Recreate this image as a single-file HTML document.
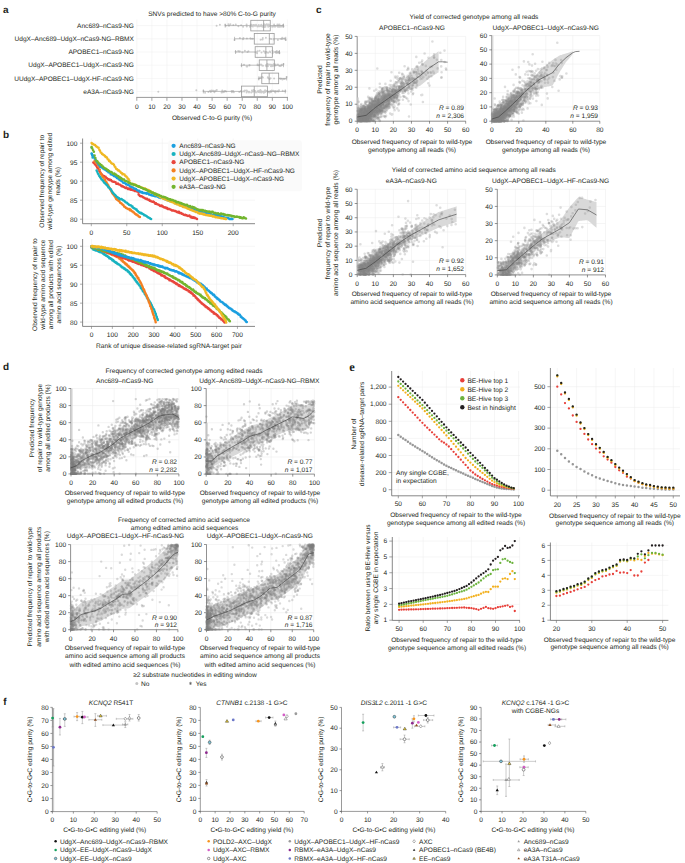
<!DOCTYPE html>
<html><head><meta charset="utf-8"><style>
html,body{margin:0;padding:0;background:#fff;}
svg{display:block;}
</style></head><body>
<svg width="685" height="863" viewBox="0 0 685 863">
<rect width="685" height="863" fill="#fff"/>
<g font-family="'Liberation Sans', sans-serif" font-size="6.6" fill="#231f20" text-rendering="geometricPrecision">
<text x="3.00" y="13.20" font-weight="bold" font-size="10">a</text>
<line x1="136.80" y1="19.40" x2="136.80" y2="97.40" stroke="#eeeeee" stroke-width="0.5"/>
<line x1="151.86" y1="19.40" x2="151.86" y2="97.40" stroke="#eeeeee" stroke-width="0.5"/>
<line x1="166.92" y1="19.40" x2="166.92" y2="97.40" stroke="#eeeeee" stroke-width="0.5"/>
<line x1="181.98" y1="19.40" x2="181.98" y2="97.40" stroke="#eeeeee" stroke-width="0.5"/>
<line x1="197.04" y1="19.40" x2="197.04" y2="97.40" stroke="#eeeeee" stroke-width="0.5"/>
<line x1="212.10" y1="19.40" x2="212.10" y2="97.40" stroke="#eeeeee" stroke-width="0.5"/>
<line x1="227.16" y1="19.40" x2="227.16" y2="97.40" stroke="#eeeeee" stroke-width="0.5"/>
<line x1="242.22" y1="19.40" x2="242.22" y2="97.40" stroke="#eeeeee" stroke-width="0.5"/>
<line x1="257.28" y1="19.40" x2="257.28" y2="97.40" stroke="#eeeeee" stroke-width="0.5"/>
<line x1="272.34" y1="19.40" x2="272.34" y2="97.40" stroke="#eeeeee" stroke-width="0.5"/>
<line x1="287.40" y1="19.40" x2="287.40" y2="97.40" stroke="#eeeeee" stroke-width="0.5"/>
<line x1="136.80" y1="25.60" x2="288.00" y2="25.60" stroke="#eeeeee" stroke-width="0.5"/>
<line x1="136.80" y1="38.80" x2="288.00" y2="38.80" stroke="#eeeeee" stroke-width="0.5"/>
<line x1="136.80" y1="52.00" x2="288.00" y2="52.00" stroke="#eeeeee" stroke-width="0.5"/>
<line x1="136.80" y1="65.20" x2="288.00" y2="65.20" stroke="#eeeeee" stroke-width="0.5"/>
<line x1="136.80" y1="78.40" x2="288.00" y2="78.40" stroke="#eeeeee" stroke-width="0.5"/>
<line x1="136.80" y1="91.40" x2="288.00" y2="91.40" stroke="#eeeeee" stroke-width="0.5"/>
<line x1="136.30" y1="97.40" x2="288.00" y2="97.40" stroke="#9a9a9a" stroke-width="1.0"/>
<line x1="136.80" y1="97.40" x2="136.80" y2="100.80" stroke="#9a9a9a" stroke-width="0.9"/>
<text x="136.80" y="108.64" text-anchor="middle">0</text>
<line x1="151.86" y1="97.40" x2="151.86" y2="100.80" stroke="#9a9a9a" stroke-width="0.9"/>
<text x="151.86" y="108.64" text-anchor="middle">10</text>
<line x1="166.92" y1="97.40" x2="166.92" y2="100.80" stroke="#9a9a9a" stroke-width="0.9"/>
<text x="166.92" y="108.64" text-anchor="middle">20</text>
<line x1="181.98" y1="97.40" x2="181.98" y2="100.80" stroke="#9a9a9a" stroke-width="0.9"/>
<text x="181.98" y="108.64" text-anchor="middle">30</text>
<line x1="197.04" y1="97.40" x2="197.04" y2="100.80" stroke="#9a9a9a" stroke-width="0.9"/>
<text x="197.04" y="108.64" text-anchor="middle">40</text>
<line x1="212.10" y1="97.40" x2="212.10" y2="100.80" stroke="#9a9a9a" stroke-width="0.9"/>
<text x="212.10" y="108.64" text-anchor="middle">50</text>
<line x1="227.16" y1="97.40" x2="227.16" y2="100.80" stroke="#9a9a9a" stroke-width="0.9"/>
<text x="227.16" y="108.64" text-anchor="middle">60</text>
<line x1="242.22" y1="97.40" x2="242.22" y2="100.80" stroke="#9a9a9a" stroke-width="0.9"/>
<text x="242.22" y="108.64" text-anchor="middle">70</text>
<line x1="257.28" y1="97.40" x2="257.28" y2="100.80" stroke="#9a9a9a" stroke-width="0.9"/>
<text x="257.28" y="108.64" text-anchor="middle">80</text>
<line x1="272.34" y1="97.40" x2="272.34" y2="100.80" stroke="#9a9a9a" stroke-width="0.9"/>
<text x="272.34" y="108.64" text-anchor="middle">90</text>
<line x1="287.40" y1="97.40" x2="287.40" y2="100.80" stroke="#9a9a9a" stroke-width="0.9"/>
<text x="287.40" y="108.64" text-anchor="middle">100</text>
<text x="212.00" y="15.84" text-anchor="middle">SNVs predicted to have &gt;80% C-to-G purity</text>
<text x="212.00" y="120.04" text-anchor="middle">Observed C-to-G purity (%)</text>
<text x="133.90" y="27.83" text-anchor="end" font-size="6.55">Anc689–nCas9-NG</text>
<text x="133.90" y="41.03" text-anchor="end" font-size="6.55">UdgX–Anc689–UdgX–nCas9-NG–RBMX</text>
<text x="133.90" y="54.23" text-anchor="end" font-size="6.55">APOBEC1–nCas9-NG</text>
<text x="133.90" y="67.43" text-anchor="end" font-size="6.55">UdgX–APOBEC1–UdgX–nCas9-NG</text>
<text x="133.90" y="80.63" text-anchor="end" font-size="6.55">UUdgX–APOBEC1–UdgX-HF-nCas9-NG</text>
<text x="133.90" y="93.63" text-anchor="end" font-size="6.55">eA3A–nCas9-NG</text>
<path d="M264.8 24.9h0M256.7 25.6h0M252.6 25.9h0M257.5 26.5h0M261.3 24.7h0M264.1 24.3h0M267.9 24.5h0M263.8 25.6h0M261.7 25.9h0M254.7 25.8h0M283.1 25.1h0M264.3 26.9h0M282.1 25.8h0M251.6 25.3h0M267.9 25.7h0M259.0 26.2h0M277.3 26.0h0M233.3 25.0h0M246.6 24.5h0M265.4 25.3h0M280.1 25.9h0M266.1 24.8h0M259.5 26.3h0M274.1 24.5h0M253.3 25.0h0M264.0 26.4h0M256.0 24.8h0M251.8 26.0h0M229.0 25.7h0M243.1 26.7h0M258.8 25.0h0M235.8 24.5h0M261.2 26.2h0M238.4 26.3h0M278.0 26.7h0M272.1 26.7h0M266.5 24.3h0M254.0 24.9h0M274.8 25.9h0M279.9 26.8h0M278.5 26.8h0M274.9 25.7h0M268.2 26.7h0M269.5 26.0h0M241.1 25.3h0M269.3 25.6h0M262.0 25.9h0M255.4 25.7h0M277.8 26.7h0M262.8 26.7h0M261.0 25.3h0M275.0 26.8h0M278.5 24.8h0M268.9 24.6h0M250.7 24.7h0M253.5 25.6h0M279.5 24.4h0M265.5 26.8h0M282.5 26.5h0M228.4 24.3h0M251.3 24.8h0M255.6 25.2h0M277.4 24.6h0M246.8 26.4h0M256.2 25.2h0M250.0 26.7h0M225.7 25.8h0M273.3 26.6h0M275.4 26.5h0M280.1 26.7h0M228.7 25.5h0M253.2 25.7h0M252.9 26.4h0M264.7 25.0h0M225.5 25.6h0M269.6 25.9h0M230.4 24.3h0M265.3 25.8h0M262.1 25.4h0M281.5 26.4h0M225.2 25.1h0M283.5 26.6h0M216.6 25.8h0M219.9 24.8h0" stroke="#8a8a8a" stroke-width="2.0" fill="none" stroke-linecap="round" stroke-opacity="0.42"/>
<line x1="225.20" y1="25.60" x2="250.80" y2="25.60" stroke="#999999" stroke-width="0.6"/>
<line x1="270.23" y1="25.60" x2="283.48" y2="25.60" stroke="#999999" stroke-width="0.6"/>
<line x1="225.20" y1="23.60" x2="225.20" y2="27.60" stroke="#999999" stroke-width="0.6"/>
<line x1="283.48" y1="23.60" x2="283.48" y2="27.60" stroke="#999999" stroke-width="0.6"/>
<rect x="250.80" y="20.30" width="19.43" height="10.60" fill="none" stroke="#999999" stroke-width="0.8"/>
<line x1="263.61" y1="20.30" x2="263.61" y2="30.90" stroke="#999999" stroke-width="0.8"/>
<path d="M281.2 39.0h0M262.6 39.4h0M252.7 38.8h0M273.7 39.5h0M273.6 39.0h0M250.9 38.7h0M246.9 38.4h0M265.9 37.7h0M284.1 38.5h0M282.2 37.7h0M277.9 40.1h0M243.4 38.0h0M262.4 39.6h0M260.6 39.8h0M243.0 39.3h0M282.0 39.0h0M262.8 37.9h0M270.1 38.7h0M284.6 38.4h0M239.9 38.1h0M271.3 39.0h0M250.4 38.3h0M234.5 39.9h0M285.7 39.9h0" stroke="#8a8a8a" stroke-width="2.0" fill="none" stroke-linecap="round" stroke-opacity="0.42"/>
<line x1="234.54" y1="38.80" x2="254.27" y2="38.80" stroke="#999999" stroke-width="0.6"/>
<line x1="274.15" y1="38.80" x2="285.74" y2="38.80" stroke="#999999" stroke-width="0.6"/>
<line x1="234.54" y1="36.80" x2="234.54" y2="40.80" stroke="#999999" stroke-width="0.6"/>
<line x1="285.74" y1="36.80" x2="285.74" y2="40.80" stroke="#999999" stroke-width="0.6"/>
<rect x="254.27" y="33.50" width="19.88" height="10.60" fill="none" stroke="#999999" stroke-width="0.8"/>
<line x1="269.33" y1="33.50" x2="269.33" y2="44.10" stroke="#999999" stroke-width="0.8"/>
<path d="M257.1 53.3h0M263.7 51.2h0M239.7 51.3h0M269.8 51.4h0M265.8 52.7h0M256.9 51.9h0M244.9 50.8h0M265.8 52.0h0M248.4 51.3h0M268.1 52.8h0M264.1 51.5h0M272.5 50.8h0M270.2 52.2h0M276.2 52.9h0M279.1 51.7h0M278.4 52.6h0M266.4 52.0h0M247.5 52.1h0M272.6 53.2h0M277.5 52.8h0M259.6 50.8h0M242.4 52.5h0M275.5 51.9h0M279.4 53.2h0M257.6 51.3h0M276.2 51.4h0M276.8 50.9h0M276.2 51.8h0M238.2 51.0h0M255.6 52.3h0M268.0 52.8h0M261.5 52.5h0M277.2 52.7h0M239.3 51.6h0M265.2 52.9h0M235.6 51.8h0M279.4 52.8h0" stroke="#8a8a8a" stroke-width="2.0" fill="none" stroke-linecap="round" stroke-opacity="0.42"/>
<line x1="235.59" y1="52.00" x2="255.17" y2="52.00" stroke="#999999" stroke-width="0.6"/>
<line x1="272.34" y1="52.00" x2="279.42" y2="52.00" stroke="#999999" stroke-width="0.6"/>
<line x1="235.59" y1="50.00" x2="235.59" y2="54.00" stroke="#999999" stroke-width="0.6"/>
<line x1="279.42" y1="50.00" x2="279.42" y2="54.00" stroke="#999999" stroke-width="0.6"/>
<rect x="255.17" y="46.70" width="17.17" height="10.60" fill="none" stroke="#999999" stroke-width="0.8"/>
<line x1="265.86" y1="46.70" x2="265.86" y2="57.30" stroke="#999999" stroke-width="0.8"/>
<path d="M244.0 64.7h0M259.5 65.2h0M266.1 66.3h0M259.7 65.0h0M277.9 64.5h0M249.5 64.9h0M266.4 66.3h0M271.3 66.3h0M272.9 66.1h0M270.9 66.3h0M268.6 64.5h0M267.3 64.1h0M273.6 64.5h0M281.6 64.7h0M275.6 64.4h0M262.1 65.5h0M257.6 65.0h0M280.8 66.0h0M257.6 64.4h0M263.0 65.7h0M261.0 64.5h0M275.6 65.4h0M271.6 64.8h0M274.0 64.0h0M267.3 64.5h0M273.0 65.6h0M265.8 65.2h0M258.2 65.2h0M270.0 64.4h0M274.5 65.4h0M247.3 66.5h0M279.4 66.0h0M249.5 65.4h0M246.6 66.4h0M267.9 66.2h0M241.5 65.4h0M283.5 64.0h0" stroke="#8a8a8a" stroke-width="2.0" fill="none" stroke-linecap="round" stroke-opacity="0.42"/>
<line x1="241.47" y1="65.20" x2="259.24" y2="65.20" stroke="#999999" stroke-width="0.6"/>
<line x1="274.30" y1="65.20" x2="283.48" y2="65.20" stroke="#999999" stroke-width="0.6"/>
<line x1="241.47" y1="63.20" x2="241.47" y2="67.20" stroke="#999999" stroke-width="0.6"/>
<line x1="283.48" y1="63.20" x2="283.48" y2="67.20" stroke="#999999" stroke-width="0.6"/>
<rect x="259.24" y="59.90" width="15.06" height="10.60" fill="none" stroke="#999999" stroke-width="0.8"/>
<line x1="266.92" y1="59.90" x2="266.92" y2="70.50" stroke="#999999" stroke-width="0.8"/>
<path d="M262.9 77.4h0M268.1 77.9h0M280.0 78.4h0M284.8 78.9h0M283.7 79.1h0M260.2 77.4h0M267.8 77.2h0M274.1 78.4h0M269.5 79.2h0M262.0 77.1h0M281.2 78.8h0M280.4 78.9h0M270.6 78.3h0M282.4 79.5h0M258.8 78.8h0M286.6 77.1h0" stroke="#8a8a8a" stroke-width="2.0" fill="none" stroke-linecap="round" stroke-opacity="0.42"/>
<line x1="258.79" y1="78.40" x2="261.80" y2="78.40" stroke="#999999" stroke-width="0.6"/>
<line x1="278.67" y1="78.40" x2="286.65" y2="78.40" stroke="#999999" stroke-width="0.6"/>
<line x1="258.79" y1="76.40" x2="258.79" y2="80.40" stroke="#999999" stroke-width="0.6"/>
<line x1="286.65" y1="76.40" x2="286.65" y2="80.40" stroke="#999999" stroke-width="0.6"/>
<rect x="261.80" y="73.10" width="16.87" height="10.60" fill="none" stroke="#999999" stroke-width="0.8"/>
<line x1="269.18" y1="73.10" x2="269.18" y2="83.70" stroke="#999999" stroke-width="0.8"/>
<path d="M263.7 92.7h0M279.0 90.3h0M225.4 90.9h0M256.0 92.6h0M216.8 90.1h0M270.9 92.2h0M214.4 92.3h0M275.0 91.2h0M273.7 90.8h0M261.3 92.2h0M260.5 91.3h0M211.8 90.4h0M246.6 92.5h0M251.2 92.4h0M244.3 91.4h0M233.8 92.3h0M247.5 91.2h0M265.2 91.9h0M224.5 91.1h0M263.1 91.4h0M265.4 90.6h0M221.6 92.6h0M266.7 90.9h0M246.7 90.4h0M251.9 90.5h0M260.4 90.1h0M258.1 92.0h0M271.1 91.6h0M231.9 92.2h0M226.1 91.4h0M260.4 92.2h0M275.0 91.9h0M268.4 92.1h0M270.8 91.2h0M249.2 91.8h0M264.9 90.6h0M255.2 90.9h0M244.9 90.5h0M243.4 91.2h0M213.3 90.7h0M244.3 91.2h0M269.3 92.6h0M270.5 90.9h0M205.1 92.7h0M270.8 91.8h0M231.6 91.1h0M255.7 92.3h0M261.1 91.7h0M210.1 90.8h0M267.7 92.2h0M277.4 91.2h0M261.1 91.0h0M241.0 91.0h0M241.6 91.9h0M282.7 90.8h0M223.1 92.2h0M233.1 90.9h0M261.4 91.5h0M278.4 91.4h0M259.5 92.3h0M261.5 92.4h0M271.7 90.6h0M247.2 91.6h0M264.3 92.4h0M214.3 91.3h0M249.0 92.5h0M215.7 90.8h0M253.0 91.7h0M275.0 91.9h0M259.0 90.7h0M253.6 90.1h0M257.7 91.2h0M275.4 92.5h0M275.6 91.0h0M208.4 92.1h0M265.0 90.6h0M232.6 91.0h0M222.3 90.5h0M268.6 92.0h0M239.3 91.9h0M210.8 91.9h0M271.9 90.8h0M224.0 91.9h0M278.6 90.7h0M267.5 91.2h0M203.4 91.1h0M285.3 91.0h0M196.3 90.2h0M158.3 91.7h0" stroke="#8a8a8a" stroke-width="2.0" fill="none" stroke-linecap="round" stroke-opacity="0.42"/>
<line x1="203.37" y1="91.40" x2="241.47" y2="91.40" stroke="#999999" stroke-width="0.6"/>
<line x1="267.37" y1="91.40" x2="285.29" y2="91.40" stroke="#999999" stroke-width="0.6"/>
<line x1="203.37" y1="89.40" x2="203.37" y2="93.40" stroke="#999999" stroke-width="0.6"/>
<line x1="285.29" y1="89.40" x2="285.29" y2="93.40" stroke="#999999" stroke-width="0.6"/>
<rect x="241.47" y="86.10" width="25.90" height="10.60" fill="none" stroke="#999999" stroke-width="0.8"/>
<line x1="254.27" y1="86.10" x2="254.27" y2="96.70" stroke="#999999" stroke-width="0.8"/>
<text x="3.00" y="137.50" font-weight="bold" font-size="10">b</text>
<line x1="91.30" y1="138.50" x2="91.30" y2="223.70" stroke="#ececec" stroke-width="0.5"/>
<line x1="126.78" y1="138.50" x2="126.78" y2="223.70" stroke="#ececec" stroke-width="0.5"/>
<line x1="162.25" y1="138.50" x2="162.25" y2="223.70" stroke="#ececec" stroke-width="0.5"/>
<line x1="197.72" y1="138.50" x2="197.72" y2="223.70" stroke="#ececec" stroke-width="0.5"/>
<line x1="233.20" y1="138.50" x2="233.20" y2="223.70" stroke="#ececec" stroke-width="0.5"/>
<line x1="82.60" y1="219.20" x2="255.00" y2="219.20" stroke="#ececec" stroke-width="0.5"/>
<line x1="82.60" y1="200.20" x2="255.00" y2="200.20" stroke="#ececec" stroke-width="0.5"/>
<line x1="82.60" y1="181.20" x2="255.00" y2="181.20" stroke="#ececec" stroke-width="0.5"/>
<line x1="82.60" y1="162.20" x2="255.00" y2="162.20" stroke="#ececec" stroke-width="0.5"/>
<line x1="82.60" y1="143.20" x2="255.00" y2="143.20" stroke="#ececec" stroke-width="0.5"/>
<line x1="82.60" y1="138.50" x2="82.60" y2="223.70" stroke="#555" stroke-width="0.7"/>
<line x1="82.60" y1="223.70" x2="255.00" y2="223.70" stroke="#555" stroke-width="0.7"/>
<line x1="91.30" y1="223.70" x2="91.30" y2="226.20" stroke="#777" stroke-width="0.6"/>
<text x="91.30" y="234.64" text-anchor="middle">0</text>
<line x1="126.78" y1="223.70" x2="126.78" y2="226.20" stroke="#777" stroke-width="0.6"/>
<text x="126.78" y="234.64" text-anchor="middle">50</text>
<line x1="162.25" y1="223.70" x2="162.25" y2="226.20" stroke="#777" stroke-width="0.6"/>
<text x="162.25" y="234.64" text-anchor="middle">100</text>
<line x1="197.72" y1="223.70" x2="197.72" y2="226.20" stroke="#777" stroke-width="0.6"/>
<text x="197.72" y="234.64" text-anchor="middle">150</text>
<line x1="233.20" y1="223.70" x2="233.20" y2="226.20" stroke="#777" stroke-width="0.6"/>
<text x="233.20" y="234.64" text-anchor="middle">200</text>
<line x1="80.00" y1="219.20" x2="82.60" y2="219.20" stroke="#777" stroke-width="0.6"/>
<text x="77.40" y="221.74" text-anchor="end">80</text>
<line x1="80.00" y1="200.20" x2="82.60" y2="200.20" stroke="#777" stroke-width="0.6"/>
<text x="77.40" y="202.74" text-anchor="end">85</text>
<line x1="80.00" y1="181.20" x2="82.60" y2="181.20" stroke="#777" stroke-width="0.6"/>
<text x="77.40" y="183.74" text-anchor="end">90</text>
<line x1="80.00" y1="162.20" x2="82.60" y2="162.20" stroke="#777" stroke-width="0.6"/>
<text x="77.40" y="164.74" text-anchor="end">95</text>
<line x1="80.00" y1="143.20" x2="82.60" y2="143.20" stroke="#777" stroke-width="0.6"/>
<text x="77.40" y="145.74" text-anchor="end">100</text>
<path d="M93.3 162.4h0M94.1 162.9h0M94.8 164.3h0M95.6 164.8h0M96.4 166.0h0M97.1 167.4h0M97.9 168.3h0M98.7 169.4h0M99.4 171.3h0M100.2 172.2h0M101.0 173.4h0M101.7 174.3h0M102.5 175.2h0M103.3 175.7h0M104.0 175.9h0M104.8 176.5h0M105.6 176.7h0M106.3 178.1h0M107.1 178.3h0M107.9 179.2h0M108.7 179.2h0M109.4 179.9h0M110.2 179.8h0M111.0 180.1h0M111.7 180.9h0M112.5 181.5h0M113.3 181.8h0M114.0 181.8h0M114.8 182.0h0M115.6 182.2h0M116.3 183.7h0M117.1 183.8h0M117.9 183.6h0M118.6 184.2h0M119.4 184.5h0M120.2 184.7h0M120.9 185.6h0M121.7 186.2h0M122.5 186.1h0M123.3 186.8h0M124.0 186.9h0M124.8 187.4h0M125.6 187.9h0M126.3 187.6h0M127.1 188.2h0M127.9 188.9h0M128.6 188.6h0M129.4 189.3h0M130.2 188.5h0M130.9 189.8h0M131.7 189.6h0M132.5 189.9h0M133.2 190.3h0M134.0 190.3h0M134.8 190.9h0M135.5 191.0h0M136.3 191.0h0M137.1 191.5h0M137.9 191.5h0M138.6 192.4h0" stroke="#e8453c" stroke-width="2.5" fill="none" stroke-linecap="round"/>
<path d="M138.6 194.6h0M139.3 195.2h0M140.0 195.9h0M140.7 196.2h0M141.4 196.3h0M142.1 196.5h0M142.8 197.1h0M143.5 197.6h0M144.2 197.8h0M144.9 198.3h0M145.6 198.4h0M146.3 199.1h0M147.0 198.7h0M147.7 199.6h0M148.4 199.8h0M149.1 199.7h0M149.7 200.7h0M150.4 200.7h0M151.1 201.3h0M151.8 201.5h0M152.5 201.8h0M153.2 201.6h0M153.9 202.1h0M154.6 202.8h0M155.3 203.8h0M156.0 203.2h0M156.7 203.9h0M157.4 204.2h0M158.1 204.6h0M158.8 204.8h0M159.5 205.2h0M160.2 206.0h0M160.9 205.8h0M161.6 205.6h0M162.3 206.5h0M163.0 206.5h0M163.6 207.0h0M164.3 207.4h0M165.0 207.6h0M165.7 207.5h0M166.4 208.2h0M167.1 207.9h0M167.8 208.9h0M168.5 209.1h0M169.2 209.1h0M169.9 209.2h0M170.6 209.4h0M171.3 210.0h0M172.0 210.5h0M172.7 210.5h0M173.4 210.5h0M174.1 210.8h0M174.8 210.9h0M175.5 211.1h0M176.2 211.6h0M176.9 212.0h0M177.6 211.9h0M178.2 212.4h0M178.9 211.8h0M179.6 213.0h0M180.3 213.1h0M181.0 213.1h0M181.7 213.7h0M182.4 213.7h0M183.1 214.3h0M183.8 214.7h0M184.5 215.0h0M185.2 214.8h0M185.9 215.3h0M186.6 215.2h0M187.3 215.7h0M188.0 216.1h0M188.7 215.8h0M189.4 215.5h0M190.1 216.4h0M190.8 217.2h0M191.5 216.8h0M192.1 217.7h0M192.8 217.7h0M193.5 217.3h0M194.2 218.1h0M194.9 217.8h0M195.6 218.3h0M196.3 218.5h0M197.0 218.9h0" stroke="#e8453c" stroke-width="2.5" fill="none" stroke-linecap="round"/>
<path d="M94.6 161.0h0M95.2 162.1h0M95.9 162.7h0M96.5 163.0h0M97.2 163.9h0M97.8 164.6h0M98.5 166.0h0M99.2 166.9h0M99.8 169.8h0M100.5 173.1h0M101.1 174.3h0M101.8 175.4h0M102.4 176.4h0M103.1 177.4h0M103.8 177.8h0M104.4 179.8h0M105.1 180.0h0M105.7 181.6h0M106.4 182.3h0M107.0 183.4h0M107.7 184.5h0M108.4 185.4h0M109.0 186.9h0M109.7 188.1h0M110.3 189.5h0M111.0 190.4h0M111.6 191.8h0M112.3 193.3h0M113.0 194.1h0M113.6 194.8h0M114.3 195.8h0M114.9 196.5h0M115.6 197.7h0M116.2 198.9h0M116.9 199.5h0M117.6 200.0h0M118.2 200.5h0M118.9 201.0h0M119.5 201.5h0M120.2 202.7h0M120.8 202.9h0M121.5 203.4h0M122.2 204.2h0M122.8 204.8h0M123.5 205.3h0M124.1 206.6h0M124.8 206.7h0M125.4 207.2h0M126.1 207.9h0M126.8 208.3h0M127.4 208.6h0M128.1 208.9h0M128.7 209.3h0M129.4 209.0h0M130.0 210.2h0M130.7 209.8h0M131.4 210.7h0M132.0 211.3h0M132.7 211.5h0M133.3 212.2h0M134.0 212.5h0M134.6 213.3h0M135.3 213.9h0M136.0 214.6h0M136.6 214.6h0M137.3 215.2h0M137.9 215.5h0M138.6 216.3h0M139.2 216.7h0M139.9 216.9h0" stroke="#f47f20" stroke-width="2.5" fill="none" stroke-linecap="round"/>
<path d="M91.6 147.7h0M91.9 154.0h0M92.2 155.6h0M92.6 157.6h0" stroke="#17b2bf" stroke-width="2.5" fill="none" stroke-linecap="round"/>
<path d="M96.6 170.5h0M97.2 171.8h0M97.9 173.4h0M98.6 174.4h0M99.3 176.0h0M100.0 177.0h0M100.7 178.1h0M101.4 179.2h0M102.1 179.8h0M102.8 180.6h0M103.5 181.6h0M104.1 182.4h0M104.8 182.9h0M105.5 183.7h0M106.2 184.4h0M106.9 185.0h0M107.6 186.1h0M108.3 187.2h0M109.0 187.4h0M109.7 188.4h0M110.4 189.0h0M111.1 189.4h0M111.7 191.1h0M112.4 191.9h0M113.1 192.9h0M113.8 193.8h0M114.5 194.6h0M115.2 194.9h0M115.9 196.1h0M116.6 196.7h0M117.3 197.1h0M118.0 197.7h0M118.7 197.9h0M119.3 199.1h0M120.0 198.9h0M120.7 199.2h0M121.4 198.9h0M122.1 199.5h0M122.8 199.9h0M123.5 200.4h0M124.2 200.7h0M124.9 201.4h0M125.6 202.2h0M126.2 202.4h0M126.9 202.8h0M127.6 203.5h0M128.3 203.9h0M129.0 204.7h0M129.7 205.1h0M130.4 205.2h0M131.1 205.5h0M131.8 206.5h0M132.5 206.5h0M133.2 207.7h0M133.8 208.1h0M134.5 208.4h0M135.2 208.7h0M135.9 209.6h0M136.6 209.6h0M137.3 210.7h0M138.0 211.3h0M138.7 212.1h0M139.4 212.4h0M140.1 213.1h0M140.8 212.8h0M141.4 213.6h0M142.1 213.6h0M142.8 214.1h0M143.5 214.3h0M144.2 215.3h0M144.9 215.2h0M145.6 215.4h0M146.3 216.1h0M147.0 216.4h0M147.7 217.1h0M148.3 217.5h0M149.0 217.7h0M149.7 218.1h0M150.4 218.7h0M151.1 219.1h0" stroke="#17b2bf" stroke-width="2.5" fill="none" stroke-linecap="round"/>
<path d="M91.6 153.6h0M92.3 155.0h0M93.1 155.5h0M93.9 156.9h0M94.6 158.4h0M95.4 159.4h0M96.2 160.7h0M96.9 161.8h0M97.7 163.0h0M98.5 164.4h0M99.2 164.9h0M100.0 166.6h0M100.8 167.1h0M101.5 167.3h0M102.3 167.7h0M103.1 168.5h0M103.8 168.8h0M104.6 169.4h0M105.4 169.1h0M106.1 170.2h0M106.9 171.0h0M107.7 170.7h0M108.4 172.3h0M109.2 172.5h0M110.0 172.7h0M110.7 174.2h0M111.5 174.4h0M112.3 174.8h0M113.0 175.0h0M113.8 175.9h0M114.6 175.7h0M115.3 176.5h0M116.1 176.9h0M116.9 177.9h0M117.6 177.9h0M118.4 178.8h0M119.2 179.4h0M119.9 180.0h0M120.7 180.0h0M121.4 181.1h0M122.2 181.3h0M123.0 182.4h0M123.7 182.7h0M124.5 183.0h0M125.3 183.2h0M126.0 184.3h0M126.8 184.3h0M127.6 184.8h0M128.3 184.9h0M129.1 185.3h0M129.9 186.3h0M130.6 186.5h0M131.4 187.0h0M132.2 187.2h0M132.9 187.6h0M133.7 188.6h0M134.5 188.6h0M135.2 188.7h0M136.0 189.1h0M136.8 190.0h0M137.5 190.3h0M138.3 190.7h0M139.1 190.8h0M139.8 191.7h0M140.6 191.7h0M141.4 192.6h0M142.1 191.9h0M142.9 192.9h0M143.7 192.9h0M144.4 193.0h0M145.2 193.2h0M146.0 193.0h0M146.7 193.7h0M147.5 193.3h0M148.3 193.6h0M149.0 194.6h0M149.8 194.5h0M150.6 194.9h0M151.3 195.1h0M152.1 195.4h0M152.8 195.4h0M153.6 195.7h0M154.4 195.6h0M155.1 196.2h0M155.9 196.0h0M156.7 196.2h0M157.4 196.6h0M158.2 196.9h0M159.0 197.4h0M159.7 197.0h0M160.5 197.9h0M161.3 197.7h0M162.0 197.7h0M162.8 197.8h0M163.6 198.5h0M164.3 199.0h0M165.1 198.6h0M165.9 199.5h0M166.6 199.1h0M167.4 199.9h0M168.2 200.4h0M168.9 200.7h0M169.7 200.9h0M170.5 200.9h0M171.2 201.2h0M172.0 201.2h0M172.8 201.7h0M173.5 201.7h0M174.3 202.3h0M175.1 202.9h0M175.8 203.2h0M176.6 203.1h0M177.4 203.9h0M178.1 204.1h0M178.9 204.2h0M179.7 204.2h0M180.4 205.3h0M181.2 204.8h0M181.9 205.8h0M182.7 206.2h0M183.5 205.7h0M184.2 205.9h0M185.0 206.1h0M185.8 206.6h0M186.5 206.5h0M187.3 207.0h0M188.1 208.0h0M188.8 207.9h0M189.6 208.0h0M190.4 208.5h0M191.1 208.7h0M191.9 209.0h0M192.7 208.9h0M193.4 209.2h0M194.2 209.8h0M195.0 210.2h0M195.7 210.6h0M196.5 210.6h0M197.3 210.7h0M198.0 211.2h0M198.8 211.5h0M199.6 211.5h0M200.3 211.4h0M201.1 211.8h0M201.9 211.9h0M202.6 212.8h0M203.4 212.5h0M204.2 212.9h0M204.9 213.0h0M205.7 212.9h0M206.5 213.0h0M207.2 213.3h0M208.0 213.5h0M208.8 213.5h0M209.5 213.6h0M210.3 213.6h0M211.0 214.2h0M211.8 214.6h0M212.6 214.7h0M213.3 214.4h0M214.1 214.7h0M214.9 214.9h0M215.6 214.8h0M216.4 214.9h0M217.2 215.7h0M217.9 215.0h0M218.7 216.1h0M219.5 216.2h0M220.2 216.3h0M221.0 216.3h0M221.8 216.9h0M222.5 216.4h0M223.3 217.0h0M224.1 217.2h0M224.8 217.4h0M225.6 217.8h0M226.4 218.1h0M227.1 217.9h0M227.9 217.9h0M228.7 218.3h0M229.4 218.9h0M230.2 218.9h0M231.0 218.7h0M231.7 218.9h0M232.5 219.1h0" stroke="#1a9fe0" stroke-width="2.5" fill="none" stroke-linecap="round"/>
<path d="M91.6 143.1h0M92.3 143.9h0M93.0 143.9h0M93.7 144.4h0M94.4 144.8h0M95.1 145.1h0M95.8 146.0h0M96.5 146.6h0M97.2 146.9h0M97.9 147.6h0M98.6 147.7h0M99.3 149.7h0M100.0 150.8h0M100.7 152.4h0M101.4 152.8h0M102.1 153.9h0M102.8 154.2h0M103.5 154.9h0M104.2 155.3h0M104.9 156.0h0M105.6 156.9h0M106.3 156.9h0M107.0 157.8h0M107.7 159.3h0M108.4 159.4h0M109.1 160.9h0M109.8 160.9h0M110.5 162.1h0M111.2 163.0h0M111.9 163.4h0M112.6 163.7h0M113.3 164.1h0M114.0 164.9h0M114.7 166.6h0M115.4 167.3h0M116.1 168.7h0M116.8 169.0h0M117.5 169.7h0M118.2 170.4h0M118.9 170.4h0M119.6 171.2h0M120.3 171.8h0M121.0 172.7h0M121.7 173.0h0M122.4 174.2h0M123.1 173.9h0M123.8 174.3h0M124.5 174.5h0M125.2 175.8h0M125.9 176.3h0M126.6 176.8h0M127.3 177.8h0M128.0 178.7h0M128.7 179.3h0M129.4 180.8h0" stroke="#f0b823" stroke-width="2.5" fill="none" stroke-linecap="round"/>
<path d="M131.7 184.1h0M132.4 184.1h0M133.1 184.0h0M133.9 184.9h0M134.6 184.5h0M135.3 185.1h0M136.0 185.1h0M136.7 185.8h0M137.4 186.1h0M138.1 186.3h0M138.8 186.3h0M139.5 186.7h0M140.2 187.1h0M140.9 187.3h0M141.6 187.6h0M142.3 187.8h0M143.0 188.1h0M143.7 188.4h0M144.4 188.6h0M145.1 188.5h0M145.8 189.8h0M146.5 189.2h0M147.2 190.0h0M147.9 190.2h0M148.6 190.1h0M149.3 191.0h0M150.1 191.0h0M150.8 191.9h0M151.5 191.9h0M152.2 192.7h0M152.9 192.7h0M153.6 193.1h0M154.3 193.6h0M155.0 194.4h0M155.7 194.3h0M156.4 194.7h0M157.1 194.8h0M157.8 195.7h0M158.5 195.8h0M159.2 196.2h0M159.9 196.9h0M160.6 197.3h0M161.3 197.5h0M162.0 197.4h0M162.7 198.4h0M163.4 198.6h0M164.1 198.3h0M164.8 199.2h0M165.5 199.0h0M166.2 199.3h0M167.0 200.3h0M167.7 199.9h0M168.4 200.4h0M169.1 200.5h0M169.8 201.3h0M170.5 200.8h0M171.2 201.7h0M171.9 202.0h0M172.6 202.1h0M173.3 202.6h0M174.0 202.6h0M174.7 203.5h0M175.4 202.9h0M176.1 203.6h0M176.8 204.3h0M177.5 204.3h0M178.2 204.6h0M178.9 204.6h0M179.6 205.6h0M180.3 205.2h0M181.0 205.7h0M181.7 206.0h0M182.4 206.2h0M183.1 207.1h0M183.9 206.6h0M184.6 207.3h0M185.3 207.4h0M186.0 207.3h0M186.7 208.0h0M187.4 208.6h0M188.1 208.8h0M188.8 208.6h0M189.5 209.3h0M190.2 209.8h0M190.9 209.8h0M191.6 210.2h0M192.3 210.2h0M193.0 210.7h0M193.7 210.9h0M194.4 211.2h0M195.1 211.4h0M195.8 212.0h0M196.5 212.1h0M197.2 212.0h0M197.9 212.7h0M198.6 213.3h0M199.3 213.0h0M200.0 213.7h0M200.8 213.6h0M201.5 213.6h0M202.2 213.9h0M202.9 213.7h0M203.6 214.5h0M204.3 214.1h0M205.0 214.8h0M205.7 215.0h0M206.4 215.1h0M207.1 215.3h0M207.8 215.0h0M208.5 215.5h0M209.2 215.3h0M209.9 215.8h0M210.6 215.7h0M211.3 215.6h0M212.0 215.9h0M212.7 216.5h0M213.4 216.1h0M214.1 216.5h0M214.8 216.7h0M215.5 217.2h0M216.2 217.0h0M217.0 217.3h0M217.7 217.4h0M218.4 217.4h0M219.1 217.8h0M219.8 217.8h0M220.5 217.9h0M221.2 218.2h0M221.9 218.2h0M222.6 218.3h0M223.3 218.5h0M224.0 218.8h0M224.7 218.6h0M225.4 219.1h0M226.1 219.1h0" stroke="#f0b823" stroke-width="2.5" fill="none" stroke-linecap="round"/>
<path d="M91.6 147.0h0M92.3 148.6h0M93.1 150.3h0M93.9 151.7h0M94.6 155.4h0M95.4 157.9h0M96.1 160.5h0M96.9 161.1h0M97.6 161.6h0M98.4 162.7h0M99.2 163.5h0M99.9 164.0h0M100.7 164.7h0M101.4 165.1h0M102.2 166.2h0M102.9 166.5h0M103.7 167.5h0M104.4 168.0h0M105.2 168.5h0M106.0 168.8h0M106.7 169.3h0M107.5 170.3h0M108.2 170.3h0M109.0 171.0h0M109.7 171.6h0M110.5 172.1h0M111.3 171.9h0M112.0 172.6h0M112.8 173.6h0M113.5 173.7h0M114.3 173.5h0M115.0 174.5h0M115.8 174.6h0M116.6 175.2h0M117.3 175.8h0M118.1 176.1h0M118.8 177.3h0M119.6 176.9h0M120.3 178.2h0M121.1 178.0h0M121.9 178.8h0M122.6 179.5h0M123.4 179.5h0M124.1 179.5h0M124.9 180.8h0M125.6 181.1h0M126.4 181.1h0M127.2 181.4h0M127.9 181.8h0M128.7 182.7h0M129.4 182.8h0M130.2 182.9h0M130.9 183.8h0M131.7 184.3h0M132.5 183.9h0M133.2 184.4h0M134.0 184.7h0M134.7 184.7h0M135.5 185.1h0M136.2 185.6h0M137.0 185.9h0M137.7 186.1h0M138.5 186.8h0M139.3 186.5h0M140.0 186.9h0M140.8 187.4h0M141.5 187.7h0M142.3 188.0h0M143.0 188.4h0M143.8 189.0h0M144.6 189.0h0M145.3 189.2h0M146.1 189.5h0M146.8 189.9h0M147.6 190.5h0M148.3 190.9h0M149.1 191.4h0M149.9 191.6h0M150.6 191.5h0M151.4 192.4h0M152.1 192.7h0M152.9 192.5h0M153.6 193.1h0M154.4 194.2h0M155.2 193.4h0M155.9 193.8h0M156.7 194.9h0M157.4 194.4h0M158.2 195.3h0M158.9 195.1h0M159.7 195.5h0M160.5 195.8h0M161.2 196.1h0M162.0 196.7h0M162.7 197.0h0M163.5 196.8h0M164.2 197.2h0M165.0 197.3h0M165.8 197.6h0M166.5 198.3h0M167.3 198.3h0M168.0 198.9h0M168.8 198.9h0M169.5 199.5h0M170.3 199.3h0M171.0 200.1h0M171.8 200.0h0M172.6 199.9h0M173.3 200.3h0M174.1 200.7h0M174.8 201.0h0M175.6 201.0h0M176.3 202.2h0M177.1 202.2h0M177.9 202.0h0M178.6 202.2h0M179.4 202.5h0M180.1 203.2h0M180.9 203.0h0M181.6 203.3h0M182.4 203.8h0M183.2 203.9h0M183.9 204.2h0M184.7 204.5h0M185.4 205.0h0M186.2 204.9h0M186.9 204.7h0M187.7 205.4h0M188.5 205.9h0M189.2 206.5h0M190.0 206.0h0M190.7 206.7h0M191.5 207.1h0M192.2 206.7h0M193.0 207.7h0M193.8 207.3h0M194.5 207.6h0M195.3 208.3h0M196.0 208.5h0M196.8 209.1h0M197.5 209.2h0M198.3 209.4h0M199.0 209.7h0M199.8 210.2h0M200.6 209.9h0M201.3 209.9h0M202.1 210.4h0M202.8 210.0h0M203.6 210.5h0M204.3 210.7h0M205.1 210.8h0M205.9 211.2h0M206.6 211.3h0M207.4 211.5h0M208.1 211.6h0M208.9 211.7h0M209.6 211.6h0M210.4 212.1h0M211.2 212.4h0M211.9 211.7h0M212.7 211.8h0M213.4 212.6h0M214.2 213.2h0M214.9 213.1h0M215.7 213.1h0M216.5 213.5h0M217.2 213.5h0M218.0 213.3h0M218.7 213.7h0M219.5 214.0h0M220.2 214.3h0M221.0 213.6h0M221.8 214.1h0M222.5 214.1h0M223.3 213.9h0M224.0 214.7h0M224.8 214.6h0M225.5 214.7h0M226.3 215.2h0M227.1 215.3h0M227.8 214.9h0M228.6 215.4h0M229.3 215.3h0M230.1 215.6h0M230.8 215.4h0M231.6 216.3h0M232.3 216.0h0M233.1 216.3h0M233.9 216.2h0M234.6 217.0h0M235.4 216.7h0M236.1 216.8h0M236.9 216.5h0M237.6 216.7h0M238.4 217.0h0M239.2 217.1h0M239.9 217.7h0M240.7 217.3h0M241.4 217.8h0M242.2 218.2h0M242.9 218.3h0M243.7 217.3h0M244.5 217.8h0M245.2 218.3h0M246.0 218.4h0" stroke="#72b52e" stroke-width="2.5" fill="none" stroke-linecap="round"/>
<rect x="168" y="140.2" width="134" height="51" rx="3" fill="#ffffff" fill-opacity="0.8"/>
<rect x="168" y="140.2" width="134" height="51" rx="3" fill="#f7f7f7" fill-opacity="0.6"/>
<circle cx="173.60" cy="145.80" r="2.1" fill="#1a9fe0"/>
<text x="179.30" y="148.01" font-size="6.5">Anc689–nCas9-NG</text>
<circle cx="173.60" cy="154.00" r="2.1" fill="#17b2bf"/>
<text x="179.30" y="156.21" font-size="6.5">UdgX–Anc689–UdgX–nCas9–NG–RBMX</text>
<circle cx="173.60" cy="162.20" r="2.1" fill="#e8453c"/>
<text x="179.30" y="164.41" font-size="6.5">APOBEC1–nCas9-NG</text>
<circle cx="173.60" cy="170.40" r="2.1" fill="#f47f20"/>
<text x="179.30" y="172.61" font-size="6.5">UdgX–APOBEC1–UdgX–HF-nCas9-NG</text>
<circle cx="173.60" cy="178.60" r="2.1" fill="#f0b823"/>
<text x="179.30" y="180.81" font-size="6.5">UdgX–APOBEC1–UdgX–nCas9-NG</text>
<circle cx="173.60" cy="186.80" r="2.1" fill="#72b52e"/>
<text x="179.30" y="189.01" font-size="6.5">eA3A–Cas9-NG</text>
<text transform="translate(42.10,181.30) rotate(-90)" y="2.24" text-anchor="middle">Observed frequency of repair to</text>
<text transform="translate(50.00,181.30) rotate(-90)" y="2.24" text-anchor="middle">wild-type genotype among edited</text>
<text transform="translate(57.90,181.30) rotate(-90)" y="2.24" text-anchor="middle">reads (%)</text>
<line x1="91.50" y1="239.00" x2="91.50" y2="326.40" stroke="#ececec" stroke-width="0.5"/>
<line x1="112.35" y1="239.00" x2="112.35" y2="326.40" stroke="#ececec" stroke-width="0.5"/>
<line x1="133.20" y1="239.00" x2="133.20" y2="326.40" stroke="#ececec" stroke-width="0.5"/>
<line x1="154.05" y1="239.00" x2="154.05" y2="326.40" stroke="#ececec" stroke-width="0.5"/>
<line x1="174.90" y1="239.00" x2="174.90" y2="326.40" stroke="#ececec" stroke-width="0.5"/>
<line x1="195.75" y1="239.00" x2="195.75" y2="326.40" stroke="#ececec" stroke-width="0.5"/>
<line x1="216.60" y1="239.00" x2="216.60" y2="326.40" stroke="#ececec" stroke-width="0.5"/>
<line x1="237.45" y1="239.00" x2="237.45" y2="326.40" stroke="#ececec" stroke-width="0.5"/>
<line x1="82.60" y1="322.10" x2="255.00" y2="322.10" stroke="#ececec" stroke-width="0.5"/>
<line x1="82.60" y1="303.15" x2="255.00" y2="303.15" stroke="#ececec" stroke-width="0.5"/>
<line x1="82.60" y1="284.20" x2="255.00" y2="284.20" stroke="#ececec" stroke-width="0.5"/>
<line x1="82.60" y1="265.25" x2="255.00" y2="265.25" stroke="#ececec" stroke-width="0.5"/>
<line x1="82.60" y1="246.30" x2="255.00" y2="246.30" stroke="#ececec" stroke-width="0.5"/>
<line x1="82.60" y1="239.00" x2="82.60" y2="326.40" stroke="#555" stroke-width="0.7"/>
<line x1="82.60" y1="326.40" x2="255.00" y2="326.40" stroke="#555" stroke-width="0.7"/>
<line x1="91.50" y1="326.40" x2="91.50" y2="328.90" stroke="#777" stroke-width="0.6"/>
<text x="91.50" y="337.34" text-anchor="middle">0</text>
<line x1="112.35" y1="326.40" x2="112.35" y2="328.90" stroke="#777" stroke-width="0.6"/>
<text x="112.35" y="337.34" text-anchor="middle">100</text>
<line x1="133.20" y1="326.40" x2="133.20" y2="328.90" stroke="#777" stroke-width="0.6"/>
<text x="133.20" y="337.34" text-anchor="middle">200</text>
<line x1="154.05" y1="326.40" x2="154.05" y2="328.90" stroke="#777" stroke-width="0.6"/>
<text x="154.05" y="337.34" text-anchor="middle">300</text>
<line x1="174.90" y1="326.40" x2="174.90" y2="328.90" stroke="#777" stroke-width="0.6"/>
<text x="174.90" y="337.34" text-anchor="middle">400</text>
<line x1="195.75" y1="326.40" x2="195.75" y2="328.90" stroke="#777" stroke-width="0.6"/>
<text x="195.75" y="337.34" text-anchor="middle">500</text>
<line x1="216.60" y1="326.40" x2="216.60" y2="328.90" stroke="#777" stroke-width="0.6"/>
<text x="216.60" y="337.34" text-anchor="middle">600</text>
<line x1="237.45" y1="326.40" x2="237.45" y2="328.90" stroke="#777" stroke-width="0.6"/>
<text x="237.45" y="337.34" text-anchor="middle">700</text>
<line x1="80.00" y1="322.10" x2="82.60" y2="322.10" stroke="#777" stroke-width="0.6"/>
<text x="77.40" y="324.64" text-anchor="end">80</text>
<line x1="80.00" y1="303.15" x2="82.60" y2="303.15" stroke="#777" stroke-width="0.6"/>
<text x="77.40" y="305.69" text-anchor="end">85</text>
<line x1="80.00" y1="284.20" x2="82.60" y2="284.20" stroke="#777" stroke-width="0.6"/>
<text x="77.40" y="286.74" text-anchor="end">90</text>
<line x1="80.00" y1="265.25" x2="82.60" y2="265.25" stroke="#777" stroke-width="0.6"/>
<text x="77.40" y="267.79" text-anchor="end">95</text>
<line x1="80.00" y1="246.30" x2="82.60" y2="246.30" stroke="#777" stroke-width="0.6"/>
<text x="77.40" y="248.84" text-anchor="end">100</text>
<path d="M91.5 247.8h0M91.8 248.0h0M92.2 248.0h0M92.5 248.5h0M92.8 248.7h0M93.2 249.5h0M93.5 249.0h0M93.8 249.5h0M94.2 249.5h0M94.5 249.9h0M94.8 249.7h0M95.2 250.0h0M95.5 250.1h0M95.8 250.5h0M96.2 250.3h0M96.5 250.2h0M96.8 250.5h0M97.2 250.7h0M97.5 250.5h0M97.8 250.7h0M98.2 251.2h0M98.5 251.4h0M98.8 251.5h0M99.2 250.9h0M99.5 252.0h0M99.8 251.4h0M100.2 251.6h0M100.5 252.3h0M100.8 252.1h0M101.2 252.1h0M101.5 252.1h0M101.8 252.4h0M102.2 252.4h0M102.5 253.1h0M102.8 253.4h0M103.2 253.2h0M103.5 253.6h0M103.8 253.9h0M104.2 254.5h0M104.5 254.0h0M104.8 254.8h0M105.2 254.9h0M105.5 254.7h0M105.8 255.5h0M106.2 255.8h0M106.5 255.5h0M106.8 255.9h0M107.2 256.0h0M107.5 256.3h0M107.8 256.7h0M108.2 256.9h0M108.5 256.7h0M108.8 257.3h0M109.2 258.2h0M109.5 257.9h0M109.8 258.2h0M110.2 258.5h0M110.5 258.5h0M110.8 258.5h0M111.2 259.1h0M111.5 259.0h0M111.8 259.4h0M112.2 260.2h0M112.5 260.1h0M112.8 260.1h0M113.2 260.1h0M113.5 260.9h0M113.8 261.1h0M114.2 261.5h0M114.5 261.5h0M114.8 262.1h0M115.2 261.9h0M115.5 262.1h0M115.8 262.8h0M116.2 262.5h0M116.5 262.7h0M116.8 263.3h0M117.2 263.3h0M117.5 264.0h0M117.8 264.0h0M118.2 263.9h0M118.5 264.3h0M118.8 264.5h0M119.2 264.8h0M119.5 265.1h0M119.8 265.2h0M120.2 265.5h0M120.5 265.8h0M120.8 266.3h0M121.2 266.3h0M121.5 266.7h0M121.8 266.9h0M122.2 267.5h0M122.5 267.3h0M122.8 267.4h0M123.2 267.7h0M123.5 267.7h0M123.8 268.5h0M124.2 268.4h0M124.5 268.2h0M124.8 269.1h0M125.2 269.3h0M125.5 269.2h0M125.8 270.0h0M126.2 269.8h0M126.5 270.2h0M126.8 270.0h0M127.2 270.5h0M127.5 270.5h0M127.8 271.5h0M128.1 271.3h0M128.5 271.6h0M128.8 272.3h0M129.1 272.0h0M129.5 272.8h0M129.8 273.4h0M130.1 273.2h0M130.5 274.1h0M130.8 274.7h0M131.1 274.3h0M131.5 274.9h0M131.8 275.4h0M132.1 275.7h0M132.5 276.5h0M132.8 276.5h0M133.1 277.0h0M133.5 277.7h0M133.8 277.9h0M134.1 278.6h0M134.5 278.6h0M134.8 279.4h0M135.1 279.4h0M135.5 280.4h0M135.8 280.7h0M136.1 281.5h0M136.5 281.7h0M136.8 281.7h0M137.1 282.4h0M137.5 283.2h0M137.8 283.6h0M138.1 283.6h0M138.5 284.1h0M138.8 284.8h0M139.1 285.2h0M139.5 285.5h0M139.8 285.8h0M140.1 286.5h0M140.5 286.8h0M140.8 288.1h0M141.1 288.1h0M141.5 288.4h0M141.8 289.3h0M142.1 289.6h0M142.5 290.0h0M142.8 291.2h0M143.1 291.1h0M143.5 291.0h0M143.8 291.8h0M144.1 292.2h0M144.5 293.4h0M144.8 294.0h0M145.1 294.2h0M145.5 295.1h0M145.8 295.4h0M146.1 295.3h0M146.5 296.2h0M146.8 297.4h0M147.1 297.7h0M147.5 297.7h0M147.8 298.9h0M148.1 299.0h0M148.5 299.8h0M148.8 300.4h0M149.1 301.0h0M149.5 301.3h0M149.8 301.9h0M150.1 302.9h0M150.5 302.8h0M150.8 303.6h0M151.1 304.3h0M151.5 305.3h0M151.8 305.3h0M152.1 306.6h0M152.5 306.9h0M152.8 308.0h0M153.1 308.6h0M153.5 308.9h0M153.8 309.4h0M154.1 309.6h0M154.5 311.2h0M154.8 311.6h0M155.1 312.8h0M155.5 313.6h0M155.8 314.1h0M156.1 315.5h0M156.5 316.8h0M156.8 316.9h0M157.1 318.4h0M157.5 319.0h0M157.8 319.9h0" stroke="#17b2bf" stroke-width="2.5" fill="none" stroke-linecap="round"/>
<path d="M91.5 246.3h0M91.8 246.9h0M92.1 246.6h0M92.5 246.8h0M92.8 246.8h0M93.1 247.4h0M93.4 246.9h0M93.8 246.7h0M94.1 247.2h0M94.4 246.9h0M94.7 247.7h0M95.0 247.7h0M95.4 248.2h0M95.7 247.8h0M96.0 247.8h0M96.3 248.3h0M96.7 247.8h0M97.0 248.4h0M97.3 248.5h0M97.6 248.3h0M98.0 249.5h0M98.3 249.0h0M98.6 249.2h0M98.9 248.9h0M99.2 249.3h0M99.6 249.3h0M99.9 249.7h0M100.2 249.1h0M100.5 249.5h0M100.9 249.7h0M101.2 249.9h0M101.5 249.6h0M101.8 249.7h0M102.1 250.8h0M102.5 250.3h0M102.8 250.4h0M103.1 251.3h0M103.4 251.1h0M103.8 250.9h0M104.1 250.9h0M104.4 251.5h0M104.7 251.5h0M105.1 251.6h0M105.4 251.8h0M105.7 251.9h0M106.0 251.3h0M106.3 252.1h0M106.7 251.9h0M107.0 252.5h0M107.3 252.6h0M107.6 252.9h0M108.0 252.8h0M108.3 253.2h0M108.6 253.1h0M108.9 253.4h0M109.2 253.0h0M109.6 253.4h0M109.9 253.6h0M110.2 253.3h0M110.5 253.7h0M110.9 253.7h0M111.2 254.1h0M111.5 254.8h0M111.8 254.7h0M112.2 254.3h0M112.5 255.0h0M112.8 254.8h0M113.1 255.0h0M113.4 254.8h0M113.8 255.2h0M114.1 255.4h0M114.4 255.6h0M114.7 255.7h0M115.1 255.9h0M115.4 256.0h0M115.7 256.1h0M116.0 256.3h0M116.3 256.8h0M116.7 256.8h0M117.0 256.9h0M117.3 256.7h0M117.6 256.9h0M118.0 257.3h0M118.3 257.0h0M118.6 257.4h0M118.9 258.3h0M119.3 258.4h0M119.6 258.2h0M119.9 258.8h0M120.2 258.6h0M120.5 259.2h0M120.9 259.5h0M121.2 259.9h0M121.5 260.4h0M121.8 260.1h0M122.2 260.6h0M122.5 260.5h0M122.8 261.4h0M123.1 261.4h0M123.4 261.9h0M123.8 262.2h0M124.1 262.2h0M124.4 262.8h0M124.7 262.8h0M125.1 263.6h0M125.4 263.9h0M125.7 263.4h0M126.0 264.3h0M126.4 264.8h0M126.7 264.3h0M127.0 265.3h0M127.3 265.2h0M127.6 265.7h0M128.0 266.3h0M128.3 265.8h0M128.6 266.3h0M128.9 267.0h0M129.3 267.2h0M129.6 267.3h0M129.9 267.9h0M130.2 267.8h0M130.5 268.4h0M130.9 268.7h0M131.2 268.9h0M131.5 269.3h0M131.8 269.6h0M132.2 270.0h0M132.5 270.0h0M132.8 270.4h0M133.1 270.6h0M133.5 271.2h0M133.8 271.8h0M134.1 271.8h0M134.4 272.8h0M134.7 272.7h0M135.1 272.9h0M135.4 274.4h0M135.7 274.3h0M136.0 275.0h0M136.4 275.7h0M136.7 276.6h0M137.0 276.5h0M137.3 276.8h0M137.6 278.0h0M138.0 278.0h0M138.3 278.1h0M138.6 279.3h0M138.9 279.8h0M139.3 280.6h0M139.6 280.8h0M139.9 281.4h0M140.2 282.0h0M140.6 282.5h0M140.9 283.3h0M141.2 283.8h0M141.5 284.5h0M141.8 285.2h0M142.2 286.0h0M142.5 286.7h0M142.8 287.6h0M143.1 288.7h0M143.5 288.9h0M143.8 289.4h0M144.1 289.8h0M144.4 290.7h0M144.7 291.7h0M145.1 292.8h0M145.4 293.2h0M145.7 293.8h0M146.0 294.7h0M146.4 295.3h0M146.7 295.8h0M147.0 296.7h0M147.3 297.7h0M147.7 298.5h0M148.0 299.3h0M148.3 299.9h0M148.6 301.1h0M148.9 302.0h0M149.3 302.9h0M149.6 303.8h0M149.9 304.6h0M150.2 305.9h0M150.6 306.6h0M150.9 307.1h0M151.2 308.5h0M151.5 309.0h0M151.8 309.8h0M152.2 311.1h0M152.5 312.0h0M152.8 313.0h0M153.1 314.2h0M153.5 315.3h0M153.8 315.6h0M154.1 317.3h0M154.4 318.2h0M154.7 318.9h0M155.1 319.9h0M155.4 321.3h0M155.7 322.2h0" stroke="#f47f20" stroke-width="2.5" fill="none" stroke-linecap="round"/>
<path d="M91.5 247.0h0M91.9 246.5h0M92.3 246.6h0M92.6 246.8h0M93.0 246.5h0M93.4 247.3h0M93.8 247.0h0M94.2 247.3h0M94.6 247.7h0M94.9 247.6h0M95.3 247.2h0M95.7 247.7h0M96.1 247.7h0M96.5 248.3h0M96.8 248.4h0M97.2 248.0h0M97.6 248.7h0M98.0 248.8h0M98.4 249.2h0M98.8 248.7h0M99.1 248.5h0M99.5 249.4h0M99.9 249.4h0M100.3 249.6h0M100.7 249.6h0M101.0 249.8h0M101.4 249.4h0M101.8 250.3h0M102.2 249.8h0M102.6 250.2h0M103.0 250.3h0M103.3 250.7h0M103.7 251.0h0M104.1 251.2h0M104.5 251.4h0M104.9 251.3h0M105.2 251.3h0M105.6 251.7h0M106.0 251.4h0M106.4 252.1h0M106.8 252.4h0M107.2 252.3h0M107.5 252.5h0M107.9 251.7h0M108.3 252.1h0M108.7 252.7h0M109.1 252.8h0M109.4 252.6h0M109.8 253.1h0M110.2 253.1h0M110.6 253.6h0M111.0 253.9h0M111.4 253.3h0M111.7 253.6h0M112.1 253.8h0M112.5 253.4h0M112.9 253.9h0M113.3 253.6h0M113.6 254.4h0M114.0 254.8h0M114.4 254.5h0M114.8 254.9h0M115.2 255.4h0M115.6 255.1h0M115.9 255.4h0M116.3 255.2h0M116.7 255.6h0M117.1 255.9h0M117.5 255.9h0M117.8 255.4h0M118.2 256.2h0M118.6 255.9h0M119.0 256.1h0M119.4 256.2h0M119.7 256.5h0M120.1 256.6h0M120.5 257.1h0M120.9 256.9h0M121.3 257.5h0M121.7 256.9h0M122.0 257.7h0M122.4 257.5h0M122.8 257.9h0M123.2 257.8h0M123.6 257.7h0M123.9 258.3h0M124.3 258.1h0M124.7 258.4h0M125.1 258.4h0M125.5 258.7h0M125.9 259.0h0M126.2 258.8h0M126.6 259.1h0M127.0 259.3h0M127.4 259.5h0M127.8 259.5h0M128.1 259.9h0M128.5 259.7h0M128.9 260.4h0M129.3 259.9h0M129.7 260.2h0M130.1 260.2h0M130.4 260.4h0M130.8 260.5h0M131.2 261.0h0M131.6 260.8h0M132.0 261.1h0M132.3 261.5h0M132.7 261.7h0M133.1 261.6h0M133.5 261.6h0M133.9 261.8h0M134.3 262.1h0M134.6 262.2h0M135.0 261.9h0M135.4 262.3h0M135.8 262.8h0M136.2 262.4h0M136.5 262.5h0M136.9 263.0h0M137.3 263.6h0M137.7 263.1h0M138.1 263.2h0M138.5 263.5h0M138.8 264.1h0M139.2 263.6h0M139.6 264.0h0M140.0 263.1h0M140.4 264.1h0M140.7 264.3h0M141.1 265.0h0M141.5 265.0h0M141.9 265.0h0M142.3 264.9h0M142.7 265.3h0M143.0 264.5h0M143.4 265.4h0M143.8 265.7h0M144.2 265.8h0M144.6 265.7h0M144.9 266.1h0M145.3 266.3h0M145.7 266.1h0M146.1 265.9h0M146.5 266.9h0M146.9 266.6h0M147.2 266.9h0M147.6 266.6h0M148.0 266.8h0M148.4 267.2h0M148.8 267.6h0M149.1 267.4h0M149.5 268.4h0M149.9 268.3h0M150.3 268.4h0M150.7 268.5h0M151.1 269.4h0M151.4 269.6h0M151.8 269.8h0M152.2 270.0h0M152.6 269.8h0M153.0 269.9h0M153.3 270.3h0M153.7 270.9h0M154.1 270.9h0M154.5 270.7h0M154.9 271.2h0M155.3 271.4h0M155.6 271.6h0M156.0 271.5h0M156.4 272.1h0M156.8 272.2h0M157.2 272.8h0M157.5 273.1h0M157.9 273.0h0M158.3 273.2h0M158.7 273.4h0M159.1 273.3h0M159.5 273.7h0M159.8 273.6h0M160.2 274.1h0M160.6 274.6h0M161.0 274.9h0M161.4 275.4h0M161.7 274.8h0M162.1 275.2h0M162.5 275.5h0M162.9 275.7h0M163.3 276.1h0M163.7 276.0h0M164.0 276.4h0M164.4 276.0h0M164.8 276.6h0M165.2 277.4h0M165.6 277.5h0M165.9 278.0h0M166.3 278.0h0M166.7 278.0h0M167.1 278.3h0M167.5 278.4h0M167.9 278.7h0M168.2 279.0h0M168.6 279.1h0M169.0 279.5h0M169.4 280.2h0M169.8 280.3h0M170.1 279.7h0M170.5 280.2h0M170.9 280.4h0M171.3 280.8h0M171.7 280.9h0M172.0 281.2h0M172.4 281.2h0M172.8 281.3h0M173.2 281.7h0M173.6 282.2h0M174.0 282.0h0M174.3 282.2h0M174.7 282.8h0M175.1 282.9h0M175.5 283.2h0M175.9 283.2h0M176.2 283.9h0M176.6 283.7h0M177.0 283.7h0M177.4 284.4h0M177.8 284.4h0M178.2 284.8h0M178.5 285.6h0M178.9 285.1h0M179.3 286.0h0M179.7 286.0h0M180.1 285.8h0M180.4 286.1h0M180.8 286.4h0M181.2 286.7h0M181.6 286.9h0M182.0 287.1h0M182.4 287.0h0M182.7 287.4h0M183.1 287.8h0M183.5 288.2h0M183.9 288.3h0M184.3 288.7h0M184.6 289.0h0M185.0 289.1h0M185.4 289.0h0M185.8 289.1h0M186.2 289.7h0M186.6 290.1h0M186.9 290.1h0M187.3 290.1h0M187.7 290.3h0M188.1 290.6h0M188.5 291.3h0M188.8 291.2h0M189.2 291.3h0M189.6 291.9h0M190.0 292.2h0M190.4 292.0h0M190.8 292.3h0M191.1 293.0h0M191.5 292.8h0M191.9 293.5h0M192.3 293.7h0M192.7 294.0h0M193.0 294.4h0M193.4 295.6h0M193.8 295.0h0M194.2 295.7h0M194.6 296.1h0M195.0 296.3h0M195.3 296.8h0M195.7 297.5h0M196.1 297.5h0M196.5 298.1h0M196.9 298.5h0M197.2 298.9h0M197.6 299.5h0M198.0 299.2h0M198.4 300.2h0M198.8 300.3h0M199.2 300.7h0M199.5 301.2h0M199.9 301.2h0M200.3 302.0h0M200.7 302.3h0M201.1 302.7h0M201.4 302.8h0M201.8 303.6h0M202.2 303.5h0M202.6 304.1h0M203.0 304.2h0M203.4 304.5h0M203.7 304.9h0M204.1 305.0h0M204.5 305.4h0M204.9 305.8h0M205.3 306.4h0M205.6 306.6h0M206.0 306.5h0M206.4 307.3h0M206.8 307.0h0M207.2 307.5h0M207.6 307.9h0M207.9 308.4h0M208.3 308.6h0M208.7 308.6h0M209.1 309.0h0M209.5 309.4h0M209.8 309.6h0M210.2 310.2h0M210.6 310.2h0M211.0 310.5h0M211.4 311.2h0M211.8 311.3h0M212.1 311.7h0M212.5 311.8h0M212.9 312.1h0M213.3 312.1h0M213.7 313.4h0M214.0 312.9h0M214.4 313.3h0M214.8 313.5h0M215.2 314.1h0M215.6 314.1h0M216.0 314.2h0M216.3 314.6h0M216.7 315.3h0M217.1 315.1h0M217.5 315.4h0M217.9 316.3h0M218.2 316.2h0M218.6 316.8h0M219.0 317.4h0M219.4 317.5h0M219.8 317.9h0M220.2 318.1h0M220.5 318.6h0M220.9 318.8h0M221.3 319.6h0M221.7 319.3h0M222.1 319.5h0M222.4 319.7h0M222.8 320.2h0M223.2 321.0h0M223.6 320.8h0M224.0 321.1h0M224.3 322.2h0M224.7 322.4h0" stroke="#e8453c" stroke-width="2.5" fill="none" stroke-linecap="round"/>
<path d="M91.5 246.9h0M91.9 247.3h0M92.3 247.0h0M92.7 247.3h0M93.1 247.5h0M93.5 248.2h0M93.9 247.5h0M94.3 247.9h0M94.7 247.3h0M95.1 247.6h0M95.5 248.3h0M95.9 248.3h0M96.3 248.2h0M96.7 248.5h0M97.1 248.9h0M97.5 249.0h0M97.8 248.7h0M98.2 249.0h0M98.6 248.7h0M99.0 249.6h0M99.4 249.7h0M99.8 249.5h0M100.2 249.8h0M100.6 249.7h0M101.0 250.1h0M101.4 249.6h0M101.8 249.8h0M102.2 250.2h0M102.6 250.2h0M103.0 250.7h0M103.4 250.5h0M103.8 250.5h0M104.2 250.4h0M104.6 250.5h0M105.0 251.2h0M105.4 250.7h0M105.8 250.8h0M106.2 251.2h0M106.6 250.6h0M107.0 251.5h0M107.4 251.1h0M107.8 251.1h0M108.2 251.6h0M108.6 251.9h0M109.0 251.7h0M109.4 251.3h0M109.7 251.5h0M110.1 251.9h0M110.5 251.8h0M110.9 251.9h0M111.3 252.1h0M111.7 252.4h0M112.1 252.0h0M112.5 252.4h0M112.9 252.7h0M113.3 252.7h0M113.7 252.3h0M114.1 252.3h0M114.5 252.7h0M114.9 252.9h0M115.3 252.8h0M115.7 253.3h0M116.1 253.3h0M116.5 253.3h0M116.9 253.5h0M117.3 253.1h0M117.7 253.2h0M118.1 253.5h0M118.5 254.2h0M118.9 253.7h0M119.3 253.4h0M119.7 253.7h0M120.1 254.4h0M120.5 253.9h0M120.9 254.5h0M121.3 254.2h0M121.6 254.2h0M122.0 255.1h0M122.4 254.7h0M122.8 254.9h0M123.2 254.8h0M123.6 255.5h0M124.0 255.8h0M124.4 256.1h0M124.8 256.1h0M125.2 255.5h0M125.6 256.5h0M126.0 256.6h0M126.4 256.8h0M126.8 256.8h0M127.2 257.1h0M127.6 258.1h0M128.0 257.5h0M128.4 257.3h0M128.8 257.6h0M129.2 257.7h0M129.6 258.3h0M130.0 258.0h0M130.4 258.3h0M130.8 258.6h0M131.2 258.5h0M131.6 259.1h0M132.0 259.1h0M132.4 258.8h0M132.8 259.3h0M133.2 259.0h0M133.5 259.5h0M133.9 259.5h0M134.3 259.7h0M134.7 260.0h0M135.1 260.1h0M135.5 260.7h0M135.9 260.6h0M136.3 261.0h0M136.7 261.0h0M137.1 261.3h0M137.5 261.0h0M137.9 261.4h0M138.3 262.0h0M138.7 261.7h0M139.1 262.2h0M139.5 262.3h0M139.9 262.4h0M140.3 263.1h0M140.7 263.1h0M141.1 262.9h0M141.5 263.2h0M141.9 263.1h0M142.3 263.5h0M142.7 263.7h0M143.1 263.8h0M143.5 263.5h0M143.9 264.0h0M144.3 264.1h0M144.7 264.7h0M145.1 264.7h0M145.4 264.4h0M145.8 265.7h0M146.2 265.2h0M146.6 265.1h0M147.0 265.5h0M147.4 265.5h0M147.8 266.0h0M148.2 266.1h0M148.6 266.9h0M149.0 266.6h0M149.4 266.3h0M149.8 266.7h0M150.2 266.8h0M150.6 267.4h0M151.0 267.0h0M151.4 267.7h0M151.8 267.3h0M152.2 267.6h0M152.6 268.2h0M153.0 268.0h0M153.4 267.7h0M153.8 267.9h0M154.2 268.6h0M154.6 268.1h0M155.0 268.9h0M155.4 269.1h0M155.8 269.2h0M156.2 269.2h0M156.6 269.9h0M157.0 270.0h0M157.4 269.9h0M157.7 270.4h0M158.1 270.3h0M158.5 270.3h0M158.9 270.5h0M159.3 271.1h0M159.7 270.6h0M160.1 271.4h0M160.5 271.1h0M160.9 271.4h0M161.3 271.5h0M161.7 271.5h0M162.1 272.0h0M162.5 272.1h0M162.9 271.7h0M163.3 272.3h0M163.7 272.1h0M164.1 272.9h0M164.5 272.8h0M164.9 273.0h0M165.3 273.0h0M165.7 273.3h0M166.1 273.5h0M166.5 273.9h0M166.9 273.8h0M167.3 273.6h0M167.7 274.2h0M168.1 274.5h0M168.5 274.9h0M168.9 274.8h0M169.3 275.3h0M169.6 275.2h0M170.0 275.5h0M170.4 276.0h0M170.8 276.1h0M171.2 276.3h0M171.6 276.2h0M172.0 276.2h0M172.4 277.1h0M172.8 277.4h0M173.2 276.8h0M173.6 277.7h0M174.0 277.8h0M174.4 278.3h0M174.8 278.1h0M175.2 278.1h0M175.6 278.2h0M176.0 278.9h0M176.4 278.8h0M176.8 279.2h0M177.2 279.5h0M177.6 279.4h0M178.0 280.3h0M178.4 279.7h0M178.8 280.1h0M179.2 280.5h0M179.6 280.5h0M180.0 281.4h0M180.4 281.2h0M180.8 281.8h0M181.2 282.0h0M181.5 282.4h0M181.9 282.5h0M182.3 282.1h0M182.7 283.0h0M183.1 283.4h0M183.5 283.8h0M183.9 283.8h0M184.3 284.3h0M184.7 284.1h0M185.1 284.2h0M185.5 285.1h0M185.9 285.0h0M186.3 285.9h0M186.7 285.5h0M187.1 286.1h0M187.5 286.4h0M187.9 286.7h0M188.3 286.8h0M188.7 287.3h0M189.1 287.1h0M189.5 287.7h0M189.9 287.7h0M190.3 288.3h0M190.7 288.4h0M191.1 289.1h0M191.5 289.4h0M191.9 289.4h0M192.3 289.8h0M192.7 290.0h0M193.1 289.6h0M193.4 290.5h0M193.8 290.6h0M194.2 291.4h0M194.6 291.6h0M195.0 291.9h0M195.4 291.8h0M195.8 291.8h0M196.2 292.9h0M196.6 292.7h0M197.0 293.2h0M197.4 293.4h0M197.8 293.7h0M198.2 293.7h0M198.6 293.8h0M199.0 294.3h0M199.4 294.5h0M199.8 294.9h0M200.2 295.2h0M200.6 294.8h0M201.0 295.9h0M201.4 295.9h0M201.8 296.7h0M202.2 296.5h0M202.6 297.5h0M203.0 297.3h0M203.4 297.5h0M203.8 297.9h0M204.2 297.7h0M204.6 298.0h0M205.0 298.1h0M205.3 299.3h0M205.7 299.3h0M206.1 299.2h0M206.5 299.5h0M206.9 300.0h0M207.3 300.4h0M207.7 300.7h0M208.1 300.8h0M208.5 301.8h0M208.9 301.7h0M209.3 301.8h0M209.7 302.3h0M210.1 303.2h0M210.5 303.0h0M210.9 303.0h0M211.3 303.7h0M211.7 304.0h0M212.1 303.7h0M212.5 304.5h0M212.9 305.5h0M213.3 305.4h0M213.7 305.6h0M214.1 306.0h0M214.5 306.2h0M214.9 306.6h0M215.3 307.0h0M215.7 307.1h0M216.1 307.4h0M216.5 308.5h0M216.9 308.5h0M217.2 308.1h0M217.6 309.3h0M218.0 309.0h0M218.4 309.5h0M218.8 309.8h0M219.2 309.9h0M219.6 311.3h0M220.0 311.5h0M220.4 311.9h0M220.8 312.3h0M221.2 312.2h0M221.6 312.7h0M222.0 313.6h0M222.4 313.6h0M222.8 313.9h0M223.2 314.7h0M223.6 314.7h0M224.0 315.5h0M224.4 315.9h0M224.8 315.9h0M225.2 315.9h0M225.6 316.5h0M226.0 317.4h0M226.4 317.2h0M226.8 318.6h0M227.2 318.7h0M227.6 319.0h0M228.0 319.4h0M228.4 319.4h0M228.8 319.8h0M229.2 320.8h0M229.5 321.0h0M229.9 321.2h0" stroke="#72b52e" stroke-width="2.5" fill="none" stroke-linecap="round"/>
<path d="M91.5 246.3h0M91.9 247.0h0M92.3 246.5h0M92.7 246.3h0M93.1 246.8h0M93.5 246.4h0M94.0 246.8h0M94.4 247.2h0M94.8 247.6h0M95.2 247.2h0M95.6 247.1h0M96.0 247.0h0M96.4 247.9h0M96.8 247.3h0M97.2 247.7h0M97.6 247.9h0M98.1 247.7h0M98.5 247.5h0M98.9 247.9h0M99.3 247.9h0M99.7 248.0h0M100.1 247.7h0M100.5 247.9h0M100.9 248.3h0M101.3 248.2h0M101.7 248.4h0M102.2 248.9h0M102.6 249.3h0M103.0 248.9h0M103.4 248.9h0M103.8 249.1h0M104.2 249.6h0M104.6 249.8h0M105.0 249.7h0M105.4 249.8h0M105.8 249.6h0M106.3 250.2h0M106.7 249.8h0M107.1 250.5h0M107.5 250.7h0M107.9 250.7h0M108.3 250.9h0M108.7 251.1h0M109.1 250.9h0M109.5 251.6h0M109.9 251.5h0M110.4 251.5h0M110.8 251.4h0M111.2 252.0h0M111.6 252.0h0M112.0 252.4h0M112.4 252.1h0M112.8 252.4h0M113.2 252.4h0M113.6 253.2h0M114.0 252.6h0M114.5 252.8h0M114.9 253.0h0M115.3 253.7h0M115.7 253.6h0M116.1 253.3h0M116.5 253.7h0M116.9 253.7h0M117.3 254.2h0M117.7 254.3h0M118.1 254.6h0M118.5 254.9h0M119.0 254.8h0M119.4 254.2h0M119.8 255.2h0M120.2 254.8h0M120.6 255.3h0M121.0 255.7h0M121.4 256.0h0M121.8 256.0h0M122.2 255.8h0M122.6 255.7h0M123.1 256.2h0M123.5 256.2h0M123.9 256.5h0M124.3 256.7h0M124.7 256.8h0M125.1 256.4h0M125.5 256.4h0M125.9 257.0h0M126.3 256.9h0M126.7 257.0h0M127.2 257.3h0M127.6 257.0h0M128.0 257.6h0M128.4 257.3h0M128.8 257.7h0M129.2 257.4h0M129.6 258.0h0M130.0 257.7h0M130.4 258.3h0M130.8 258.4h0M131.3 257.8h0M131.7 258.0h0M132.1 258.5h0M132.5 258.4h0M132.9 258.4h0M133.3 258.5h0M133.7 258.4h0M134.1 258.8h0M134.5 258.7h0M134.9 259.4h0M135.4 259.4h0M135.8 259.7h0M136.2 259.4h0M136.6 259.7h0M137.0 259.9h0M137.4 259.7h0M137.8 260.1h0M138.2 259.8h0M138.6 260.6h0M139.0 260.2h0M139.5 260.7h0M139.9 260.5h0M140.3 260.8h0M140.7 260.0h0M141.1 260.9h0M141.5 260.7h0M141.9 261.3h0M142.3 260.9h0M142.7 261.1h0M143.1 261.7h0M143.6 261.6h0M144.0 262.4h0M144.4 261.5h0M144.8 261.9h0M145.2 262.5h0M145.6 261.8h0M146.0 262.1h0M146.4 262.6h0M146.8 262.3h0M147.2 262.6h0M147.6 262.3h0M148.1 262.3h0M148.5 263.0h0M148.9 263.3h0M149.3 263.5h0M149.7 263.2h0M150.1 263.8h0M150.5 263.3h0M150.9 263.8h0M151.3 263.9h0M151.7 264.0h0M152.2 264.6h0M152.6 264.0h0M153.0 264.5h0M153.4 264.2h0M153.8 264.4h0M154.2 264.9h0M154.6 264.5h0M155.0 264.9h0M155.4 265.0h0M155.8 265.3h0M156.3 265.3h0M156.7 265.2h0M157.1 265.4h0M157.5 265.7h0M157.9 265.6h0M158.3 265.6h0M158.7 265.7h0M159.1 266.6h0M159.5 265.9h0M159.9 266.1h0M160.4 266.5h0M160.8 266.8h0M161.2 266.4h0M161.6 266.7h0M162.0 266.6h0M162.4 266.5h0M162.8 267.2h0M163.2 267.3h0M163.6 267.4h0M164.0 267.4h0M164.5 267.8h0M164.9 267.8h0M165.3 268.5h0M165.7 267.7h0M166.1 268.3h0M166.5 267.9h0M166.9 268.3h0M167.3 268.1h0M167.7 268.5h0M168.1 268.8h0M168.6 269.1h0M169.0 269.1h0M169.4 269.3h0M169.8 269.7h0M170.2 269.4h0M170.6 269.9h0M171.0 269.7h0M171.4 270.1h0M171.8 270.0h0M172.2 270.6h0M172.6 270.6h0M173.1 270.6h0M173.5 270.3h0M173.9 270.4h0M174.3 271.0h0M174.7 271.0h0M175.1 271.5h0M175.5 271.4h0M175.9 271.6h0M176.3 271.6h0M176.7 271.5h0M177.2 271.8h0M177.6 272.1h0M178.0 272.3h0M178.4 272.9h0M178.8 273.2h0M179.2 272.6h0M179.6 273.2h0M180.0 273.4h0M180.4 273.5h0M180.8 273.3h0M181.3 273.4h0M181.7 273.9h0M182.1 274.5h0M182.5 273.9h0M182.9 274.6h0M183.3 275.0h0M183.7 274.8h0M184.1 275.1h0M184.5 275.5h0M184.9 275.6h0M185.4 275.8h0M185.8 276.0h0M186.2 276.1h0M186.6 276.4h0M187.0 276.2h0M187.4 276.7h0M187.8 276.9h0M188.2 276.9h0M188.6 277.0h0M189.0 276.9h0M189.5 277.9h0M189.9 277.9h0M190.3 277.9h0M190.7 278.2h0M191.1 278.3h0M191.5 278.1h0M191.9 278.5h0M192.3 279.1h0M192.7 279.5h0M193.1 279.3h0M193.6 279.4h0M194.0 279.7h0M194.4 280.4h0M194.8 280.4h0M195.2 280.6h0M195.6 281.1h0M196.0 281.5h0M196.4 281.4h0M196.8 281.6h0M197.2 282.5h0M197.7 282.4h0M198.1 282.4h0M198.5 282.8h0M198.9 283.2h0M199.3 283.3h0M199.7 283.4h0M200.1 283.9h0M200.5 284.1h0M200.9 283.8h0M201.3 284.3h0M201.7 284.4h0M202.2 285.2h0M202.6 284.9h0M203.0 285.8h0M203.4 286.0h0M203.8 286.7h0M204.2 286.4h0M204.6 287.2h0M205.0 287.5h0M205.4 288.7h0M205.8 288.3h0M206.3 288.8h0M206.7 288.5h0M207.1 289.8h0M207.5 290.0h0M207.9 290.2h0M208.3 290.5h0M208.7 290.7h0M209.1 290.9h0M209.5 291.5h0M209.9 292.0h0M210.4 292.3h0M210.8 292.9h0M211.2 293.1h0M211.6 293.0h0M212.0 293.6h0M212.4 294.1h0M212.8 294.4h0M213.2 295.1h0M213.6 295.2h0M214.0 294.7h0M214.5 295.5h0M214.9 296.5h0M215.3 296.8h0M215.7 296.9h0M216.1 297.4h0M216.5 297.4h0M216.9 298.4h0M217.3 298.4h0M217.7 298.4h0M218.1 299.2h0M218.6 299.2h0M219.0 299.7h0M219.4 300.2h0M219.8 300.2h0M220.2 301.3h0M220.6 301.5h0M221.0 301.7h0M221.4 301.8h0M221.8 302.0h0M222.2 302.2h0M222.7 302.5h0M223.1 303.3h0M223.5 303.2h0M223.9 303.8h0M224.3 304.2h0M224.7 304.3h0M225.1 305.0h0M225.5 304.9h0M225.9 304.7h0M226.3 305.6h0M226.7 306.1h0M227.2 305.8h0M227.6 306.8h0M228.0 306.9h0M228.4 307.2h0M228.8 308.0h0M229.2 307.7h0M229.6 307.9h0M230.0 308.4h0M230.4 308.4h0M230.8 308.8h0M231.3 309.3h0M231.7 309.8h0M232.1 309.4h0M232.5 310.4h0M232.9 310.6h0M233.3 311.1h0M233.7 311.1h0M234.1 311.4h0M234.5 311.2h0M234.9 311.5h0M235.4 312.2h0M235.8 312.0h0M236.2 312.5h0M236.6 312.7h0M237.0 312.9h0M237.4 313.3h0M237.8 314.0h0M238.2 313.5h0M238.6 314.3h0M239.0 314.8h0M239.5 314.5h0M239.9 315.1h0M240.3 315.7h0M240.7 316.7h0M241.1 316.5h0M241.5 317.3h0M241.9 317.6h0M242.3 318.1h0M242.7 318.3h0M243.1 318.3h0M243.6 318.9h0M244.0 319.3h0M244.4 319.6h0M244.8 320.1h0M245.2 320.6h0M245.6 320.6h0M246.0 321.6h0M246.4 322.1h0M246.8 322.1h0" stroke="#1a9fe0" stroke-width="2.5" fill="none" stroke-linecap="round"/>
<path d="M91.5 246.4h0M91.9 246.1h0M92.3 246.5h0M92.7 246.1h0M93.1 246.8h0M93.5 246.9h0M93.9 246.4h0M94.3 246.7h0M94.7 246.5h0M95.1 246.9h0M95.5 246.6h0M95.9 246.7h0M96.3 247.0h0M96.7 247.6h0M97.1 246.6h0M97.5 247.1h0M97.9 246.7h0M98.3 246.6h0M98.7 247.2h0M99.0 247.0h0M99.4 247.0h0M99.8 247.1h0M100.2 247.2h0M100.6 247.1h0M101.0 247.9h0M101.4 246.8h0M101.8 247.3h0M102.2 247.4h0M102.6 247.3h0M103.0 247.2h0M103.4 248.2h0M103.8 247.7h0M104.2 247.7h0M104.6 247.7h0M105.0 247.6h0M105.4 248.3h0M105.8 248.3h0M106.2 248.5h0M106.6 248.3h0M107.0 248.2h0M107.4 248.2h0M107.8 248.8h0M108.2 248.6h0M108.6 248.5h0M109.0 248.5h0M109.4 248.8h0M109.8 248.9h0M110.2 249.1h0M110.6 248.8h0M111.0 249.1h0M111.4 248.8h0M111.8 249.3h0M112.2 249.2h0M112.6 249.7h0M113.0 249.2h0M113.4 249.4h0M113.7 249.6h0M114.1 249.0h0M114.5 249.6h0M114.9 249.6h0M115.3 249.5h0M115.7 249.3h0M116.1 250.3h0M116.5 249.7h0M116.9 250.0h0M117.3 250.0h0M117.7 250.5h0M118.1 250.2h0M118.5 250.2h0M118.9 250.3h0M119.3 250.4h0M119.7 250.1h0M120.1 251.0h0M120.5 250.5h0M120.9 250.6h0M121.3 251.2h0M121.7 250.3h0M122.1 251.1h0M122.5 250.9h0M122.9 251.3h0M123.3 251.0h0M123.7 250.8h0M124.1 250.9h0M124.5 251.1h0M124.9 251.5h0M125.3 251.7h0M125.7 250.8h0M126.1 251.8h0M126.5 251.7h0M126.9 252.0h0M127.3 251.9h0M127.7 251.4h0M128.1 251.7h0M128.5 251.9h0M128.8 251.8h0M129.2 252.0h0M129.6 252.4h0M130.0 252.5h0M130.4 252.3h0M130.8 252.3h0M131.2 252.4h0M131.6 252.3h0M132.0 253.0h0M132.4 252.5h0M132.8 253.0h0M133.2 252.7h0M133.6 253.0h0M134.0 252.9h0M134.4 252.7h0M134.8 253.1h0M135.2 253.3h0M135.6 253.3h0M136.0 253.2h0M136.4 253.5h0M136.8 253.4h0M137.2 253.4h0M137.6 253.4h0M138.0 253.2h0M138.4 253.5h0M138.8 254.0h0M139.2 253.9h0M139.6 254.1h0M140.0 253.9h0M140.4 254.0h0M140.8 254.1h0M141.2 254.0h0M141.6 254.4h0M142.0 254.5h0M142.4 253.9h0M142.8 254.2h0M143.2 254.3h0M143.5 254.8h0M143.9 255.0h0M144.3 254.4h0M144.7 254.9h0M145.1 254.5h0M145.5 255.0h0M145.9 254.9h0M146.3 254.7h0M146.7 255.2h0M147.1 255.1h0M147.5 255.0h0M147.9 255.3h0M148.3 255.1h0M148.7 255.7h0M149.1 255.6h0M149.5 255.5h0M149.9 255.8h0M150.3 255.3h0M150.7 255.6h0M151.1 255.9h0M151.5 256.0h0M151.9 255.5h0M152.3 255.7h0M152.7 255.5h0M153.1 256.4h0M153.5 256.5h0M153.9 256.2h0M154.3 256.0h0M154.7 255.9h0M155.1 256.8h0M155.5 256.7h0M155.9 257.3h0M156.3 257.0h0M156.7 256.7h0M157.1 257.2h0M157.5 257.1h0M157.9 257.8h0M158.2 258.0h0M158.6 258.1h0M159.0 258.1h0M159.4 258.2h0M159.8 258.6h0M160.2 259.1h0M160.6 258.9h0M161.0 258.7h0M161.4 259.0h0M161.8 259.0h0M162.2 259.3h0M162.6 259.4h0M163.0 260.0h0M163.4 259.5h0M163.8 260.1h0M164.2 260.0h0M164.6 260.2h0M165.0 260.6h0M165.4 260.5h0M165.8 260.8h0M166.2 261.1h0M166.6 261.7h0M167.0 261.0h0M167.4 261.9h0M167.8 262.0h0M168.2 261.7h0M168.6 262.2h0M169.0 262.8h0M169.4 262.7h0M169.8 262.8h0M170.2 262.7h0M170.6 262.7h0M171.0 263.1h0M171.4 263.4h0M171.8 263.9h0M172.2 263.9h0M172.6 264.5h0M173.0 264.1h0M173.3 264.4h0M173.7 264.7h0M174.1 265.4h0M174.5 265.1h0M174.9 265.0h0M175.3 264.9h0M175.7 265.5h0M176.1 266.0h0M176.5 265.6h0M176.9 266.0h0M177.3 266.2h0M177.7 266.3h0M178.1 266.5h0M178.5 267.0h0M178.9 267.5h0M179.3 268.0h0M179.7 267.5h0M180.1 267.7h0M180.5 268.5h0M180.9 268.6h0M181.3 269.0h0M181.7 269.5h0M182.1 269.3h0M182.5 270.0h0M182.9 270.7h0M183.3 270.5h0M183.7 271.1h0M184.1 271.0h0M184.5 271.4h0M184.9 272.2h0M185.3 272.8h0M185.7 272.8h0M186.1 272.9h0M186.5 273.4h0M186.9 273.8h0M187.3 274.1h0M187.7 274.4h0M188.0 274.5h0M188.4 274.6h0M188.8 274.6h0M189.2 274.8h0M189.6 275.2h0M190.0 276.0h0M190.4 276.0h0M190.8 276.6h0M191.2 276.8h0M191.6 277.3h0M192.0 277.7h0M192.4 278.1h0M192.8 277.8h0M193.2 278.7h0M193.6 278.8h0M194.0 279.2h0M194.4 279.3h0M194.8 279.5h0M195.2 279.7h0M195.6 279.9h0M196.0 280.1h0M196.4 280.7h0M196.8 281.2h0M197.2 281.5h0M197.6 282.3h0M198.0 282.4h0M198.4 282.4h0M198.8 283.7h0M199.2 283.5h0M199.6 284.0h0M200.0 284.2h0M200.4 285.1h0M200.8 285.3h0M201.2 286.0h0M201.6 286.2h0M202.0 286.9h0M202.4 286.8h0M202.7 287.2h0M203.1 287.2h0M203.5 287.6h0M203.9 288.8h0M204.3 289.3h0M204.7 289.8h0M205.1 290.8h0M205.5 291.8h0M205.9 292.8h0M206.3 293.0h0M206.7 294.4h0M207.1 295.2h0M207.5 295.1h0M207.9 296.1h0M208.3 296.5h0M208.7 297.8h0M209.1 297.4h0M209.5 298.3h0M209.9 299.4h0M210.3 299.5h0M210.7 300.0h0M211.1 300.4h0M211.5 300.8h0M211.9 301.3h0M212.3 301.8h0M212.7 302.6h0M213.1 302.6h0M213.5 303.3h0M213.9 304.0h0M214.3 304.1h0M214.7 304.2h0M215.1 304.9h0M215.5 305.8h0M215.9 307.1h0M216.3 306.6h0M216.7 307.3h0M217.1 308.3h0M217.4 308.4h0M217.8 309.0h0M218.2 309.3h0M218.6 310.0h0M219.0 310.6h0M219.4 310.9h0M219.8 311.8h0M220.2 312.3h0M220.6 312.5h0M221.0 313.2h0M221.4 314.1h0M221.8 315.0h0M222.2 315.4h0M222.6 316.1h0M223.0 316.1h0M223.4 317.4h0M223.8 317.7h0M224.2 318.5h0M224.6 319.2h0M225.0 320.3h0M225.4 320.6h0M225.8 321.0h0M226.2 322.4h0" stroke="#f0b823" stroke-width="2.5" fill="none" stroke-linecap="round"/>
<text transform="translate(34.70,284.60) rotate(-90)" y="2.24" text-anchor="middle">Observed frequency of repair to</text>
<text transform="translate(42.80,284.60) rotate(-90)" y="2.24" text-anchor="middle">wild-type amino acid sequence</text>
<text transform="translate(50.90,284.60) rotate(-90)" y="2.24" text-anchor="middle">among all products with edited</text>
<text transform="translate(59.00,284.60) rotate(-90)" y="2.24" text-anchor="middle">amino acid sequences (%)</text>
<text x="169.00" y="347.64" text-anchor="middle">Rank of unique disease-related sgRNA-target pair</text>
<text x="316.00" y="13.20" font-weight="bold" font-size="10">c</text>
<line x1="357.20" y1="36.40" x2="357.20" y2="121.20" stroke="#ebebeb" stroke-width="0.5"/>
<line x1="375.28" y1="36.40" x2="375.28" y2="121.20" stroke="#ebebeb" stroke-width="0.5"/>
<line x1="393.36" y1="36.40" x2="393.36" y2="121.20" stroke="#ebebeb" stroke-width="0.5"/>
<line x1="411.44" y1="36.40" x2="411.44" y2="121.20" stroke="#ebebeb" stroke-width="0.5"/>
<line x1="429.52" y1="36.40" x2="429.52" y2="121.20" stroke="#ebebeb" stroke-width="0.5"/>
<line x1="447.60" y1="36.40" x2="447.60" y2="121.20" stroke="#ebebeb" stroke-width="0.5"/>
<line x1="465.68" y1="36.40" x2="465.68" y2="121.20" stroke="#ebebeb" stroke-width="0.5"/>
<line x1="357.20" y1="121.20" x2="465.68" y2="121.20" stroke="#ebebeb" stroke-width="0.5"/>
<line x1="357.20" y1="104.24" x2="465.68" y2="104.24" stroke="#ebebeb" stroke-width="0.5"/>
<line x1="357.20" y1="87.28" x2="465.68" y2="87.28" stroke="#ebebeb" stroke-width="0.5"/>
<line x1="357.20" y1="70.32" x2="465.68" y2="70.32" stroke="#ebebeb" stroke-width="0.5"/>
<line x1="357.20" y1="53.36" x2="465.68" y2="53.36" stroke="#ebebeb" stroke-width="0.5"/>
<line x1="357.20" y1="36.40" x2="465.68" y2="36.40" stroke="#ebebeb" stroke-width="0.5"/>
<line x1="357.20" y1="121.20" x2="465.68" y2="121.20" stroke="#4d4d4d" stroke-width="0.6"/>
<line x1="357.20" y1="36.40" x2="357.20" y2="121.20" stroke="#4d4d4d" stroke-width="0.6"/>
<line x1="357.20" y1="121.20" x2="357.20" y2="123.70" stroke="#4d4d4d" stroke-width="0.6"/>
<text x="357.20" y="132.24" text-anchor="middle">0</text>
<line x1="375.28" y1="121.20" x2="375.28" y2="123.70" stroke="#4d4d4d" stroke-width="0.6"/>
<text x="375.28" y="132.24" text-anchor="middle">10</text>
<line x1="393.36" y1="121.20" x2="393.36" y2="123.70" stroke="#4d4d4d" stroke-width="0.6"/>
<text x="393.36" y="132.24" text-anchor="middle">20</text>
<line x1="411.44" y1="121.20" x2="411.44" y2="123.70" stroke="#4d4d4d" stroke-width="0.6"/>
<text x="411.44" y="132.24" text-anchor="middle">30</text>
<line x1="429.52" y1="121.20" x2="429.52" y2="123.70" stroke="#4d4d4d" stroke-width="0.6"/>
<text x="429.52" y="132.24" text-anchor="middle">40</text>
<line x1="447.60" y1="121.20" x2="447.60" y2="123.70" stroke="#4d4d4d" stroke-width="0.6"/>
<text x="447.60" y="132.24" text-anchor="middle">50</text>
<line x1="465.68" y1="121.20" x2="465.68" y2="123.70" stroke="#4d4d4d" stroke-width="0.6"/>
<text x="465.68" y="132.24" text-anchor="middle">60</text>
<line x1="354.70" y1="121.20" x2="357.20" y2="121.20" stroke="#4d4d4d" stroke-width="0.6"/>
<text x="352.50" y="123.44" text-anchor="end">0</text>
<line x1="354.70" y1="104.24" x2="357.20" y2="104.24" stroke="#4d4d4d" stroke-width="0.6"/>
<text x="352.50" y="106.48" text-anchor="end">10</text>
<line x1="354.70" y1="87.28" x2="357.20" y2="87.28" stroke="#4d4d4d" stroke-width="0.6"/>
<text x="352.50" y="89.52" text-anchor="end">20</text>
<line x1="354.70" y1="70.32" x2="357.20" y2="70.32" stroke="#4d4d4d" stroke-width="0.6"/>
<text x="352.50" y="72.56" text-anchor="end">30</text>
<line x1="354.70" y1="53.36" x2="357.20" y2="53.36" stroke="#4d4d4d" stroke-width="0.6"/>
<text x="352.50" y="55.60" text-anchor="end">40</text>
<line x1="354.70" y1="36.40" x2="357.20" y2="36.40" stroke="#4d4d4d" stroke-width="0.6"/>
<text x="352.50" y="38.64" text-anchor="end">50</text>
<path d="M393.4 94.1L394.1 93.3L394.9 92.5L395.7 91.8L396.4 91.0L397.2 90.3L398.0 89.5L398.7 88.7L399.5 88.0L400.3 87.2L401.0 86.4L401.8 85.7L402.6 84.9L403.3 84.0L404.1 83.1L404.9 82.2L405.6 81.3L406.4 80.4L407.1 79.6L407.9 78.7L408.7 77.8L409.4 76.9L410.2 76.0L411.0 75.1L411.7 74.2L412.5 73.5L413.3 72.7L414.0 71.9L414.8 71.1L415.6 70.3L416.3 69.5L417.1 68.7L417.9 67.9L418.6 67.1L419.4 66.3L420.2 65.5L420.9 64.8L421.7 64.2L422.5 63.5L423.2 62.9L424.0 62.2L424.8 61.5L425.5 60.9L426.3 60.2L427.1 59.5L427.8 58.9L428.6 58.2L429.4 57.6L430.1 57.0L430.9 56.5L431.7 56.0L432.4 55.5L433.2 54.9L434.0 54.4L434.7 53.9L435.5 53.4L436.3 52.9L437.0 52.4L437.8 51.8L438.6 51.3L438.6 72.4L437.8 72.8L437.0 73.3L436.3 73.8L435.5 74.3L434.7 74.8L434.0 75.3L433.2 75.8L432.4 76.3L431.7 76.8L430.9 77.2L430.1 77.7L429.4 78.2L428.6 78.9L427.8 79.5L427.1 80.1L426.3 80.8L425.5 81.4L424.8 82.0L424.0 82.7L423.2 83.3L422.5 83.9L421.7 84.6L420.9 85.2L420.2 85.7L419.4 86.1L418.6 86.4L417.9 86.8L417.1 87.2L416.3 87.5L415.6 87.9L414.8 88.2L414.0 88.6L413.3 89.0L412.5 89.3L411.7 89.7L411.0 89.9L410.2 90.1L409.4 90.3L408.7 90.4L407.9 90.6L407.1 90.8L406.4 91.0L405.6 91.1L404.9 91.3L404.1 91.5L403.3 91.7L402.6 91.8L401.8 92.1L401.0 92.5L400.3 92.8L399.5 93.1L398.7 93.4L398.0 93.8L397.2 94.1L396.4 94.4L395.7 94.8L394.9 95.1L394.1 95.4L393.4 95.8Z" stroke="none" stroke-width="0" fill="#d9d9d9"/>
<rect x="357.50" y="97.46" width="1.3" height="23.74" fill="#d6d6d6"/>
<path d="M391.3 97.1h0M387.0 96.1h0M379.3 111.4h0M378.5 99.7h0M377.9 103.6h0M368.1 101.0h0M392.1 95.0h0M371.2 109.6h0M384.8 96.3h0M397.1 92.0h0M376.3 106.2h0M371.6 113.4h0M416.3 56.9h0M388.6 101.6h0M384.9 103.2h0M382.7 99.0h0M359.0 114.1h0M369.6 111.8h0M362.1 117.8h0M369.6 113.5h0M383.9 107.8h0M372.2 112.0h0M393.4 104.5h0M368.1 121.0h0M364.2 108.5h0M370.2 103.6h0M378.2 111.7h0M366.3 120.4h0M370.0 110.1h0M368.2 115.6h0M372.9 101.5h0M363.5 119.0h0M407.0 83.2h0M358.8 118.2h0M368.3 119.3h0M365.7 114.6h0M388.0 103.9h0M358.8 117.2h0M370.1 108.6h0M369.3 111.8h0M429.5 85.6h0M367.6 114.6h0M365.5 113.0h0M362.4 121.0h0M378.5 96.7h0M379.7 112.1h0M380.0 108.8h0M382.6 99.1h0M372.0 106.6h0M372.3 111.2h0M417.0 80.5h0M371.2 113.4h0M366.7 111.4h0M360.7 118.3h0M364.6 121.0h0M387.9 108.2h0M390.2 92.9h0M382.0 98.8h0M364.6 111.7h0M362.7 114.9h0M386.2 105.8h0M381.6 110.5h0M363.3 118.6h0M431.0 72.7h0M371.8 112.6h0M379.6 110.1h0M371.0 109.2h0M367.3 105.1h0M376.3 106.2h0M374.1 115.6h0M388.3 92.6h0M361.1 116.6h0M380.9 112.7h0M381.5 99.6h0M360.8 114.2h0M364.6 109.9h0M360.7 116.4h0M380.1 109.0h0M370.7 106.3h0M388.2 108.4h0M389.2 98.6h0M403.0 83.4h0M378.8 112.3h0M359.6 121.0h0M373.5 115.8h0M401.8 85.3h0M379.4 97.4h0M388.7 90.2h0M391.8 90.5h0M374.3 106.3h0M364.3 116.8h0M375.0 111.2h0M382.2 101.3h0M377.7 107.7h0M374.3 98.7h0M417.5 77.0h0M401.4 77.7h0M370.6 116.7h0M371.0 117.0h0M361.6 110.6h0M370.6 106.3h0M373.7 105.8h0M376.7 95.5h0M395.8 90.1h0M385.4 117.1h0M379.8 110.4h0M410.9 72.5h0M374.2 90.7h0M378.8 111.0h0M365.5 119.4h0M376.9 111.2h0M362.5 117.3h0M389.7 85.0h0M370.8 112.0h0M363.3 116.8h0M362.6 108.2h0M411.5 72.9h0M370.7 111.2h0M370.2 117.7h0M379.4 105.5h0M371.9 104.2h0M385.8 101.6h0M383.5 98.5h0M399.2 103.5h0M400.8 89.5h0M377.8 108.6h0M371.7 103.0h0M393.5 89.3h0M416.6 82.6h0M366.4 114.9h0M372.0 112.0h0M361.6 109.0h0M387.4 96.4h0M391.9 105.5h0M398.2 89.6h0M363.9 113.0h0M364.1 117.4h0M387.3 106.2h0M398.7 110.6h0M373.5 106.1h0M364.8 121.0h0M382.0 103.0h0M366.9 113.2h0M367.8 115.7h0M361.1 121.0h0M383.3 102.1h0M379.3 108.2h0M363.9 121.0h0M377.7 104.8h0M395.0 84.2h0M360.0 110.8h0M388.5 107.7h0M394.5 106.4h0M379.4 97.9h0M360.3 112.3h0M368.3 109.1h0M446.3 69.8h0M366.0 112.5h0M365.7 116.4h0M387.5 94.8h0M366.5 101.7h0M383.8 104.8h0M379.1 93.3h0M370.9 111.6h0M389.8 88.8h0" stroke="#808080" stroke-width="2.6" fill="none" stroke-linecap="round" stroke-opacity="0.27"/>
<path d="M364.3 106.6h0M391.0 99.0h0M369.0 118.2h0M371.4 108.9h0M375.9 110.9h0M381.7 101.2h0M368.7 113.6h0M372.1 108.9h0M384.0 101.0h0M378.3 103.5h0M378.7 93.5h0M377.7 115.1h0M372.3 107.4h0M369.0 111.3h0M387.0 101.4h0M358.6 121.0h0M384.2 97.2h0M372.0 111.6h0M371.2 100.4h0M379.5 103.5h0M372.3 102.5h0M421.9 72.0h0M393.6 90.3h0M363.0 120.8h0M369.6 109.2h0M379.4 96.3h0M357.4 118.8h0M369.9 101.4h0M366.0 115.2h0M371.0 114.4h0M374.9 112.3h0M378.2 100.5h0M417.4 76.9h0M421.3 75.6h0M365.5 110.0h0M422.9 102.0h0M373.3 103.9h0M393.8 102.5h0M374.6 102.2h0M365.8 109.0h0M368.8 121.0h0M369.9 121.0h0M408.5 84.6h0M369.4 107.4h0M383.1 111.5h0M398.7 79.6h0M373.3 115.1h0M363.8 111.5h0M368.1 116.3h0M367.5 106.8h0M382.1 89.9h0M378.4 97.3h0M368.7 121.0h0M373.6 100.9h0M360.3 109.8h0M390.4 94.3h0M380.6 102.2h0M380.8 108.8h0M386.4 101.5h0M370.1 112.0h0M366.7 112.5h0M361.9 110.7h0M363.4 105.8h0M364.1 112.5h0M368.3 111.6h0M368.5 107.6h0M378.1 95.3h0M374.9 110.2h0M375.7 103.6h0M378.5 117.4h0M390.0 99.8h0M368.7 116.1h0M375.0 109.9h0M381.9 103.8h0M369.2 111.4h0M362.7 120.1h0M364.4 116.8h0M414.6 69.6h0M369.8 118.7h0M374.6 106.5h0M372.4 115.7h0M394.2 108.3h0M413.9 71.8h0M383.2 105.5h0M375.3 107.7h0M403.2 88.3h0M365.9 115.4h0M367.1 121.0h0M357.9 121.0h0M369.7 109.8h0M368.3 114.0h0M433.8 72.9h0M359.1 117.0h0M377.5 111.4h0M397.5 82.7h0M379.7 104.1h0M378.1 114.9h0M366.8 116.6h0M407.7 75.7h0M384.7 98.5h0M379.9 107.6h0M413.4 80.5h0M385.7 105.5h0M371.3 100.0h0M368.5 116.2h0M361.0 120.9h0M371.2 107.0h0M372.7 113.5h0M371.0 121.0h0M375.3 110.2h0M362.2 113.6h0M382.8 109.9h0M433.1 71.5h0M373.7 105.1h0M358.0 111.3h0M359.5 118.7h0M441.3 77.7h0M361.1 118.8h0M377.6 111.5h0M373.1 110.6h0M361.0 111.9h0M374.5 113.9h0M384.7 97.6h0M396.1 91.4h0M383.3 99.6h0M367.1 111.8h0M390.1 97.0h0M359.2 118.4h0M376.1 109.1h0M375.8 106.2h0M366.0 117.9h0M380.1 103.0h0M366.5 116.9h0M384.1 107.6h0M393.4 92.1h0M373.6 108.5h0M393.8 93.9h0M362.3 117.7h0M364.6 118.0h0M368.2 121.0h0M359.0 114.6h0M389.1 107.6h0M364.9 115.1h0M379.6 120.4h0M371.8 109.1h0M396.9 98.6h0M385.9 96.9h0M366.8 110.4h0M376.7 102.0h0M396.7 91.3h0M365.0 108.6h0M371.9 107.8h0M430.2 67.0h0M366.2 111.8h0M387.3 96.0h0M380.5 104.9h0M378.5 108.8h0M386.0 97.6h0M373.0 109.3h0M387.8 99.2h0M370.4 106.4h0M362.4 115.4h0M371.4 120.6h0M366.4 110.3h0M360.7 118.5h0" stroke="#808080" stroke-width="2.6" fill="none" stroke-linecap="round" stroke-opacity="0.27"/>
<path d="M371.4 102.5h0M360.4 112.5h0M370.0 103.0h0M361.4 114.7h0M374.4 100.7h0M370.4 106.4h0M360.8 121.0h0M385.3 108.5h0M363.2 111.4h0M364.1 113.7h0M369.1 107.3h0M391.1 95.5h0M396.4 102.6h0M365.6 120.4h0M368.7 118.2h0M387.6 104.3h0M366.6 115.3h0M369.7 110.0h0M365.1 108.9h0M396.4 101.8h0M362.3 119.2h0M358.1 121.0h0M403.9 88.4h0M378.6 103.7h0M362.3 120.2h0M369.5 118.4h0M367.0 115.8h0M363.2 114.5h0M361.3 115.2h0M375.4 100.4h0M389.4 95.3h0M359.7 120.0h0M362.8 108.1h0M365.2 114.9h0M367.4 119.0h0M365.5 116.0h0M365.8 112.2h0M379.4 105.8h0M371.3 110.9h0M390.5 92.6h0M362.2 121.0h0M362.7 121.0h0M409.0 116.5h0M401.5 84.0h0M370.9 103.0h0M378.8 102.4h0M371.3 114.5h0M359.4 115.6h0M372.9 111.2h0M364.4 111.0h0M394.7 97.2h0M378.3 107.1h0M428.3 83.3h0M445.9 68.6h0M358.6 110.6h0M385.7 107.4h0M400.6 90.0h0M374.5 103.7h0M380.3 105.2h0M374.4 101.0h0M369.8 112.6h0M387.6 99.9h0M361.9 115.6h0M361.8 120.0h0M378.2 112.8h0M392.0 104.5h0M362.7 108.0h0M396.4 100.5h0M367.8 119.8h0M379.8 103.4h0M361.9 113.7h0M362.4 121.0h0M376.8 109.2h0M368.6 115.9h0M379.9 100.1h0M361.0 109.8h0M388.0 104.0h0M378.8 106.6h0M412.6 78.7h0M370.5 111.8h0M361.0 116.5h0M395.2 91.4h0M368.4 107.4h0M360.2 118.4h0M369.7 121.0h0M365.1 120.2h0M362.1 115.3h0M385.0 91.1h0M378.8 107.8h0M368.2 115.5h0M372.5 104.7h0M375.2 99.9h0M360.2 109.3h0M421.4 71.0h0M361.9 115.0h0M362.9 112.6h0M359.1 117.0h0M362.4 121.0h0M383.5 88.2h0M377.4 113.5h0M378.7 103.7h0M369.5 118.6h0M371.5 102.5h0M378.5 94.9h0M385.1 106.9h0M357.9 114.4h0M369.2 115.9h0M360.5 116.5h0M363.0 117.2h0M413.0 84.7h0M358.8 115.5h0M366.9 113.9h0M378.5 119.5h0M368.0 116.3h0M383.0 100.4h0M371.1 111.6h0M359.1 116.5h0M383.3 100.7h0M366.2 110.3h0M379.1 106.3h0M388.0 103.6h0M368.0 109.7h0M362.2 113.9h0M394.7 92.1h0M369.7 121.0h0M365.9 103.7h0M375.6 116.3h0M365.1 112.6h0M362.1 121.0h0M370.4 108.0h0M386.8 88.8h0M380.7 106.2h0M424.6 73.3h0M374.6 119.1h0M360.6 116.6h0M416.2 72.3h0M372.1 110.2h0M379.9 110.4h0M384.2 111.4h0M361.7 115.8h0M441.6 72.2h0M369.9 115.6h0M377.2 105.3h0M364.6 117.9h0M366.7 101.9h0M371.2 111.0h0M364.2 107.9h0M366.7 112.4h0M370.4 116.5h0M388.7 92.1h0M376.6 110.4h0M390.0 92.4h0M366.2 113.9h0M379.1 102.3h0M367.1 118.2h0M360.4 115.3h0M370.8 108.2h0M389.4 102.7h0M378.9 100.8h0M379.5 95.8h0M374.7 99.1h0M369.7 105.7h0M387.7 95.1h0M376.0 101.3h0M380.1 110.0h0" stroke="#808080" stroke-width="2.6" fill="none" stroke-linecap="round" stroke-opacity="0.27"/>
<path d="M361.9 113.1h0M358.3 119.5h0M367.7 107.8h0M383.3 93.4h0M373.6 109.0h0M368.4 113.3h0M365.3 114.7h0M391.9 91.7h0M380.5 92.0h0M412.8 94.2h0M363.4 106.2h0M366.0 119.3h0M378.8 104.3h0M364.5 116.0h0M394.6 96.9h0M362.8 121.0h0M386.4 108.8h0M358.3 114.2h0M399.0 86.2h0M367.5 107.6h0M363.7 118.9h0M376.4 117.2h0M375.3 114.8h0M365.2 119.8h0M367.8 113.4h0M409.2 76.4h0M370.1 121.0h0M424.6 53.5h0M379.5 109.8h0M371.9 112.9h0M362.2 115.9h0M392.2 95.8h0M368.7 107.9h0M389.4 104.6h0M366.3 119.6h0M381.5 103.3h0M413.4 71.4h0M366.3 121.0h0M370.4 109.3h0M372.9 107.4h0M360.3 121.0h0M368.3 119.1h0M373.9 111.4h0M407.8 83.6h0M360.0 110.9h0M399.0 90.3h0M366.1 107.3h0M372.6 109.5h0M359.5 116.0h0M391.9 88.6h0M369.4 116.9h0M400.4 97.0h0M368.2 107.5h0M369.2 111.8h0M378.6 112.8h0M369.1 114.5h0M364.3 117.0h0M384.7 96.4h0M376.8 105.8h0M386.6 99.8h0M402.1 81.9h0M405.5 82.3h0M364.9 117.4h0M373.6 108.1h0M359.3 121.0h0M373.7 109.6h0M402.4 93.0h0M376.1 108.3h0M387.1 88.1h0M381.9 112.5h0M369.3 110.0h0M363.9 117.6h0M375.6 110.1h0M391.8 93.7h0M384.2 107.7h0M369.9 110.5h0M373.7 105.8h0M402.6 92.3h0M383.8 98.9h0M378.0 107.5h0M361.4 107.2h0M367.4 112.5h0M385.5 106.5h0M380.9 110.7h0M366.6 114.7h0M382.2 107.7h0M362.6 114.6h0M388.4 106.3h0M365.4 115.3h0M382.0 89.6h0M392.0 95.7h0M432.4 41.5h0M359.0 114.0h0M371.5 107.8h0M422.2 78.5h0M378.2 103.0h0M364.1 115.3h0M362.0 117.2h0M376.6 103.7h0M371.2 120.5h0M398.3 90.2h0M379.1 101.7h0M364.3 110.0h0M361.4 110.7h0M385.7 97.5h0M361.4 117.0h0M378.1 106.4h0M379.6 112.5h0M412.2 69.4h0M400.1 90.1h0M414.8 82.5h0M361.0 121.0h0M379.6 107.7h0M370.2 108.4h0M377.2 96.1h0M410.8 104.5h0M391.6 92.4h0M389.6 96.3h0M362.0 121.0h0M396.9 85.4h0M366.0 117.2h0M364.0 114.2h0M370.0 116.5h0M361.7 109.6h0M370.5 113.4h0M360.9 121.0h0M370.2 112.2h0M368.9 108.6h0M388.6 101.6h0M364.2 111.7h0M358.1 108.1h0M369.6 119.1h0M366.7 110.5h0M389.1 95.2h0M385.4 97.9h0M382.8 107.7h0M376.2 119.0h0M365.5 110.2h0M365.0 121.0h0M359.8 121.0h0M383.0 106.1h0M360.3 120.1h0M371.5 111.6h0M374.1 121.0h0M367.5 115.2h0M385.4 94.0h0M417.0 85.1h0M375.8 108.8h0M394.8 90.7h0M405.1 89.9h0M379.1 95.2h0M377.5 111.3h0M408.1 67.8h0M370.7 115.1h0M366.9 106.0h0M361.9 114.0h0M370.3 121.0h0M368.0 110.3h0M395.3 91.4h0M370.5 110.2h0M382.8 104.3h0M376.8 94.9h0M389.6 96.3h0M365.2 121.0h0M367.2 117.9h0" stroke="#808080" stroke-width="2.6" fill="none" stroke-linecap="round" stroke-opacity="0.27"/>
<path d="M366.6 108.6h0M380.2 102.6h0M363.3 106.7h0M369.7 113.2h0M378.0 102.6h0M374.8 101.0h0M393.1 90.8h0M365.2 119.7h0M427.8 73.1h0M375.1 103.8h0M372.0 111.7h0M370.4 108.4h0M359.6 121.0h0M375.1 106.3h0M405.7 80.5h0M372.0 106.1h0M365.6 113.6h0M372.4 105.3h0M400.4 82.8h0M386.1 101.3h0M361.9 113.7h0M362.8 120.1h0M369.7 110.3h0M408.3 80.3h0M373.2 113.2h0M360.6 114.0h0M364.2 116.0h0M415.5 68.5h0M382.9 95.0h0M384.3 99.8h0M365.9 107.2h0M405.3 91.1h0M362.8 106.5h0M397.5 93.5h0M377.0 110.7h0M377.0 107.2h0M371.4 106.7h0M364.5 119.8h0M371.5 104.9h0M360.7 108.0h0M382.3 102.0h0M361.9 120.6h0M380.5 100.1h0M365.0 120.1h0M372.3 105.7h0M378.1 101.1h0M376.2 108.9h0M366.1 110.6h0M392.5 97.6h0M378.3 110.4h0M408.4 69.0h0M398.1 100.4h0M367.6 111.3h0M370.5 114.7h0M361.3 109.5h0M386.3 103.2h0M372.5 111.6h0M379.6 105.9h0M375.5 105.5h0M374.2 106.3h0M380.9 105.1h0M374.4 113.5h0M368.9 119.0h0M386.6 103.0h0M382.4 104.9h0M374.7 105.8h0M363.5 113.2h0M361.0 120.2h0M404.0 85.4h0M372.4 107.0h0M359.8 119.9h0M359.9 115.3h0M381.4 99.5h0M384.6 105.9h0M361.8 114.4h0M364.7 112.0h0M378.1 97.2h0M385.6 96.8h0M369.3 111.0h0M394.4 100.1h0M369.9 98.9h0M367.4 111.1h0M391.0 94.9h0M369.2 113.0h0M372.3 102.9h0M367.6 110.4h0M363.7 118.2h0M361.3 108.7h0M361.5 118.2h0M370.6 118.3h0M367.1 108.6h0M375.7 97.9h0M374.1 106.5h0M387.0 102.7h0M388.0 104.5h0M387.2 99.5h0M363.3 113.4h0M386.4 101.4h0M380.7 106.9h0M391.9 100.6h0M384.9 93.8h0M381.3 104.1h0M364.4 107.8h0M365.6 115.7h0M359.6 112.5h0M373.6 104.0h0M362.3 113.0h0M377.3 103.8h0M411.4 80.7h0M375.7 104.9h0M363.6 119.6h0M384.3 98.7h0M379.0 101.1h0M370.7 110.2h0M417.7 66.8h0M364.7 116.1h0M384.4 101.4h0M393.6 98.2h0M359.9 117.2h0M395.0 91.0h0M364.3 116.6h0M372.8 120.1h0M360.0 115.1h0M366.3 114.3h0M359.1 115.1h0M413.2 83.0h0M389.5 103.6h0M414.0 72.7h0M364.2 112.5h0M382.7 105.1h0M366.6 118.2h0M378.8 93.5h0M363.1 113.3h0M369.6 109.9h0M360.1 119.7h0M372.5 110.3h0M389.6 98.2h0M382.3 113.5h0M367.7 116.0h0M377.0 109.9h0M376.6 113.3h0M367.7 116.0h0M364.6 116.9h0M368.4 106.0h0M366.0 109.6h0M386.9 99.8h0M372.7 110.7h0M381.8 111.0h0M371.8 99.6h0M376.8 103.4h0M369.1 107.4h0M378.9 109.6h0M366.9 111.9h0M383.3 88.8h0M371.2 115.2h0M393.9 89.6h0M382.7 101.3h0M384.7 93.6h0M371.1 118.5h0M359.2 121.0h0M363.2 117.1h0M409.0 87.0h0M363.9 116.6h0M392.7 94.5h0M402.9 99.7h0" stroke="#808080" stroke-width="2.6" fill="none" stroke-linecap="round" stroke-opacity="0.27"/>
<path d="M399.2 72.7h0M364.2 115.9h0M371.0 115.3h0M375.4 99.5h0M394.3 96.5h0M366.1 121.0h0M388.8 91.2h0M380.0 93.0h0M388.5 102.8h0M389.3 94.8h0M359.5 117.6h0M365.9 121.0h0M364.4 117.9h0M365.5 113.5h0M366.8 112.7h0M409.7 74.6h0M375.3 108.6h0M376.1 113.2h0M365.1 109.4h0M376.3 107.9h0M374.5 104.4h0M407.3 69.7h0M380.4 107.7h0M376.9 112.1h0M366.4 121.0h0M388.8 102.7h0M362.5 111.0h0M402.5 79.4h0M369.4 106.9h0M371.8 102.5h0M364.1 114.3h0M382.3 104.3h0M361.9 119.6h0M368.7 110.8h0M360.7 121.0h0M380.8 97.7h0M372.9 121.0h0M396.2 97.2h0M374.4 112.8h0M365.5 116.9h0M370.7 107.2h0M360.0 112.8h0M377.5 105.9h0M366.5 111.3h0M372.8 102.0h0M377.7 99.6h0M378.4 102.1h0M363.9 115.0h0M383.3 94.8h0M377.5 107.2h0M368.9 115.5h0M377.7 104.2h0M391.7 100.7h0M367.8 112.6h0M381.9 97.5h0M383.3 108.7h0M368.7 114.7h0M364.8 112.3h0M387.6 96.3h0M399.2 87.3h0M365.0 114.9h0M389.5 101.7h0M374.4 110.7h0M378.3 106.9h0M378.4 111.1h0M396.4 98.7h0M408.1 81.4h0M360.3 115.9h0M377.1 102.1h0M379.1 113.9h0M377.4 103.5h0M358.3 112.8h0M369.0 112.7h0M379.5 111.9h0M404.0 75.8h0M417.1 66.6h0M363.5 118.5h0M360.8 110.5h0M377.8 104.6h0M402.5 74.9h0M393.2 93.4h0M361.6 117.6h0M369.8 114.8h0M359.0 115.7h0M377.5 111.4h0M400.8 82.9h0M378.6 102.3h0M391.7 90.4h0M421.3 74.3h0M376.0 108.3h0M387.9 90.8h0M359.6 116.0h0M365.9 121.0h0M417.5 73.2h0M384.7 95.2h0M383.2 95.3h0M374.6 115.4h0M374.1 103.9h0M372.5 111.0h0M381.9 88.0h0M390.1 97.6h0M399.8 78.6h0M389.5 95.0h0M389.1 94.1h0M366.6 121.0h0M364.1 121.0h0M390.3 100.1h0M397.1 96.2h0M381.1 105.8h0M366.5 119.0h0M373.7 110.9h0M374.7 106.3h0M372.5 113.2h0M371.1 119.4h0M398.7 88.4h0M386.7 87.5h0M384.4 96.1h0M365.1 113.8h0M369.5 110.9h0M368.9 115.7h0M368.0 111.3h0M375.1 101.2h0M359.6 114.9h0M367.0 114.9h0M391.5 99.4h0M382.7 103.6h0M359.9 113.6h0M368.7 115.2h0M389.2 100.6h0M367.5 121.0h0M374.3 115.8h0M376.0 104.9h0M374.7 114.2h0M368.9 113.8h0M408.9 78.4h0M366.7 112.0h0M360.2 117.9h0M383.0 104.2h0M365.2 117.6h0M374.2 120.2h0M378.7 91.6h0M402.6 74.5h0M359.7 112.7h0M370.0 107.1h0M392.9 101.0h0M388.6 98.0h0M363.9 120.7h0M395.3 94.9h0M364.0 117.8h0M399.4 99.9h0M380.4 109.5h0M373.0 121.0h0M358.8 118.2h0M419.9 74.4h0M387.3 95.1h0M409.0 80.8h0M367.5 116.7h0M388.8 100.8h0M358.0 119.4h0M367.7 115.9h0M387.1 102.2h0M380.4 110.1h0M363.2 110.5h0M384.8 95.9h0M363.1 115.7h0" stroke="#808080" stroke-width="2.6" fill="none" stroke-linecap="round" stroke-opacity="0.27"/>
<path d="M402.7 82.6h0M365.6 121.0h0M359.1 116.3h0M375.7 96.7h0M358.8 121.0h0M375.2 101.2h0M396.2 93.9h0M368.8 107.4h0M372.1 110.4h0M379.6 109.0h0M380.7 91.1h0M371.8 97.8h0M375.1 116.8h0M396.2 91.8h0M361.4 111.2h0M363.6 117.4h0M400.9 86.6h0M383.4 92.9h0M380.2 107.8h0M441.3 60.1h0M371.0 105.0h0M376.0 106.0h0M385.3 89.9h0M362.6 112.8h0M362.8 121.0h0M389.0 104.0h0M381.3 103.9h0M360.4 118.8h0M359.3 117.3h0M367.5 114.9h0M366.0 116.7h0M362.0 113.5h0M359.5 114.6h0M373.5 104.3h0M361.4 114.7h0M359.5 121.0h0M365.3 119.8h0M385.4 110.8h0M389.1 95.5h0M367.0 119.3h0M362.5 120.8h0M372.0 112.1h0M364.7 119.5h0M389.1 106.0h0M376.6 103.2h0M367.2 117.2h0M377.2 108.6h0M367.4 110.6h0M363.5 109.2h0M382.3 100.8h0M381.0 91.5h0M373.5 110.7h0M369.9 97.9h0M363.0 120.7h0M361.3 111.6h0M363.8 115.7h0M371.0 108.7h0M409.7 77.5h0M381.3 110.6h0M370.1 104.3h0M374.1 115.4h0M375.0 103.8h0M386.8 107.0h0M384.7 87.2h0M366.9 115.5h0M405.8 89.6h0M374.8 102.9h0M398.9 90.5h0M373.0 113.2h0M384.5 98.1h0M369.6 115.2h0M371.6 114.9h0M366.7 110.9h0M379.9 121.0h0M360.2 120.6h0M361.6 115.5h0M401.5 84.3h0M366.8 121.0h0M367.3 114.8h0M402.2 73.7h0M363.6 121.0h0M394.2 93.4h0M366.1 116.3h0M376.8 111.6h0M366.3 118.5h0M371.3 105.6h0M363.0 113.3h0M383.8 101.8h0M360.9 110.6h0M387.1 91.4h0M362.1 115.0h0M371.2 108.1h0M393.2 93.6h0M391.5 72.3h0M371.2 114.5h0M408.6 81.4h0M380.9 104.8h0M360.3 111.8h0M415.4 82.6h0M386.8 98.5h0M379.0 105.0h0M378.5 99.7h0M367.9 120.1h0M385.5 95.2h0M368.6 107.4h0M368.7 112.9h0M375.4 106.2h0M373.2 105.0h0M379.3 105.4h0M376.4 99.7h0M396.2 94.2h0M372.5 117.0h0M360.2 117.9h0M359.9 121.0h0M394.1 86.1h0M398.4 92.6h0M392.5 99.9h0M388.6 93.5h0M385.2 101.8h0M390.7 80.7h0M362.2 118.9h0M368.6 112.6h0M404.9 90.9h0M369.9 111.7h0M367.7 118.6h0M361.9 121.0h0M387.6 93.0h0M382.1 109.8h0M362.1 117.2h0M382.7 100.8h0M359.0 121.0h0M358.3 117.0h0M408.5 101.1h0M373.3 121.0h0M386.4 105.0h0M404.3 78.8h0M374.5 101.2h0M381.9 108.0h0M366.3 109.0h0M365.3 107.9h0M383.5 91.9h0M372.3 100.5h0M370.4 116.7h0M402.4 78.7h0M360.2 116.8h0M392.5 93.5h0M364.9 109.6h0M377.3 108.1h0M388.7 100.4h0M367.0 110.2h0M364.1 119.5h0M358.4 108.7h0M376.3 103.8h0M377.6 102.9h0M361.4 116.2h0M379.9 105.2h0M362.7 119.7h0M416.5 74.5h0M361.5 118.8h0M364.3 113.0h0M370.8 111.0h0M373.9 102.7h0M361.7 121.0h0M370.0 116.6h0M389.4 105.4h0" stroke="#808080" stroke-width="2.6" fill="none" stroke-linecap="round" stroke-opacity="0.27"/>
<path d="M373.2 110.3h0M366.8 121.0h0M381.9 105.9h0M392.6 93.2h0M381.0 98.3h0M380.1 99.5h0M381.7 101.8h0M375.6 114.2h0M358.5 111.6h0M366.6 110.0h0M362.2 111.1h0M407.0 88.3h0M369.1 110.4h0M361.5 116.3h0M396.8 94.6h0M405.0 92.0h0M369.9 121.0h0M376.1 109.7h0M422.2 94.9h0M374.1 110.2h0M382.6 106.4h0M391.9 98.8h0M381.2 117.0h0M366.7 114.0h0M372.4 105.8h0M426.4 70.8h0M359.1 115.1h0M358.8 121.0h0M363.9 113.0h0M368.4 113.8h0M371.1 118.7h0M397.5 76.5h0M372.6 110.9h0M378.2 104.8h0M372.0 116.2h0M389.5 105.2h0M366.2 108.9h0M369.6 116.0h0M370.6 113.7h0M372.0 115.0h0M361.9 114.9h0M367.1 114.0h0M368.2 109.8h0M409.8 87.9h0M364.2 112.7h0M375.2 107.4h0M363.0 112.4h0M366.1 116.3h0M365.5 113.1h0M370.1 108.9h0M371.6 110.0h0M362.9 115.4h0M361.3 118.9h0M365.3 117.3h0M367.9 114.6h0M379.9 111.8h0M359.3 116.8h0M377.2 106.3h0M403.2 92.6h0M359.4 115.2h0M378.1 105.0h0M366.1 112.4h0M421.3 95.1h0M373.1 109.2h0M369.7 114.1h0M376.6 107.6h0M382.1 88.7h0M366.2 105.6h0M381.5 96.4h0M360.2 117.5h0M379.3 94.2h0M413.9 72.0h0M373.0 101.3h0M413.9 82.6h0M362.9 114.4h0M395.9 97.9h0M378.2 101.9h0M365.7 116.4h0M371.4 108.1h0M378.2 113.8h0M389.7 96.8h0M372.3 104.8h0M399.3 87.4h0M394.7 96.8h0M367.8 119.4h0M369.3 107.2h0M429.0 76.7h0M358.3 112.1h0M366.6 111.6h0M370.7 113.3h0M386.2 100.1h0M361.5 119.9h0M378.3 100.3h0M362.5 115.9h0M362.3 113.1h0M362.3 117.4h0M373.9 116.3h0M410.4 79.9h0M373.9 115.5h0M375.5 112.9h0M370.4 121.0h0M379.1 105.6h0M367.4 116.6h0M365.3 118.9h0M372.5 108.5h0M375.1 99.3h0M373.1 107.9h0M403.7 92.9h0M392.3 92.0h0M372.0 111.1h0M376.5 117.7h0M376.2 110.6h0M371.2 121.0h0M375.1 97.6h0M367.5 121.0h0M388.3 96.7h0M385.4 99.4h0M367.6 117.5h0M376.2 100.2h0M395.2 95.2h0M384.6 98.6h0M377.6 103.6h0M388.2 94.3h0M366.5 121.0h0M394.5 101.7h0M369.4 107.6h0M401.7 86.5h0M383.2 102.8h0M382.1 93.0h0M380.5 100.8h0M388.1 97.0h0M361.9 121.0h0M422.8 73.1h0M379.9 104.0h0M387.1 90.6h0M374.7 113.2h0M387.6 100.4h0M379.6 99.2h0M369.6 106.8h0M380.7 100.6h0M378.1 104.5h0M372.3 120.6h0M382.0 105.8h0M382.8 106.6h0M358.2 120.4h0M362.7 118.9h0M395.8 82.6h0M386.7 105.4h0M365.7 110.3h0M415.9 71.7h0M382.9 96.3h0M361.9 109.0h0M382.9 102.8h0M373.0 106.6h0M380.1 106.0h0M366.5 114.2h0M382.9 104.5h0M382.7 107.1h0M374.3 105.2h0M410.6 88.7h0M366.4 106.2h0M376.3 104.8h0M359.1 117.5h0M367.7 107.9h0M381.6 101.8h0" stroke="#808080" stroke-width="2.6" fill="none" stroke-linecap="round" stroke-opacity="0.27"/>
<path d="M381.3 107.4h0M369.7 112.7h0M367.8 118.2h0M371.7 113.5h0M368.3 115.4h0M371.8 109.9h0M366.0 121.0h0M376.2 101.6h0M380.4 95.4h0M375.7 112.7h0M360.8 119.1h0M368.9 110.1h0M377.7 106.6h0M368.1 96.9h0M384.1 95.6h0M365.1 101.9h0M366.7 118.1h0M381.4 107.0h0M377.8 105.8h0M382.1 110.9h0M374.8 109.7h0M386.3 105.5h0M373.5 109.4h0M370.2 115.0h0M396.5 90.1h0M384.0 102.5h0M366.3 118.4h0M363.9 106.4h0M377.4 105.1h0M371.1 104.9h0M375.0 102.8h0M390.7 94.2h0M360.4 119.0h0M378.0 101.5h0M372.5 109.8h0M388.0 97.9h0M379.6 102.6h0M379.5 105.1h0M361.6 119.1h0M367.6 115.2h0M366.5 114.5h0M378.5 111.3h0M367.2 110.7h0M369.6 110.6h0M370.5 115.1h0M393.4 97.8h0M383.7 97.9h0M399.6 88.1h0M379.3 98.9h0M377.0 112.6h0M369.2 117.7h0M368.9 116.9h0M365.5 117.4h0M369.1 106.9h0M360.4 121.0h0M389.6 95.4h0M361.5 120.1h0M367.1 119.7h0M378.7 101.8h0M360.7 110.2h0M409.9 73.1h0M407.3 98.8h0M372.6 104.5h0M376.6 108.0h0M407.3 77.6h0M361.3 106.4h0M365.5 114.3h0M362.2 109.8h0M387.4 97.9h0M394.1 94.8h0M384.6 93.8h0M371.6 116.1h0M365.1 110.4h0M364.5 118.4h0M369.3 108.4h0M411.7 88.7h0M379.8 83.8h0M380.3 105.5h0M381.3 97.2h0M374.7 106.4h0M383.3 103.4h0M365.5 121.0h0M381.1 101.8h0M384.5 106.8h0M372.5 119.3h0M380.1 101.0h0M381.6 99.5h0M373.7 101.3h0M367.1 112.5h0M378.7 104.5h0M379.2 110.6h0M369.8 121.0h0M387.2 104.2h0M369.1 110.9h0M388.3 94.2h0M372.2 108.2h0M374.8 116.1h0M372.0 111.9h0M419.0 73.7h0M400.7 86.7h0M362.5 120.4h0M414.0 79.0h0M375.9 114.7h0M377.7 118.1h0M409.3 79.4h0M365.6 121.0h0M369.2 113.7h0M370.7 109.0h0M364.3 117.2h0M399.2 94.7h0M386.8 89.9h0M368.8 121.0h0M371.0 111.2h0M401.7 89.2h0M381.1 111.2h0M368.7 105.7h0M386.1 93.9h0M366.3 115.9h0M411.6 76.4h0M363.9 110.7h0M365.4 101.5h0M418.3 70.7h0M408.4 93.4h0M373.5 111.4h0M364.4 121.0h0M384.2 116.1h0M398.3 81.4h0M359.3 117.0h0M371.1 119.7h0M358.5 117.4h0M427.8 72.5h0M366.2 116.2h0M374.6 103.7h0M367.8 110.0h0M392.2 91.7h0M371.7 105.3h0M382.9 91.6h0M367.9 114.5h0M384.4 97.3h0M361.5 121.0h0M375.9 113.7h0M392.7 96.7h0M366.3 112.8h0M378.0 106.1h0M364.3 118.7h0M361.3 104.0h0M361.0 115.5h0M365.2 116.0h0M377.3 68.5h0M369.3 109.5h0M365.3 121.0h0M370.5 112.2h0M372.3 112.2h0M363.6 108.3h0M362.3 106.5h0M397.0 96.7h0M369.7 103.1h0M390.5 98.2h0M376.0 105.0h0M394.7 110.2h0M377.6 115.0h0M384.6 100.7h0M376.0 97.9h0M367.6 109.3h0M372.6 119.4h0" stroke="#808080" stroke-width="2.6" fill="none" stroke-linecap="round" stroke-opacity="0.27"/>
<path d="M363.8 121.0h0M359.9 113.2h0M388.2 105.3h0M393.4 96.6h0M371.2 119.0h0M357.4 117.0h0M380.3 103.3h0M376.4 108.2h0M380.9 114.0h0M364.4 119.3h0M369.0 104.8h0M367.7 121.0h0M376.0 97.8h0M395.2 97.2h0M403.9 83.6h0M382.7 99.1h0M382.2 107.6h0M368.8 120.9h0M392.4 95.8h0M364.4 109.1h0M394.9 97.3h0M394.7 89.8h0M401.7 83.9h0M363.2 111.5h0M360.2 121.0h0M404.6 66.2h0M359.3 106.4h0M422.1 72.6h0M389.4 100.9h0M371.2 117.5h0M359.8 119.7h0M376.8 98.3h0M372.4 107.0h0M378.3 100.3h0M362.9 116.0h0M386.1 103.3h0M373.5 106.3h0M413.3 78.5h0M361.1 105.4h0M377.5 108.4h0M397.6 96.1h0M375.0 107.7h0M394.7 91.2h0M362.5 110.9h0M434.1 57.7h0M386.9 98.8h0M388.3 100.8h0M368.4 111.7h0M364.7 114.8h0M373.5 116.9h0M363.4 112.0h0M366.1 117.8h0M357.7 118.2h0M367.6 115.7h0M376.3 101.6h0M363.0 118.8h0M379.8 102.7h0M365.9 115.8h0M397.0 78.6h0M390.7 99.0h0M389.1 91.2h0M361.9 116.5h0M388.0 105.6h0M390.5 97.6h0M386.3 107.2h0M359.2 116.7h0M369.7 117.6h0M372.4 99.4h0M390.0 96.6h0M400.4 85.9h0M399.0 80.7h0M384.9 102.6h0M391.0 100.6h0M392.9 96.6h0M365.3 119.9h0M368.1 109.8h0M365.3 114.3h0M399.8 91.2h0M380.5 94.0h0M416.2 87.7h0M397.6 97.5h0M367.6 110.4h0M437.7 68.4h0M367.5 115.9h0M375.6 111.0h0M374.7 105.9h0M377.9 104.9h0M378.1 98.3h0M422.8 64.6h0M411.4 78.9h0M383.7 109.4h0M378.2 99.3h0M376.5 101.7h0M358.6 113.4h0M383.9 99.5h0M382.0 94.2h0M371.2 105.5h0M404.0 96.6h0M391.5 91.7h0M361.3 111.1h0M409.8 79.4h0M366.1 119.3h0M374.8 112.0h0M407.5 88.0h0M379.4 103.1h0M379.9 110.6h0M389.1 102.8h0M381.0 105.9h0M379.8 87.3h0M373.7 106.3h0M361.1 113.3h0M371.3 112.3h0M365.5 102.6h0M387.2 90.1h0M371.7 112.9h0M363.5 120.3h0M366.9 114.1h0M377.2 107.9h0M441.2 66.4h0M363.6 113.7h0M366.6 112.3h0M384.8 98.4h0M366.0 107.6h0M390.3 95.7h0M374.7 112.1h0M375.3 106.2h0M395.5 95.1h0M386.3 97.8h0M378.8 105.1h0M371.3 109.3h0M368.9 109.1h0M365.2 120.1h0M367.9 109.3h0M370.6 104.6h0M383.4 98.0h0M395.5 77.8h0M371.6 118.3h0M382.6 92.0h0M371.1 113.4h0M401.1 81.6h0M398.3 92.2h0M361.1 112.1h0M369.1 109.9h0M360.1 120.7h0M375.1 105.3h0M358.9 101.8h0M370.0 119.1h0M378.6 112.3h0M366.2 121.0h0M360.2 119.1h0M370.0 112.2h0M357.4 116.8h0M386.0 95.6h0M372.6 108.2h0M406.5 77.9h0M407.4 79.5h0M388.8 91.4h0M373.2 112.2h0M382.1 109.4h0M392.7 97.0h0M368.7 114.6h0M399.5 86.9h0M386.2 99.2h0M374.3 108.5h0M373.6 107.0h0" stroke="#808080" stroke-width="2.6" fill="none" stroke-linecap="round" stroke-opacity="0.27"/>
<path d="M433.9 56.3h0M368.3 112.3h0M389.9 107.4h0M369.8 115.9h0M362.6 114.1h0M368.7 107.9h0M362.8 116.5h0M384.2 101.3h0M387.0 109.7h0M387.1 96.3h0M384.6 99.1h0M390.9 94.9h0M373.2 102.6h0M364.9 104.1h0M381.0 115.4h0M362.9 119.8h0M400.5 79.4h0M378.9 100.7h0M394.4 98.8h0M361.4 109.4h0M419.9 76.7h0M411.1 91.6h0M358.5 115.0h0M385.3 104.9h0M389.8 107.5h0M379.8 117.3h0M361.8 118.2h0M359.5 114.8h0M366.0 121.0h0M389.1 100.1h0M359.9 115.1h0M360.3 121.0h0M413.2 93.2h0M387.6 96.2h0M369.4 88.4h0M365.5 112.2h0M383.7 108.2h0M362.6 114.9h0M365.0 112.7h0M371.6 106.7h0M386.8 92.7h0M381.7 116.0h0M369.9 109.9h0M376.5 100.8h0M378.8 103.6h0M383.6 94.7h0M357.7 111.1h0M362.1 112.5h0M384.1 90.7h0M376.9 108.2h0M372.0 103.5h0M403.5 85.2h0M371.0 113.2h0M370.5 113.7h0M382.4 103.2h0M362.0 115.2h0M366.7 121.0h0M362.7 115.2h0M364.3 111.2h0M382.7 103.7h0M366.9 114.4h0M375.9 106.2h0M395.1 90.6h0M363.0 114.3h0M402.6 86.4h0M393.0 90.6h0M368.9 116.6h0M367.1 111.9h0M387.3 96.3h0M380.2 102.8h0M381.2 100.0h0M368.6 113.5h0M363.4 110.0h0M388.1 90.3h0M399.1 89.4h0M367.9 116.4h0M381.7 99.3h0M387.7 107.9h0M375.8 113.3h0M384.5 96.2h0M434.0 57.3h0M376.8 107.9h0M393.3 87.0h0M374.5 107.8h0M365.5 114.8h0M380.3 105.6h0M385.6 109.0h0M359.5 117.0h0M361.2 114.2h0M370.1 113.0h0M390.4 96.4h0M403.9 84.1h0M364.8 119.3h0M374.3 115.2h0M397.1 98.3h0M362.7 111.2h0M378.6 109.7h0M412.7 85.5h0M385.5 108.7h0M367.6 114.1h0M376.6 104.6h0M361.2 115.1h0M402.2 87.2h0M363.6 115.4h0M361.7 119.7h0M365.1 111.1h0M394.7 95.7h0M393.7 99.3h0M396.1 101.6h0M382.1 97.1h0M358.7 111.0h0M372.5 113.8h0M368.7 111.6h0M371.3 112.4h0M359.2 112.9h0M361.7 121.0h0M370.4 108.1h0M376.1 106.4h0M367.8 116.5h0M364.4 117.1h0M363.7 116.8h0M377.5 118.4h0M394.1 84.5h0M359.4 117.1h0M398.3 105.0h0M365.7 110.7h0M366.5 120.3h0M374.8 107.3h0M363.3 113.3h0M368.0 118.0h0M425.9 75.0h0M374.1 121.0h0M396.7 87.0h0M371.0 108.4h0M367.9 108.3h0M380.8 101.4h0M392.3 89.9h0M370.4 111.1h0M395.3 76.6h0M380.3 113.0h0M388.9 96.5h0M444.7 62.0h0M358.6 112.9h0M406.6 84.0h0M385.8 96.0h0M366.9 121.0h0M382.2 99.9h0M385.9 97.5h0M404.6 96.7h0M430.4 72.2h0M395.6 91.4h0M359.0 117.1h0M412.0 78.3h0M370.7 108.7h0M364.6 112.2h0M382.8 111.4h0M361.8 121.0h0M374.8 110.1h0M385.4 83.9h0M361.7 121.0h0M359.8 121.0h0M384.5 116.5h0M384.7 101.7h0M399.8 78.2h0" stroke="#808080" stroke-width="2.6" fill="none" stroke-linecap="round" stroke-opacity="0.27"/>
<path d="M383.1 97.5h0M423.4 76.9h0M358.8 121.0h0M373.5 107.5h0M360.6 110.8h0M389.9 96.7h0M393.9 89.5h0M373.8 117.0h0M368.3 106.5h0M375.4 109.3h0M386.1 115.7h0M360.5 112.5h0M389.9 98.2h0M376.1 97.8h0M386.4 111.1h0M392.9 101.9h0M364.4 113.6h0M411.9 85.7h0M373.6 111.8h0M376.8 108.4h0M391.2 90.2h0M386.9 96.6h0M408.6 76.8h0M393.8 97.5h0M364.1 121.0h0M384.6 97.6h0M389.3 103.9h0M362.5 121.0h0M369.5 98.1h0M394.6 93.4h0M375.2 99.9h0M374.0 106.7h0M370.1 113.3h0M370.4 116.8h0M379.7 103.2h0M379.0 102.4h0M376.1 105.3h0M382.7 90.9h0M399.6 90.5h0M364.1 119.7h0M405.0 90.8h0M375.2 101.5h0M363.5 108.5h0M395.2 86.6h0M370.1 113.1h0M372.9 105.6h0M370.0 115.5h0M375.5 102.3h0M366.9 119.3h0M358.0 120.1h0M427.4 78.7h0M387.2 101.7h0M363.0 108.7h0M406.0 97.8h0M359.2 117.6h0M365.8 118.1h0M416.1 82.7h0M382.9 91.8h0M363.4 116.1h0M377.2 93.0h0M371.6 118.0h0M383.4 102.1h0M373.5 115.9h0M384.4 98.3h0M378.1 99.3h0M368.9 98.9h0M364.0 116.0h0M373.8 113.1h0M379.6 104.6h0M363.3 113.2h0M387.5 102.3h0M380.7 105.8h0M390.4 102.6h0M398.2 96.2h0M379.8 104.8h0M363.7 115.9h0M364.9 120.3h0M370.3 110.3h0M388.9 95.5h0M366.4 115.4h0M366.4 117.4h0M368.7 116.5h0M360.6 117.4h0M361.0 111.4h0M360.7 121.0h0M365.3 109.8h0M395.9 88.1h0M358.0 121.0h0M377.4 108.4h0M392.5 89.7h0M381.5 111.5h0M388.4 95.9h0M395.1 92.7h0M436.9 59.8h0M392.9 95.4h0M367.5 121.0h0M363.4 113.6h0M376.9 109.5h0M362.7 112.9h0M358.9 120.8h0M377.0 102.6h0M373.4 111.4h0M359.6 108.1h0M408.6 87.4h0M371.5 99.0h0M367.0 119.1h0M375.2 105.1h0M383.8 96.1h0M375.5 103.2h0M359.3 115.5h0M364.4 112.8h0M390.0 89.1h0M393.7 102.0h0M376.2 103.2h0M359.9 121.0h0M390.2 113.5h0M395.1 87.5h0M422.2 60.6h0M403.9 77.1h0M372.9 111.3h0M414.2 81.9h0M365.7 119.7h0M371.4 112.0h0M366.1 109.9h0M413.7 82.2h0M382.2 97.2h0M364.6 119.2h0M367.7 119.6h0M366.5 120.6h0M361.6 117.8h0M385.4 112.2h0M368.6 117.2h0M379.6 110.1h0M357.9 117.3h0M363.8 116.9h0M385.8 99.6h0M358.8 121.0h0M367.0 110.5h0M364.8 116.3h0M361.8 113.1h0M365.3 114.3h0M390.7 103.8h0M405.9 80.6h0M396.4 91.3h0M376.7 104.1h0M368.7 101.6h0M414.2 82.6h0M371.0 110.9h0M402.9 86.4h0M373.3 113.9h0M388.7 104.0h0M373.3 112.1h0M372.6 117.3h0M371.2 106.6h0M373.6 106.3h0M360.6 121.0h0M373.0 112.1h0M387.4 105.9h0M381.8 109.7h0M363.9 119.0h0M406.6 90.0h0M385.0 106.7h0M368.3 120.3h0M373.1 114.5h0" stroke="#808080" stroke-width="2.6" fill="none" stroke-linecap="round" stroke-opacity="0.27"/>
<path d="M385.5 95.4h0M389.3 100.6h0M385.7 99.7h0M366.0 121.0h0M368.2 106.9h0M397.2 89.5h0M363.0 121.0h0M381.3 100.5h0M374.9 105.7h0M440.3 52.8h0M401.2 90.0h0M366.6 112.9h0M370.5 114.2h0M380.5 98.5h0M382.2 108.5h0M386.9 94.8h0M398.3 86.3h0M360.0 118.6h0M372.2 109.7h0M374.4 115.3h0M397.2 108.4h0M422.1 64.3h0M403.1 90.1h0M380.3 99.3h0M393.8 98.8h0M363.6 109.5h0M370.4 114.3h0M362.0 121.0h0M364.7 121.0h0M393.2 88.6h0M392.0 97.5h0M367.3 121.0h0M360.6 111.3h0M406.7 83.7h0M374.7 104.5h0M360.9 120.1h0M368.3 121.0h0M369.9 110.3h0M381.6 102.2h0M392.7 95.1h0M383.2 103.9h0M367.3 119.4h0M363.4 121.0h0M365.0 107.0h0M386.6 100.2h0M396.6 95.2h0M390.6 87.4h0M370.1 103.2h0M378.8 118.5h0M377.0 113.3h0M381.7 92.6h0M363.6 109.0h0M386.6 88.0h0M379.5 111.3h0M363.3 114.5h0M374.3 111.3h0M397.1 89.8h0M370.1 116.3h0M358.8 117.1h0M363.5 113.3h0M377.4 99.1h0M376.0 116.3h0M371.0 110.2h0M378.9 99.3h0M367.4 111.4h0M367.0 118.3h0M393.8 97.9h0M368.3 107.8h0M400.5 78.8h0M384.5 108.0h0M372.4 101.4h0M361.4 119.3h0M370.2 114.9h0M357.7 115.4h0M363.6 116.5h0M362.3 121.0h0M372.9 116.4h0M359.7 109.2h0M365.2 117.1h0M370.2 115.2h0M382.0 92.3h0M377.2 114.8h0M385.1 112.6h0M368.6 118.0h0M399.6 90.7h0M388.6 93.4h0M365.4 121.0h0M383.1 98.9h0M365.7 111.3h0M403.5 77.5h0M399.2 88.0h0M434.1 54.2h0M402.7 82.7h0M394.2 97.9h0M394.3 101.1h0M425.8 65.9h0M365.3 117.8h0M362.5 119.4h0M389.9 97.3h0M366.4 113.9h0M382.8 108.2h0M365.5 118.1h0M392.3 114.3h0M365.1 121.0h0M419.2 62.8h0M431.4 76.2h0M374.5 110.3h0M361.8 108.8h0M374.5 107.6h0M365.3 114.1h0M366.2 113.2h0M360.6 115.2h0M389.7 90.7h0M412.5 90.0h0M366.6 114.7h0M398.4 94.0h0M378.0 104.3h0M361.7 113.9h0M362.6 119.9h0M388.9 88.0h0M369.3 106.6h0M392.2 100.2h0M375.0 111.7h0M364.3 114.9h0M391.3 98.3h0M376.3 89.6h0M410.2 84.5h0M428.4 57.8h0M365.5 121.0h0M387.9 98.1h0M360.8 119.4h0M358.0 110.5h0M405.5 80.1h0M370.7 107.5h0M415.1 78.9h0M372.9 104.0h0M372.8 106.8h0M381.5 95.8h0M369.1 107.6h0M360.1 121.0h0M365.6 115.1h0M394.8 94.2h0M386.6 87.4h0M361.9 112.7h0M365.0 110.9h0M387.4 95.7h0M370.4 103.3h0M366.8 118.7h0M358.5 119.4h0M371.8 112.9h0M358.8 117.9h0M367.8 114.5h0M395.7 87.1h0M396.5 82.4h0M380.4 103.4h0M359.9 115.3h0M370.9 112.9h0M407.7 90.7h0M368.6 105.6h0M369.3 113.2h0M395.9 82.3h0M391.8 114.8h0M393.6 85.5h0M384.8 111.9h0" stroke="#808080" stroke-width="2.6" fill="none" stroke-linecap="round" stroke-opacity="0.27"/>
<path d="M360.6 116.9h0M408.1 83.5h0M368.6 108.5h0M359.9 114.5h0M382.5 96.8h0M431.9 66.4h0M379.4 102.4h0M384.3 92.8h0M360.5 112.3h0M364.6 121.0h0M368.1 111.0h0M371.0 109.9h0M396.6 96.3h0M360.7 114.8h0M367.5 118.1h0M370.1 102.2h0M376.8 102.4h0M380.9 104.2h0M382.8 105.6h0M385.9 103.6h0M372.7 110.9h0M363.7 119.2h0M360.4 112.6h0M409.0 85.9h0M370.3 110.0h0M403.1 96.2h0M396.2 96.1h0M364.0 105.9h0M383.0 100.3h0M389.8 92.6h0M361.4 115.3h0M368.9 121.0h0M394.0 101.5h0M360.2 119.3h0M368.8 119.2h0M378.8 106.3h0M379.6 102.2h0M373.4 109.0h0M365.0 113.2h0M364.3 118.3h0M390.8 96.9h0M366.4 117.6h0M415.7 79.6h0M373.0 108.4h0M396.4 89.4h0M420.5 78.9h0M410.7 74.6h0M380.3 108.1h0M379.6 107.9h0M364.5 115.6h0M386.3 97.3h0M384.4 102.8h0M369.8 110.7h0M380.2 105.7h0M375.3 106.4h0M394.5 91.8h0M444.5 50.6h0M383.5 97.3h0M364.7 115.2h0M417.6 68.7h0M416.4 66.7h0M398.6 103.8h0M396.8 96.1h0M362.1 109.0h0M380.1 102.5h0M389.1 94.7h0M402.4 80.5h0M359.6 109.4h0M365.0 114.9h0M371.4 104.1h0M374.9 110.4h0M369.5 116.7h0M375.3 116.1h0M368.9 104.5h0M384.3 105.3h0M375.9 107.3h0M376.5 110.3h0M378.2 116.9h0M392.9 96.1h0M421.5 62.3h0M365.5 108.7h0M368.9 118.4h0M371.4 114.0h0M370.8 119.6h0M370.3 103.3h0M380.0 108.6h0M372.9 112.1h0M374.7 101.1h0M362.9 111.1h0M365.8 116.6h0M365.1 111.9h0M378.0 108.4h0M412.2 88.1h0M377.5 108.4h0M393.1 107.3h0M373.3 108.1h0M371.6 106.3h0M374.0 117.9h0M370.7 114.7h0M375.3 102.5h0M362.6 111.5h0M376.9 111.9h0M364.4 108.7h0M371.1 100.8h0M383.2 103.4h0M399.9 86.9h0M368.8 113.3h0M368.2 111.7h0M360.2 121.0h0M401.7 87.4h0M375.3 111.5h0M375.6 103.8h0M369.6 103.0h0M389.8 92.4h0M376.2 111.8h0M368.6 115.2h0M365.5 120.4h0M386.5 106.6h0M364.8 121.0h0M371.3 107.1h0M370.5 99.8h0M396.4 94.6h0M410.7 83.0h0M390.5 99.2h0M375.9 107.1h0M395.9 90.2h0M385.4 98.1h0M392.7 91.8h0M375.2 105.1h0M360.8 115.5h0M369.9 116.2h0M369.0 117.2h0M380.4 110.4h0M441.6 77.2h0M364.7 121.0h0M376.4 96.1h0M363.4 109.9h0M377.3 99.3h0M391.7 85.2h0M383.0 103.5h0M377.3 107.0h0M358.2 121.0h0M368.8 121.0h0M417.1 81.2h0M365.6 117.2h0M391.7 85.9h0M398.6 100.6h0M358.9 121.0h0M374.2 114.4h0M358.0 115.5h0M377.9 107.0h0M361.1 121.0h0M360.0 109.9h0M404.7 86.7h0M367.7 111.3h0M378.6 101.9h0M361.0 121.0h0M379.3 110.3h0M372.0 112.8h0M360.2 121.0h0M372.5 108.7h0M369.2 111.4h0M358.7 116.1h0M378.4 104.8h0" stroke="#808080" stroke-width="2.6" fill="none" stroke-linecap="round" stroke-opacity="0.27"/>
<path d="M357.2 117.0L366.2 115.3L375.3 107.6L384.3 101.2L393.4 94.9L402.4 88.5L411.4 82.2L420.5 75.4L429.5 67.8L438.6 61.8L442.2 61.8L447.6 62.2" stroke="#3a3a3a" stroke-width="0.6" fill="none" stroke-linejoin="round"/>
<text x="412.00" y="30.24" text-anchor="middle">APOBEC1–nCas9-NG</text>
<text x="464.00" y="110.00" text-anchor="end"><tspan font-style="italic">R</tspan> = 0.89</text>
<text x="464.00" y="117.80" text-anchor="end"><tspan font-style="italic">n</tspan> = 2,306</text>
<line x1="491.80" y1="35.58" x2="491.80" y2="121.20" stroke="#ebebeb" stroke-width="0.5"/>
<line x1="518.80" y1="35.58" x2="518.80" y2="121.20" stroke="#ebebeb" stroke-width="0.5"/>
<line x1="545.80" y1="35.58" x2="545.80" y2="121.20" stroke="#ebebeb" stroke-width="0.5"/>
<line x1="572.80" y1="35.58" x2="572.80" y2="121.20" stroke="#ebebeb" stroke-width="0.5"/>
<line x1="599.80" y1="35.58" x2="599.80" y2="121.20" stroke="#ebebeb" stroke-width="0.5"/>
<line x1="491.80" y1="121.20" x2="599.80" y2="121.20" stroke="#ebebeb" stroke-width="0.5"/>
<line x1="491.80" y1="106.93" x2="599.80" y2="106.93" stroke="#ebebeb" stroke-width="0.5"/>
<line x1="491.80" y1="92.66" x2="599.80" y2="92.66" stroke="#ebebeb" stroke-width="0.5"/>
<line x1="491.80" y1="78.39" x2="599.80" y2="78.39" stroke="#ebebeb" stroke-width="0.5"/>
<line x1="491.80" y1="64.12" x2="599.80" y2="64.12" stroke="#ebebeb" stroke-width="0.5"/>
<line x1="491.80" y1="49.85" x2="599.80" y2="49.85" stroke="#ebebeb" stroke-width="0.5"/>
<line x1="491.80" y1="35.58" x2="599.80" y2="35.58" stroke="#ebebeb" stroke-width="0.5"/>
<line x1="491.80" y1="121.20" x2="599.80" y2="121.20" stroke="#4d4d4d" stroke-width="0.6"/>
<line x1="491.80" y1="35.58" x2="491.80" y2="121.20" stroke="#4d4d4d" stroke-width="0.6"/>
<line x1="491.80" y1="121.20" x2="491.80" y2="123.70" stroke="#4d4d4d" stroke-width="0.6"/>
<text x="491.80" y="132.24" text-anchor="middle">0</text>
<line x1="518.80" y1="121.20" x2="518.80" y2="123.70" stroke="#4d4d4d" stroke-width="0.6"/>
<text x="518.80" y="132.24" text-anchor="middle">20</text>
<line x1="545.80" y1="121.20" x2="545.80" y2="123.70" stroke="#4d4d4d" stroke-width="0.6"/>
<text x="545.80" y="132.24" text-anchor="middle">40</text>
<line x1="572.80" y1="121.20" x2="572.80" y2="123.70" stroke="#4d4d4d" stroke-width="0.6"/>
<text x="572.80" y="132.24" text-anchor="middle">60</text>
<line x1="599.80" y1="121.20" x2="599.80" y2="123.70" stroke="#4d4d4d" stroke-width="0.6"/>
<text x="599.80" y="132.24" text-anchor="middle">80</text>
<line x1="489.30" y1="121.20" x2="491.80" y2="121.20" stroke="#4d4d4d" stroke-width="0.6"/>
<text x="487.10" y="123.44" text-anchor="end">0</text>
<line x1="489.30" y1="106.93" x2="491.80" y2="106.93" stroke="#4d4d4d" stroke-width="0.6"/>
<text x="487.10" y="109.17" text-anchor="end">10</text>
<line x1="489.30" y1="92.66" x2="491.80" y2="92.66" stroke="#4d4d4d" stroke-width="0.6"/>
<text x="487.10" y="94.90" text-anchor="end">20</text>
<line x1="489.30" y1="78.39" x2="491.80" y2="78.39" stroke="#4d4d4d" stroke-width="0.6"/>
<text x="487.10" y="80.63" text-anchor="end">30</text>
<line x1="489.30" y1="64.12" x2="491.80" y2="64.12" stroke="#4d4d4d" stroke-width="0.6"/>
<text x="487.10" y="66.36" text-anchor="end">40</text>
<line x1="489.30" y1="49.85" x2="491.80" y2="49.85" stroke="#4d4d4d" stroke-width="0.6"/>
<text x="487.10" y="52.09" text-anchor="end">50</text>
<line x1="489.30" y1="35.58" x2="491.80" y2="35.58" stroke="#4d4d4d" stroke-width="0.6"/>
<text x="487.10" y="37.82" text-anchor="end">60</text>
<path d="M521.5 94.8L522.4 93.4L523.2 92.0L524.1 90.7L525.0 89.3L525.8 88.0L526.7 86.8L527.6 85.6L528.5 84.4L529.3 83.3L530.2 82.3L531.1 81.2L531.9 80.1L532.8 79.0L533.7 77.9L534.5 76.9L535.4 75.8L536.3 74.7L537.2 73.6L538.0 72.5L538.9 71.5L539.8 70.7L540.6 69.9L541.5 69.2L542.4 68.4L543.2 67.7L544.1 67.0L545.0 66.2L545.8 65.5L546.7 64.8L547.6 64.0L548.5 63.3L549.3 62.6L550.2 61.8L551.1 61.1L551.9 60.4L552.8 59.7L553.7 59.1L554.5 58.6L555.4 58.0L556.3 57.5L557.1 56.9L558.0 56.4L558.9 55.8L559.8 55.4L560.6 55.1L561.5 54.9L562.4 54.6L563.2 54.3L564.1 54.0L565.0 53.8L565.8 53.5L566.7 53.2L567.6 52.9L568.5 52.7L569.3 52.4L570.2 52.1L571.1 51.8L571.9 51.6L572.8 51.3L572.8 54.1L571.9 55.1L571.1 56.2L570.2 57.2L569.3 58.2L568.5 59.2L567.6 60.2L566.7 61.2L565.8 62.3L565.0 63.7L564.1 65.1L563.2 66.4L562.4 67.8L561.5 69.2L560.6 70.6L559.8 72.0L558.9 73.5L558.0 75.1L557.1 76.8L556.3 78.4L555.4 80.1L554.5 81.7L553.7 83.4L552.8 85.0L551.9 85.7L551.1 85.8L550.2 86.0L549.3 86.2L548.5 86.4L547.6 86.6L546.7 86.8L545.8 86.9L545.0 87.1L544.1 87.3L543.2 87.5L542.4 87.7L541.5 87.9L540.6 88.0L539.8 88.2L538.9 88.5L538.0 88.8L537.2 89.2L536.3 89.6L535.4 90.0L534.5 90.4L533.7 90.8L532.8 91.2L531.9 91.6L531.1 92.0L530.2 92.4L529.3 92.7L528.5 93.1L527.6 93.4L526.7 93.7L525.8 94.0L525.0 94.4L524.1 94.8L523.2 95.3L522.4 95.8L521.5 96.2Z" stroke="none" stroke-width="0" fill="#d9d9d9"/>
<rect x="492.10" y="35.58" width="1.3" height="85.62" fill="#d6d6d6"/>
<path d="M507.6 99.3h0M497.2 113.2h0M525.5 89.4h0M532.7 71.6h0M498.1 108.8h0M499.6 115.7h0M527.4 89.2h0M507.7 103.1h0M504.0 102.5h0M493.6 121.1h0M497.2 118.5h0M493.0 116.5h0M505.0 116.1h0M503.1 111.8h0M495.4 115.3h0M515.3 107.3h0M499.3 116.0h0M513.7 104.7h0M508.4 105.1h0M505.7 111.7h0M496.3 112.9h0M505.0 108.0h0M493.9 121.0h0M511.2 101.5h0M503.1 120.8h0M512.0 104.5h0M530.3 98.4h0M531.6 85.6h0M501.4 121.1h0M500.4 117.4h0M496.4 118.7h0M562.2 76.2h0M495.6 115.9h0M517.2 102.8h0M499.4 111.4h0M513.2 112.8h0M514.3 100.8h0M502.5 106.9h0M498.1 116.9h0M493.3 114.6h0M495.3 119.5h0M510.6 101.3h0M537.1 93.1h0M505.0 104.8h0M499.5 105.9h0M500.3 115.1h0M504.7 114.4h0M551.7 65.9h0M494.7 119.6h0M508.6 108.8h0M510.2 98.9h0M528.0 83.8h0M501.7 112.9h0M499.1 121.1h0M506.1 120.5h0M501.7 121.1h0M512.0 97.0h0M498.0 112.5h0M508.6 110.5h0M499.7 117.2h0M503.9 113.2h0M493.7 112.3h0M502.9 107.5h0M515.2 98.6h0M533.8 79.3h0M513.8 95.6h0M501.0 115.0h0M509.3 104.1h0M510.6 106.7h0M509.3 108.3h0M503.0 117.6h0M501.5 118.3h0M530.3 71.2h0M520.6 95.3h0M499.4 115.4h0M494.9 113.7h0M495.5 116.3h0M492.4 121.1h0M502.5 115.5h0M509.6 115.9h0M505.3 115.0h0M503.4 109.5h0M500.1 105.6h0M500.2 115.8h0M503.2 113.4h0M521.5 94.4h0M553.5 72.6h0M519.5 100.6h0M497.3 118.1h0M511.0 107.7h0M497.7 118.3h0M510.6 107.4h0M496.1 119.5h0M503.0 111.3h0M502.4 112.4h0M523.4 120.5h0M508.2 110.9h0M502.9 119.8h0M506.4 120.9h0M505.2 110.6h0M497.0 119.5h0M545.0 82.7h0M514.4 110.4h0M510.2 106.6h0M517.7 91.0h0M498.8 115.2h0M496.5 116.3h0M513.0 100.0h0M527.2 89.8h0M510.1 106.9h0M500.3 114.4h0M499.4 116.7h0M505.3 113.1h0M509.6 105.4h0M511.2 112.6h0M501.1 109.2h0M498.7 117.4h0M510.6 94.7h0M537.1 93.8h0M506.8 115.1h0M542.9 77.2h0M510.6 113.2h0M502.2 120.3h0M500.5 119.5h0M502.8 118.3h0M513.3 103.6h0M512.0 103.5h0M513.6 109.9h0M497.5 120.7h0M498.4 120.9h0M542.2 68.4h0M505.7 108.9h0M537.6 80.6h0M495.7 113.5h0M507.1 107.5h0M524.4 97.1h0M505.1 104.4h0M500.8 114.6h0M527.8 100.0h0M528.5 89.3h0" stroke="#808080" stroke-width="2.6" fill="none" stroke-linecap="round" stroke-opacity="0.27"/>
<path d="M496.4 118.2h0M497.0 116.1h0M500.7 103.7h0M512.4 96.9h0M514.0 105.6h0M498.5 118.7h0M495.4 111.1h0M499.4 113.3h0M500.5 108.8h0M509.3 110.2h0M515.5 98.0h0M503.2 108.3h0M504.4 105.7h0M515.9 103.8h0M498.3 118.5h0M513.1 105.0h0M510.8 101.1h0M507.6 106.1h0M515.2 99.6h0M505.2 108.7h0M501.2 111.8h0M513.0 97.4h0M514.6 98.7h0M515.7 101.4h0M535.7 80.5h0M541.6 77.7h0M507.7 115.2h0M498.3 113.1h0M508.6 105.7h0M499.0 118.5h0M506.4 110.2h0M519.4 95.7h0M498.5 114.2h0M525.1 89.4h0M512.4 104.4h0M516.2 87.7h0M502.5 112.6h0M494.7 109.9h0M512.5 98.0h0M503.8 113.8h0M496.5 119.2h0M511.2 109.8h0M507.0 113.9h0M496.7 121.1h0M517.6 95.1h0M507.9 115.2h0M512.0 116.4h0M519.4 107.0h0M503.0 115.9h0M501.5 112.6h0M495.4 117.4h0M521.5 95.7h0M515.9 101.2h0M501.9 106.8h0M500.1 121.1h0M493.1 121.1h0M498.4 119.2h0M504.5 110.8h0M504.6 111.8h0M492.9 121.1h0M497.6 117.6h0M508.8 114.1h0M501.9 104.1h0M531.6 81.9h0M495.8 115.1h0M498.8 116.8h0M495.2 117.1h0M500.4 120.1h0M502.2 103.6h0M517.5 95.9h0M507.8 98.7h0M504.8 107.9h0M503.3 119.4h0M503.0 109.4h0M511.7 96.8h0M535.0 88.7h0M499.1 112.8h0M531.9 79.7h0M517.5 92.0h0M503.7 116.6h0M497.5 115.3h0M496.1 114.3h0M500.2 118.5h0M523.9 99.7h0M494.4 121.0h0M520.1 77.6h0M496.0 120.4h0M504.2 112.6h0M496.2 119.1h0M496.3 114.6h0M503.8 110.4h0M531.3 75.3h0M503.6 115.3h0M507.1 111.2h0M497.1 120.4h0M502.6 117.7h0M504.4 106.0h0M508.1 114.3h0M536.4 77.9h0M507.7 104.6h0M495.7 121.1h0M522.6 103.1h0M492.9 118.1h0M510.3 115.1h0M499.1 108.7h0M495.2 115.6h0M510.7 111.4h0M509.5 109.7h0M496.0 120.7h0M505.0 86.9h0M514.3 103.3h0M506.6 115.5h0M504.7 110.3h0M503.6 116.6h0M496.0 119.6h0M512.7 114.3h0M494.4 119.6h0M503.6 108.4h0M498.5 105.9h0M497.3 112.4h0M498.4 117.7h0M529.4 64.4h0M518.2 102.1h0M516.1 100.3h0M502.4 114.7h0M505.2 116.0h0M522.8 92.7h0M499.6 115.8h0M509.3 109.5h0M515.0 108.5h0M501.0 114.8h0M513.6 84.9h0M508.4 109.3h0M517.1 97.0h0M511.5 106.4h0M504.3 116.9h0M504.9 113.9h0M496.6 116.0h0M507.4 108.9h0M507.3 110.5h0" stroke="#808080" stroke-width="2.6" fill="none" stroke-linecap="round" stroke-opacity="0.27"/>
<path d="M500.2 116.5h0M507.2 103.9h0M516.9 108.3h0M513.9 108.5h0M506.6 116.9h0M541.5 87.7h0M532.7 54.2h0M517.9 98.4h0M499.9 116.6h0M500.4 107.9h0M508.2 113.9h0M498.5 117.2h0M498.8 109.5h0M525.2 101.1h0M518.2 101.2h0M544.2 74.6h0M492.5 117.5h0M549.1 62.9h0M518.0 92.2h0M497.9 117.9h0M497.0 115.9h0M530.0 85.6h0M535.5 76.2h0M526.9 99.1h0M518.9 93.9h0M499.3 119.2h0M501.1 115.2h0M509.4 105.2h0M501.8 119.9h0M504.6 112.8h0M494.1 114.2h0M508.7 101.5h0M495.8 117.0h0M504.1 115.5h0M511.8 100.7h0M506.3 106.2h0M503.3 117.3h0M507.5 114.2h0M506.5 110.2h0M494.2 117.1h0M497.8 112.0h0M495.0 118.8h0M503.6 111.9h0M513.4 106.8h0M517.0 98.1h0M509.2 108.9h0M509.8 103.7h0M506.4 108.1h0M521.9 112.7h0M511.5 103.6h0M514.8 90.2h0M535.8 91.3h0M494.3 121.1h0M506.6 103.7h0M525.3 96.8h0M506.9 100.7h0M495.9 121.0h0M496.8 110.2h0M494.9 115.5h0M495.4 114.9h0M506.3 110.5h0M497.6 114.4h0M494.6 114.1h0M512.9 94.8h0M507.6 108.5h0M508.9 113.2h0M498.7 118.5h0M514.8 98.9h0M500.4 111.7h0M516.8 111.5h0M500.0 115.8h0M502.9 116.7h0M496.8 121.1h0M522.6 85.3h0M515.6 96.9h0M503.8 118.3h0M509.8 116.0h0M509.9 107.8h0M501.8 104.9h0M507.3 112.3h0M501.9 116.7h0M535.1 76.9h0M499.5 114.1h0M503.0 119.3h0M503.2 112.0h0M535.8 77.1h0M492.8 121.1h0M498.4 121.1h0M511.1 93.1h0M504.2 114.7h0M526.6 71.8h0M500.4 117.3h0M505.0 115.2h0M494.4 121.1h0M518.3 99.4h0M498.4 120.2h0M505.9 105.7h0M504.2 119.4h0M507.8 119.3h0M503.0 118.9h0M502.1 108.7h0M515.3 110.9h0M509.1 102.0h0M493.8 110.6h0M501.7 108.0h0M502.3 111.3h0M496.5 117.6h0M499.9 115.0h0M502.9 109.2h0M498.9 113.6h0M503.8 120.0h0M514.4 94.8h0M504.8 117.9h0M500.1 113.9h0M493.4 121.1h0M494.4 121.1h0M538.5 82.7h0M493.9 121.1h0M496.0 118.5h0M546.9 70.0h0M529.7 96.2h0M520.9 95.4h0M496.2 113.4h0M511.8 108.4h0M496.1 121.1h0M501.7 119.9h0M492.4 120.0h0M507.6 105.5h0M497.6 120.2h0M501.1 108.7h0M522.4 91.7h0M504.5 117.0h0M504.5 112.0h0M503.2 102.4h0M528.9 84.9h0M530.8 83.1h0M501.6 117.9h0M520.4 98.8h0M542.3 87.7h0M509.8 109.9h0" stroke="#808080" stroke-width="2.6" fill="none" stroke-linecap="round" stroke-opacity="0.27"/>
<path d="M493.6 121.1h0M504.4 109.7h0M500.2 112.5h0M504.3 113.6h0M502.6 119.0h0M527.0 93.6h0M520.3 90.2h0M533.7 82.4h0M501.1 108.7h0M514.5 97.9h0M515.5 97.2h0M508.7 98.6h0M499.1 111.8h0M519.1 101.2h0M497.7 117.4h0M519.0 105.5h0M532.9 91.3h0M502.4 112.6h0M508.1 104.1h0M496.3 113.2h0M524.3 100.8h0M500.2 121.1h0M507.3 94.3h0M499.5 118.3h0M497.9 116.8h0M500.9 108.9h0M505.1 118.0h0M500.4 120.9h0M504.5 114.8h0M504.3 110.1h0M520.9 94.5h0M529.7 99.0h0M519.6 104.4h0M506.5 109.0h0M530.0 78.6h0M503.1 112.1h0M502.2 110.3h0M500.0 117.6h0M499.1 120.1h0M494.3 121.1h0M507.1 103.8h0M524.7 103.0h0M494.7 112.0h0M497.7 114.8h0M498.2 108.1h0M504.5 117.5h0M499.5 121.1h0M537.9 69.1h0M513.6 99.4h0M500.1 114.4h0M509.7 109.7h0M496.3 121.1h0M505.8 116.9h0M507.4 105.1h0M499.4 113.5h0M503.5 108.4h0M525.4 98.6h0M516.7 100.1h0M499.0 119.1h0M517.7 92.8h0M496.7 119.8h0M527.6 89.2h0M520.7 88.2h0M497.3 121.1h0M495.9 121.1h0M498.6 108.4h0M500.5 114.5h0M524.6 90.5h0M511.6 99.9h0M496.4 113.0h0M495.6 110.6h0M495.8 121.1h0M540.7 69.7h0M498.6 121.1h0M501.8 111.1h0M517.5 100.3h0M497.5 117.3h0M531.7 78.7h0M500.8 105.2h0M496.0 120.2h0M510.3 102.4h0M511.1 108.6h0M516.7 91.5h0M498.3 117.3h0M537.3 80.0h0M504.7 109.7h0M507.9 109.5h0M518.3 87.7h0M515.8 92.8h0M497.7 120.9h0M538.8 89.2h0M506.1 105.8h0M547.7 98.4h0M506.9 106.0h0M535.9 93.0h0M521.5 105.2h0M510.5 101.2h0M502.1 113.4h0M504.3 107.2h0M498.3 120.7h0M495.6 121.1h0M504.6 108.2h0M509.9 108.5h0M497.2 107.2h0M505.2 116.6h0M503.4 114.3h0M497.4 121.1h0M493.0 119.8h0M498.3 118.3h0M525.9 94.4h0M508.3 118.2h0M502.9 117.8h0M499.9 121.1h0M517.7 107.2h0M511.5 95.5h0M498.9 119.0h0M498.9 116.2h0M509.5 102.1h0M508.2 100.7h0M498.7 119.2h0M540.6 69.3h0M513.7 102.2h0M520.8 98.7h0M525.6 85.5h0M494.8 121.1h0M547.0 65.0h0M506.6 107.6h0M499.6 115.3h0M498.8 112.6h0M495.4 116.4h0M502.2 109.5h0M513.3 100.9h0M496.3 121.1h0M501.8 121.1h0M493.3 116.6h0M517.1 113.0h0M529.5 85.6h0M535.0 88.5h0M501.2 121.1h0M499.1 118.9h0" stroke="#808080" stroke-width="2.6" fill="none" stroke-linecap="round" stroke-opacity="0.27"/>
<path d="M509.0 105.0h0M520.1 93.9h0M495.8 118.6h0M504.6 114.6h0M504.4 114.4h0M530.9 83.6h0M515.6 108.8h0M497.4 111.4h0M510.6 109.3h0M495.9 118.2h0M504.1 121.1h0M501.5 116.6h0M494.4 113.5h0M502.7 110.8h0M494.2 118.0h0M496.0 114.8h0M493.8 119.9h0M497.5 117.3h0M517.0 104.1h0M503.1 116.4h0M496.7 115.9h0M495.4 110.0h0M530.8 96.7h0M562.0 77.7h0M505.2 105.4h0M526.9 97.1h0M509.5 106.8h0M498.5 118.0h0M498.4 120.2h0M494.0 114.9h0M509.9 103.7h0M503.6 105.3h0M545.1 72.8h0M499.2 112.6h0M517.0 94.0h0M509.4 112.0h0M499.8 113.3h0M496.4 120.7h0M492.3 115.8h0M516.9 93.3h0M517.0 95.7h0M502.3 118.0h0M511.7 98.0h0M500.2 121.1h0M513.2 105.1h0M511.2 109.5h0M503.7 109.2h0M504.0 111.4h0M493.7 115.6h0M504.8 109.7h0M504.7 116.3h0M513.3 101.9h0M516.9 99.9h0M494.8 115.4h0M505.5 103.8h0M514.9 105.1h0M513.8 110.9h0M529.3 83.7h0M554.1 65.9h0M525.6 97.4h0M505.3 112.5h0M513.1 100.4h0M501.7 121.1h0M503.0 118.8h0M506.1 106.1h0M503.8 110.1h0M528.6 102.0h0M502.3 119.3h0M508.2 108.3h0M529.6 94.5h0M509.1 106.4h0M503.1 120.3h0M496.6 111.4h0M546.1 70.1h0M504.4 121.1h0M531.5 71.0h0M509.1 108.1h0M528.7 103.4h0M505.3 118.6h0M507.0 101.7h0M516.8 92.3h0M538.1 95.5h0M506.9 97.4h0M500.8 110.1h0M513.7 104.7h0M520.0 82.6h0M559.7 79.4h0M510.9 106.3h0M497.7 120.4h0M502.0 105.3h0M504.6 114.4h0M505.0 107.5h0M500.9 117.4h0M500.5 120.1h0M497.7 113.8h0M503.1 115.6h0M509.8 103.5h0M501.5 111.2h0M499.1 121.1h0M517.9 98.0h0M494.3 115.6h0M505.2 107.4h0M520.0 107.2h0M508.4 109.5h0M496.3 119.3h0M498.2 115.2h0M495.7 115.8h0M492.3 117.0h0M504.5 117.4h0M509.9 108.8h0M525.6 86.8h0M506.7 107.1h0M493.0 120.0h0M504.0 112.5h0M523.9 98.2h0M514.0 103.9h0M505.6 112.5h0M527.5 84.2h0M520.0 96.5h0M491.9 121.1h0M506.3 104.5h0M508.8 101.8h0M530.8 86.1h0M499.5 114.1h0M504.6 109.9h0M506.3 106.5h0M503.9 113.9h0M493.3 115.9h0M494.8 121.1h0M548.0 82.6h0M520.5 99.5h0M507.0 107.0h0M504.7 100.2h0M513.5 96.5h0M512.0 107.0h0M521.0 104.0h0M500.9 114.3h0M498.5 115.0h0M513.9 116.6h0M514.7 91.5h0" stroke="#808080" stroke-width="2.6" fill="none" stroke-linecap="round" stroke-opacity="0.27"/>
<path d="M498.8 121.1h0M503.1 110.4h0M510.6 114.4h0M509.2 109.6h0M522.1 94.3h0M495.6 116.6h0M500.3 114.1h0M511.8 98.5h0M511.6 97.9h0M495.3 118.8h0M495.3 109.2h0M497.4 116.1h0M519.6 93.2h0M506.0 107.1h0M498.2 119.8h0M513.6 90.7h0M500.7 118.9h0M510.0 108.9h0M510.7 104.9h0M502.3 110.7h0M530.7 81.5h0M502.5 116.6h0M518.9 96.2h0M498.1 121.1h0M555.4 66.1h0M498.5 121.1h0M500.5 120.8h0M509.7 106.6h0M512.9 99.4h0M500.4 121.1h0M492.8 119.8h0M493.4 114.4h0M514.1 102.4h0M537.8 79.3h0M494.6 118.5h0M521.1 91.4h0M515.1 106.0h0M520.7 104.9h0M503.5 111.1h0M501.8 109.5h0M495.1 114.8h0M525.9 95.3h0M493.9 121.1h0M498.2 121.1h0M523.7 109.6h0M492.7 115.2h0M498.0 118.7h0M496.3 121.1h0M494.2 119.3h0M506.3 115.6h0M509.5 111.3h0M503.8 116.2h0M500.2 120.4h0M499.0 120.5h0M510.5 103.2h0M494.5 121.1h0M495.3 113.6h0M510.3 109.3h0M500.9 118.0h0M502.3 116.0h0M500.9 115.9h0M508.2 108.8h0M494.4 121.1h0M498.4 117.3h0M510.9 102.0h0M504.5 121.1h0M509.7 115.0h0M508.8 101.3h0M535.1 75.8h0M497.6 118.7h0M541.4 81.3h0M506.9 111.1h0M501.2 121.1h0M506.1 107.8h0M503.3 115.0h0M497.2 121.1h0M507.4 100.6h0M494.1 116.8h0M526.2 95.6h0M504.6 108.8h0M496.3 120.4h0M552.4 65.3h0M526.1 93.7h0M516.4 104.4h0M495.5 111.7h0M508.4 103.7h0M503.1 110.1h0M524.3 81.6h0M500.4 109.7h0M496.6 113.3h0M504.3 107.7h0M509.6 96.7h0M508.7 109.0h0M507.5 111.0h0M497.4 110.6h0M507.1 114.6h0M504.7 107.2h0M494.4 119.8h0M509.6 104.1h0M504.3 117.3h0M512.4 98.8h0M503.3 110.1h0M515.8 102.0h0M510.8 112.8h0M498.8 114.6h0M494.1 114.7h0M503.9 108.5h0M500.5 105.6h0M509.5 106.4h0M496.9 121.1h0M508.0 109.5h0M527.5 86.0h0M501.3 114.4h0M516.4 103.9h0M511.1 106.1h0M504.0 111.9h0M505.1 112.8h0M514.3 98.2h0M510.3 100.8h0M511.4 110.3h0M495.1 117.0h0M499.1 121.1h0M497.6 120.0h0M491.9 115.0h0M536.6 88.7h0M539.3 77.3h0M512.8 98.0h0M492.3 119.2h0M510.8 111.3h0M542.4 61.8h0M509.4 115.0h0M496.9 121.1h0M501.2 119.7h0M526.4 83.7h0M502.6 113.6h0M503.5 114.3h0M498.8 113.8h0M513.5 98.9h0M492.6 114.4h0M500.6 113.6h0" stroke="#808080" stroke-width="2.6" fill="none" stroke-linecap="round" stroke-opacity="0.27"/>
<path d="M520.3 92.7h0M526.2 96.9h0M532.0 65.6h0M532.9 98.6h0M504.3 112.5h0M535.1 63.8h0M524.1 86.6h0M507.9 110.1h0M544.4 79.3h0M508.8 109.7h0M508.3 108.1h0M499.4 113.8h0M529.9 78.6h0M504.4 114.3h0M510.0 108.6h0M504.0 107.2h0M510.2 114.7h0M521.9 97.2h0M498.4 117.8h0M505.7 117.4h0M502.8 121.0h0M498.0 114.9h0M516.0 100.2h0M500.1 109.1h0M512.2 104.9h0M504.7 104.5h0M502.4 116.8h0M505.1 111.3h0M507.6 108.5h0M501.7 114.4h0M507.4 120.3h0M502.0 103.2h0M529.4 81.3h0M509.2 98.5h0M499.4 117.0h0M544.9 77.3h0M513.4 111.7h0M507.6 107.9h0M518.9 88.7h0M504.0 110.0h0M504.1 121.1h0M505.6 114.9h0M527.6 83.2h0M501.1 121.1h0M509.7 116.3h0M499.2 117.1h0M497.3 109.3h0M513.0 113.0h0M506.7 111.6h0M508.9 109.2h0M498.0 120.2h0M518.8 113.7h0M518.7 89.1h0M515.9 97.7h0M500.1 114.5h0M502.8 114.3h0M503.2 120.4h0M493.4 108.8h0M532.7 88.5h0M493.3 112.2h0M500.7 117.4h0M494.8 121.1h0M498.9 121.1h0M519.4 98.8h0M520.2 98.6h0M531.1 79.5h0M537.3 75.0h0M520.8 97.8h0M499.2 111.1h0M513.8 104.2h0M503.6 103.5h0M516.0 97.7h0M506.8 104.3h0M512.1 106.8h0M523.8 101.2h0M502.6 111.5h0M499.6 118.4h0M510.4 99.7h0M503.8 100.5h0M499.8 117.0h0M506.2 116.3h0M494.8 104.4h0M500.6 118.6h0M558.6 90.8h0M502.0 116.8h0M498.7 111.7h0M526.2 102.2h0M561.1 60.0h0M536.9 89.3h0M500.5 121.1h0M498.6 117.9h0M495.3 114.8h0M493.7 109.0h0M497.2 120.0h0M522.7 92.2h0M514.4 106.6h0M512.5 106.3h0M498.4 121.1h0M497.9 105.2h0M517.5 103.6h0M527.4 81.4h0M493.5 121.1h0M509.2 96.9h0M556.3 69.7h0M508.7 110.9h0M510.6 110.6h0M511.2 106.8h0M495.5 121.1h0M503.4 116.2h0M516.5 96.4h0M499.2 121.1h0M519.8 106.9h0M513.4 102.8h0M502.3 110.7h0M502.9 105.9h0M500.9 118.3h0M508.6 105.7h0M499.5 113.8h0M531.4 72.2h0M499.7 101.6h0M503.1 102.4h0M514.7 102.4h0M496.4 117.5h0M503.9 108.6h0M512.3 101.5h0M509.4 116.1h0M506.7 111.9h0M518.3 101.1h0M506.3 107.0h0M498.4 120.5h0M509.7 101.3h0M508.8 111.0h0M527.1 96.2h0M512.6 94.7h0M534.1 83.6h0M508.1 108.1h0M499.6 121.0h0M536.1 70.7h0M499.4 121.1h0M502.9 111.7h0" stroke="#808080" stroke-width="2.6" fill="none" stroke-linecap="round" stroke-opacity="0.27"/>
<path d="M516.1 112.1h0M530.4 103.3h0M497.5 116.2h0M502.6 114.8h0M504.4 113.1h0M518.8 102.3h0M504.9 112.5h0M510.3 104.1h0M511.2 96.6h0M544.8 79.4h0M497.9 121.1h0M500.5 111.4h0M496.3 114.4h0M494.3 119.9h0M494.0 114.3h0M504.2 106.6h0M500.3 114.2h0M501.2 107.9h0M503.9 121.1h0M509.0 100.5h0M513.8 109.5h0M511.4 104.5h0M523.6 94.5h0M529.4 88.6h0M499.8 121.0h0M500.6 119.9h0M493.9 120.1h0M511.1 105.7h0M494.0 110.4h0M507.9 116.0h0M498.0 121.1h0M497.6 121.1h0M532.2 90.0h0M511.6 119.9h0M505.2 107.6h0M494.2 121.1h0M517.6 88.0h0M509.4 100.2h0M534.0 92.5h0M492.5 121.1h0M494.3 115.6h0M512.6 112.8h0M498.7 121.1h0M508.2 109.5h0M497.9 119.8h0M501.9 114.0h0M499.1 113.1h0M504.7 108.4h0M507.7 91.0h0M494.8 119.2h0M504.0 118.0h0M520.2 97.4h0M533.7 83.3h0M499.0 116.5h0M541.6 75.1h0M522.0 100.7h0M511.5 98.5h0M531.1 88.9h0M512.9 98.2h0M501.7 108.1h0M510.7 104.8h0M495.0 112.4h0M502.6 111.5h0M503.1 116.3h0M505.1 108.0h0M493.5 121.1h0M521.1 89.6h0M498.2 117.0h0M508.9 99.8h0M502.7 113.2h0M525.2 94.8h0M498.8 113.3h0M510.6 103.8h0M533.0 74.9h0M546.8 74.6h0M497.0 121.1h0M494.0 110.9h0M494.5 117.6h0M515.3 100.6h0M499.7 121.1h0M501.8 119.8h0M494.1 113.5h0M497.5 116.4h0M519.3 97.1h0M499.8 121.1h0M502.1 113.6h0M511.0 103.8h0M497.6 117.6h0M510.3 99.3h0M504.2 102.5h0M518.9 105.8h0M504.4 109.9h0M495.7 117.3h0M500.6 117.3h0M508.4 109.6h0M496.9 118.4h0M503.8 115.3h0M506.9 112.5h0M508.5 110.9h0M498.4 119.5h0M520.1 100.9h0M537.7 92.1h0M513.9 100.9h0M514.0 100.1h0M522.8 104.8h0M522.3 93.9h0M552.9 77.1h0M514.1 111.5h0M518.4 98.3h0M531.0 95.3h0M517.1 101.2h0M509.7 107.6h0M501.0 113.1h0M507.1 114.6h0M505.0 107.1h0M499.9 117.7h0M499.5 118.0h0M505.2 108.0h0M494.5 117.7h0M516.4 101.0h0M501.8 114.6h0M494.0 117.3h0M513.6 111.6h0M515.6 95.3h0M508.6 104.9h0M511.4 101.8h0M494.5 121.1h0M516.3 95.5h0M504.8 110.8h0M495.0 120.2h0M501.3 111.6h0M509.2 104.5h0M495.5 117.0h0M497.1 121.1h0M500.1 121.1h0M497.5 118.2h0M509.3 111.7h0M498.0 121.1h0M504.1 112.9h0M508.8 102.4h0" stroke="#808080" stroke-width="2.6" fill="none" stroke-linecap="round" stroke-opacity="0.27"/>
<path d="M504.9 108.9h0M502.2 109.3h0M496.9 117.2h0M530.8 94.0h0M497.4 120.7h0M516.3 104.1h0M499.2 115.8h0M538.9 81.5h0M502.5 113.9h0M505.8 112.6h0M509.0 107.0h0M499.7 103.9h0M493.4 121.1h0M505.4 111.8h0M508.9 105.9h0M502.8 111.9h0M504.2 114.3h0M500.1 118.6h0M499.9 110.5h0M532.5 95.7h0M498.1 105.1h0M500.2 113.4h0M500.0 121.1h0M519.7 99.1h0M511.1 105.5h0M498.7 112.2h0M499.6 116.3h0M506.9 110.9h0M498.7 115.3h0M507.8 109.4h0M500.5 113.2h0M522.4 93.6h0M497.7 115.9h0M507.5 109.3h0M501.0 120.5h0M501.9 117.5h0M499.8 115.4h0M504.2 111.4h0M512.6 108.2h0M516.2 106.7h0M501.9 109.5h0M522.8 89.6h0M511.1 106.5h0M500.1 112.5h0M503.7 109.6h0M507.9 114.3h0M504.2 120.8h0M503.2 110.4h0M493.5 115.1h0M496.9 121.1h0M502.1 115.0h0M518.1 94.1h0M530.3 91.7h0M495.1 120.6h0M509.1 109.1h0M494.5 118.3h0M515.7 111.0h0M497.6 115.1h0M522.4 80.8h0M506.3 101.4h0M509.0 104.0h0M506.9 106.2h0M522.7 108.8h0M517.8 100.7h0M506.7 111.8h0M501.1 110.5h0M518.8 110.4h0M499.3 115.4h0M497.7 113.8h0M493.6 121.1h0M499.6 114.0h0M502.3 110.0h0M513.5 114.6h0M495.2 115.6h0M503.5 112.9h0M506.1 109.7h0M517.5 96.0h0M534.7 85.3h0M496.4 116.3h0M495.3 112.7h0M499.1 113.9h0M537.3 85.7h0M520.3 88.6h0M507.7 112.9h0M520.8 96.8h0M552.3 87.0h0M500.3 113.3h0M503.4 112.0h0M509.2 103.2h0M521.7 88.8h0M495.8 118.5h0M496.3 115.7h0M497.4 116.6h0M518.5 93.0h0M544.6 78.1h0M493.8 121.1h0M498.3 112.6h0M505.7 120.4h0M496.1 121.1h0M498.4 113.1h0M493.3 119.0h0M497.6 116.1h0M511.6 109.9h0M540.7 75.7h0M494.3 121.1h0M495.6 118.1h0M509.7 115.9h0M492.7 120.5h0M499.3 119.3h0M496.6 108.7h0M510.5 111.5h0M499.2 120.7h0M508.3 110.3h0M515.6 101.1h0M492.9 119.2h0M505.1 114.6h0M513.6 96.1h0M492.4 114.2h0M499.6 115.7h0M506.6 109.4h0M496.5 121.1h0M513.3 101.4h0M523.3 96.2h0M514.5 107.1h0M495.0 118.7h0M510.2 108.9h0M506.6 112.8h0M503.4 112.0h0M500.7 119.9h0M508.3 109.4h0M516.7 101.9h0M506.1 101.1h0M497.9 114.7h0M513.3 108.4h0M492.1 121.1h0M501.7 115.7h0M499.3 116.6h0M504.0 119.3h0M505.8 108.0h0M496.5 115.2h0" stroke="#808080" stroke-width="2.6" fill="none" stroke-linecap="round" stroke-opacity="0.27"/>
<path d="M510.8 102.4h0M520.7 103.6h0M495.5 121.1h0M498.1 115.0h0M508.3 117.3h0M514.9 100.7h0M520.3 109.0h0M498.6 121.1h0M525.4 84.6h0M512.3 110.6h0M537.6 76.1h0M516.6 96.6h0M497.6 118.3h0M537.5 83.1h0M541.4 86.1h0M497.7 117.5h0M524.7 88.8h0M492.4 113.0h0M494.0 116.0h0M506.8 109.7h0M520.9 105.8h0M498.6 111.9h0M514.4 108.6h0M504.0 116.5h0M494.4 118.4h0M497.1 121.1h0M496.9 117.7h0M541.8 104.9h0M512.4 109.3h0M503.1 96.9h0M499.4 111.9h0M513.3 106.8h0M495.8 114.6h0M519.6 104.5h0M518.3 93.5h0M495.4 114.6h0M498.9 117.1h0M496.2 109.6h0M499.7 116.3h0M506.1 108.4h0M498.6 113.8h0M507.6 102.5h0M500.4 114.5h0M504.4 112.5h0M519.9 105.2h0M511.6 101.8h0M524.0 97.0h0M501.7 117.5h0M508.5 105.9h0M496.6 113.7h0M501.7 118.8h0M499.7 119.0h0M516.7 103.0h0M505.2 117.7h0M494.5 115.6h0M508.4 94.7h0M523.9 61.4h0M507.9 120.4h0M500.3 112.1h0M515.7 104.5h0M516.9 102.8h0M497.6 116.9h0M501.1 115.5h0M508.0 108.1h0M501.6 116.8h0M499.2 115.6h0M495.6 115.3h0M506.1 110.6h0M502.8 115.0h0M502.9 117.0h0M504.8 108.4h0M511.4 108.0h0M503.3 111.8h0M493.8 121.1h0M511.1 100.6h0M494.5 119.9h0M515.4 107.3h0M493.6 121.1h0M515.3 101.4h0M509.6 110.3h0M504.9 110.0h0M514.7 97.4h0M511.1 99.0h0M501.6 114.5h0M496.2 121.1h0M496.4 117.9h0M510.7 100.7h0M497.5 114.2h0M520.4 99.6h0M506.6 117.1h0M493.2 114.6h0M566.4 73.5h0M517.2 101.0h0M509.0 106.7h0M499.4 116.0h0M496.7 115.5h0M508.9 109.1h0M502.1 121.1h0M508.6 109.0h0M503.4 109.7h0M512.3 109.0h0M503.1 102.3h0M522.7 89.9h0M493.2 114.5h0M528.7 71.1h0M495.2 105.2h0M499.5 110.2h0M514.4 101.9h0M497.5 112.9h0M496.2 121.1h0M534.3 77.2h0M493.4 114.4h0M507.7 105.8h0M515.2 108.3h0M499.9 117.3h0M506.6 102.4h0M503.0 99.8h0M507.5 109.5h0M506.6 120.1h0M502.0 111.7h0M502.0 119.6h0M498.9 116.7h0M523.2 98.1h0M501.0 108.3h0M531.2 92.0h0M503.7 115.5h0M493.9 114.3h0M500.4 121.1h0M516.4 111.7h0M525.1 93.5h0M520.4 97.0h0M506.9 109.4h0M497.0 115.0h0M509.5 115.0h0M516.7 104.2h0M507.4 113.4h0M523.9 91.2h0M513.9 106.6h0M496.3 118.6h0M507.0 114.2h0" stroke="#808080" stroke-width="2.6" fill="none" stroke-linecap="round" stroke-opacity="0.27"/>
<path d="M493.9 113.8h0M523.9 94.3h0M494.3 109.7h0M498.4 121.1h0M501.4 105.2h0M493.0 118.9h0M516.5 102.3h0M498.7 112.9h0M508.7 105.6h0M527.0 85.1h0M502.5 116.6h0M498.7 119.5h0M501.1 110.2h0M501.1 109.2h0M534.7 73.3h0M505.3 117.4h0M506.5 109.0h0M505.9 110.4h0M506.0 113.1h0M536.8 81.4h0M498.3 116.7h0M494.2 121.1h0M505.9 114.9h0M493.0 121.1h0M533.7 84.7h0M506.1 115.0h0M539.8 79.1h0M527.0 95.1h0M507.6 109.6h0M516.9 105.6h0M500.0 112.6h0M500.6 113.7h0M496.5 118.9h0M494.6 121.1h0M527.5 96.7h0M503.0 111.8h0M499.6 117.6h0M512.1 102.3h0M497.1 120.9h0M501.7 117.4h0M513.0 109.4h0M511.5 106.8h0M501.4 114.1h0M501.0 107.7h0M501.2 113.4h0M504.1 105.9h0M536.5 89.2h0M508.2 103.7h0M494.7 121.1h0M499.5 116.7h0M509.0 106.8h0M502.1 111.5h0M515.7 98.3h0M523.9 93.0h0M500.8 119.7h0M503.5 110.6h0M544.3 68.3h0M501.8 112.4h0M509.3 100.3h0M508.1 107.0h0M502.2 100.0h0M518.8 67.2h0M512.5 69.8h0M507.8 114.6h0M507.9 106.8h0M496.3 116.4h0M496.5 121.1h0M499.2 117.5h0M507.0 120.9h0M501.1 118.0h0M498.5 111.0h0M508.3 106.7h0M507.2 111.3h0M499.1 114.3h0M511.6 114.0h0M506.4 107.2h0M505.7 112.6h0M503.7 110.0h0M500.4 119.4h0M524.4 100.4h0M535.7 90.4h0M518.0 97.8h0M506.0 118.3h0M504.3 118.1h0M529.6 82.0h0M518.9 96.6h0M508.3 100.2h0M492.1 113.6h0M521.2 97.3h0M520.4 95.5h0M501.1 109.0h0M493.1 118.1h0M516.4 92.6h0M501.4 109.2h0M518.7 92.2h0M504.3 114.1h0M504.4 106.9h0M495.9 117.0h0M495.8 110.2h0M501.9 111.7h0M501.0 111.1h0M524.4 95.3h0M506.0 99.9h0M510.1 103.0h0M519.6 77.1h0M495.0 116.0h0M519.4 82.1h0M539.7 80.0h0M512.8 104.5h0M493.4 117.8h0M515.2 101.6h0M493.6 120.8h0M509.9 109.0h0M492.4 116.6h0M511.3 110.5h0M501.8 112.3h0M525.3 74.4h0M492.7 118.6h0M504.1 107.7h0M494.1 111.2h0M506.0 109.9h0M498.6 115.1h0M512.4 103.8h0M511.7 107.8h0M495.1 120.7h0M510.1 116.2h0M496.6 118.4h0M555.9 63.5h0M506.5 113.7h0M503.1 112.7h0M512.5 106.8h0M497.5 118.9h0M499.3 119.5h0M506.2 113.5h0M532.1 86.5h0M499.5 113.6h0M499.0 105.2h0M510.6 101.3h0M512.0 106.4h0M534.6 87.3h0" stroke="#808080" stroke-width="2.6" fill="none" stroke-linecap="round" stroke-opacity="0.27"/>
<path d="M505.8 102.9h0M498.8 113.7h0M496.9 117.6h0M502.9 109.0h0M503.7 108.9h0M504.5 113.4h0M538.8 82.0h0M500.6 112.3h0M495.3 118.9h0M516.3 106.2h0M496.6 109.9h0M520.3 99.5h0M521.6 110.3h0M514.0 96.1h0M493.5 121.1h0M496.1 119.3h0M494.9 117.7h0M502.1 116.9h0M530.4 82.0h0M499.4 110.6h0M506.6 96.7h0M521.0 104.3h0M498.1 115.6h0M497.5 116.0h0M516.9 97.5h0M495.4 113.0h0M503.1 118.9h0M522.6 104.4h0M497.7 115.6h0M509.7 113.6h0M495.6 115.4h0M506.8 110.1h0M501.3 121.1h0M561.7 63.1h0M494.3 117.3h0M547.2 75.4h0M516.0 94.2h0M527.5 87.4h0M495.8 121.1h0M493.4 119.4h0M495.8 117.4h0M501.3 118.4h0M500.7 108.6h0M498.0 121.1h0M501.0 111.5h0M506.1 107.6h0M500.7 117.1h0M540.2 76.3h0M517.0 109.0h0M505.8 100.9h0M496.3 121.1h0M518.7 104.6h0M496.0 121.1h0M518.3 109.6h0M498.6 115.2h0M517.7 107.4h0M498.8 113.2h0M543.9 76.4h0M516.1 96.4h0M526.1 91.8h0M494.9 121.1h0M513.8 92.1h0M521.5 90.7h0M503.1 119.2h0M500.6 113.5h0M515.8 74.4h0M495.7 118.8h0M500.2 121.1h0M509.3 109.1h0M501.2 113.4h0M500.3 118.1h0M504.4 107.4h0M519.5 95.0h0M505.4 112.0h0M511.4 101.7h0M501.0 116.0h0M508.3 116.9h0M509.5 111.2h0M532.5 88.5h0M515.9 105.6h0M495.9 116.9h0M500.9 112.4h0M533.6 76.4h0M504.6 121.1h0M499.8 112.1h0M500.3 121.1h0M509.0 98.1h0M507.8 121.1h0M512.5 106.2h0M495.8 108.8h0M497.4 119.1h0M512.2 109.6h0M508.7 115.0h0M501.7 115.8h0M529.4 91.3h0M512.2 107.4h0M492.5 121.1h0M500.5 115.3h0M495.7 112.6h0M505.4 112.4h0M499.1 110.9h0M493.6 121.1h0M535.3 87.7h0M518.3 96.3h0M521.0 91.9h0M495.7 112.7h0M497.1 118.0h0M495.0 119.8h0M511.1 111.7h0M513.7 109.1h0M496.4 115.0h0M515.6 107.6h0M518.6 104.4h0M497.8 113.0h0M529.6 82.7h0M510.5 102.5h0M520.9 93.1h0M499.6 111.6h0M515.6 105.2h0M501.5 114.5h0M538.0 79.4h0M516.7 105.7h0M501.4 116.8h0M517.2 94.5h0M497.1 117.7h0M501.8 107.0h0M501.6 111.8h0M501.6 107.5h0M517.6 101.3h0M500.7 115.1h0M492.0 119.9h0M496.8 109.9h0M518.6 92.2h0M513.5 110.7h0M518.5 101.1h0M498.0 121.1h0M496.7 111.5h0M512.3 108.3h0M513.4 103.3h0M498.3 115.7h0" stroke="#808080" stroke-width="2.6" fill="none" stroke-linecap="round" stroke-opacity="0.27"/>
<path d="M502.0 107.0h0M532.1 75.5h0M496.7 113.2h0M500.7 119.2h0M502.5 115.6h0M511.0 105.5h0M514.5 98.7h0M497.1 113.5h0M515.2 100.6h0M516.3 104.3h0M554.5 80.9h0M495.4 121.1h0M514.3 110.3h0M524.6 99.0h0M495.4 113.8h0M514.7 107.0h0M547.6 79.6h0M536.4 101.0h0M502.0 118.2h0M515.0 89.0h0M500.9 118.7h0M507.4 106.6h0M495.3 119.9h0M505.7 105.0h0M506.4 115.1h0M495.8 119.9h0M516.3 101.1h0M532.7 84.1h0M496.1 115.3h0M494.7 98.5h0M502.0 115.4h0M496.9 117.0h0M526.8 93.3h0M496.0 118.4h0M497.7 107.6h0M501.3 114.6h0M496.7 121.1h0M514.2 95.1h0M530.6 91.2h0M499.3 121.1h0M497.8 121.1h0M496.3 121.1h0M497.9 119.9h0M497.6 115.8h0M525.2 82.8h0M539.0 88.0h0M505.1 111.0h0M496.3 114.2h0M499.2 113.6h0M499.9 121.1h0M492.8 121.1h0M494.9 112.9h0M540.9 87.7h0M498.8 121.1h0M499.1 114.7h0M506.2 112.8h0M522.2 90.6h0M522.8 102.8h0M546.9 93.6h0M544.4 67.4h0M505.3 112.1h0M507.5 102.2h0M512.8 104.1h0M528.2 62.0h0M509.7 116.3h0M527.6 108.4h0M501.1 118.4h0M520.5 96.1h0M496.9 108.3h0M494.2 118.6h0M501.8 115.5h0M508.4 109.9h0M494.7 120.3h0M496.2 119.1h0M495.1 118.4h0M539.4 81.7h0M497.3 106.3h0M503.9 121.1h0M493.5 115.9h0M507.1 108.7h0M503.1 112.8h0M500.4 115.0h0M496.0 121.1h0M498.6 121.1h0M557.3 64.6h0M520.0 106.5h0M497.3 111.1h0M525.7 85.3h0M498.5 121.1h0M536.1 95.6h0M496.6 120.3h0M500.6 106.0h0M534.1 93.7h0M505.6 110.0h0M560.4 76.1h0M500.3 112.7h0M541.8 75.5h0M519.4 96.0h0M507.7 105.8h0M493.0 121.1h0M499.9 116.0h0M528.0 74.7h0M507.3 112.2h0M496.2 119.7h0M498.4 112.9h0M506.1 101.3h0M517.8 101.0h0M508.1 104.4h0M496.7 119.7h0M503.3 108.5h0M500.5 121.1h0M547.6 66.9h0M504.0 112.7h0M505.3 114.7h0M502.8 115.8h0M510.0 101.7h0M530.2 85.7h0M511.9 102.4h0M514.3 107.1h0M526.0 91.3h0M497.2 111.5h0M504.7 114.6h0M495.8 121.1h0M513.1 104.4h0M508.5 105.4h0M511.9 104.9h0M500.1 111.9h0M511.8 100.4h0M495.9 118.3h0M498.2 119.7h0M517.5 102.7h0M522.6 95.4h0M561.6 77.2h0M504.8 105.9h0M522.4 93.9h0M494.0 118.4h0M497.9 121.1h0M510.7 105.7h0M494.7 118.6h0M513.5 104.8h0" stroke="#808080" stroke-width="2.6" fill="none" stroke-linecap="round" stroke-opacity="0.27"/>
<path d="M513.6 109.8h0M516.4 103.8h0M516.5 108.1h0M501.2 118.6h0M518.4 103.6h0M508.3 109.4h0M499.4 115.7h0M512.7 96.8h0M512.4 102.3h0M516.0 103.7h0M498.9 121.1h0M507.8 110.8h0M504.3 109.4h0M504.1 110.9h0M507.9 104.4h0M495.5 118.0h0M495.6 121.1h0M499.5 114.4h0M496.3 118.1h0M504.8 111.4h0M529.7 88.4h0M514.4 103.9h0M499.2 120.5h0M528.1 93.8h0M514.9 100.4h0M508.5 111.1h0M522.2 97.3h0M496.2 119.0h0M515.0 103.9h0M516.0 96.8h0M512.0 94.9h0M500.2 113.4h0M502.8 115.5h0M522.1 93.0h0M496.9 111.9h0M507.0 109.8h0M508.9 105.7h0M517.4 97.8h0M518.1 100.1h0M536.6 87.2h0M506.9 111.2h0M504.2 110.8h0M541.2 73.6h0M501.1 110.8h0M525.1 88.8h0M511.8 113.2h0M511.0 93.7h0M514.6 102.8h0M495.8 121.1h0M506.1 104.4h0M528.4 78.2h0M529.1 86.5h0M511.7 97.1h0M513.4 91.5h0M496.1 119.6h0M527.6 90.5h0M553.2 63.2h0M499.8 121.1h0M506.0 110.7h0M510.9 104.4h0M521.0 102.8h0M519.5 92.5h0M507.3 104.4h0M505.1 112.6h0M497.0 117.0h0M513.5 106.7h0M516.8 103.0h0M522.5 103.5h0M498.7 115.8h0M500.4 116.2h0M516.6 109.5h0M502.8 112.4h0M498.9 115.0h0M533.7 79.2h0M506.0 110.1h0M496.6 118.9h0M529.3 89.0h0M508.0 114.8h0M511.7 97.4h0M498.9 121.1h0M503.6 113.7h0M515.8 105.2h0M522.1 89.8h0M498.8 111.3h0M496.0 119.0h0M528.3 98.0h0M501.5 111.2h0M501.8 114.8h0M503.7 121.1h0M526.0 101.2h0M531.2 93.2h0M496.6 111.8h0M493.6 119.4h0M522.0 93.7h0M496.5 121.1h0M536.3 88.5h0M515.7 95.9h0M503.6 109.1h0M513.8 105.6h0M522.6 100.6h0M505.0 121.1h0M503.1 121.1h0M497.3 115.9h0M516.9 93.2h0M510.5 106.0h0M494.0 116.7h0M557.3 42.7h0M506.8 114.8h0M499.8 114.3h0M519.6 96.4h0M495.2 121.1h0M498.0 105.8h0M496.1 117.1h0M499.6 118.6h0M508.0 108.4h0M496.3 116.5h0M500.5 108.5h0M500.7 107.8h0M513.2 111.3h0M500.7 116.3h0M505.3 109.6h0M501.1 114.5h0M501.2 111.0h0M504.4 109.0h0M533.0 87.9h0M536.0 93.2h0M549.2 78.1h0M497.2 113.0h0M513.7 106.0h0M521.9 103.7h0M509.8 104.5h0M541.7 72.6h0M504.5 106.7h0M555.5 59.9h0M498.2 116.5h0M517.9 112.6h0M539.7 72.6h0M501.1 115.6h0M524.6 97.0h0" stroke="#808080" stroke-width="2.6" fill="none" stroke-linecap="round" stroke-opacity="0.27"/>
<path d="M491.8 119.1L498.6 116.9L505.3 111.2L512.0 104.8L518.8 98.4L525.5 91.2L532.3 85.5L539.0 79.8L545.8 76.2L552.6 72.7L559.3 64.1L566.0 57.7L572.8 52.7L575.5 51.6L579.5 51.3" stroke="#3a3a3a" stroke-width="0.6" fill="none" stroke-linejoin="round"/>
<text x="545.70" y="30.24" text-anchor="middle">UdgX–APOBEC1–UdgX–nCas9-NG</text>
<text x="598.00" y="110.00" text-anchor="end"><tspan font-style="italic">R</tspan> = 0.93</text>
<text x="598.00" y="117.80" text-anchor="end"><tspan font-style="italic">n</tspan> = 1,959</text>
<text transform="translate(319.80,79.50) rotate(-90)" y="2.30" text-anchor="middle" font-size="6.75">Predicted</text>
<text transform="translate(327.80,79.50) rotate(-90)" y="2.30" text-anchor="middle" font-size="6.75">frequency of repair to wild-type</text>
<text transform="translate(335.80,79.50) rotate(-90)" y="2.30" text-anchor="middle" font-size="6.75">genotype among all reads (%)</text>
<text x="412.00" y="143.84" text-anchor="middle">Observed frequency of repair to wild-type</text>
<text x="412.00" y="151.74" text-anchor="middle">genotype among all reads (%)</text>
<text x="546.00" y="143.84" text-anchor="middle">Observed frequency of repair to wild-type</text>
<text x="546.00" y="151.74" text-anchor="middle">genotype among all reads (%)</text>
<text x="474.00" y="19.04" text-anchor="middle">Yield of corrected genotype among all reads</text>
<line x1="357.20" y1="189.28" x2="357.20" y2="274.60" stroke="#ebebeb" stroke-width="0.5"/>
<line x1="375.28" y1="189.28" x2="375.28" y2="274.60" stroke="#ebebeb" stroke-width="0.5"/>
<line x1="393.36" y1="189.28" x2="393.36" y2="274.60" stroke="#ebebeb" stroke-width="0.5"/>
<line x1="411.44" y1="189.28" x2="411.44" y2="274.60" stroke="#ebebeb" stroke-width="0.5"/>
<line x1="429.52" y1="189.28" x2="429.52" y2="274.60" stroke="#ebebeb" stroke-width="0.5"/>
<line x1="447.60" y1="189.28" x2="447.60" y2="274.60" stroke="#ebebeb" stroke-width="0.5"/>
<line x1="465.68" y1="189.28" x2="465.68" y2="274.60" stroke="#ebebeb" stroke-width="0.5"/>
<line x1="357.20" y1="274.60" x2="465.68" y2="274.60" stroke="#ebebeb" stroke-width="0.5"/>
<line x1="357.20" y1="260.38" x2="465.68" y2="260.38" stroke="#ebebeb" stroke-width="0.5"/>
<line x1="357.20" y1="246.16" x2="465.68" y2="246.16" stroke="#ebebeb" stroke-width="0.5"/>
<line x1="357.20" y1="231.94" x2="465.68" y2="231.94" stroke="#ebebeb" stroke-width="0.5"/>
<line x1="357.20" y1="217.72" x2="465.68" y2="217.72" stroke="#ebebeb" stroke-width="0.5"/>
<line x1="357.20" y1="203.50" x2="465.68" y2="203.50" stroke="#ebebeb" stroke-width="0.5"/>
<line x1="357.20" y1="189.28" x2="465.68" y2="189.28" stroke="#ebebeb" stroke-width="0.5"/>
<line x1="357.20" y1="274.60" x2="465.68" y2="274.60" stroke="#4d4d4d" stroke-width="0.6"/>
<line x1="357.20" y1="189.28" x2="357.20" y2="274.60" stroke="#4d4d4d" stroke-width="0.6"/>
<line x1="357.20" y1="274.60" x2="357.20" y2="277.10" stroke="#4d4d4d" stroke-width="0.6"/>
<text x="357.20" y="285.64" text-anchor="middle">0</text>
<line x1="375.28" y1="274.60" x2="375.28" y2="277.10" stroke="#4d4d4d" stroke-width="0.6"/>
<text x="375.28" y="285.64" text-anchor="middle">10</text>
<line x1="393.36" y1="274.60" x2="393.36" y2="277.10" stroke="#4d4d4d" stroke-width="0.6"/>
<text x="393.36" y="285.64" text-anchor="middle">20</text>
<line x1="411.44" y1="274.60" x2="411.44" y2="277.10" stroke="#4d4d4d" stroke-width="0.6"/>
<text x="411.44" y="285.64" text-anchor="middle">30</text>
<line x1="429.52" y1="274.60" x2="429.52" y2="277.10" stroke="#4d4d4d" stroke-width="0.6"/>
<text x="429.52" y="285.64" text-anchor="middle">40</text>
<line x1="447.60" y1="274.60" x2="447.60" y2="277.10" stroke="#4d4d4d" stroke-width="0.6"/>
<text x="447.60" y="285.64" text-anchor="middle">50</text>
<line x1="465.68" y1="274.60" x2="465.68" y2="277.10" stroke="#4d4d4d" stroke-width="0.6"/>
<text x="465.68" y="285.64" text-anchor="middle">60</text>
<line x1="354.70" y1="274.60" x2="357.20" y2="274.60" stroke="#4d4d4d" stroke-width="0.6"/>
<text x="352.50" y="276.84" text-anchor="end">0</text>
<line x1="354.70" y1="260.38" x2="357.20" y2="260.38" stroke="#4d4d4d" stroke-width="0.6"/>
<text x="352.50" y="262.62" text-anchor="end">10</text>
<line x1="354.70" y1="246.16" x2="357.20" y2="246.16" stroke="#4d4d4d" stroke-width="0.6"/>
<text x="352.50" y="248.40" text-anchor="end">20</text>
<line x1="354.70" y1="231.94" x2="357.20" y2="231.94" stroke="#4d4d4d" stroke-width="0.6"/>
<text x="352.50" y="234.18" text-anchor="end">30</text>
<line x1="354.70" y1="217.72" x2="357.20" y2="217.72" stroke="#4d4d4d" stroke-width="0.6"/>
<text x="352.50" y="219.96" text-anchor="end">40</text>
<line x1="354.70" y1="203.50" x2="357.20" y2="203.50" stroke="#4d4d4d" stroke-width="0.6"/>
<text x="352.50" y="205.74" text-anchor="end">50</text>
<line x1="354.70" y1="189.28" x2="357.20" y2="189.28" stroke="#4d4d4d" stroke-width="0.6"/>
<text x="352.50" y="191.52" text-anchor="end">60</text>
<path d="M393.4 246.9L394.4 245.8L395.5 244.7L396.6 243.6L397.7 242.5L398.7 241.4L399.8 240.3L400.9 239.2L401.9 238.1L403.0 237.1L404.1 236.2L405.2 235.2L406.2 234.3L407.3 233.4L408.4 232.5L409.4 231.5L410.5 230.6L411.6 229.7L412.7 228.9L413.7 228.2L414.8 227.4L415.9 226.7L417.0 225.9L418.0 225.1L419.1 224.4L420.2 223.6L421.2 222.9L422.3 222.3L423.4 221.6L424.5 220.9L425.5 220.2L426.6 219.6L427.7 218.9L428.8 218.2L429.8 217.5L430.9 216.9L432.0 216.2L433.0 215.5L434.1 214.8L435.2 214.2L436.3 213.5L437.3 212.8L438.4 212.1L439.5 211.7L440.6 211.4L441.6 211.1L442.7 210.7L443.8 210.4L444.8 210.1L445.9 209.7L447.0 209.4L448.1 209.0L449.1 208.7L450.2 208.4L451.3 208.0L452.3 207.7L453.4 207.4L454.5 207.0L455.6 206.7L456.6 206.3L456.6 222.0L455.6 222.3L454.5 222.7L453.4 223.0L452.3 223.3L451.3 223.7L450.2 224.0L449.1 224.3L448.1 224.7L447.0 225.0L445.9 225.4L444.8 225.7L443.8 226.0L442.7 226.4L441.6 226.7L440.6 227.0L439.5 227.4L438.4 227.7L437.3 228.3L436.3 228.8L435.2 229.3L434.1 229.8L433.0 230.3L432.0 230.8L430.9 231.3L429.8 231.8L428.8 232.3L427.7 232.8L426.6 233.3L425.5 233.8L424.5 234.3L423.4 234.8L422.3 235.3L421.2 235.8L420.2 236.3L419.1 236.7L418.0 237.2L417.0 237.6L415.9 238.0L414.8 238.4L413.7 238.9L412.7 239.3L411.6 239.7L410.5 240.1L409.4 240.5L408.4 241.0L407.3 241.4L406.2 241.8L405.2 242.2L404.1 242.7L403.0 243.1L401.9 243.6L400.9 244.2L399.8 244.8L398.7 245.3L397.7 245.9L396.6 246.5L395.5 247.1L394.4 247.7L393.4 248.3Z" stroke="none" stroke-width="0" fill="#d9d9d9"/>
<rect x="357.50" y="257.54" width="1.3" height="17.06" fill="#d6d6d6"/>
<path d="M402.9 237.3h0M378.1 264.5h0M367.7 268.7h0M369.3 270.3h0M377.2 253.0h0M380.1 250.6h0M373.9 265.1h0M364.1 264.6h0M374.6 257.0h0M372.9 265.7h0M378.5 262.9h0M379.9 252.6h0M379.5 260.8h0M379.0 251.2h0M370.4 265.8h0M372.5 274.5h0M390.9 256.8h0M361.0 265.6h0M364.1 270.2h0M376.9 268.2h0M368.8 263.7h0M371.2 261.3h0M403.9 236.3h0M366.2 256.9h0M427.7 226.2h0M403.4 250.5h0M384.1 262.1h0M359.9 273.1h0M381.8 251.8h0M381.4 259.9h0M380.5 247.1h0M375.2 259.6h0M376.6 255.5h0M380.1 250.1h0M370.6 267.5h0M412.3 233.1h0M378.4 258.4h0M364.5 263.3h0M375.5 252.8h0M393.8 242.8h0M363.4 270.5h0M426.1 233.2h0M378.1 260.1h0M367.5 267.2h0M373.9 260.0h0M363.6 267.3h0M390.8 249.2h0M377.3 260.9h0M380.5 260.7h0M413.6 244.8h0M382.0 250.7h0M369.9 262.8h0M385.8 257.9h0M389.9 252.0h0M368.5 264.2h0M372.7 261.2h0M393.8 248.5h0M375.5 263.6h0M391.2 247.8h0M367.4 260.6h0M374.2 259.9h0M377.9 263.5h0M359.7 272.7h0M381.8 261.4h0M362.0 262.9h0M387.9 253.7h0M374.0 263.5h0M367.4 267.4h0M378.4 258.9h0M404.3 243.3h0M396.1 252.5h0M378.8 253.4h0M372.8 258.2h0M371.0 269.3h0M377.8 253.1h0M365.9 269.5h0M371.2 268.8h0M388.8 231.8h0M384.0 254.2h0M400.7 243.7h0M381.3 261.0h0M365.1 273.2h0M416.9 227.5h0M386.7 258.7h0M380.6 267.7h0M389.7 250.4h0M359.9 270.8h0M396.9 239.2h0M415.3 237.8h0M359.3 271.4h0M404.0 248.7h0M385.1 262.5h0M371.9 269.9h0M387.3 254.8h0M373.4 258.0h0M404.1 237.3h0M361.7 270.9h0M362.6 263.0h0M364.0 263.4h0M404.5 241.7h0M381.2 256.7h0M393.1 246.8h0M360.2 271.5h0M369.9 268.6h0M360.4 244.2h0M370.3 266.6h0M371.0 257.1h0M381.6 258.0h0M401.6 229.0h0M365.4 268.8h0M368.2 262.6h0M376.8 259.3h0M381.5 242.8h0M402.2 241.4h0M403.3 241.0h0M378.0 261.9h0M369.2 268.5h0M373.5 261.0h0" stroke="#808080" stroke-width="2.6" fill="none" stroke-linecap="round" stroke-opacity="0.27"/>
<path d="M387.4 246.8h0M365.1 271.0h0M368.5 274.3h0M442.1 212.8h0M378.8 261.5h0M381.3 263.1h0M363.7 272.5h0M364.5 263.2h0M376.2 256.8h0M366.7 271.6h0M393.2 245.1h0M365.7 265.9h0M383.7 259.2h0M373.3 266.1h0M384.7 254.0h0M400.4 244.9h0M403.9 238.7h0M369.3 263.3h0M365.8 269.3h0M368.8 269.1h0M397.8 245.4h0M363.9 272.6h0M367.6 267.4h0M394.6 249.2h0M388.2 250.3h0M378.1 262.7h0M395.2 251.2h0M373.4 257.6h0M388.6 244.5h0M439.4 226.3h0M411.9 238.8h0M406.5 226.3h0M370.7 262.8h0M362.2 268.5h0M412.8 231.1h0M394.3 251.0h0M400.7 243.8h0M361.7 264.9h0M379.4 256.6h0M379.0 252.8h0M368.5 261.2h0M359.8 267.8h0M360.5 270.3h0M366.5 270.3h0M363.6 267.9h0M375.0 265.6h0M363.2 272.1h0M360.6 261.2h0M359.5 266.2h0M417.9 229.2h0M398.2 245.2h0M378.4 258.2h0M424.4 218.2h0M385.7 264.0h0M407.2 243.1h0M401.4 235.6h0M377.0 259.6h0M366.6 266.0h0M383.8 254.9h0M367.4 272.6h0M360.2 271.0h0M367.5 265.8h0M366.2 257.5h0M375.6 257.2h0M372.7 271.9h0M375.8 260.9h0M403.6 237.9h0M377.4 267.3h0M371.0 255.9h0M366.4 272.6h0M384.5 256.5h0M390.4 250.6h0M367.5 265.3h0M378.8 262.2h0M404.0 234.8h0M365.9 268.0h0M365.8 274.3h0M370.5 264.3h0M363.5 274.5h0M386.1 259.3h0M364.6 266.2h0M381.3 252.1h0M359.6 274.4h0M375.4 260.0h0M363.6 270.1h0M359.5 257.5h0M363.0 258.0h0M442.6 247.3h0M425.3 227.8h0M366.2 268.4h0M368.3 270.3h0M415.3 225.4h0M364.9 270.5h0M377.4 252.1h0M366.0 267.0h0M410.7 274.5h0M367.5 268.3h0M370.0 265.8h0M385.0 252.6h0M386.4 252.2h0M393.8 249.5h0M365.0 270.4h0M431.9 221.8h0M360.5 267.4h0M365.9 268.7h0M370.2 267.6h0M381.2 253.1h0M378.8 263.3h0M385.3 257.1h0M360.9 267.5h0M359.2 267.6h0M365.2 271.8h0M398.5 216.8h0M387.8 254.9h0M362.6 260.1h0M374.6 261.2h0M387.5 249.8h0M368.6 266.9h0" stroke="#808080" stroke-width="2.6" fill="none" stroke-linecap="round" stroke-opacity="0.27"/>
<path d="M363.0 274.5h0M396.4 246.6h0M386.3 255.1h0M368.5 270.2h0M390.9 251.7h0M404.4 232.7h0M365.2 269.6h0M393.9 242.6h0M363.5 269.2h0M369.2 264.6h0M368.6 263.5h0M371.0 263.8h0M363.2 264.7h0M369.4 265.1h0M393.4 262.7h0M360.5 274.3h0M392.7 248.1h0M426.3 238.7h0M369.6 265.2h0M381.5 260.3h0M370.9 259.7h0M388.0 260.9h0M386.4 256.4h0M369.4 255.3h0M378.2 261.7h0M367.8 263.0h0M374.5 260.9h0M367.7 266.9h0M384.4 256.1h0M392.5 251.4h0M416.1 224.7h0M357.9 266.4h0M371.0 267.2h0M387.9 247.0h0M384.2 259.4h0M384.5 257.0h0M394.7 243.9h0M379.5 264.0h0M386.5 249.8h0M375.8 266.0h0M360.3 266.8h0M370.7 267.0h0M360.0 266.5h0M389.6 260.9h0M387.3 257.5h0M360.8 271.0h0M380.1 256.4h0M363.7 274.5h0M392.6 242.9h0M378.9 265.6h0M394.1 242.0h0M412.2 235.9h0M373.2 250.5h0M375.1 265.7h0M363.5 267.7h0M385.0 247.6h0M427.2 229.6h0M433.6 214.4h0M363.6 265.3h0M367.9 263.6h0M370.5 258.6h0M361.0 259.4h0M361.4 268.5h0M390.1 252.5h0M380.3 260.3h0M365.4 264.4h0M378.8 260.7h0M366.5 266.4h0M365.8 266.4h0M367.2 267.7h0M368.7 266.7h0M360.7 274.5h0M367.8 253.1h0M365.3 274.5h0M370.1 265.2h0M364.5 265.1h0M378.0 262.6h0M379.8 266.8h0M382.9 264.2h0M429.6 217.5h0M407.9 247.0h0M360.7 266.0h0M386.2 245.7h0M363.8 274.5h0M372.1 268.8h0M363.7 266.7h0M380.5 261.7h0M388.2 255.7h0M370.7 271.6h0M397.2 241.0h0M373.8 258.3h0M390.0 258.0h0M406.4 246.7h0M372.3 261.5h0M373.7 268.2h0M388.4 254.4h0M409.4 242.2h0M371.2 267.3h0M416.8 229.8h0M371.9 268.7h0M377.9 263.3h0M384.1 258.0h0M365.5 265.7h0M372.1 258.8h0M363.4 267.9h0M372.0 265.4h0M365.5 269.3h0M410.3 234.6h0M390.8 260.5h0M405.6 241.5h0M377.8 260.5h0M388.0 250.5h0M405.2 245.4h0M371.7 266.4h0M368.2 265.9h0M385.1 261.2h0M385.4 253.1h0M367.7 263.5h0" stroke="#808080" stroke-width="2.6" fill="none" stroke-linecap="round" stroke-opacity="0.27"/>
<path d="M363.2 274.5h0M376.1 261.6h0M383.9 262.3h0M361.6 272.1h0M401.9 259.0h0M417.6 246.0h0M363.3 272.1h0M364.7 253.8h0M411.5 226.8h0M369.9 266.3h0M381.8 262.0h0M416.7 231.1h0M366.0 264.5h0M370.8 262.0h0M406.5 228.3h0M368.0 262.8h0M382.2 254.0h0M376.5 267.7h0M391.4 236.6h0M374.3 268.9h0M365.5 273.0h0M373.8 263.1h0M360.0 270.0h0M364.7 270.1h0M367.5 266.7h0M440.8 227.5h0M370.1 263.6h0M361.1 273.0h0M370.7 255.3h0M376.2 258.9h0M373.9 263.5h0M359.5 267.4h0M364.6 274.5h0M369.0 267.9h0M381.2 255.8h0M371.7 272.4h0M373.0 262.8h0M388.3 260.8h0M398.9 240.2h0M384.4 256.9h0M372.2 255.5h0M380.1 260.6h0M367.6 266.9h0M383.3 257.8h0M374.6 262.7h0M390.8 251.1h0M367.1 272.4h0M376.4 253.5h0M390.5 242.1h0M433.4 217.3h0M368.4 265.1h0M374.9 266.2h0M382.0 248.9h0M387.4 254.6h0M373.9 256.3h0M370.6 270.8h0M374.7 256.5h0M357.8 274.5h0M384.2 264.6h0M380.9 270.6h0M371.1 262.7h0M365.4 268.5h0M364.2 270.3h0M382.7 251.3h0M385.1 251.8h0M363.1 272.3h0M366.5 268.9h0M365.8 262.2h0M386.2 256.5h0M369.7 260.8h0M383.9 256.9h0M361.0 274.5h0M362.3 267.1h0M363.0 273.2h0M374.8 258.8h0M398.1 248.3h0M374.3 262.7h0M384.4 260.0h0M380.1 251.7h0M369.4 272.8h0M431.6 219.8h0M376.1 254.8h0M362.6 266.3h0M377.6 256.4h0M377.8 267.5h0M372.6 274.5h0M372.3 266.2h0M396.2 244.0h0M363.2 273.9h0M413.0 261.8h0M386.3 252.9h0M366.7 273.0h0M362.2 268.9h0M361.6 265.3h0M369.6 267.1h0M380.8 261.1h0M367.8 270.6h0M381.8 249.1h0M389.8 253.0h0M386.6 255.3h0M369.0 264.9h0M367.4 270.7h0M366.2 263.2h0M385.2 256.6h0M371.6 269.6h0M409.0 242.0h0M385.3 247.2h0M360.5 267.7h0M389.0 261.3h0M370.9 261.8h0M370.1 268.2h0M385.0 246.5h0M452.3 222.3h0M419.4 231.8h0M362.3 274.1h0M359.1 260.3h0M373.0 274.5h0M370.0 265.6h0" stroke="#808080" stroke-width="2.6" fill="none" stroke-linecap="round" stroke-opacity="0.27"/>
<path d="M382.1 258.3h0M358.7 269.5h0M382.8 247.9h0M378.6 257.5h0M377.7 253.4h0M371.6 259.2h0M406.0 222.9h0M368.5 268.9h0M375.8 258.2h0M399.3 245.6h0M428.5 224.4h0M396.7 243.8h0M370.0 262.6h0M391.5 234.0h0M376.7 264.1h0M358.8 266.1h0M380.8 263.3h0M380.8 252.8h0M375.7 263.1h0M399.6 243.7h0M373.7 262.2h0M378.2 265.2h0M374.7 271.7h0M377.8 264.7h0M386.6 252.6h0M399.4 230.3h0M367.4 271.5h0M369.0 268.5h0M371.6 266.2h0M406.8 251.3h0M379.5 261.6h0M394.8 251.3h0M373.8 260.0h0M431.9 225.5h0M374.8 262.1h0M367.6 261.3h0M376.9 263.7h0M422.2 227.5h0M378.7 258.4h0M379.2 264.0h0M364.8 270.2h0M368.5 265.0h0M372.1 267.8h0M369.0 255.8h0M370.3 263.0h0M393.0 241.9h0M370.8 260.9h0M408.3 245.6h0M371.2 265.5h0M372.4 267.1h0M369.6 274.5h0M385.8 249.7h0M402.8 232.8h0M379.0 257.5h0M394.8 241.0h0M367.5 264.0h0M374.5 262.7h0M378.8 259.1h0M373.6 257.3h0M384.8 233.8h0M361.7 269.3h0M361.4 267.7h0M371.3 259.0h0M411.9 226.4h0M372.5 267.0h0M376.3 257.9h0M360.1 271.3h0M359.9 270.6h0M374.1 259.3h0M427.5 230.4h0M372.4 261.1h0M360.4 265.2h0M390.8 245.2h0M364.2 271.1h0M370.5 263.9h0M363.4 268.3h0M375.2 262.3h0M364.1 261.5h0M382.1 259.4h0M384.5 256.0h0M361.3 271.6h0M378.0 262.9h0M376.8 264.7h0M377.1 253.9h0M372.5 273.9h0M405.7 228.7h0M375.2 256.8h0M384.0 255.6h0M392.1 240.0h0M371.1 265.8h0M386.6 248.7h0M391.4 259.1h0M358.9 270.5h0M390.4 251.9h0M369.9 264.0h0M376.2 270.7h0M364.1 268.9h0M362.3 267.1h0M362.4 273.5h0M358.9 267.2h0M388.8 260.5h0M365.9 265.7h0M363.1 272.7h0M362.9 263.9h0M390.3 259.6h0M394.7 254.0h0M372.0 269.8h0M390.0 240.2h0M364.9 258.1h0M425.4 232.6h0M372.2 259.5h0M419.8 227.7h0M364.9 269.5h0M366.0 274.5h0M363.1 265.3h0M364.1 265.3h0M379.6 261.0h0M374.2 274.0h0" stroke="#808080" stroke-width="2.6" fill="none" stroke-linecap="round" stroke-opacity="0.27"/>
<path d="M367.2 267.0h0M388.0 249.3h0M368.0 263.4h0M369.2 269.6h0M369.8 270.6h0M372.7 260.5h0M369.0 259.5h0M368.4 269.4h0M398.2 246.5h0M368.3 273.3h0M397.2 249.4h0M408.6 240.4h0M368.0 265.2h0M402.4 229.6h0M362.5 268.4h0M377.4 257.8h0M369.8 267.8h0M392.1 225.3h0M361.1 274.5h0M362.0 264.9h0M374.2 267.3h0M406.6 246.4h0M377.8 254.9h0M365.4 267.8h0M376.8 264.1h0M365.8 269.6h0M389.6 247.2h0M377.3 256.5h0M376.7 252.8h0M392.9 252.6h0M378.5 268.2h0M378.0 263.6h0M365.6 268.1h0M375.3 266.9h0M372.4 263.1h0M367.8 270.2h0M364.1 273.4h0M429.8 235.1h0M383.7 254.1h0M390.5 247.5h0M406.5 233.6h0M372.5 259.5h0M384.5 261.9h0M388.4 249.2h0M360.3 274.5h0M411.8 225.7h0M402.1 244.4h0M423.9 241.3h0M372.3 263.0h0M362.7 269.6h0M403.4 232.2h0M393.6 249.5h0M384.7 259.8h0M377.1 263.1h0M379.4 254.8h0M372.9 270.5h0M363.0 271.3h0M390.0 262.6h0M392.4 253.0h0M365.0 272.5h0M370.1 257.7h0M375.7 272.0h0M379.1 263.2h0M382.5 253.9h0M401.7 246.5h0M374.5 261.6h0M361.4 268.4h0M377.7 272.7h0M368.1 271.4h0M387.2 246.0h0M364.6 271.0h0M392.3 251.0h0M369.3 274.5h0M391.1 239.2h0M378.1 259.4h0M367.9 268.3h0M395.3 261.5h0M371.5 263.9h0M414.5 241.1h0M435.6 215.1h0M365.0 266.7h0M378.8 253.4h0M372.9 270.2h0M377.8 260.6h0M365.2 264.0h0M419.9 231.3h0M360.0 266.7h0M379.3 254.8h0M398.3 248.2h0M367.4 268.3h0M388.9 246.5h0M391.9 252.3h0M386.6 250.3h0M379.1 250.9h0M364.7 270.3h0M362.2 272.9h0M395.1 247.2h0M385.0 251.0h0M359.1 270.5h0M367.0 266.8h0M372.3 269.5h0M416.7 237.5h0M365.9 260.7h0M365.3 274.5h0M376.1 261.3h0M364.0 263.5h0M374.3 263.7h0M379.0 258.2h0M414.7 228.8h0M366.8 270.8h0M375.9 255.0h0M383.9 254.6h0M366.7 272.2h0M390.9 253.7h0M390.6 255.4h0M373.7 268.3h0M382.4 259.5h0M368.5 258.7h0" stroke="#808080" stroke-width="2.6" fill="none" stroke-linecap="round" stroke-opacity="0.27"/>
<path d="M374.6 257.3h0M455.7 224.3h0M394.5 249.1h0M377.4 257.9h0M360.9 270.4h0M374.2 261.6h0M360.1 274.5h0M372.5 260.2h0M407.9 232.7h0M377.1 256.9h0M388.2 252.6h0M406.7 235.6h0M364.1 266.9h0M374.1 261.8h0M368.3 265.2h0M359.2 271.7h0M374.1 254.9h0M390.8 254.2h0M393.6 248.3h0M385.3 257.6h0M369.9 267.1h0M390.0 253.9h0M404.9 240.8h0M376.5 255.1h0M375.7 261.8h0M370.0 272.7h0M401.7 232.7h0M380.5 243.4h0M375.7 267.7h0M379.5 268.3h0M406.1 235.4h0M370.7 271.3h0M384.2 257.1h0M359.1 266.7h0M367.0 263.3h0M372.2 243.0h0M370.7 264.2h0M390.8 251.0h0M375.5 264.2h0M363.1 266.2h0M381.8 262.9h0M393.7 251.8h0M405.9 235.8h0M385.7 253.0h0M368.2 259.0h0M364.3 271.1h0M379.3 257.2h0M366.4 274.5h0M380.7 260.3h0M360.4 269.7h0M378.5 262.3h0M397.0 237.0h0M364.6 263.1h0M374.2 249.7h0M365.8 263.7h0M410.1 222.6h0M373.3 263.0h0M367.7 260.3h0M373.4 263.4h0M404.3 236.0h0M368.8 271.6h0M360.8 268.2h0M371.3 265.5h0M396.7 243.6h0M373.3 258.7h0M361.7 262.8h0M384.0 246.5h0M361.8 268.2h0M400.2 240.6h0M430.8 214.1h0M396.0 249.5h0M379.5 260.8h0M417.8 226.1h0M361.2 264.9h0M416.1 235.3h0M390.7 247.1h0M388.8 257.8h0M382.9 257.4h0M412.0 242.2h0M399.0 239.4h0M366.6 268.6h0M358.8 266.8h0M371.9 252.5h0M400.2 237.2h0M381.7 263.7h0M373.7 259.0h0M372.4 255.0h0M403.1 236.4h0M377.1 249.7h0M416.8 240.0h0M387.9 243.7h0M369.4 260.3h0M372.8 268.6h0M374.8 250.4h0M380.0 248.8h0M399.4 262.6h0M377.0 260.2h0M366.3 274.5h0M403.5 233.4h0M370.8 262.4h0M402.9 231.0h0M405.4 226.2h0M366.9 263.2h0M364.8 274.5h0M398.1 240.1h0M366.4 265.7h0M398.8 244.5h0M372.1 263.7h0M395.9 238.4h0M371.2 267.7h0M382.7 241.5h0M367.4 264.0h0M379.6 259.5h0M400.3 253.9h0M370.6 260.6h0M368.3 259.9h0M376.2 262.4h0M388.2 258.4h0" stroke="#808080" stroke-width="2.6" fill="none" stroke-linecap="round" stroke-opacity="0.27"/>
<path d="M397.7 244.2h0M389.9 256.6h0M388.1 247.5h0M368.9 270.1h0M405.2 250.5h0M382.9 251.3h0M391.6 249.2h0M391.4 257.1h0M376.6 272.3h0M363.5 271.9h0M365.2 264.7h0M367.8 263.0h0M411.5 240.0h0M360.1 267.6h0M371.7 258.4h0M389.0 254.2h0M366.7 257.2h0M398.0 238.4h0M382.9 256.1h0M370.2 255.0h0M368.2 266.1h0M362.5 270.2h0M426.4 219.0h0M375.9 253.7h0M363.0 271.9h0M379.6 257.2h0M359.3 268.4h0M381.2 261.1h0M392.1 262.2h0M370.2 261.7h0M377.4 265.4h0M384.9 250.1h0M385.5 253.3h0M364.8 264.4h0M396.1 239.7h0M379.5 249.2h0M409.7 238.5h0M372.4 271.0h0M383.6 266.1h0M376.9 264.5h0M360.7 269.8h0M369.9 264.8h0M408.1 239.1h0M388.2 254.7h0M358.2 268.2h0M377.9 254.8h0M380.1 261.2h0M361.2 271.7h0M360.9 270.9h0M384.1 248.8h0M375.1 258.2h0M374.4 258.8h0M394.4 248.0h0M415.7 227.7h0M372.2 260.9h0M390.5 244.2h0M446.5 218.6h0M365.7 261.0h0M367.6 268.8h0M366.1 272.9h0M366.8 268.8h0M370.7 265.2h0M367.3 274.5h0M365.2 270.7h0M372.8 260.6h0M364.0 274.5h0M362.6 274.5h0M443.6 230.2h0M360.2 265.5h0M383.3 245.5h0M415.9 227.1h0M387.5 251.8h0M366.6 272.3h0M384.4 266.9h0M388.4 245.5h0M362.6 266.9h0M361.2 267.3h0M405.5 244.4h0M397.6 251.8h0M359.5 260.5h0M416.3 219.0h0M389.9 254.1h0M400.2 247.4h0M375.1 258.6h0M360.1 264.6h0M405.4 232.0h0M385.9 243.4h0M380.5 264.8h0M388.3 260.0h0M372.3 266.9h0M364.7 270.1h0M389.1 250.7h0M383.6 245.9h0M377.8 262.8h0M376.3 261.3h0M412.0 235.9h0M372.4 263.3h0M385.8 249.6h0M371.6 262.9h0M374.8 261.9h0M382.7 250.7h0M376.3 266.0h0M372.1 261.1h0M391.1 248.3h0M385.4 242.1h0M377.6 256.1h0M369.7 265.3h0M392.9 247.8h0M377.8 265.5h0M372.3 263.0h0M366.3 262.6h0M384.6 248.1h0M402.8 242.5h0M365.7 271.8h0M377.8 257.3h0M360.6 268.1h0M377.5 255.0h0M365.0 257.1h0" stroke="#808080" stroke-width="2.6" fill="none" stroke-linecap="round" stroke-opacity="0.27"/>
<path d="M372.8 273.4h0M378.0 255.9h0M381.9 254.0h0M364.6 263.8h0M362.3 267.0h0M373.8 271.1h0M418.8 241.7h0M375.1 263.6h0M402.8 235.2h0M373.1 272.6h0M387.2 247.5h0M367.7 266.0h0M363.8 270.7h0M377.3 269.1h0M426.4 230.0h0M376.4 258.4h0M401.9 228.4h0M384.2 253.7h0M384.5 252.1h0M440.9 213.9h0M375.9 259.4h0M360.1 274.5h0M366.9 273.8h0M365.3 263.5h0M375.3 250.9h0M436.6 205.2h0M380.0 259.6h0M380.1 257.9h0M447.3 226.1h0M381.4 252.4h0M395.3 237.3h0M368.3 268.4h0M400.5 233.0h0M407.8 236.2h0M375.9 259.5h0M388.0 255.2h0M420.5 223.0h0M369.3 265.0h0M367.6 269.3h0M370.3 265.9h0M382.7 251.1h0M389.1 250.0h0M358.5 274.5h0M398.4 247.7h0M382.8 247.6h0M373.9 263.8h0M370.5 265.7h0M399.6 250.2h0M404.7 236.1h0M370.4 259.9h0M362.4 269.6h0M373.3 256.4h0M367.0 269.8h0M380.2 249.9h0M364.3 274.1h0M412.0 230.7h0M361.5 270.5h0M359.8 265.0h0M380.4 251.6h0M407.8 240.8h0M374.4 260.5h0M363.0 271.7h0M384.0 265.0h0M363.3 267.9h0M399.3 246.8h0M368.3 265.1h0M413.2 233.6h0M376.1 259.1h0M384.4 254.5h0M366.1 271.9h0M377.7 266.5h0M372.6 271.7h0M374.3 262.8h0M372.8 265.9h0M375.4 261.1h0M389.9 250.7h0M372.8 262.3h0M359.8 264.4h0M391.2 247.1h0M379.3 255.5h0M388.9 254.3h0M393.1 244.8h0M364.9 274.5h0M382.4 245.0h0M403.6 242.2h0M365.3 274.5h0M374.0 260.5h0M365.2 265.2h0M361.0 273.2h0M377.1 256.3h0M375.8 261.0h0M377.8 259.0h0M367.3 264.7h0M363.0 271.2h0M379.2 273.2h0M393.3 253.7h0M360.4 264.7h0M388.1 245.0h0M404.3 251.7h0M379.1 249.8h0M369.1 272.1h0M382.0 254.2h0M367.7 273.4h0M425.2 229.9h0M369.9 269.3h0M365.5 272.7h0M405.4 218.6h0M378.3 258.2h0M388.2 255.8h0M393.0 235.0h0M368.5 274.5h0M375.3 254.6h0M388.8 248.5h0M389.2 250.4h0M390.7 260.1h0M386.7 254.4h0M385.5 246.1h0M375.1 264.4h0" stroke="#808080" stroke-width="2.6" fill="none" stroke-linecap="round" stroke-opacity="0.27"/>
<path d="M433.2 223.9h0M378.2 262.5h0M386.6 252.3h0M381.2 249.9h0M376.9 259.3h0M392.5 249.2h0M403.4 244.2h0M389.2 262.4h0M370.7 264.2h0M376.6 262.8h0M386.1 254.5h0M393.1 250.2h0M373.0 264.1h0M380.2 256.8h0M393.8 256.2h0M364.8 274.4h0M391.4 254.7h0M373.3 263.6h0M408.0 236.3h0M394.4 246.2h0M381.6 257.3h0M365.2 271.7h0M360.6 272.8h0M378.5 262.8h0M360.9 271.3h0M362.0 268.3h0M372.8 264.2h0M371.4 257.1h0M363.4 270.8h0M373.8 252.0h0M364.2 274.5h0M360.8 273.4h0M376.0 231.1h0M388.0 252.6h0M382.5 249.5h0M373.4 258.2h0M372.0 260.1h0M369.6 263.6h0M366.3 274.2h0M373.0 269.0h0M377.1 269.3h0M363.4 270.8h0M360.8 273.2h0M379.5 256.9h0M363.6 269.6h0M388.8 250.7h0M385.1 256.2h0M358.7 264.7h0M388.5 244.2h0M382.7 253.1h0M381.7 256.0h0M375.9 259.6h0M362.8 265.6h0M397.0 244.3h0M373.2 259.6h0M449.8 215.6h0M391.3 250.3h0M397.4 242.4h0M385.4 256.0h0M373.6 268.9h0M370.6 265.9h0M388.5 248.0h0M393.1 241.0h0M362.0 268.9h0M392.1 242.6h0M413.3 243.8h0M372.1 270.6h0M383.4 254.7h0M403.9 248.7h0M360.0 267.0h0M386.8 251.7h0M392.8 247.3h0M358.1 274.1h0M380.7 249.4h0M361.3 270.7h0M364.4 271.8h0M383.4 257.7h0M407.1 235.3h0M381.8 260.2h0M384.3 249.2h0M368.8 260.1h0M395.0 244.8h0M384.8 251.8h0M376.7 266.0h0M379.2 260.1h0M371.3 265.9h0M365.8 265.8h0M410.0 233.6h0M406.0 248.1h0M393.1 244.7h0M372.0 258.8h0M393.9 259.2h0M372.9 257.1h0M382.1 263.2h0M381.9 259.5h0M403.6 240.5h0M369.0 274.5h0M379.8 270.7h0M377.0 257.1h0M384.1 260.8h0M385.1 254.8h0M377.5 254.3h0M372.8 259.3h0M380.9 255.9h0M377.5 255.2h0M365.6 274.5h0M370.6 258.8h0M375.0 258.3h0M360.3 266.4h0M398.0 239.0h0M381.5 266.2h0M420.2 224.7h0M378.6 265.8h0M379.0 251.7h0M408.9 235.9h0M401.5 246.3h0M407.1 233.6h0M387.7 251.4h0" stroke="#808080" stroke-width="2.6" fill="none" stroke-linecap="round" stroke-opacity="0.27"/>
<path d="M370.6 266.1h0M370.0 269.9h0M374.7 269.6h0M399.1 243.3h0M422.0 232.6h0M387.2 247.6h0M408.4 247.3h0M371.4 266.9h0M381.4 260.7h0M376.4 270.7h0M370.9 266.0h0M366.0 264.0h0M379.5 260.4h0M359.2 273.5h0M392.7 244.0h0M377.9 255.3h0M386.6 251.7h0M417.1 239.6h0M375.2 262.8h0M393.7 244.9h0M368.7 264.8h0M404.7 242.7h0M385.4 252.8h0M363.4 262.9h0M399.1 236.0h0M387.0 254.4h0M367.1 269.7h0M361.3 270.0h0M369.1 263.2h0M379.7 261.8h0M371.5 265.1h0M378.5 259.3h0M400.4 237.3h0M366.3 270.6h0M361.5 268.6h0M404.5 230.0h0M383.3 254.2h0M365.4 266.4h0M385.8 247.3h0M363.5 264.3h0M371.0 263.6h0M432.3 220.3h0M400.8 238.0h0M371.5 264.5h0M384.6 253.8h0M367.7 270.1h0M378.4 257.1h0M378.1 257.9h0M395.4 240.7h0M369.8 262.3h0M435.1 231.9h0M368.1 264.1h0M374.3 270.7h0M362.3 265.0h0M387.4 249.0h0M393.7 250.3h0M389.5 254.9h0M379.3 241.4h0M424.4 228.4h0M387.4 259.4h0M389.5 258.5h0M394.9 246.2h0M377.9 261.9h0M372.6 250.6h0M391.4 245.7h0M372.4 267.8h0M375.5 262.0h0M388.5 250.9h0M361.0 273.0h0M404.4 237.0h0M372.3 263.8h0M391.8 246.2h0M440.0 216.6h0M410.4 235.3h0M362.1 269.9h0M370.3 260.8h0M396.9 243.9h0M376.2 262.0h0M384.5 250.7h0M373.9 270.9h0M366.1 258.9h0M388.8 250.9h0M372.2 255.7h0M371.4 264.9h0M365.8 259.4h0M370.5 256.2h0M359.2 268.3h0M407.9 220.7h0M418.6 218.3h0M385.5 245.8h0M422.2 220.6h0M362.4 273.3h0M364.9 266.1h0M380.8 260.2h0M381.6 254.5h0M373.7 274.5h0M360.4 268.8h0M408.1 236.3h0M359.4 271.8h0M369.9 268.2h0M365.1 260.2h0M375.0 260.5h0M362.4 270.3h0M387.4 257.0h0M373.2 261.2h0M375.6 265.6h0M408.1 201.1h0M370.1 259.3h0M403.3 237.5h0M369.8 265.7h0M434.4 224.7h0M375.8 260.9h0M386.4 249.7h0M399.0 243.8h0M370.4 268.9h0M364.4 265.4h0M379.0 249.0h0M364.1 273.5h0" stroke="#808080" stroke-width="2.6" fill="none" stroke-linecap="round" stroke-opacity="0.27"/>
<path d="M359.0 270.7h0M390.5 254.9h0M382.0 258.2h0M368.1 268.6h0M379.7 257.0h0M394.1 249.7h0M363.6 271.8h0M371.2 261.9h0M360.2 274.5h0M361.4 270.6h0M402.7 274.5h0M379.8 259.6h0M367.7 270.6h0M390.4 247.2h0M384.7 255.1h0M402.6 229.0h0M373.4 259.4h0M369.6 266.7h0M364.2 273.5h0M371.6 264.2h0M388.3 252.1h0M388.0 255.3h0M388.6 254.4h0M368.1 270.7h0M366.3 273.6h0M379.9 253.9h0M368.6 266.0h0M408.9 238.1h0M399.3 242.4h0M381.2 253.6h0M365.8 268.0h0M392.0 248.4h0M370.2 273.6h0M406.9 225.9h0M373.8 263.1h0M365.1 256.4h0M392.7 244.7h0M371.0 264.4h0M375.0 259.8h0M363.5 265.5h0M380.5 266.7h0M380.7 252.0h0M391.3 248.5h0M389.4 250.1h0M386.5 250.0h0M366.1 270.0h0M360.5 271.7h0M362.4 270.4h0M390.2 244.1h0M372.3 262.1h0M370.7 265.3h0M360.1 268.3h0M368.7 253.4h0M375.2 271.3h0M409.4 237.6h0M389.5 254.3h0M388.5 253.4h0M378.2 271.0h0M369.0 268.4h0M396.1 251.3h0M388.4 247.7h0M373.5 270.1h0M386.5 256.1h0M376.8 258.2h0M381.0 259.2h0M380.0 252.8h0M402.0 242.2h0M399.3 242.9h0M361.1 265.9h0M394.8 252.5h0M367.9 270.0h0M373.6 268.7h0M393.0 249.8h0M384.8 255.7h0M369.3 269.0h0M392.8 251.2h0M372.7 261.0h0M365.4 274.5h0M361.1 259.7h0M394.5 254.3h0M376.4 260.6h0M366.6 267.9h0M369.6 263.1h0M361.8 269.5h0M368.7 266.7h0M364.3 261.2h0M366.4 270.7h0M413.2 236.3h0M380.2 253.9h0M415.3 232.8h0M402.0 244.7h0M393.9 243.0h0M397.8 237.2h0M413.1 237.2h0M386.5 254.6h0M367.6 268.3h0M364.7 265.8h0M370.5 269.1h0M371.6 263.3h0M370.2 260.9h0M404.4 239.7h0M366.8 267.8h0M370.0 265.7h0M406.2 238.6h0M371.7 258.5h0M436.9 232.9h0M361.7 270.2h0M364.6 268.1h0M398.4 243.0h0M360.6 263.9h0M368.6 267.8h0M409.9 236.3h0M389.7 249.2h0M361.6 267.9h0M383.5 248.1h0M374.0 262.7h0M398.7 248.1h0M394.1 256.0h0" stroke="#808080" stroke-width="2.6" fill="none" stroke-linecap="round" stroke-opacity="0.27"/>
<path d="M366.7 266.6h0M376.5 263.4h0M373.2 259.4h0M386.7 246.8h0M370.7 261.4h0M375.0 266.0h0M454.9 209.7h0M370.5 267.6h0M369.5 268.8h0M370.6 265.2h0M395.0 242.4h0M383.7 249.1h0M404.6 228.5h0M388.4 254.8h0M379.0 261.0h0M404.3 236.8h0M391.4 241.2h0M365.0 271.5h0M388.4 252.6h0M383.2 255.6h0M415.9 230.0h0M360.1 269.8h0M363.2 266.9h0M386.3 256.8h0M379.5 250.2h0M365.4 257.0h0M373.8 264.6h0M364.5 274.5h0M378.5 259.5h0M400.7 237.0h0M375.2 262.2h0M367.0 266.8h0M376.5 257.1h0M369.6 270.9h0M391.8 259.3h0M373.8 260.6h0M373.5 256.9h0M375.4 268.8h0M377.4 258.5h0M362.0 269.7h0M389.4 261.0h0M397.7 242.4h0M368.0 258.3h0M378.5 257.5h0M374.7 266.7h0M360.9 265.1h0M451.7 219.1h0M373.4 259.9h0M378.6 265.7h0M379.6 253.3h0M400.6 240.5h0M429.7 237.1h0M399.2 242.8h0M364.4 264.2h0M417.3 215.2h0M363.9 272.4h0M359.5 274.5h0M363.1 273.7h0M365.7 258.0h0M367.1 267.0h0M375.4 255.0h0M376.6 265.4h0M376.9 259.8h0M364.0 270.7h0M382.5 252.3h0M369.2 263.1h0M368.6 266.2h0M375.6 257.7h0M404.1 248.4h0M368.6 269.8h0M370.1 264.0h0M398.6 248.7h0M367.9 268.2h0M377.6 264.7h0M370.1 270.6h0M380.8 259.8h0M393.4 237.9h0M409.2 232.9h0M395.6 251.7h0M395.1 245.5h0M369.3 263.4h0M424.3 223.5h0M378.5 251.2h0M375.5 269.7h0M367.9 271.8h0M359.2 270.1h0M392.7 246.6h0M363.4 268.4h0M383.7 249.7h0M377.5 261.6h0M366.0 267.4h0M362.0 269.0h0M364.5 274.5h0M371.2 268.6h0M388.6 246.1h0M364.1 268.0h0M363.9 267.2h0M362.5 269.0h0M404.9 245.3h0M381.1 253.3h0M380.1 255.7h0M371.2 263.4h0M368.9 271.8h0M368.2 262.3h0M365.3 268.5h0M387.8 252.9h0M360.0 268.4h0M374.0 273.8h0M369.0 272.0h0M374.0 258.2h0M361.0 268.1h0M363.6 274.5h0M374.3 255.7h0M403.7 241.4h0M390.2 243.1h0M363.0 269.4h0M384.4 249.1h0M404.9 254.2h0" stroke="#808080" stroke-width="2.6" fill="none" stroke-linecap="round" stroke-opacity="0.27"/>
<path d="M373.5 261.4h0M380.4 255.7h0M371.2 261.4h0M373.3 267.5h0M399.6 243.4h0M359.2 273.3h0M393.1 249.8h0M366.4 265.2h0M394.2 245.0h0M374.9 260.5h0M379.4 255.7h0M373.7 253.2h0M410.0 238.0h0M376.5 261.3h0M378.7 260.1h0M363.1 266.3h0M382.0 259.0h0M385.7 254.7h0M367.6 262.5h0M380.4 256.7h0M378.7 256.8h0M387.1 260.5h0M374.7 261.4h0M389.1 260.0h0M371.1 264.4h0M360.2 272.2h0M370.5 268.5h0M393.8 247.1h0M363.6 268.1h0M404.9 242.5h0M368.6 274.5h0M387.6 250.6h0M440.2 207.8h0M375.3 266.9h0M365.7 264.6h0M361.1 274.5h0M396.3 237.2h0M397.2 247.9h0M374.8 260.6h0M363.1 271.5h0M390.4 242.7h0M387.0 246.7h0M373.8 263.5h0M399.4 249.3h0M376.4 265.3h0M381.7 251.9h0M369.1 272.8h0M365.5 274.3h0M417.4 233.7h0M363.2 263.8h0M361.2 268.4h0M385.3 249.3h0M385.1 254.4h0M414.8 237.9h0M396.9 249.1h0M369.3 266.1h0M368.4 267.3h0M370.2 265.5h0M373.1 265.1h0M416.4 233.0h0M360.7 267.0h0M368.9 272.7h0M385.1 250.2h0M373.1 271.6h0M380.5 248.7h0M375.3 250.7h0M358.9 265.0h0M386.4 247.5h0M366.7 261.1h0M370.3 266.0h0M375.4 259.5h0M383.0 259.7h0M370.0 265.2h0M380.5 260.7h0M369.5 267.9h0M370.2 263.5h0M408.2 231.5h0M381.1 258.5h0M393.4 243.7h0M373.3 269.2h0M389.0 253.9h0M363.2 272.4h0M385.7 260.0h0M405.4 236.4h0M376.8 258.5h0M381.9 252.1h0M394.9 254.9h0M451.5 225.0h0M386.6 250.6h0M408.7 233.2h0M374.8 266.6h0M390.0 247.0h0M366.4 273.9h0M363.3 264.9h0M427.8 225.4h0M386.1 257.4h0M376.2 251.8h0M369.1 269.8h0M420.3 235.9h0M387.1 253.1h0M363.3 265.8h0M367.5 269.7h0M361.2 274.5h0M407.9 239.4h0M388.5 249.4h0M382.9 255.8h0M377.3 258.5h0M367.0 269.4h0M373.3 263.2h0M363.8 274.5h0M412.9 245.0h0M377.9 257.5h0M373.6 260.4h0M374.4 260.2h0M369.5 267.5h0M392.3 239.6h0M373.9 262.5h0M441.9 214.4h0" stroke="#808080" stroke-width="2.6" fill="none" stroke-linecap="round" stroke-opacity="0.27"/>
<path d="M357.2 270.3L366.2 268.2L375.3 261.8L384.3 254.7L393.4 247.6L402.4 240.5L411.4 234.8L420.5 229.8L429.5 224.8L438.6 219.9L447.6 217.0L456.6 214.2" stroke="#3a3a3a" stroke-width="0.6" fill="none" stroke-linejoin="round"/>
<text x="411.30" y="182.84" text-anchor="middle">eA3A–nCas9-NG</text>
<text x="464.00" y="263.40" text-anchor="end"><tspan font-style="italic">R</tspan> = 0.92</text>
<text x="464.00" y="271.20" text-anchor="end"><tspan font-style="italic">n</tspan> = 1,652</text>
<line x1="497.30" y1="189.30" x2="497.30" y2="274.90" stroke="#ebebeb" stroke-width="0.5"/>
<line x1="515.33" y1="189.30" x2="515.33" y2="274.90" stroke="#ebebeb" stroke-width="0.5"/>
<line x1="533.36" y1="189.30" x2="533.36" y2="274.90" stroke="#ebebeb" stroke-width="0.5"/>
<line x1="551.39" y1="189.30" x2="551.39" y2="274.90" stroke="#ebebeb" stroke-width="0.5"/>
<line x1="569.42" y1="189.30" x2="569.42" y2="274.90" stroke="#ebebeb" stroke-width="0.5"/>
<line x1="587.45" y1="189.30" x2="587.45" y2="274.90" stroke="#ebebeb" stroke-width="0.5"/>
<line x1="605.48" y1="189.30" x2="605.48" y2="274.90" stroke="#ebebeb" stroke-width="0.5"/>
<line x1="497.30" y1="274.90" x2="605.48" y2="274.90" stroke="#ebebeb" stroke-width="0.5"/>
<line x1="497.30" y1="257.78" x2="605.48" y2="257.78" stroke="#ebebeb" stroke-width="0.5"/>
<line x1="497.30" y1="240.66" x2="605.48" y2="240.66" stroke="#ebebeb" stroke-width="0.5"/>
<line x1="497.30" y1="223.54" x2="605.48" y2="223.54" stroke="#ebebeb" stroke-width="0.5"/>
<line x1="497.30" y1="206.42" x2="605.48" y2="206.42" stroke="#ebebeb" stroke-width="0.5"/>
<line x1="497.30" y1="189.30" x2="605.48" y2="189.30" stroke="#ebebeb" stroke-width="0.5"/>
<line x1="497.30" y1="274.90" x2="605.48" y2="274.90" stroke="#4d4d4d" stroke-width="0.6"/>
<line x1="497.30" y1="189.30" x2="497.30" y2="274.90" stroke="#4d4d4d" stroke-width="0.6"/>
<line x1="497.30" y1="274.90" x2="497.30" y2="277.40" stroke="#4d4d4d" stroke-width="0.6"/>
<text x="497.30" y="285.94" text-anchor="middle">0</text>
<line x1="515.33" y1="274.90" x2="515.33" y2="277.40" stroke="#4d4d4d" stroke-width="0.6"/>
<text x="515.33" y="285.94" text-anchor="middle">10</text>
<line x1="533.36" y1="274.90" x2="533.36" y2="277.40" stroke="#4d4d4d" stroke-width="0.6"/>
<text x="533.36" y="285.94" text-anchor="middle">20</text>
<line x1="551.39" y1="274.90" x2="551.39" y2="277.40" stroke="#4d4d4d" stroke-width="0.6"/>
<text x="551.39" y="285.94" text-anchor="middle">30</text>
<line x1="569.42" y1="274.90" x2="569.42" y2="277.40" stroke="#4d4d4d" stroke-width="0.6"/>
<text x="569.42" y="285.94" text-anchor="middle">40</text>
<line x1="587.45" y1="274.90" x2="587.45" y2="277.40" stroke="#4d4d4d" stroke-width="0.6"/>
<text x="587.45" y="285.94" text-anchor="middle">50</text>
<line x1="605.48" y1="274.90" x2="605.48" y2="277.40" stroke="#4d4d4d" stroke-width="0.6"/>
<text x="605.48" y="285.94" text-anchor="middle">60</text>
<line x1="494.80" y1="274.90" x2="497.30" y2="274.90" stroke="#4d4d4d" stroke-width="0.6"/>
<text x="492.60" y="277.14" text-anchor="end">0</text>
<line x1="494.80" y1="257.78" x2="497.30" y2="257.78" stroke="#4d4d4d" stroke-width="0.6"/>
<text x="492.60" y="260.02" text-anchor="end">10</text>
<line x1="494.80" y1="240.66" x2="497.30" y2="240.66" stroke="#4d4d4d" stroke-width="0.6"/>
<text x="492.60" y="242.90" text-anchor="end">20</text>
<line x1="494.80" y1="223.54" x2="497.30" y2="223.54" stroke="#4d4d4d" stroke-width="0.6"/>
<text x="492.60" y="225.78" text-anchor="end">30</text>
<line x1="494.80" y1="206.42" x2="497.30" y2="206.42" stroke="#4d4d4d" stroke-width="0.6"/>
<text x="492.60" y="208.66" text-anchor="end">40</text>
<line x1="494.80" y1="189.30" x2="497.30" y2="189.30" stroke="#4d4d4d" stroke-width="0.6"/>
<text x="492.60" y="191.54" text-anchor="end">50</text>
<path d="M524.3 252.6L525.6 251.1L526.8 249.6L528.0 248.1L529.2 246.6L530.5 245.1L531.7 243.6L532.9 242.1L534.1 240.8L535.3 239.6L536.6 238.5L537.8 237.3L539.0 236.1L540.2 235.0L541.5 233.8L542.7 232.8L543.9 231.9L545.1 231.1L546.3 230.3L547.6 229.5L548.8 228.7L550.0 227.9L551.2 227.1L552.5 226.2L553.7 225.2L554.9 224.3L556.1 223.4L557.3 222.4L558.6 221.5L559.8 220.6L561.0 219.2L562.2 217.5L563.5 215.8L564.7 214.0L565.9 212.3L567.1 210.5L568.4 208.8L569.6 207.1L570.8 205.7L572.0 204.3L573.2 202.9L574.5 201.5L575.7 200.1L576.9 198.7L578.1 197.4L579.4 197.3L580.6 197.6L581.8 198.0L583.0 198.3L584.2 198.7L585.5 199.0L586.7 199.4L587.9 199.7L589.1 200.1L590.4 200.4L591.6 200.7L592.8 201.1L594.0 201.4L595.2 201.8L596.5 202.1L596.5 227.8L595.2 226.8L594.0 225.7L592.8 224.7L591.6 223.6L590.4 222.6L589.1 221.6L587.9 220.5L586.7 220.2L585.5 220.3L584.2 220.4L583.0 220.5L581.8 220.7L580.6 220.8L579.4 220.9L578.1 221.6L576.9 223.9L575.7 226.2L574.5 228.5L573.2 230.8L572.0 233.2L570.8 235.5L569.6 237.8L568.4 238.0L567.1 237.9L565.9 237.8L564.7 237.6L563.5 237.5L562.2 237.4L561.0 237.3L559.8 237.5L558.6 237.9L557.3 238.4L556.1 238.9L554.9 239.3L553.7 239.8L552.5 240.3L551.2 240.7L550.0 241.3L548.8 241.9L547.6 242.5L546.3 243.1L545.1 243.6L543.9 244.2L542.7 244.8L541.5 245.5L540.2 246.2L539.0 246.9L537.8 247.6L536.6 248.2L535.3 248.9L534.1 249.6L532.9 250.3L531.7 250.9L530.5 251.5L529.2 252.0L528.0 252.6L526.8 253.2L525.6 253.8L524.3 254.4Z" stroke="none" stroke-width="0" fill="#d9d9d9"/>
<rect x="497.60" y="261.20" width="1.3" height="13.70" fill="#d6d6d6"/>
<path d="M537.8 231.3h0M557.3 223.4h0M535.3 248.3h0M529.1 239.5h0M540.7 241.0h0M507.4 272.6h0M514.4 267.5h0M515.0 255.0h0M503.6 272.2h0M575.9 204.8h0M517.9 257.3h0M531.1 244.4h0M502.6 273.3h0M529.4 254.5h0M539.8 251.2h0M498.0 274.7h0M551.1 250.0h0M537.8 244.6h0M516.6 262.7h0M539.5 243.0h0M514.0 268.6h0M506.8 272.7h0M503.0 274.7h0M511.1 267.7h0M550.9 251.1h0M515.5 247.6h0M521.9 261.9h0M512.9 273.1h0M511.6 264.9h0M535.5 241.8h0M525.5 237.8h0M519.3 262.7h0M531.9 251.9h0M513.4 263.3h0M513.0 258.2h0M500.8 262.9h0M515.5 263.7h0M537.8 239.5h0M544.2 242.7h0M525.1 248.8h0M502.0 273.8h0M510.0 261.6h0M505.5 270.0h0M557.7 235.6h0M509.0 261.4h0M532.5 233.6h0M567.1 235.3h0M513.6 261.1h0M502.5 270.4h0M523.4 255.3h0M561.0 228.5h0M520.5 266.2h0M509.1 267.6h0M537.2 255.0h0M530.5 239.9h0M533.2 247.9h0M510.9 271.3h0M550.6 241.0h0M541.0 244.7h0M523.6 256.9h0M582.1 197.9h0M516.5 258.1h0M562.0 224.3h0M515.8 257.2h0M516.0 259.8h0M507.3 268.3h0" stroke="#808080" stroke-width="2.6" fill="none" stroke-linecap="round" stroke-opacity="0.27"/>
<path d="M501.0 273.8h0M505.8 273.8h0M508.9 272.7h0M534.4 263.3h0M504.8 270.2h0M518.1 255.9h0M561.2 225.5h0M517.4 252.5h0M546.8 234.6h0M502.0 271.8h0M517.3 266.9h0M516.2 263.4h0M506.2 271.4h0M538.4 245.5h0M509.5 265.9h0M505.0 271.7h0M516.7 264.3h0M502.5 268.5h0M516.4 255.8h0M595.5 200.0h0M557.2 219.8h0M507.2 271.2h0M559.8 226.8h0M500.6 270.3h0M526.3 245.1h0M512.8 254.1h0M509.7 263.4h0M550.8 228.2h0M511.9 265.2h0M528.9 254.4h0M510.7 273.8h0M531.4 252.3h0M518.7 256.7h0M530.8 245.6h0M510.2 266.3h0M511.4 261.5h0M515.0 253.8h0M549.5 231.5h0M522.0 254.1h0M506.7 274.6h0M510.8 256.9h0M543.9 239.0h0M537.6 234.5h0M508.2 271.4h0M502.9 272.4h0M511.6 270.2h0M504.6 274.7h0M521.6 256.5h0M536.6 235.2h0M546.8 255.5h0M508.6 262.2h0M508.3 254.0h0M567.8 219.6h0M515.9 257.5h0M543.8 241.6h0M511.0 263.4h0M512.2 260.0h0M529.8 254.6h0M544.4 245.1h0M525.2 258.3h0M563.7 223.4h0M533.6 241.4h0M511.5 263.3h0M516.8 254.1h0M515.3 259.9h0M505.0 269.8h0" stroke="#808080" stroke-width="2.6" fill="none" stroke-linecap="round" stroke-opacity="0.27"/>
<path d="M510.5 271.0h0M508.1 272.9h0M510.6 267.3h0M505.3 271.3h0M498.6 266.0h0M505.7 261.9h0M549.3 274.7h0M529.1 254.8h0M517.0 255.0h0M512.4 261.2h0M562.2 229.5h0M506.2 270.2h0M563.8 220.8h0M521.5 250.9h0M513.5 260.9h0M526.3 254.8h0M518.7 262.2h0M517.7 257.8h0M535.9 264.7h0M506.1 274.7h0M542.0 252.2h0M518.7 257.8h0M521.7 262.7h0M505.1 274.7h0M499.0 269.4h0M532.7 241.1h0M558.1 235.3h0M519.7 259.0h0M509.1 267.5h0M509.2 260.8h0M532.1 238.1h0M520.6 264.8h0M507.3 269.6h0M530.6 246.0h0M523.9 248.0h0M551.9 226.6h0M497.6 267.7h0M503.2 272.8h0M519.5 249.5h0M519.0 255.4h0M530.6 252.8h0M510.4 263.2h0M546.9 214.0h0M517.8 251.5h0M517.4 260.3h0M540.8 236.4h0M500.3 271.5h0M548.0 240.5h0M500.6 264.6h0M513.7 258.2h0M530.3 249.7h0M511.3 265.7h0M508.5 274.5h0M508.0 257.6h0M518.1 273.2h0M506.1 268.4h0M518.5 263.3h0M510.8 256.6h0M521.9 255.2h0M504.1 263.1h0M499.5 268.8h0M518.1 243.0h0M510.7 261.3h0M508.5 259.6h0M546.3 245.3h0" stroke="#808080" stroke-width="2.6" fill="none" stroke-linecap="round" stroke-opacity="0.27"/>
<path d="M522.7 256.1h0M507.2 266.2h0M509.0 274.7h0M577.8 202.0h0M518.6 255.0h0M509.1 264.1h0M523.8 260.0h0M552.2 237.8h0M572.7 213.2h0M517.9 258.4h0M509.5 257.5h0M529.1 248.0h0M511.7 256.4h0M508.0 269.3h0M538.8 237.6h0M524.4 263.1h0M515.6 274.7h0M504.0 262.0h0M513.3 260.6h0M533.5 256.3h0M571.2 216.4h0M509.6 258.6h0M516.3 255.7h0M532.7 254.1h0M499.9 270.6h0M519.0 253.0h0M509.9 266.0h0M582.3 227.1h0M502.7 274.7h0M531.9 257.9h0M526.3 261.6h0M520.1 262.8h0M533.2 252.3h0M518.8 256.0h0M507.7 274.7h0M503.4 274.7h0M524.1 251.1h0M502.8 263.8h0M561.4 236.8h0M509.8 270.2h0M558.2 245.8h0M509.2 273.1h0M540.0 222.1h0M503.1 269.9h0M503.4 273.0h0M510.5 268.0h0M502.1 263.9h0M506.1 274.7h0M518.6 247.7h0M530.8 233.8h0M504.3 272.0h0M513.4 257.8h0M522.1 251.9h0M548.9 232.5h0M523.5 257.3h0M510.5 261.4h0M535.5 254.3h0M560.6 207.6h0M503.1 272.4h0M536.9 230.9h0M507.2 267.4h0M524.1 261.6h0M513.0 268.8h0M556.0 233.2h0M519.0 259.9h0" stroke="#808080" stroke-width="2.6" fill="none" stroke-linecap="round" stroke-opacity="0.27"/>
<path d="M543.0 241.2h0M554.2 225.9h0M518.5 262.7h0M516.8 254.8h0M510.2 274.7h0M516.8 255.4h0M523.6 257.4h0M538.4 236.5h0M515.8 261.8h0M533.2 245.8h0M538.6 237.9h0M531.3 251.3h0M511.7 259.3h0M510.7 274.3h0M512.2 261.3h0M536.5 240.5h0M533.5 265.1h0M508.2 269.8h0M516.5 261.6h0M502.2 274.7h0M519.7 256.3h0M514.1 263.4h0M534.2 244.3h0M507.8 261.7h0M528.4 241.2h0M551.7 233.8h0M505.1 269.7h0M506.4 268.8h0M518.1 253.7h0M503.5 272.3h0M561.0 218.7h0M499.7 270.1h0M502.7 273.8h0M540.7 246.7h0M518.7 260.4h0M506.6 274.7h0M511.0 241.7h0M505.0 270.9h0M520.4 259.7h0M529.5 257.6h0M546.2 228.0h0M511.9 271.7h0M508.0 257.1h0M519.1 259.4h0M548.3 220.1h0M529.5 264.2h0M526.8 261.4h0M511.9 262.8h0M553.2 233.9h0M511.3 256.0h0M515.2 257.4h0M523.8 263.8h0M517.9 244.4h0M523.6 250.2h0M506.8 273.1h0M542.8 225.0h0M541.3 238.9h0M507.3 266.3h0M532.0 245.9h0M521.8 253.3h0M508.0 265.7h0M520.3 246.5h0M508.3 272.0h0M514.8 256.3h0M525.1 264.4h0" stroke="#808080" stroke-width="2.6" fill="none" stroke-linecap="round" stroke-opacity="0.27"/>
<path d="M500.5 271.5h0M508.1 271.0h0M540.1 232.0h0M513.7 260.7h0M549.1 223.3h0M535.8 239.9h0M503.5 273.2h0M527.1 248.9h0M516.6 263.8h0M525.7 260.0h0M541.5 228.2h0M513.9 267.2h0M536.9 252.8h0M512.1 253.8h0M533.2 239.3h0M534.9 249.0h0M537.4 248.0h0M511.0 274.7h0M513.4 264.1h0M513.7 256.8h0M534.4 240.2h0M534.4 219.9h0M500.6 272.1h0M507.6 266.2h0M506.3 274.7h0M513.9 274.7h0M511.2 274.7h0M540.8 253.2h0M520.7 269.2h0M508.9 265.7h0M528.9 260.9h0M503.3 269.9h0M503.7 270.0h0M513.1 257.8h0M536.9 254.2h0M511.2 270.7h0M530.8 245.0h0M524.8 245.6h0M517.4 252.9h0M508.1 270.7h0M548.1 246.6h0M509.7 273.2h0M520.9 260.0h0M517.5 258.1h0M507.9 274.7h0M523.9 257.2h0M534.9 250.2h0M527.9 233.1h0M502.4 267.0h0M513.7 253.4h0M512.8 263.2h0M504.9 272.1h0M501.0 274.7h0M518.5 268.7h0M523.2 252.7h0M513.6 266.8h0M498.0 262.2h0M579.8 197.9h0M516.2 262.7h0M511.9 259.3h0M501.2 269.7h0M551.0 233.4h0M510.0 269.0h0M526.9 245.9h0M570.8 235.2h0" stroke="#808080" stroke-width="2.6" fill="none" stroke-linecap="round" stroke-opacity="0.27"/>
<path d="M534.0 247.3h0M525.4 247.0h0M505.7 272.8h0M502.5 274.7h0M529.3 230.2h0M514.7 250.5h0M502.1 270.6h0M527.0 254.7h0M501.4 258.9h0M534.1 242.3h0M522.8 260.9h0M515.1 269.7h0M515.2 256.9h0M533.5 250.9h0M566.7 228.0h0M529.0 247.6h0M508.5 271.0h0M553.4 224.5h0M522.1 264.2h0M525.2 257.4h0M502.9 269.7h0M540.7 253.1h0M502.2 274.7h0M553.4 240.4h0M531.5 251.5h0M551.8 237.7h0M534.7 241.4h0M513.3 257.8h0M505.3 258.7h0M516.9 266.9h0M550.7 232.8h0M524.7 265.4h0M535.2 233.7h0M502.9 274.7h0M540.7 243.2h0M571.4 206.9h0M513.0 263.2h0M513.0 263.1h0M533.6 241.8h0M512.7 268.3h0M502.2 274.7h0M510.0 271.2h0M536.9 241.8h0M510.9 269.2h0M537.1 237.8h0M547.1 229.3h0M514.8 267.7h0M527.1 247.0h0M504.8 268.6h0M500.6 265.6h0M530.8 240.7h0M512.6 267.8h0M511.4 256.6h0M514.4 270.1h0M504.1 268.8h0M529.8 248.5h0M508.5 270.2h0M526.5 249.1h0M541.6 252.0h0M519.0 263.6h0M519.5 252.8h0M509.0 271.9h0M502.1 267.9h0M515.5 246.7h0M517.9 258.1h0" stroke="#808080" stroke-width="2.6" fill="none" stroke-linecap="round" stroke-opacity="0.27"/>
<path d="M499.8 273.1h0M503.0 264.9h0M503.0 272.7h0M530.2 250.4h0M516.1 257.3h0M517.2 255.8h0M507.3 269.5h0M555.1 229.2h0M509.0 270.9h0M510.2 254.2h0M515.0 256.5h0M516.7 263.7h0M501.3 270.9h0M539.2 236.7h0M516.4 257.6h0M540.2 250.4h0M526.3 257.6h0M514.9 260.8h0M526.1 237.0h0M520.5 253.5h0M554.2 218.9h0M529.5 235.1h0M505.9 266.7h0M519.3 258.3h0M520.9 257.8h0M538.0 240.3h0M541.0 237.2h0M526.6 250.4h0M529.9 239.5h0M520.0 266.9h0M522.7 254.1h0M509.5 272.2h0M544.2 232.2h0M506.3 272.2h0M538.2 249.4h0M502.1 266.0h0M499.5 266.3h0M505.9 274.2h0M521.7 256.5h0M530.5 246.6h0M517.9 253.7h0M508.6 263.7h0M521.1 251.5h0M502.8 269.4h0M513.2 264.7h0M505.1 270.3h0M517.8 248.4h0M510.6 258.0h0M513.1 255.2h0M510.9 265.1h0M521.6 264.0h0M543.2 240.1h0M561.9 227.9h0M544.9 227.7h0M513.2 260.5h0M520.7 254.6h0M524.3 244.7h0M524.8 252.1h0M518.5 255.0h0M510.6 268.8h0M501.5 262.8h0M526.2 250.4h0M500.5 274.7h0M509.5 272.0h0M526.4 259.1h0" stroke="#808080" stroke-width="2.6" fill="none" stroke-linecap="round" stroke-opacity="0.27"/>
<path d="M504.0 268.3h0M515.1 259.0h0M526.9 253.7h0M519.0 246.6h0M523.9 250.0h0M522.0 265.7h0M516.6 270.0h0M524.3 248.7h0M517.2 257.3h0M515.2 252.5h0M506.0 268.0h0M499.0 274.7h0M507.6 274.7h0M518.5 232.9h0M524.4 255.4h0M545.3 238.2h0M503.1 262.7h0M504.7 271.5h0M519.6 256.7h0M530.0 244.8h0M525.3 239.7h0M507.8 268.7h0M533.7 247.2h0M537.9 231.0h0M516.9 259.1h0M503.0 274.7h0M508.0 271.2h0M522.6 249.5h0M558.4 233.5h0M534.5 246.3h0M530.4 248.4h0M505.8 262.5h0M506.5 270.5h0M529.6 250.7h0M516.5 248.6h0M505.3 267.1h0M518.9 264.6h0M500.3 274.7h0M508.4 264.1h0M513.5 264.4h0M543.3 249.1h0M502.5 267.9h0M498.6 265.9h0M534.9 236.9h0M532.6 236.2h0M522.9 244.0h0M529.7 247.0h0M515.2 267.2h0M501.2 268.6h0M500.6 270.2h0M516.4 257.6h0M506.1 273.8h0M521.2 253.0h0M524.8 256.4h0M507.7 274.7h0M524.8 261.4h0M560.3 227.1h0M525.8 249.4h0M505.8 273.6h0M515.4 266.8h0M506.9 256.9h0M534.7 241.3h0M522.2 249.3h0M509.9 274.7h0M502.9 271.5h0" stroke="#808080" stroke-width="2.6" fill="none" stroke-linecap="round" stroke-opacity="0.27"/>
<path d="M504.6 271.1h0M503.7 269.4h0M524.0 257.5h0M566.4 220.1h0M530.2 247.8h0M508.2 271.5h0M513.5 258.1h0M508.7 262.3h0M541.1 246.2h0M540.1 244.7h0M502.7 266.9h0M504.0 265.3h0M547.0 240.2h0M520.1 255.4h0M539.6 238.4h0M506.8 262.8h0M552.8 215.9h0M515.5 257.2h0M517.3 251.5h0M509.0 268.1h0M504.7 273.6h0M499.2 268.9h0M528.8 254.9h0M502.1 272.9h0M535.3 242.7h0M530.7 255.3h0M505.7 272.0h0M508.6 269.3h0M512.2 262.2h0M521.6 257.8h0M518.7 262.0h0M536.5 230.2h0M503.7 267.0h0M503.9 271.3h0M575.4 210.4h0M516.9 255.4h0M536.1 264.4h0M507.9 271.1h0M512.1 265.6h0M517.1 259.6h0M573.5 228.6h0M501.2 274.7h0M551.5 232.1h0M521.2 263.5h0M517.3 259.7h0M507.3 272.2h0M503.3 267.2h0M522.1 272.9h0M502.8 265.3h0M507.1 270.4h0M522.0 246.1h0M504.1 266.9h0M525.4 241.4h0M543.6 226.4h0M506.1 264.9h0M511.4 260.8h0M528.9 245.9h0M513.7 255.5h0M515.4 262.5h0M509.3 260.5h0M541.2 238.5h0M512.1 270.6h0M526.2 253.8h0M500.9 274.7h0M533.6 236.3h0" stroke="#808080" stroke-width="2.6" fill="none" stroke-linecap="round" stroke-opacity="0.27"/>
<path d="M498.8 273.0h0M521.2 254.7h0M505.0 274.6h0M554.9 229.7h0M531.1 237.3h0M587.8 211.1h0M505.8 262.5h0M498.3 262.7h0M512.4 259.1h0M521.4 252.2h0M524.3 265.2h0M505.1 268.2h0M539.9 229.0h0M534.9 236.5h0M531.7 247.7h0M517.7 251.2h0M518.2 253.7h0M531.7 244.5h0M514.9 265.7h0M518.3 243.0h0M515.8 257.5h0M502.1 272.7h0M527.2 250.9h0M551.8 229.8h0M510.4 266.8h0M511.0 262.8h0M524.4 227.9h0M537.9 241.3h0M528.7 254.9h0M509.2 265.6h0M502.2 271.6h0M532.1 253.6h0M556.3 221.0h0M519.9 253.6h0M508.7 257.7h0M508.9 271.2h0M524.2 256.3h0M523.5 256.3h0M516.1 257.7h0M518.2 257.8h0M519.4 261.4h0M503.5 263.7h0M527.4 256.1h0M500.6 266.3h0M510.4 262.8h0M500.4 271.6h0M504.2 268.5h0M507.5 274.4h0M543.5 240.4h0M513.8 253.3h0M522.9 250.2h0M575.6 228.2h0M508.3 258.9h0M516.9 259.2h0M537.2 239.2h0M525.8 253.7h0M548.9 223.1h0M509.0 272.9h0M539.3 233.3h0M537.2 237.4h0M503.1 274.7h0M512.3 274.7h0M507.9 270.0h0M533.8 255.0h0M540.3 232.4h0" stroke="#808080" stroke-width="2.6" fill="none" stroke-linecap="round" stroke-opacity="0.27"/>
<path d="M540.7 245.6h0M518.1 257.8h0M532.1 245.1h0M532.5 244.9h0M533.0 238.9h0M505.2 267.6h0M500.9 270.8h0M518.9 258.2h0M529.5 258.5h0M509.9 271.7h0M502.7 271.3h0M547.4 232.8h0M513.3 264.9h0M519.7 274.7h0M541.4 239.3h0M507.7 274.3h0M524.9 256.7h0M539.0 244.9h0M528.0 260.1h0M517.3 268.9h0M535.2 247.9h0M520.6 260.9h0M511.4 260.8h0M538.8 230.2h0M512.3 270.5h0M518.1 253.5h0M515.7 250.6h0M505.7 265.6h0M501.1 268.7h0M518.4 264.0h0M507.3 266.2h0M517.4 263.6h0M513.4 271.6h0M519.9 258.4h0M512.3 271.5h0M512.6 269.9h0M527.6 244.8h0M519.9 257.9h0M535.9 245.8h0M499.7 262.2h0M512.8 260.6h0M519.2 260.0h0M515.6 257.1h0M507.3 263.5h0M545.1 242.1h0M577.6 228.2h0M537.7 249.9h0M536.7 247.8h0M515.4 256.6h0M537.4 242.2h0M501.0 268.6h0M547.9 243.0h0M529.5 257.2h0M540.4 237.9h0M517.0 256.2h0M505.4 266.4h0M505.8 274.7h0M552.3 242.0h0M508.0 260.5h0M509.3 271.5h0M523.5 248.7h0M513.2 252.6h0M526.2 248.4h0M533.7 242.5h0M531.6 269.1h0" stroke="#808080" stroke-width="2.6" fill="none" stroke-linecap="round" stroke-opacity="0.27"/>
<path d="M508.1 268.4h0M505.5 263.6h0M508.2 271.6h0M585.1 213.5h0M507.6 271.4h0M514.8 252.3h0M551.4 221.3h0M540.8 234.9h0M507.7 273.7h0M507.1 264.2h0M516.9 261.4h0M516.6 264.9h0M524.5 254.1h0M556.5 241.8h0M517.5 254.7h0M526.2 263.4h0M507.5 262.3h0M537.0 244.8h0M560.0 232.3h0M570.6 239.8h0M539.9 241.1h0M531.5 229.7h0M522.1 253.2h0M512.8 267.0h0M515.4 265.1h0M513.1 259.1h0M507.0 266.6h0M507.0 274.3h0M536.2 237.1h0M518.5 263.1h0M566.6 211.6h0M515.5 268.3h0M547.7 240.1h0M519.1 259.2h0M564.6 217.9h0M547.5 231.7h0M507.8 261.9h0M506.1 261.6h0M518.8 250.1h0M518.5 250.8h0M505.7 267.0h0M502.1 268.1h0M521.0 262.2h0M505.0 265.1h0M512.3 267.0h0M515.2 265.0h0M510.8 265.3h0M503.3 271.2h0M535.2 242.7h0M569.0 228.1h0M513.2 236.7h0M531.9 243.5h0M539.3 235.8h0M556.8 227.6h0M539.7 246.9h0M540.0 239.0h0M514.1 254.1h0M537.2 255.6h0M506.0 273.5h0M500.7 264.5h0M589.8 207.6h0M509.8 274.7h0M559.1 214.8h0M499.6 273.1h0M503.8 274.7h0" stroke="#808080" stroke-width="2.6" fill="none" stroke-linecap="round" stroke-opacity="0.27"/>
<path d="M552.4 222.0h0M527.8 243.4h0M521.4 267.3h0M513.4 268.6h0M513.7 264.2h0M521.0 258.2h0M517.4 248.1h0M508.8 274.5h0M498.5 267.7h0M530.3 263.6h0M519.3 265.1h0M531.2 249.3h0M540.2 233.7h0M531.3 243.1h0M512.5 257.7h0M523.5 245.2h0M518.7 263.1h0M510.2 269.7h0M553.7 224.6h0M531.4 254.3h0M502.5 267.8h0M520.2 254.5h0M503.0 261.7h0M590.5 201.6h0M568.5 219.4h0M536.5 248.2h0M506.2 264.5h0M507.9 266.8h0M503.8 274.7h0M529.9 263.8h0M513.3 267.0h0M510.8 261.8h0M520.5 267.0h0M557.2 227.8h0M508.7 274.7h0M497.9 274.1h0M513.4 258.8h0M501.3 263.6h0M541.3 249.1h0M512.9 259.3h0M515.3 268.6h0M525.4 260.4h0M518.0 263.4h0M550.5 225.9h0M520.2 263.0h0M513.8 262.6h0M531.7 249.2h0M561.0 228.5h0M513.7 271.4h0M529.6 240.7h0M523.9 252.4h0M511.1 268.5h0M511.2 263.1h0M508.0 274.7h0M540.5 241.1h0M525.0 240.4h0M528.8 253.7h0M521.5 259.8h0M530.8 248.1h0M570.2 227.2h0M525.3 256.5h0M515.0 266.1h0M513.6 261.2h0M525.9 255.6h0M549.1 223.0h0" stroke="#808080" stroke-width="2.6" fill="none" stroke-linecap="round" stroke-opacity="0.27"/>
<path d="M497.3 270.6L506.3 269.8L515.3 261.2L524.3 253.5L533.4 245.8L542.4 238.9L551.4 233.8L560.4 228.7L569.4 222.7L578.4 209.0L587.5 209.8L596.5 215.0" stroke="#3a3a3a" stroke-width="0.6" fill="none" stroke-linejoin="round"/>
<text x="550.60" y="182.84" text-anchor="middle">UdgX–APOBEC1–UdgX–HF-nCas9-NG</text>
<text x="604.00" y="263.70" text-anchor="end"><tspan font-style="italic">R</tspan> = 0.91</text>
<text x="604.00" y="271.50" text-anchor="end"><tspan font-style="italic">n</tspan> = 912</text>
<text transform="translate(319.40,233.00) rotate(-90)" y="2.30" text-anchor="middle" font-size="6.75">Predicted</text>
<text transform="translate(327.50,233.00) rotate(-90)" y="2.30" text-anchor="middle" font-size="6.75">frequency of repair to wild-type</text>
<text transform="translate(335.60,233.00) rotate(-90)" y="2.30" text-anchor="middle" font-size="6.75">amino acid sequence among all reads (%)</text>
<text x="412.00" y="296.44" text-anchor="middle">Observed frequency of repair to wild-type</text>
<text x="412.00" y="304.44" text-anchor="middle">amino acid sequence among all reads (%)</text>
<text x="551.00" y="296.44" text-anchor="middle">Observed frequency of repair to wild-type</text>
<text x="551.00" y="304.44" text-anchor="middle">amino acid sequence among all reads (%)</text>
<text x="473.80" y="172.24" text-anchor="middle">Yield of corrected amino acid sequence among all reads</text>
<text x="3.00" y="370.30" font-weight="bold" font-size="10">d</text>
<text x="184.00" y="373.44" text-anchor="middle">Frequency of corrected genotype among edited reads</text>
<line x1="71.00" y1="388.50" x2="71.00" y2="473.90" stroke="#ebebeb" stroke-width="0.5"/>
<line x1="92.58" y1="388.50" x2="92.58" y2="473.90" stroke="#ebebeb" stroke-width="0.5"/>
<line x1="114.16" y1="388.50" x2="114.16" y2="473.90" stroke="#ebebeb" stroke-width="0.5"/>
<line x1="135.74" y1="388.50" x2="135.74" y2="473.90" stroke="#ebebeb" stroke-width="0.5"/>
<line x1="157.32" y1="388.50" x2="157.32" y2="473.90" stroke="#ebebeb" stroke-width="0.5"/>
<line x1="178.90" y1="388.50" x2="178.90" y2="473.90" stroke="#ebebeb" stroke-width="0.5"/>
<line x1="71.00" y1="473.90" x2="178.90" y2="473.90" stroke="#ebebeb" stroke-width="0.5"/>
<line x1="71.00" y1="456.82" x2="178.90" y2="456.82" stroke="#ebebeb" stroke-width="0.5"/>
<line x1="71.00" y1="439.74" x2="178.90" y2="439.74" stroke="#ebebeb" stroke-width="0.5"/>
<line x1="71.00" y1="422.66" x2="178.90" y2="422.66" stroke="#ebebeb" stroke-width="0.5"/>
<line x1="71.00" y1="405.58" x2="178.90" y2="405.58" stroke="#ebebeb" stroke-width="0.5"/>
<line x1="71.00" y1="388.50" x2="178.90" y2="388.50" stroke="#ebebeb" stroke-width="0.5"/>
<line x1="71.00" y1="473.90" x2="178.90" y2="473.90" stroke="#4d4d4d" stroke-width="0.6"/>
<line x1="71.00" y1="388.50" x2="71.00" y2="473.90" stroke="#4d4d4d" stroke-width="0.6"/>
<line x1="71.00" y1="473.90" x2="71.00" y2="476.40" stroke="#4d4d4d" stroke-width="0.6"/>
<text x="71.00" y="484.74" text-anchor="middle">0</text>
<line x1="92.58" y1="473.90" x2="92.58" y2="476.40" stroke="#4d4d4d" stroke-width="0.6"/>
<text x="92.58" y="484.74" text-anchor="middle">20</text>
<line x1="114.16" y1="473.90" x2="114.16" y2="476.40" stroke="#4d4d4d" stroke-width="0.6"/>
<text x="114.16" y="484.74" text-anchor="middle">40</text>
<line x1="135.74" y1="473.90" x2="135.74" y2="476.40" stroke="#4d4d4d" stroke-width="0.6"/>
<text x="135.74" y="484.74" text-anchor="middle">60</text>
<line x1="157.32" y1="473.90" x2="157.32" y2="476.40" stroke="#4d4d4d" stroke-width="0.6"/>
<text x="157.32" y="484.74" text-anchor="middle">80</text>
<line x1="178.90" y1="473.90" x2="178.90" y2="476.40" stroke="#4d4d4d" stroke-width="0.6"/>
<text x="178.90" y="484.74" text-anchor="middle">100</text>
<line x1="68.50" y1="473.90" x2="71.00" y2="473.90" stroke="#4d4d4d" stroke-width="0.6"/>
<text x="66.50" y="476.14" text-anchor="end">0</text>
<line x1="68.50" y1="456.82" x2="71.00" y2="456.82" stroke="#4d4d4d" stroke-width="0.6"/>
<text x="66.50" y="459.06" text-anchor="end">20</text>
<line x1="68.50" y1="439.74" x2="71.00" y2="439.74" stroke="#4d4d4d" stroke-width="0.6"/>
<text x="66.50" y="441.98" text-anchor="end">40</text>
<line x1="68.50" y1="422.66" x2="71.00" y2="422.66" stroke="#4d4d4d" stroke-width="0.6"/>
<text x="66.50" y="424.90" text-anchor="end">60</text>
<line x1="68.50" y1="405.58" x2="71.00" y2="405.58" stroke="#4d4d4d" stroke-width="0.6"/>
<text x="66.50" y="407.82" text-anchor="end">80</text>
<line x1="68.50" y1="388.50" x2="71.00" y2="388.50" stroke="#4d4d4d" stroke-width="0.6"/>
<text x="66.50" y="390.74" text-anchor="end">100</text>
<path d="M157.3 417.4L157.6 416.6L157.9 415.8L158.1 415.0L158.4 414.3L158.7 413.5L159.0 412.8L159.2 412.2L159.5 411.5L159.8 410.9L160.1 410.2L160.3 409.6L160.6 409.0L160.9 408.7L161.1 408.4L161.4 408.1L161.7 407.8L162.0 407.6L162.2 407.3L162.5 407.0L162.8 406.7L163.1 406.4L163.3 406.1L163.6 405.8L163.9 405.6L164.1 405.5L164.4 405.5L164.7 405.4L165.0 405.4L165.2 405.3L165.5 405.3L165.8 405.2L166.1 405.2L166.3 405.1L166.6 405.1L166.9 405.0L167.2 404.9L167.4 404.9L167.7 404.8L168.0 404.8L168.2 404.7L168.5 404.7L168.8 404.6L169.1 404.6L169.3 404.5L169.6 404.5L169.9 404.4L170.2 404.4L170.4 404.3L170.7 404.3L171.0 404.2L171.3 404.1L171.5 404.1L171.8 404.0L172.1 404.0L172.3 403.9L172.6 403.9L172.9 403.8L173.2 404.0L173.4 404.1L173.7 404.2L174.0 404.3L174.3 404.4L174.5 404.6L174.8 404.7L175.1 404.8L175.3 404.9L175.6 405.1L175.9 405.2L176.2 405.3L176.4 405.4L176.7 405.5L177.0 405.7L177.3 405.8L177.5 405.9L177.8 406.0L178.1 406.2L178.4 406.3L178.6 406.4L178.9 406.5L178.9 428.7L178.6 428.5L178.4 428.3L178.1 428.1L177.8 427.9L177.5 427.8L177.3 427.6L177.0 427.4L176.7 427.2L176.4 427.0L176.2 426.8L175.9 426.6L175.6 426.4L175.3 426.2L175.1 426.0L174.8 425.8L174.5 425.6L174.3 425.4L174.0 425.2L173.7 425.0L173.4 424.8L173.2 424.6L172.9 424.4L172.6 424.4L172.3 424.4L172.1 424.4L171.8 424.4L171.5 424.4L171.3 424.4L171.0 424.4L170.7 424.4L170.4 424.4L170.2 424.4L169.9 424.4L169.6 424.4L169.3 424.4L169.1 424.4L168.8 424.4L168.5 424.4L168.2 424.4L168.0 424.4L167.7 424.4L167.4 424.4L167.2 424.4L166.9 424.4L166.6 424.4L166.3 424.4L166.1 424.4L165.8 424.4L165.5 424.4L165.2 424.4L165.0 424.4L164.7 424.4L164.4 424.4L164.1 424.4L163.9 424.4L163.6 424.3L163.3 424.2L163.1 424.0L162.8 423.9L162.5 423.7L162.2 423.6L162.0 423.4L161.7 423.3L161.4 423.2L161.1 423.0L160.9 422.9L160.6 422.7L160.3 422.3L160.1 421.8L159.8 421.3L159.5 420.8L159.2 420.2L159.0 419.7L158.7 419.2L158.4 418.9L158.1 418.5L157.9 418.1L157.6 417.7L157.3 417.4Z" stroke="none" stroke-width="0" fill="#d9d9d9"/>
<rect x="71.30" y="388.50" width="1.3" height="85.40" fill="#d6d6d6"/>
<path d="M126.5 424.7h0M123.8 425.6h0M126.4 433.6h0M137.9 430.7h0M96.1 457.0h0M92.9 450.6h0M122.7 439.7h0M104.8 454.1h0M164.2 421.4h0M175.5 414.1h0M157.5 404.4h0M136.5 424.0h0M79.1 442.3h0M142.6 433.9h0M75.5 473.7h0M143.6 420.7h0M176.0 418.3h0M176.5 416.6h0M164.9 419.2h0M102.9 447.4h0M150.7 421.1h0M74.9 473.7h0M73.9 473.7h0M113.6 444.5h0M143.9 421.0h0M73.4 473.7h0M147.1 420.1h0M153.2 425.1h0M115.0 431.9h0M98.6 462.8h0M152.3 415.2h0M143.7 437.2h0M93.0 461.8h0M149.6 420.3h0M104.3 441.1h0M115.5 451.5h0M92.4 443.6h0M98.4 456.4h0M79.5 450.5h0M156.6 405.6h0M74.3 473.7h0M155.6 429.1h0M78.9 461.9h0M160.1 428.6h0M105.6 465.4h0M71.7 459.5h0M158.4 416.8h0M139.8 421.4h0M149.5 426.4h0M75.8 469.5h0M174.6 405.6h0M132.1 431.8h0M117.5 437.5h0M108.2 458.9h0M138.7 420.8h0M123.3 438.4h0M80.7 450.7h0M109.6 463.1h0M83.2 465.3h0M83.4 457.9h0M164.8 399.3h0M74.3 473.7h0M86.7 464.2h0M114.7 467.6h0M88.4 464.1h0M96.7 451.1h0M114.0 443.9h0M102.9 452.8h0M147.9 416.7h0M147.3 426.3h0M75.6 460.2h0M116.8 443.5h0M72.6 468.4h0M135.2 429.7h0M161.2 417.3h0M148.7 444.2h0M172.2 413.6h0M77.1 445.7h0M106.2 451.2h0M101.2 440.3h0M99.4 445.7h0M85.8 458.2h0M96.0 452.3h0M177.4 416.3h0M147.1 423.2h0M75.2 473.7h0M154.6 424.6h0M73.8 473.7h0M139.3 433.3h0M74.5 472.7h0M112.7 444.5h0M71.2 463.2h0M146.4 426.8h0M164.6 410.0h0M124.5 456.8h0M120.2 449.1h0M80.4 468.6h0M71.5 467.4h0M94.3 465.8h0M75.7 465.6h0M107.0 448.5h0M142.9 415.2h0M136.7 420.5h0M94.3 461.8h0M87.8 457.1h0M111.2 448.4h0M138.5 431.5h0M74.1 466.5h0M148.8 424.8h0M136.8 425.2h0M135.8 445.0h0M77.3 468.2h0M119.7 435.1h0M99.5 455.9h0M91.2 454.4h0M78.3 455.0h0M102.7 439.7h0M92.7 446.5h0M94.4 453.5h0M71.2 449.0h0M104.1 446.0h0M88.2 461.2h0M164.1 423.4h0M72.5 469.3h0M140.6 429.4h0M101.7 441.6h0M72.0 473.7h0M139.8 423.2h0M168.0 413.3h0M83.2 471.1h0M117.2 439.8h0M158.7 412.7h0M163.6 418.0h0M103.7 457.1h0M140.0 445.7h0M137.2 434.6h0M89.8 444.9h0M142.2 422.0h0M85.1 453.3h0M138.3 433.3h0M146.5 429.7h0M105.6 470.7h0M72.0 473.7h0M154.9 434.6h0M149.5 399.0h0M160.6 415.8h0M131.9 421.3h0M116.4 453.0h0M173.4 416.9h0M161.4 404.3h0M130.8 435.0h0M121.3 442.6h0M79.0 464.3h0M90.2 447.6h0M172.0 407.4h0M73.5 465.2h0M164.6 408.0h0M174.9 409.2h0M71.2 468.6h0M81.2 452.3h0M86.8 447.1h0M106.7 448.4h0M74.8 462.8h0" stroke="#7a7a7a" stroke-width="2.4" fill="none" stroke-linecap="round" stroke-opacity="0.32"/>
<path d="M144.6 433.7h0M170.6 404.3h0M157.2 434.4h0M124.8 450.5h0M114.9 455.7h0M151.4 417.1h0M154.5 420.5h0M80.6 451.5h0M133.5 443.4h0M154.7 402.4h0M125.2 442.1h0M74.4 473.7h0M139.9 431.6h0M141.4 435.9h0M81.0 466.0h0M140.2 415.4h0M114.0 450.2h0M82.3 460.4h0M72.5 466.3h0M114.4 445.4h0M152.2 423.1h0M72.8 465.2h0M164.7 420.1h0M133.4 455.1h0M156.5 426.8h0M96.0 447.8h0M117.2 446.7h0M95.5 448.5h0M118.6 435.0h0M143.9 420.6h0M149.7 424.3h0M80.8 473.4h0M98.8 452.8h0M97.6 459.9h0M158.1 405.1h0M96.9 458.6h0M98.2 468.7h0M164.8 419.9h0M79.1 450.4h0M154.4 407.6h0M71.3 470.3h0M171.8 418.6h0M85.4 455.3h0M87.9 455.3h0M128.1 428.7h0M134.4 434.1h0M115.3 446.9h0M100.9 455.2h0M73.0 473.3h0M72.6 470.1h0M151.4 423.2h0M106.4 448.4h0M152.8 424.6h0M85.5 453.2h0M79.2 462.4h0M95.1 441.1h0M135.5 427.0h0M73.6 465.1h0M73.5 471.1h0M120.8 440.5h0M75.6 473.7h0M156.1 415.9h0M164.0 403.9h0M117.3 442.6h0M115.1 455.9h0M160.6 411.2h0M151.5 432.4h0M73.6 449.9h0M159.8 422.2h0M114.3 445.9h0M135.0 430.5h0M115.4 430.4h0M126.5 432.9h0M101.7 465.3h0M140.8 430.8h0M169.4 442.0h0M72.2 458.6h0M71.3 473.7h0M72.1 473.5h0M95.1 449.1h0M71.5 462.1h0M103.8 446.2h0M128.7 442.7h0M174.4 407.2h0M155.6 430.6h0M108.5 451.5h0M127.3 449.9h0M87.0 471.0h0M71.7 473.7h0M98.9 472.9h0M93.3 458.3h0M97.2 438.3h0M126.4 439.5h0M178.2 407.2h0M143.1 421.7h0M178.4 407.7h0M73.8 456.8h0M87.5 456.1h0M154.3 417.3h0M168.8 423.5h0M127.7 449.2h0M144.5 431.5h0M72.6 464.9h0M102.9 445.9h0M123.0 429.8h0M96.4 446.0h0M84.4 440.6h0M121.4 443.7h0M121.3 433.7h0M72.2 457.5h0M84.2 453.6h0M80.1 456.9h0M118.2 442.8h0M159.2 405.0h0M76.6 460.2h0M168.0 411.1h0M104.6 452.8h0M133.3 429.5h0M131.7 441.4h0M92.9 455.9h0M162.4 410.8h0M143.6 431.0h0M73.5 469.8h0M80.0 463.5h0M102.7 458.2h0M102.2 445.7h0M136.0 421.5h0M89.0 459.3h0M96.8 446.0h0M145.4 426.6h0M145.1 416.7h0M84.8 456.5h0M139.5 411.5h0M136.7 429.2h0M83.1 455.8h0M121.9 437.5h0M93.0 454.8h0M82.8 461.5h0M175.7 399.6h0M111.1 449.4h0M84.7 460.0h0M72.4 473.7h0M175.0 414.1h0M84.9 473.1h0M96.6 460.7h0M126.5 441.0h0M130.3 443.7h0M99.7 437.2h0M100.5 441.9h0M140.1 421.9h0M162.8 415.7h0M76.2 462.9h0M164.5 419.5h0M140.3 439.6h0M109.9 449.9h0M165.5 418.6h0M170.1 404.7h0M123.3 448.2h0M149.2 425.2h0M73.0 458.5h0M122.4 443.1h0M97.4 454.6h0M148.2 409.5h0" stroke="#7a7a7a" stroke-width="2.4" fill="none" stroke-linecap="round" stroke-opacity="0.32"/>
<path d="M128.2 436.1h0M78.1 468.1h0M123.3 431.5h0M130.2 430.2h0M140.5 431.5h0M153.5 446.1h0M125.7 435.5h0M174.4 405.9h0M163.1 402.8h0M74.4 465.0h0M112.3 444.2h0M106.2 434.0h0M92.8 464.7h0M115.1 441.9h0M73.4 459.0h0M152.3 414.4h0M115.4 440.4h0M104.6 456.2h0M127.3 430.4h0M79.8 452.3h0M151.6 417.4h0M119.9 446.4h0M106.5 455.3h0M174.9 407.3h0M172.8 415.3h0M147.7 425.6h0M127.2 433.0h0M151.8 419.2h0M80.0 468.0h0M132.0 420.5h0M76.2 473.2h0M138.6 435.9h0M138.6 418.9h0M164.5 415.1h0M152.1 421.5h0M79.5 473.7h0M114.1 439.0h0M168.5 417.5h0M160.6 417.4h0M103.4 462.0h0M73.6 458.2h0M145.7 419.5h0M79.8 464.9h0M118.0 439.4h0M111.8 424.8h0M172.1 416.5h0M97.6 452.7h0M87.8 441.4h0M123.4 428.1h0M126.2 429.7h0M71.2 459.7h0M99.7 452.7h0M78.3 456.5h0M144.7 421.1h0M91.3 462.5h0M84.7 470.8h0M106.1 456.6h0M166.1 417.4h0M105.0 436.0h0M132.4 440.9h0M145.4 421.8h0M85.7 467.4h0M81.9 450.4h0M71.7 466.4h0M105.9 454.8h0M90.6 458.6h0M152.8 417.8h0M137.9 429.3h0M169.1 402.7h0M102.1 439.8h0M135.8 399.1h0M102.4 458.5h0M133.8 447.2h0M149.7 416.3h0M75.4 453.6h0M108.6 426.9h0M87.4 460.0h0M108.2 455.7h0M77.5 462.5h0M105.7 438.6h0M141.8 420.1h0M130.3 438.2h0M116.1 444.1h0M76.5 456.9h0M112.9 427.9h0M73.1 471.3h0M166.8 405.1h0M96.2 442.8h0M99.0 465.1h0M110.1 439.3h0M73.5 456.6h0M99.9 473.7h0M73.6 469.2h0M77.4 465.2h0M74.0 473.7h0M162.3 419.0h0M102.3 452.0h0M160.6 422.5h0M113.6 472.2h0M129.7 421.8h0M146.3 419.5h0M168.3 416.4h0M128.9 437.5h0M171.2 405.6h0M161.1 423.9h0M105.1 450.9h0M87.2 461.9h0M105.6 449.3h0M76.1 465.7h0M79.7 464.4h0M86.6 446.6h0M114.1 437.5h0M120.5 445.2h0M122.7 443.8h0M102.3 443.8h0M88.2 446.5h0M124.9 441.3h0M155.1 435.4h0M147.3 416.7h0M135.4 437.6h0M77.5 465.6h0M76.4 462.1h0M112.4 449.5h0M76.8 465.8h0M168.9 404.3h0M117.7 437.9h0M80.1 467.7h0M170.4 412.8h0M155.0 412.1h0M115.7 434.6h0M122.7 443.8h0M71.6 467.0h0M157.5 427.2h0M119.0 439.5h0M147.6 411.6h0M74.5 473.7h0M88.2 459.4h0M166.6 408.0h0M116.6 455.1h0M146.9 435.7h0M118.9 434.5h0M139.6 420.2h0M118.8 442.7h0M72.1 465.2h0M106.8 438.0h0M108.2 444.3h0M95.6 456.7h0M100.5 447.6h0M76.1 461.0h0M163.5 412.5h0M142.2 417.4h0M100.3 449.5h0M103.1 448.3h0M131.0 428.5h0M74.3 473.7h0M107.5 447.0h0M72.8 453.4h0M143.6 431.1h0M137.9 431.0h0M103.8 442.6h0M140.4 428.9h0M78.2 472.5h0M114.8 434.4h0" stroke="#7a7a7a" stroke-width="2.4" fill="none" stroke-linecap="round" stroke-opacity="0.32"/>
<path d="M72.6 458.0h0M158.4 418.4h0M168.8 406.9h0M72.7 471.8h0M148.2 420.3h0M72.2 467.6h0M86.2 464.5h0M173.5 403.7h0M111.3 447.7h0M161.1 410.4h0M135.1 421.8h0M125.5 422.2h0M141.2 427.7h0M109.1 438.4h0M137.5 425.7h0M158.7 426.1h0M77.5 460.2h0M143.2 429.6h0M98.4 461.7h0M171.5 410.2h0M164.7 419.2h0M97.4 442.4h0M104.0 456.7h0M86.1 452.2h0M73.4 464.3h0M123.6 422.5h0M92.4 466.0h0M144.4 423.9h0M141.7 417.8h0M156.0 436.4h0M152.6 424.6h0M158.0 427.9h0M111.5 447.7h0M131.8 431.6h0M106.9 448.8h0M161.9 423.0h0M72.0 458.2h0M127.4 439.4h0M132.1 443.7h0M132.6 427.4h0M71.2 473.7h0M71.7 473.7h0M92.6 448.7h0M178.2 417.2h0M163.5 415.3h0M164.5 425.6h0M148.2 425.6h0M149.6 414.4h0M165.0 405.7h0M172.7 423.4h0M103.8 456.5h0M93.6 458.0h0M103.6 453.0h0M158.4 407.1h0M87.3 453.0h0M143.5 436.4h0M172.5 411.7h0M101.8 451.2h0M76.6 455.2h0M74.0 462.2h0M160.1 422.2h0M84.6 464.5h0M161.8 401.4h0M132.8 433.3h0M176.9 401.4h0M75.5 456.7h0M102.2 453.8h0M175.1 406.2h0M126.2 427.0h0M94.2 448.7h0M165.7 419.3h0M100.1 445.7h0M155.6 422.0h0M92.8 472.7h0M124.8 434.2h0M80.7 453.8h0M95.5 472.4h0M76.0 464.0h0M126.8 430.7h0M165.4 413.9h0M146.7 416.9h0M80.2 464.0h0M96.0 454.5h0M119.3 429.1h0M73.9 473.5h0M142.7 430.4h0M87.5 456.7h0M125.4 420.0h0M72.1 470.6h0M149.8 434.1h0M153.7 412.6h0M100.4 458.7h0M73.3 465.6h0M79.0 460.9h0M175.5 410.1h0M79.6 459.0h0M162.1 415.1h0M145.9 419.5h0M135.6 435.0h0M77.3 473.7h0M130.2 434.6h0M115.9 441.8h0M120.0 433.8h0M102.2 459.8h0M166.4 427.6h0M97.6 459.6h0M112.5 442.1h0M122.7 427.3h0M143.8 429.6h0M131.6 431.1h0M136.8 436.1h0M72.0 453.1h0M148.0 431.9h0M106.9 457.1h0M74.6 473.7h0M150.5 408.9h0M134.3 431.6h0M82.3 465.3h0M160.7 417.9h0M147.3 432.2h0M172.9 414.3h0M166.1 416.6h0M152.4 414.3h0M148.9 424.0h0M171.9 402.3h0M155.8 434.1h0M95.2 448.9h0M75.9 451.1h0M115.2 447.6h0M74.8 466.2h0M84.8 473.7h0M105.9 447.3h0M78.3 465.1h0M72.2 468.2h0M150.7 416.5h0M108.4 447.7h0M89.4 453.8h0M112.7 443.7h0M73.3 463.1h0M161.3 439.4h0M88.6 464.2h0M171.8 424.4h0M124.8 437.4h0M129.1 425.6h0M123.3 445.5h0M71.8 455.6h0M88.1 462.8h0M132.5 435.4h0M82.2 467.5h0M121.3 428.4h0M103.7 442.4h0M126.6 424.1h0M166.2 423.2h0M155.9 428.2h0M127.9 449.9h0M124.1 434.5h0M144.4 418.8h0M90.7 448.6h0M137.0 425.4h0M71.9 473.7h0M165.1 414.6h0M152.8 422.8h0M134.4 421.6h0" stroke="#7a7a7a" stroke-width="2.4" fill="none" stroke-linecap="round" stroke-opacity="0.32"/>
<path d="M174.5 434.4h0M133.9 425.2h0M77.1 458.4h0M146.5 414.4h0M140.3 432.5h0M102.5 447.2h0M96.9 458.3h0M84.6 457.4h0M147.9 436.9h0M152.7 429.3h0M83.2 453.8h0M71.5 460.0h0M71.4 461.0h0M72.5 460.6h0M154.4 420.6h0M74.2 473.7h0M146.5 436.6h0M136.7 430.9h0M73.8 471.2h0M153.8 413.7h0M157.2 429.5h0M174.2 425.0h0M131.8 442.0h0M71.8 464.1h0M170.3 419.7h0M170.1 429.2h0M132.1 423.3h0M75.3 469.7h0M127.6 416.8h0M96.8 464.2h0M75.2 468.5h0M171.9 402.7h0M109.1 448.8h0M172.2 404.1h0M72.4 440.8h0M72.1 470.3h0M177.6 428.1h0M73.7 452.4h0M170.4 418.4h0M89.4 450.0h0M85.9 444.9h0M80.1 455.7h0M120.7 422.9h0M149.7 408.9h0M71.4 460.1h0M156.1 426.3h0M151.7 418.9h0M100.1 464.5h0M72.3 468.7h0M164.4 409.8h0M170.7 400.3h0M146.5 410.6h0M109.4 440.8h0M111.9 442.2h0M117.8 448.7h0M125.0 423.1h0M96.4 457.3h0M108.1 446.7h0M122.0 445.4h0M164.5 417.7h0M92.3 443.6h0M71.2 459.5h0M97.7 444.8h0M145.3 425.4h0M137.5 422.0h0M82.7 452.1h0M108.9 447.1h0M158.5 406.1h0M164.4 402.0h0M104.0 457.4h0M149.6 411.2h0M82.3 456.2h0M112.9 448.9h0M76.7 467.6h0M72.2 451.7h0M160.7 402.6h0M135.0 429.1h0M89.8 451.1h0M88.0 457.8h0M83.5 460.6h0M129.4 441.8h0M72.1 470.6h0M75.4 467.2h0M104.8 449.0h0M73.4 471.5h0M130.7 421.6h0M127.4 429.1h0M170.6 415.8h0M119.6 443.6h0M142.9 419.2h0M97.6 453.6h0M119.3 448.1h0M160.4 425.3h0M72.8 473.7h0M115.9 435.6h0M89.4 451.9h0M140.0 420.3h0M119.9 454.9h0M145.7 426.1h0M149.9 423.6h0M99.0 456.1h0M158.6 423.1h0M162.1 408.7h0M71.7 473.7h0M96.5 450.0h0M147.8 430.5h0M88.2 458.7h0M82.6 461.3h0M117.7 447.6h0M147.2 425.4h0M71.2 463.7h0M73.5 461.2h0M109.8 441.3h0M149.1 426.8h0M158.8 423.7h0M151.1 420.0h0M78.9 462.0h0M125.2 434.3h0M172.2 408.4h0M145.7 412.9h0M72.2 473.3h0M162.0 420.8h0M129.9 432.1h0M107.9 444.3h0M111.8 446.8h0M98.6 466.8h0M142.5 422.9h0M156.3 438.2h0M119.0 434.6h0M119.0 429.1h0M107.2 456.1h0M72.9 461.1h0M109.6 447.9h0M122.0 449.2h0M158.9 433.3h0M99.6 459.0h0M107.1 441.5h0M148.7 426.3h0M164.3 438.6h0M82.0 465.0h0M108.0 444.9h0M174.4 416.6h0M95.5 459.8h0M153.0 415.2h0M80.8 464.5h0M158.5 405.9h0M86.8 449.9h0M115.8 453.1h0M87.1 455.0h0M80.1 467.2h0M135.7 427.3h0M74.3 465.4h0M85.2 464.8h0M142.9 436.1h0M114.1 461.0h0M83.9 455.4h0M141.8 425.2h0M95.3 444.7h0M113.9 443.7h0M159.1 415.6h0M109.4 455.3h0M167.0 413.1h0M71.5 473.7h0" stroke="#7a7a7a" stroke-width="2.4" fill="none" stroke-linecap="round" stroke-opacity="0.32"/>
<path d="M167.8 424.8h0M163.5 409.6h0M73.2 464.8h0M122.3 430.9h0M171.0 409.7h0M128.9 443.4h0M167.9 421.9h0M82.1 463.7h0M122.0 443.9h0M144.9 422.0h0M72.3 468.1h0M81.3 472.7h0M154.1 412.6h0M143.8 421.4h0M139.6 436.3h0M84.7 442.8h0M139.4 423.2h0M73.7 473.7h0M158.5 427.8h0M130.2 432.7h0M135.8 424.2h0M164.7 410.2h0M125.4 418.0h0M118.0 429.7h0M161.8 414.4h0M111.1 445.6h0M176.8 430.4h0M155.0 433.4h0M92.9 457.4h0M160.2 420.3h0M130.8 433.3h0M134.6 427.6h0M98.4 425.4h0M143.5 419.5h0M166.4 417.8h0M115.6 445.6h0M109.1 435.1h0M135.6 445.3h0M175.3 423.6h0M131.7 443.1h0M157.4 417.6h0M72.2 455.8h0M95.2 456.6h0M137.1 423.6h0M141.2 434.0h0M73.8 466.1h0M71.2 469.0h0M92.4 447.0h0M98.3 455.4h0M84.1 450.4h0M79.4 450.3h0M109.2 452.9h0M71.9 462.7h0M82.9 460.5h0M169.2 416.7h0M71.5 459.2h0M71.6 471.0h0M84.1 467.3h0M78.7 473.3h0M106.7 447.0h0M133.8 429.2h0M167.6 408.0h0M159.3 414.0h0M167.1 419.8h0M122.3 444.0h0M161.3 422.4h0M153.9 430.5h0M172.3 407.0h0M144.1 422.8h0M149.7 415.7h0M172.1 415.2h0M151.8 418.8h0M85.5 470.0h0M94.5 441.8h0M172.0 406.3h0M141.7 424.7h0M104.8 438.7h0M83.6 444.1h0M72.2 468.8h0M112.7 458.1h0M78.1 471.7h0M92.3 440.4h0M148.2 420.4h0M115.0 449.2h0M76.0 467.8h0M81.5 461.2h0M83.9 464.6h0M106.7 451.0h0M85.3 468.5h0M133.8 438.0h0M90.8 456.0h0M111.3 446.1h0M177.6 409.5h0M133.1 436.2h0M135.9 419.3h0M165.5 418.2h0M78.7 463.1h0M107.2 446.3h0M168.9 417.1h0M117.6 441.9h0M125.8 433.5h0M75.3 469.9h0M171.6 424.7h0M87.9 444.5h0M164.0 403.7h0M72.2 473.7h0M83.5 454.5h0M146.5 416.1h0M148.4 421.2h0M96.4 448.5h0M79.1 473.7h0M177.7 425.6h0M75.3 449.1h0M166.7 416.6h0M92.1 473.7h0M71.2 467.8h0M119.6 473.7h0M97.0 457.3h0M80.6 460.5h0M157.0 407.6h0M135.3 443.4h0M167.1 411.3h0M84.8 441.1h0M164.3 414.2h0M104.4 445.9h0M157.4 414.5h0M107.7 441.9h0M115.2 453.4h0M129.0 420.3h0M137.1 425.6h0M103.9 462.2h0M142.5 414.8h0M71.5 470.5h0M114.1 444.2h0M117.2 433.9h0M125.8 432.7h0M97.2 441.0h0M115.1 455.4h0M140.8 429.9h0M79.2 455.9h0M178.7 406.6h0M71.9 462.5h0M103.1 437.3h0M134.8 442.6h0M120.6 429.1h0M125.1 433.5h0M90.3 464.7h0M135.9 473.7h0M117.7 443.1h0M83.1 456.9h0M77.0 456.2h0M158.8 399.1h0M138.9 431.1h0M130.8 422.4h0M172.4 416.7h0M177.3 421.5h0M126.0 447.0h0M82.2 458.0h0M96.4 445.4h0M134.2 435.3h0M169.1 435.7h0M71.2 473.7h0M73.9 468.7h0" stroke="#7a7a7a" stroke-width="2.4" fill="none" stroke-linecap="round" stroke-opacity="0.32"/>
<path d="M126.8 432.9h0M153.9 426.6h0M149.2 428.0h0M88.8 463.8h0M86.0 449.4h0M138.0 445.0h0M112.4 440.4h0M74.1 469.3h0M71.3 473.7h0M123.7 434.2h0M168.7 408.3h0M146.2 429.4h0M162.6 399.2h0M71.5 458.3h0M88.2 459.7h0M156.8 415.6h0M114.0 436.7h0M84.5 462.9h0M99.7 439.7h0M143.0 426.7h0M176.1 407.6h0M105.6 463.2h0M117.0 440.0h0M142.8 429.7h0M101.1 441.4h0M145.2 432.8h0M138.6 425.2h0M150.6 430.0h0M165.7 420.5h0M155.5 407.2h0M150.9 425.4h0M169.0 409.6h0M99.3 445.4h0M85.4 452.1h0M102.4 448.2h0M146.9 419.4h0M148.4 429.7h0M71.2 459.9h0M125.0 444.0h0M176.3 415.0h0M125.6 423.4h0M110.8 439.6h0M102.8 432.3h0M113.0 433.3h0M112.9 453.5h0M93.5 467.1h0M172.9 427.2h0M152.8 407.7h0M71.2 467.8h0M135.4 427.9h0M71.6 472.4h0M75.0 468.1h0M136.1 445.5h0M101.1 456.9h0M141.1 410.4h0M177.3 399.1h0M140.2 404.7h0M76.1 465.6h0M113.6 445.2h0M98.9 451.7h0M157.7 420.3h0M175.3 417.3h0M160.4 411.3h0M84.0 459.0h0M146.8 434.8h0M76.3 473.7h0M71.5 462.2h0M105.7 456.4h0M144.9 427.3h0M75.5 463.7h0M72.4 469.2h0M99.7 447.5h0M170.1 423.9h0M72.3 448.8h0M133.1 438.5h0M85.2 473.7h0M75.1 470.8h0M145.9 434.9h0M142.8 420.5h0M129.2 434.7h0M135.4 430.8h0M135.6 436.6h0M162.0 410.8h0M151.0 421.3h0M166.8 420.0h0M109.4 440.1h0M163.1 409.1h0M101.9 444.4h0M113.0 445.5h0M174.9 423.9h0M123.5 446.6h0M97.7 454.4h0M73.5 473.7h0M122.2 443.6h0M74.7 469.2h0M72.8 462.6h0M164.7 409.4h0M105.3 450.0h0M98.3 449.3h0M150.6 409.5h0M97.0 462.9h0M157.0 407.0h0M120.3 440.8h0M117.8 418.9h0M113.5 433.0h0M112.9 436.4h0M163.9 416.3h0M162.4 430.2h0M115.4 438.5h0M178.1 408.8h0M131.7 427.3h0M78.1 467.3h0M154.1 411.4h0M96.6 434.9h0M136.5 432.3h0M96.8 459.8h0M147.8 431.6h0M140.6 433.1h0M132.8 434.3h0M107.7 444.6h0M113.0 432.2h0M122.7 421.6h0M109.2 436.0h0M74.8 473.7h0M172.6 401.0h0M162.3 406.2h0M71.6 460.3h0M144.6 421.3h0M174.3 409.9h0M147.1 415.4h0M98.7 459.7h0M114.5 439.3h0M142.7 436.4h0M178.7 421.7h0M127.1 433.3h0M158.0 412.8h0M164.4 410.3h0M151.9 418.3h0M115.1 439.8h0M71.5 473.7h0M81.0 461.8h0M156.5 439.7h0M154.2 413.5h0M125.4 437.5h0M112.7 432.1h0M160.3 428.3h0M92.3 459.3h0M146.3 422.8h0M74.8 467.9h0M142.3 432.2h0M106.4 449.7h0M81.0 458.0h0M118.4 440.0h0M89.9 455.4h0M130.0 448.4h0M143.9 422.5h0M136.8 428.0h0M153.3 425.9h0M138.4 431.5h0M103.4 446.8h0M160.6 416.4h0M176.1 411.2h0M100.6 441.8h0" stroke="#7a7a7a" stroke-width="2.4" fill="none" stroke-linecap="round" stroke-opacity="0.32"/>
<path d="M138.6 421.6h0M156.4 423.6h0M121.1 438.4h0M142.3 430.3h0M158.0 416.6h0M168.4 405.3h0M131.2 432.2h0M111.8 442.8h0M150.5 416.3h0M98.3 448.3h0M143.1 430.2h0M150.0 445.9h0M158.9 421.8h0M123.7 430.4h0M162.2 410.8h0M124.6 418.5h0M99.6 463.0h0M102.8 456.5h0M152.7 429.4h0M122.1 436.7h0M138.4 424.9h0M174.9 425.9h0M131.5 441.4h0M127.2 437.9h0M81.4 458.2h0M84.1 465.1h0M163.8 428.2h0M91.4 456.7h0M169.9 400.4h0M71.3 467.2h0M165.4 422.6h0M124.4 448.0h0M78.3 473.7h0M156.1 422.8h0M154.8 410.7h0M169.4 414.1h0M138.3 425.6h0M160.2 428.7h0M157.7 407.6h0M134.8 425.9h0M166.7 420.8h0M176.8 417.0h0M72.2 467.0h0M118.0 421.6h0M173.1 414.3h0M111.8 448.0h0M79.5 454.4h0M109.8 439.3h0M134.1 430.0h0M162.2 420.7h0M102.4 452.5h0M130.2 428.7h0M86.5 452.7h0M156.1 434.2h0M73.1 461.3h0M146.7 436.5h0M72.4 462.4h0M71.2 465.9h0M71.8 466.9h0M72.0 464.2h0M167.1 424.7h0M72.6 458.4h0M140.0 431.3h0M137.5 425.5h0M126.8 437.1h0M109.9 440.4h0M177.8 422.3h0M114.5 446.7h0M72.7 473.7h0M113.6 442.4h0M158.2 417.2h0M178.7 408.4h0M130.1 431.1h0M72.5 470.3h0M134.5 413.2h0M162.4 413.1h0M174.4 431.3h0M72.0 458.0h0M176.9 424.4h0M95.2 443.6h0M160.7 400.6h0M91.0 458.3h0M141.0 428.1h0M72.1 461.9h0M161.6 424.5h0M140.6 432.5h0M106.5 454.8h0M164.2 427.8h0M137.6 422.5h0M80.9 462.1h0M141.4 434.6h0M143.0 421.3h0M126.5 440.3h0M134.1 431.9h0M94.2 451.0h0M124.0 439.2h0M123.0 429.9h0M141.7 432.8h0M72.8 473.7h0M119.0 448.6h0M74.0 461.6h0M89.2 448.1h0M113.7 453.0h0M148.7 416.3h0M166.7 411.8h0M136.0 429.1h0M101.2 459.0h0M146.3 420.6h0M170.7 417.6h0M126.0 429.7h0M76.1 461.6h0M157.4 418.5h0M160.2 399.4h0M127.8 432.0h0M72.4 448.6h0M118.8 441.9h0M81.1 459.3h0M119.2 446.4h0M137.0 429.9h0M100.6 473.7h0M72.0 472.3h0M71.2 457.5h0M160.0 409.2h0M117.9 450.8h0M129.1 442.1h0M159.7 406.9h0M113.1 401.1h0M93.1 459.6h0M155.9 415.7h0M114.7 444.4h0M153.7 410.4h0M95.6 462.0h0M108.1 461.1h0M71.7 464.0h0M119.9 443.9h0M73.2 466.5h0M102.4 457.1h0M73.9 463.5h0M117.7 433.7h0M171.8 411.8h0M161.1 412.1h0M111.9 447.1h0M78.6 461.6h0M96.2 456.9h0M77.7 462.3h0M74.7 470.3h0M117.6 435.2h0M162.9 405.9h0M87.5 458.7h0M172.2 426.3h0M71.3 464.1h0M173.1 403.8h0M115.4 440.6h0M146.5 420.5h0M121.6 441.3h0M86.8 445.9h0M92.0 466.6h0M103.1 453.3h0M153.5 422.3h0M151.0 404.1h0M169.1 402.4h0M166.0 418.9h0M173.2 422.4h0" stroke="#7a7a7a" stroke-width="2.4" fill="none" stroke-linecap="round" stroke-opacity="0.32"/>
<path d="M129.3 432.3h0M131.4 430.2h0M161.6 413.9h0M154.3 408.2h0M135.1 430.8h0M156.7 430.7h0M152.1 413.9h0M172.1 408.7h0M170.2 452.2h0M149.7 417.7h0M143.8 432.5h0M73.8 468.0h0M157.6 418.4h0M102.7 436.3h0M121.5 436.2h0M125.2 417.3h0M74.6 473.7h0M164.3 421.6h0M102.4 455.8h0M133.0 417.6h0M78.5 463.7h0M87.6 463.5h0M121.9 458.1h0M157.9 410.5h0M119.3 434.7h0M116.3 422.2h0M131.9 423.1h0M72.0 473.7h0M85.5 463.0h0M174.2 418.7h0M169.6 430.0h0M177.6 418.5h0M106.9 449.3h0M86.2 453.2h0M167.0 418.3h0M122.8 454.0h0M120.3 431.1h0M143.1 426.0h0M110.8 438.4h0M73.1 463.7h0M150.6 425.0h0M152.7 422.4h0M108.7 444.0h0M72.6 467.2h0M117.5 449.9h0M136.3 414.0h0M74.6 470.1h0M122.5 428.9h0M73.2 463.8h0M91.6 464.9h0M169.9 430.6h0M122.0 432.5h0M171.5 406.8h0M155.8 422.1h0M156.9 418.0h0M71.9 464.6h0M89.9 473.7h0M118.7 434.0h0M100.8 458.1h0M107.4 447.2h0M83.2 450.5h0M91.2 440.2h0M138.4 428.8h0M122.2 420.3h0M75.1 460.8h0M94.6 455.9h0M81.2 458.0h0M137.3 427.4h0M119.6 434.0h0M73.2 457.5h0M143.1 429.9h0M161.9 420.8h0M147.0 437.8h0M174.2 399.9h0M135.7 433.1h0M82.0 457.4h0M166.0 399.9h0M162.5 409.3h0M124.9 447.1h0M161.1 414.6h0M166.4 414.8h0M108.7 442.7h0M142.2 422.8h0M144.3 430.5h0M146.5 455.2h0M152.3 445.6h0M99.5 438.8h0M139.3 426.9h0M150.0 416.4h0M151.3 413.2h0M138.8 430.6h0M112.2 434.0h0M147.4 421.3h0M79.3 458.6h0M140.0 431.7h0M131.6 423.5h0M100.6 439.8h0M101.7 466.8h0M152.7 415.1h0M74.2 473.7h0M88.2 442.3h0M120.6 440.3h0M168.0 402.6h0M156.9 418.9h0M74.4 473.7h0M95.6 449.5h0M76.3 473.7h0M169.6 409.8h0M148.9 438.1h0M156.2 420.8h0M167.1 426.8h0M116.4 449.8h0M161.4 411.2h0M135.3 433.7h0M166.6 402.4h0M149.1 423.4h0M144.1 429.0h0M87.1 461.1h0M72.9 465.5h0M177.0 412.2h0M99.6 439.5h0M142.7 426.0h0M115.4 426.0h0M78.9 462.1h0M159.3 422.1h0M121.2 433.6h0M86.3 452.9h0M110.5 435.8h0M119.4 417.8h0M120.7 433.6h0M74.5 473.7h0M114.7 451.3h0M135.1 424.1h0M72.0 449.9h0M152.2 434.8h0M158.6 415.3h0M74.5 471.0h0M176.6 422.8h0M153.9 428.0h0M129.5 434.6h0M103.1 452.4h0M125.8 428.9h0M77.0 471.4h0M157.7 448.7h0M83.9 473.7h0M146.2 428.4h0M87.1 467.5h0M132.2 417.5h0M169.2 419.8h0M96.0 456.1h0M125.6 432.2h0M137.8 420.2h0M124.4 436.9h0M128.7 451.8h0M87.8 450.9h0M113.3 442.1h0M71.2 454.9h0M76.7 456.6h0M73.3 459.4h0M99.4 446.0h0M172.4 428.9h0M75.8 447.8h0M83.7 463.0h0" stroke="#7a7a7a" stroke-width="2.4" fill="none" stroke-linecap="round" stroke-opacity="0.32"/>
<path d="M104.2 436.0h0M137.6 427.4h0M94.9 459.1h0M113.6 457.8h0M151.3 426.5h0M78.5 455.0h0M71.3 467.8h0M141.1 425.6h0M163.7 402.1h0M72.9 454.5h0M173.8 416.1h0M164.9 418.3h0M97.2 458.7h0M124.4 426.1h0M111.0 450.8h0M93.7 452.0h0M88.5 452.3h0M162.8 409.2h0M80.9 472.2h0M162.9 424.4h0M90.4 467.2h0M100.9 444.0h0M129.1 439.8h0M174.6 426.6h0M168.9 405.0h0M141.2 444.9h0M140.0 425.4h0M100.6 451.2h0M91.7 457.6h0M122.1 441.6h0M161.4 430.5h0M75.5 473.7h0M71.4 449.4h0M168.6 410.7h0M154.7 425.6h0M92.3 468.5h0M130.3 435.7h0M79.6 466.9h0M163.6 415.2h0M116.0 444.6h0M94.5 456.5h0M96.4 449.5h0M159.9 410.0h0M86.4 461.4h0M76.6 473.7h0M74.8 457.1h0M127.7 436.2h0M89.9 450.9h0M96.3 452.4h0M90.0 442.4h0M73.3 457.3h0M73.1 470.8h0M160.4 412.8h0M72.0 462.6h0M95.6 443.3h0M152.1 419.9h0M177.6 415.2h0M162.4 421.2h0M165.2 406.6h0M134.1 429.6h0M135.4 424.4h0M171.9 408.8h0M149.9 438.9h0M136.6 418.3h0M91.6 457.6h0M124.2 429.5h0M174.1 403.5h0M156.5 424.3h0M168.6 420.0h0M125.7 440.0h0M140.7 436.9h0M126.9 439.6h0M126.7 432.5h0M156.8 433.5h0M113.0 434.7h0M176.1 408.7h0M135.1 430.2h0M138.5 427.5h0M74.3 458.9h0M108.0 445.8h0M113.9 436.2h0M146.1 437.7h0M177.2 426.7h0M89.6 465.5h0M74.5 473.7h0M73.0 468.6h0M134.7 428.5h0M92.0 453.5h0M143.0 431.2h0M135.8 419.2h0M85.5 466.8h0M139.4 431.3h0M173.6 429.5h0M155.3 418.5h0M78.3 456.1h0M119.5 425.6h0M164.7 420.9h0M95.8 453.8h0M90.5 439.9h0M99.9 435.6h0M166.6 407.9h0M74.6 472.9h0M87.8 455.0h0M159.0 403.2h0M161.1 412.1h0M150.4 414.0h0M85.4 448.8h0M129.6 430.6h0M120.6 430.4h0M139.4 420.8h0M81.9 452.2h0M72.8 463.7h0M75.0 466.9h0M150.7 413.1h0M153.6 412.6h0M130.6 428.9h0M112.5 443.6h0M149.0 417.2h0M111.4 438.7h0M174.3 414.5h0M134.5 421.0h0M106.5 444.3h0M102.5 454.0h0M171.6 407.7h0M164.9 425.6h0M161.9 416.9h0M147.2 439.0h0M74.6 473.7h0M157.7 404.8h0M125.3 434.6h0M72.4 473.7h0M91.9 441.0h0M122.5 422.8h0M115.9 439.9h0M74.4 469.6h0M109.6 430.8h0M160.1 420.7h0M137.4 408.5h0M144.4 421.4h0M122.2 438.9h0M151.0 415.5h0M126.4 434.8h0M129.2 426.5h0M116.4 438.6h0M148.9 419.2h0M148.9 423.6h0M121.1 440.7h0M77.5 465.5h0M115.3 436.4h0M73.9 473.7h0M131.8 439.3h0M176.3 427.7h0M101.3 452.6h0M159.5 417.3h0M139.9 428.6h0M153.8 424.4h0M137.7 426.2h0M88.8 447.9h0M71.4 463.4h0M73.1 473.7h0M154.5 432.2h0M144.9 430.1h0M91.7 444.5h0" stroke="#7a7a7a" stroke-width="2.4" fill="none" stroke-linecap="round" stroke-opacity="0.32"/>
<path d="M71.2 473.7h0M106.0 457.4h0M89.8 461.6h0M71.2 473.7h0M148.6 426.4h0M120.2 443.7h0M145.6 419.5h0M173.4 420.1h0M99.8 461.3h0M137.5 432.1h0M74.3 469.6h0M92.9 442.4h0M163.3 408.9h0M162.5 431.3h0M88.0 473.7h0M141.8 421.2h0M135.3 432.4h0M109.4 450.8h0M151.6 432.2h0M115.2 446.6h0M166.4 410.5h0M141.4 422.4h0M158.1 409.8h0M95.1 467.4h0M176.9 415.3h0M71.6 468.9h0M110.9 453.3h0M110.4 447.8h0M124.1 441.0h0M73.3 463.7h0M108.6 445.4h0M126.0 438.7h0M112.6 433.9h0M124.8 426.3h0M165.3 411.3h0M148.2 438.4h0M169.0 405.5h0M149.3 416.1h0M73.0 457.3h0M155.2 406.1h0M159.4 427.7h0M86.9 449.8h0M89.8 447.4h0M178.2 423.9h0M171.0 404.7h0M145.9 438.2h0M92.6 455.0h0M133.1 428.7h0M167.3 411.9h0M162.7 425.8h0M138.9 431.9h0M105.9 444.9h0M145.9 444.3h0M173.2 429.5h0M71.2 468.6h0M112.7 431.9h0M171.1 405.6h0M110.0 455.1h0M107.2 443.9h0M90.0 449.9h0M91.8 462.5h0M74.4 468.7h0M159.7 417.9h0M77.5 460.4h0M146.9 419.8h0M134.2 432.9h0M156.0 414.7h0M149.2 411.6h0M119.0 433.0h0M75.2 464.8h0M138.1 419.5h0M110.5 459.3h0M78.3 446.2h0M84.7 463.4h0M103.1 446.9h0M124.7 426.1h0M119.7 458.4h0M124.0 434.2h0M113.2 451.9h0M174.0 415.7h0M88.4 460.7h0M156.6 428.4h0M75.7 462.0h0M150.2 415.4h0M143.0 431.6h0M147.2 416.4h0M167.4 401.9h0M145.6 418.3h0M75.3 473.7h0M136.5 434.8h0M103.6 453.0h0M92.7 450.7h0M122.4 438.2h0M164.6 423.1h0M100.5 454.5h0M152.8 429.0h0M133.9 411.8h0M167.2 419.2h0M72.8 468.2h0M100.3 461.0h0M128.4 430.2h0M71.2 456.4h0M115.6 445.9h0M105.4 455.8h0M122.3 439.4h0M160.3 402.2h0M163.9 412.0h0M73.2 473.7h0M169.8 405.1h0M78.0 459.2h0M168.3 416.8h0M154.1 435.8h0M176.4 413.6h0M161.9 413.3h0M145.4 419.5h0M122.5 435.3h0M148.3 420.4h0M107.5 446.6h0M136.7 434.3h0M118.3 454.1h0M171.2 411.1h0M105.4 460.9h0M158.7 421.1h0M145.9 400.5h0M146.6 423.4h0M176.5 417.8h0M75.8 473.7h0M80.8 469.4h0M151.5 428.3h0M178.7 418.8h0M151.7 416.1h0M99.9 450.9h0M120.2 439.8h0M88.7 456.7h0M171.8 408.1h0M72.5 461.7h0M99.8 453.0h0M117.9 436.9h0M167.4 417.2h0M135.5 431.6h0M72.8 473.7h0M152.2 432.3h0M71.8 473.7h0M121.0 450.5h0M126.4 437.0h0M119.1 452.5h0M101.5 439.4h0M173.6 399.1h0M156.4 407.0h0M143.9 417.9h0M122.6 449.0h0M149.0 419.6h0M160.5 411.6h0M106.6 456.0h0M166.8 417.1h0M159.4 418.7h0M173.6 403.6h0M142.7 441.3h0M72.9 458.8h0M93.7 462.7h0M103.7 451.8h0M160.0 425.5h0M170.4 416.5h0" stroke="#7a7a7a" stroke-width="2.4" fill="none" stroke-linecap="round" stroke-opacity="0.32"/>
<path d="M131.8 429.0h0M152.9 417.9h0M78.1 454.3h0M98.0 460.3h0M104.0 448.6h0M101.6 448.3h0M71.9 452.8h0M81.3 466.2h0M144.1 456.0h0M114.7 428.0h0M73.6 464.0h0M166.0 417.0h0M156.6 419.7h0M176.6 423.9h0M104.2 473.7h0M168.5 416.6h0M141.4 426.8h0M96.6 453.4h0M72.5 466.9h0M82.8 462.3h0M106.3 459.6h0M143.8 444.1h0M90.3 462.1h0M141.9 436.6h0M81.1 460.9h0M145.9 421.2h0M158.8 409.2h0M127.3 441.5h0M126.1 442.8h0M170.9 412.6h0M135.4 433.6h0M121.0 440.1h0M140.1 429.6h0M161.1 427.4h0M71.2 473.7h0M125.6 444.5h0M165.7 424.9h0M163.8 404.7h0M165.7 403.0h0M146.2 439.8h0M169.7 403.0h0M151.9 421.0h0M93.5 436.9h0M176.7 412.6h0M145.9 417.1h0M171.1 417.8h0M76.8 466.6h0M71.2 457.4h0M93.5 462.6h0M111.1 431.6h0M158.6 422.3h0M99.3 459.5h0M106.4 444.6h0M155.2 412.3h0M174.9 416.0h0M111.3 441.0h0M88.8 458.6h0M135.4 434.6h0M99.9 460.0h0M111.2 444.8h0M158.4 425.3h0M138.0 420.6h0M77.9 454.2h0M126.4 460.2h0M170.3 411.2h0M124.7 444.8h0M80.7 465.8h0M150.9 419.9h0M154.9 415.4h0M164.0 411.6h0M115.3 448.1h0M142.3 435.6h0M78.8 465.4h0M125.6 437.2h0M106.9 441.8h0M170.3 415.7h0M96.6 442.7h0M122.3 447.2h0M157.1 405.4h0M134.7 437.4h0M120.0 428.7h0M75.9 465.7h0M135.1 434.3h0M169.2 403.6h0M139.6 426.0h0M173.6 418.2h0M100.4 469.8h0M126.1 437.9h0M165.0 406.8h0M161.8 401.3h0M82.9 449.7h0M96.6 444.3h0M173.4 411.4h0M133.0 427.5h0M73.6 461.5h0M134.3 426.5h0M167.0 399.1h0M115.4 448.3h0M155.4 421.6h0M141.1 421.2h0M161.5 423.8h0M151.0 424.7h0M108.5 452.7h0M92.6 456.0h0M71.3 473.7h0M118.1 447.9h0M141.5 432.7h0M109.4 466.8h0M116.2 430.6h0M167.4 419.4h0M148.3 422.9h0M103.7 446.0h0M158.0 415.0h0M71.2 461.1h0M151.6 414.8h0M113.6 430.7h0M71.7 460.3h0M72.1 457.7h0M128.4 440.7h0M116.2 440.5h0M159.1 401.6h0M135.8 436.4h0M155.4 419.1h0M82.9 452.5h0M145.7 425.0h0M89.8 462.9h0M166.9 416.4h0M130.4 421.8h0M157.3 400.0h0M158.4 413.4h0M95.9 460.4h0M109.0 447.7h0M145.2 421.3h0M80.4 450.6h0M109.0 450.8h0M150.5 426.5h0M77.5 461.7h0M92.3 454.1h0M171.5 409.0h0M72.1 467.7h0M96.6 451.2h0M171.3 411.5h0M113.3 438.8h0M82.3 458.3h0M71.2 454.6h0M101.9 463.4h0M129.5 433.6h0M97.2 441.7h0M98.9 450.0h0M163.3 414.7h0M143.0 427.8h0M75.0 470.8h0M105.9 462.8h0M92.9 454.7h0M123.4 439.0h0M131.4 431.0h0M107.9 456.0h0M134.4 415.0h0M125.9 429.9h0M74.9 473.7h0M126.1 417.4h0M107.0 445.5h0M115.0 433.8h0" stroke="#7a7a7a" stroke-width="2.4" fill="none" stroke-linecap="round" stroke-opacity="0.32"/>
<path d="M176.0 416.9h0M95.3 461.0h0M131.9 443.7h0M153.4 427.3h0M87.9 450.0h0M172.5 409.0h0M107.3 442.3h0M149.1 415.7h0M71.7 473.7h0M89.0 467.5h0M119.6 436.5h0M72.2 465.7h0M72.8 462.6h0M136.9 419.4h0M110.3 448.9h0M131.2 454.5h0M160.3 426.5h0M74.9 473.7h0M71.7 466.6h0M108.5 450.8h0M145.7 422.2h0M72.1 465.3h0M134.0 425.9h0M92.8 455.0h0M89.2 457.4h0M119.8 432.4h0M86.7 452.5h0M92.3 462.7h0M161.4 405.9h0M86.8 469.9h0M164.4 417.1h0M116.8 441.8h0M128.8 433.8h0M108.3 442.5h0M175.3 417.7h0M138.3 430.2h0M142.9 410.2h0M102.4 446.2h0M96.7 444.4h0M82.5 445.4h0M73.2 473.7h0M140.2 423.3h0M94.3 457.1h0M164.3 416.5h0M171.5 404.6h0M147.3 399.9h0M166.3 399.2h0M153.1 418.8h0M87.1 454.9h0M127.5 424.3h0M147.5 433.2h0M116.3 419.7h0M77.4 449.0h0M146.8 415.1h0M169.6 412.8h0M176.3 401.2h0M143.7 427.8h0M150.5 427.1h0M135.1 419.6h0M73.6 472.7h0M118.2 437.2h0M178.3 419.3h0M151.8 404.6h0M73.6 461.0h0M72.9 464.3h0M146.3 439.4h0M178.7 426.6h0M87.4 466.1h0M124.3 432.6h0M75.2 459.5h0M71.2 469.6h0M74.6 468.7h0M156.0 417.7h0M151.6 417.7h0M127.0 425.6h0M166.8 405.3h0M115.6 432.5h0M71.5 451.5h0M176.7 422.0h0M177.6 409.1h0M112.9 428.8h0M79.0 463.9h0M173.0 421.3h0M71.6 454.3h0M117.7 430.7h0M78.3 466.8h0M157.8 417.1h0M136.4 425.1h0M71.4 473.7h0M143.3 413.3h0M100.5 447.9h0M107.4 439.2h0M110.3 450.3h0M111.2 433.8h0M168.0 412.5h0M99.1 460.7h0M170.9 417.8h0M118.9 450.6h0M128.7 436.2h0M125.3 431.0h0M154.6 439.1h0M112.8 451.8h0M106.1 460.4h0M141.4 410.1h0M139.6 427.7h0M72.7 471.0h0M136.4 431.9h0M169.4 410.5h0M126.7 442.0h0M168.4 427.0h0M106.7 431.2h0M122.3 452.5h0M101.5 457.5h0M92.1 466.1h0M98.2 446.8h0M72.1 446.0h0M177.0 410.9h0M109.8 464.1h0M86.1 450.6h0M143.9 421.2h0M81.3 443.9h0M71.9 473.7h0M136.3 429.4h0M81.3 456.4h0M103.9 442.9h0M88.9 466.9h0M150.3 421.3h0M131.8 425.7h0M125.8 433.3h0M144.5 434.2h0M176.8 433.6h0M72.1 465.0h0M75.1 449.7h0M125.1 445.3h0M128.0 424.7h0M112.8 436.5h0M121.9 435.1h0M140.5 430.3h0M126.0 425.6h0M124.8 437.3h0M72.3 467.5h0M75.9 473.7h0M132.0 432.7h0M162.7 414.6h0M142.1 414.6h0M78.2 467.4h0M71.7 464.8h0M96.2 459.0h0M124.3 446.1h0M125.0 443.9h0M122.4 444.3h0M153.7 405.0h0M72.0 469.8h0M145.6 441.7h0M86.1 453.8h0M71.8 473.7h0M122.4 452.8h0M116.5 457.3h0M169.1 405.5h0M73.3 473.7h0M142.0 425.2h0M175.6 416.1h0M146.0 419.4h0" stroke="#7a7a7a" stroke-width="2.4" fill="none" stroke-linecap="round" stroke-opacity="0.32"/>
<path d="M146.3 423.6h0M99.6 453.9h0M102.7 443.2h0M160.8 427.7h0M118.4 445.7h0M163.3 430.1h0M154.0 417.9h0M162.0 409.4h0M81.0 448.8h0M103.4 449.5h0M72.6 460.1h0M103.8 461.5h0M86.9 459.9h0M169.5 407.1h0M112.2 447.6h0M141.5 435.5h0M140.1 441.9h0M131.7 438.0h0M129.8 431.0h0M159.1 417.1h0M80.9 473.7h0M71.4 455.7h0M79.2 462.5h0M107.5 449.9h0M169.0 399.7h0M114.2 430.3h0M106.3 435.3h0M160.3 444.5h0M79.8 463.1h0M162.9 418.8h0M161.6 414.1h0M71.8 473.7h0M127.6 439.0h0M146.9 427.2h0M108.3 443.6h0M77.3 462.6h0M114.4 439.9h0M72.2 467.4h0M72.0 473.7h0M71.2 465.6h0M164.3 412.5h0M107.8 446.3h0M133.7 429.3h0M120.0 445.6h0M167.9 414.7h0M119.8 442.9h0M149.1 427.0h0M169.2 419.7h0M175.0 407.7h0M153.3 407.9h0M131.7 422.8h0M167.6 403.2h0M77.7 461.0h0M173.0 399.0h0M91.9 455.6h0M87.3 456.6h0M119.1 428.1h0M82.9 437.5h0M108.7 447.1h0M148.5 427.6h0M71.7 465.9h0M138.6 430.4h0M107.8 450.9h0M88.0 456.8h0M157.4 418.5h0M97.5 453.7h0M120.1 448.4h0M123.0 445.9h0M105.4 454.3h0M73.2 461.9h0M148.8 418.8h0M150.7 422.3h0M144.6 421.7h0M80.5 450.8h0M74.1 462.9h0M162.6 428.0h0M72.5 467.6h0M154.6 423.3h0M130.4 433.0h0M120.4 425.3h0M116.7 446.6h0M178.3 415.8h0M147.0 426.5h0M120.9 435.1h0M137.8 432.2h0M148.1 436.1h0M160.7 402.0h0M105.9 448.0h0M74.5 473.7h0M84.8 470.4h0M107.0 452.6h0M86.4 452.2h0M153.4 411.9h0M91.7 446.7h0M75.1 465.4h0M132.3 419.1h0M72.0 473.7h0M92.3 445.5h0M122.1 444.1h0M71.2 452.4h0M107.8 447.9h0M116.4 435.9h0M147.4 414.4h0M146.1 431.7h0M89.4 441.3h0M176.5 410.8h0M148.6 430.7h0M130.0 431.8h0M124.3 434.0h0M138.1 433.0h0M112.5 441.1h0M177.5 430.9h0M115.1 452.7h0M73.0 467.5h0M113.6 433.9h0M178.7 418.9h0M159.2 417.4h0M91.3 450.4h0M155.7 411.9h0M139.8 417.1h0M105.3 445.1h0M165.1 408.8h0M101.8 438.9h0M125.9 433.4h0M104.9 447.3h0M105.9 438.7h0M102.1 462.9h0M160.6 404.1h0M120.8 435.2h0M74.4 455.1h0M101.3 444.9h0M135.7 420.9h0M109.8 442.1h0M79.1 429.9h0M174.6 419.1h0M169.2 417.3h0M120.1 439.3h0M112.9 468.4h0M74.9 473.7h0M140.7 426.6h0M72.0 472.9h0M142.8 419.8h0M96.1 436.3h0M93.5 448.6h0M142.3 428.5h0M170.2 423.3h0M72.0 471.8h0M111.3 450.2h0M98.1 454.6h0M72.2 464.4h0M148.5 436.8h0M143.4 424.3h0M171.6 403.8h0M134.9 434.3h0M130.7 436.9h0M98.4 445.7h0M100.5 456.3h0M165.9 405.3h0M159.4 418.2h0M174.9 406.9h0M122.7 443.7h0M110.1 447.6h0M89.5 459.4h0" stroke="#7a7a7a" stroke-width="2.4" fill="none" stroke-linecap="round" stroke-opacity="0.32"/>
<path d="M71.0 467.8L76.8 465.6L82.2 460.4L92.6 455.1L98.9 452.9L105.1 449.3L112.1 444.9L120.0 438.3L128.8 433.5L135.8 429.9L146.4 424.6L153.4 420.2L158.7 416.3L164.0 415.0L172.9 414.1L178.9 417.6" stroke="#3a3a3a" stroke-width="0.6" fill="none" stroke-linejoin="round"/>
<text x="124.70" y="383.24" text-anchor="middle">Anc689–nCas9-NG</text>
<text x="177.00" y="463.70" text-anchor="end"><tspan font-style="italic">R</tspan> = 0.82</text>
<text x="177.00" y="471.50" text-anchor="end"><tspan font-style="italic">n</tspan> = 2,282</text>
<line x1="206.20" y1="388.50" x2="206.20" y2="474.10" stroke="#ebebeb" stroke-width="0.5"/>
<line x1="227.84" y1="388.50" x2="227.84" y2="474.10" stroke="#ebebeb" stroke-width="0.5"/>
<line x1="249.48" y1="388.50" x2="249.48" y2="474.10" stroke="#ebebeb" stroke-width="0.5"/>
<line x1="271.12" y1="388.50" x2="271.12" y2="474.10" stroke="#ebebeb" stroke-width="0.5"/>
<line x1="292.76" y1="388.50" x2="292.76" y2="474.10" stroke="#ebebeb" stroke-width="0.5"/>
<line x1="314.40" y1="388.50" x2="314.40" y2="474.10" stroke="#ebebeb" stroke-width="0.5"/>
<line x1="206.20" y1="474.10" x2="314.40" y2="474.10" stroke="#ebebeb" stroke-width="0.5"/>
<line x1="206.20" y1="456.98" x2="314.40" y2="456.98" stroke="#ebebeb" stroke-width="0.5"/>
<line x1="206.20" y1="439.86" x2="314.40" y2="439.86" stroke="#ebebeb" stroke-width="0.5"/>
<line x1="206.20" y1="422.74" x2="314.40" y2="422.74" stroke="#ebebeb" stroke-width="0.5"/>
<line x1="206.20" y1="405.62" x2="314.40" y2="405.62" stroke="#ebebeb" stroke-width="0.5"/>
<line x1="206.20" y1="388.50" x2="314.40" y2="388.50" stroke="#ebebeb" stroke-width="0.5"/>
<line x1="206.20" y1="474.10" x2="314.40" y2="474.10" stroke="#4d4d4d" stroke-width="0.6"/>
<line x1="206.20" y1="388.50" x2="206.20" y2="474.10" stroke="#4d4d4d" stroke-width="0.6"/>
<line x1="206.20" y1="474.10" x2="206.20" y2="476.60" stroke="#4d4d4d" stroke-width="0.6"/>
<text x="206.20" y="484.94" text-anchor="middle">0</text>
<line x1="227.84" y1="474.10" x2="227.84" y2="476.60" stroke="#4d4d4d" stroke-width="0.6"/>
<text x="227.84" y="484.94" text-anchor="middle">20</text>
<line x1="249.48" y1="474.10" x2="249.48" y2="476.60" stroke="#4d4d4d" stroke-width="0.6"/>
<text x="249.48" y="484.94" text-anchor="middle">40</text>
<line x1="271.12" y1="474.10" x2="271.12" y2="476.60" stroke="#4d4d4d" stroke-width="0.6"/>
<text x="271.12" y="484.94" text-anchor="middle">60</text>
<line x1="292.76" y1="474.10" x2="292.76" y2="476.60" stroke="#4d4d4d" stroke-width="0.6"/>
<text x="292.76" y="484.94" text-anchor="middle">80</text>
<line x1="314.40" y1="474.10" x2="314.40" y2="476.60" stroke="#4d4d4d" stroke-width="0.6"/>
<text x="314.40" y="484.94" text-anchor="middle">100</text>
<line x1="203.70" y1="474.10" x2="206.20" y2="474.10" stroke="#4d4d4d" stroke-width="0.6"/>
<text x="201.70" y="476.34" text-anchor="end">0</text>
<line x1="203.70" y1="456.98" x2="206.20" y2="456.98" stroke="#4d4d4d" stroke-width="0.6"/>
<text x="201.70" y="459.22" text-anchor="end">20</text>
<line x1="203.70" y1="439.86" x2="206.20" y2="439.86" stroke="#4d4d4d" stroke-width="0.6"/>
<text x="201.70" y="442.10" text-anchor="end">40</text>
<line x1="203.70" y1="422.74" x2="206.20" y2="422.74" stroke="#4d4d4d" stroke-width="0.6"/>
<text x="201.70" y="424.98" text-anchor="end">60</text>
<line x1="203.70" y1="405.62" x2="206.20" y2="405.62" stroke="#4d4d4d" stroke-width="0.6"/>
<text x="201.70" y="407.86" text-anchor="end">80</text>
<line x1="203.70" y1="388.50" x2="206.20" y2="388.50" stroke="#4d4d4d" stroke-width="0.6"/>
<text x="201.70" y="390.74" text-anchor="end">100</text>
<path d="M206.2 457.8L207.6 457.0L208.9 456.3L210.3 455.6L211.7 454.8L213.0 453.1L214.4 451.2L215.8 449.2L217.2 447.4L218.5 446.4L219.9 445.5L221.3 444.6L222.6 443.7L224.0 442.7L225.4 441.8L226.7 440.8L228.1 439.9L229.5 438.9L230.9 438.1L232.2 437.2L233.6 436.3L235.0 435.4L236.3 434.5L237.7 433.6L239.1 432.8L240.4 432.0L241.8 431.2L243.2 430.4L244.5 429.5L245.9 428.6L247.3 427.7L248.7 426.8L250.0 426.1L251.4 425.6L252.8 425.1L254.1 424.8L255.5 424.4L256.9 424.1L258.2 423.8L259.6 423.4L261.0 422.8L262.4 422.0L263.7 421.2L265.1 420.4L266.5 419.7L267.8 419.0L269.2 418.3L270.6 417.7L271.9 416.9L273.3 416.2L274.7 415.4L276.1 414.7L277.4 413.9L278.8 413.2L280.2 412.5L281.5 411.7L282.9 410.9L284.3 410.2L285.6 409.4L287.0 408.7L288.4 407.8L289.7 406.8L291.1 405.8L292.5 405.0L293.9 404.9L295.2 404.9L296.6 404.8L298.0 404.7L299.3 405.0L300.7 405.4L302.1 405.7L303.4 406.1L304.8 405.6L306.2 405.0L307.6 404.4L308.9 403.8L310.3 403.8L311.7 403.9L313.0 404.0L314.4 404.1L314.4 416.1L313.0 419.0L311.7 421.9L310.3 424.9L308.9 427.8L307.6 428.6L306.2 429.4L304.8 430.2L303.4 430.9L302.1 430.8L300.7 430.7L299.3 430.5L298.0 430.4L296.6 430.0L295.2 429.6L293.9 429.2L292.5 428.9L291.1 429.3L289.7 429.8L288.4 430.3L287.0 430.9L285.6 431.5L284.3 432.1L282.9 432.7L281.5 433.3L280.2 434.0L278.8 434.6L277.4 435.2L276.1 435.8L274.7 436.4L273.3 437.0L271.9 437.6L270.6 438.2L269.2 438.9L267.8 439.6L266.5 440.3L265.1 440.9L263.7 441.7L262.4 442.6L261.0 443.4L259.6 444.0L258.2 444.3L256.9 444.6L255.5 445.0L254.1 445.3L252.8 445.7L251.4 446.2L250.0 446.6L248.7 447.4L247.3 448.3L245.9 449.2L244.5 450.1L243.2 451.0L241.8 451.8L240.4 452.5L239.1 453.3L237.7 454.0L236.3 454.7L235.0 455.3L233.6 456.0L232.2 456.7L230.9 457.4L229.5 458.0L228.1 458.7L226.7 459.5L225.4 460.2L224.0 461.0L222.6 461.7L221.3 462.4L219.9 463.1L218.5 463.8L217.2 464.5L215.8 465.2L214.4 465.8L213.0 466.5L211.7 466.9L210.3 466.3L208.9 465.7L207.6 465.2L206.2 464.6Z" stroke="none" stroke-width="0" fill="#d9d9d9"/>
<rect x="206.50" y="422.74" width="1.3" height="51.36" fill="#d6d6d6"/>
<path d="M309.2 413.1h0M208.3 454.3h0M213.8 460.7h0M268.7 428.9h0M283.8 430.9h0M311.2 419.2h0M261.5 444.7h0M254.2 433.2h0M279.5 430.2h0M217.2 469.7h0M262.4 427.5h0M313.0 423.0h0M290.8 435.3h0M310.9 404.6h0M313.3 408.2h0M243.2 442.3h0M209.5 470.2h0M207.1 466.8h0M263.4 444.6h0M261.5 419.7h0M259.1 404.8h0M297.6 416.5h0M309.3 424.5h0M256.3 456.7h0M265.4 413.5h0M249.9 436.5h0M208.4 457.1h0M251.2 438.6h0M229.8 448.7h0M300.2 430.4h0M233.1 438.4h0M313.7 408.8h0M249.3 430.8h0M243.8 440.0h0M268.7 431.0h0M215.9 446.6h0M227.0 458.3h0M213.3 461.2h0M244.3 452.3h0M230.5 473.9h0M248.7 447.9h0M211.8 456.0h0M276.4 431.3h0M230.3 463.4h0M292.3 403.1h0M262.5 431.3h0M210.6 467.5h0M295.1 414.6h0M258.3 449.1h0M254.7 441.1h0M216.8 466.6h0M308.2 401.5h0M309.5 422.8h0M217.5 444.8h0M245.3 449.9h0M262.7 442.6h0M283.7 431.5h0M208.2 473.9h0M274.6 428.9h0M238.0 446.6h0M242.6 439.5h0M262.0 424.6h0M292.8 421.7h0M220.7 429.7h0M283.4 431.3h0M288.3 413.5h0M250.7 422.8h0M241.0 460.3h0M314.2 403.5h0M313.8 419.8h0M206.4 460.8h0M291.1 425.8h0M212.2 464.0h0" stroke="#7a7a7a" stroke-width="2.4" fill="none" stroke-linecap="round" stroke-opacity="0.32"/>
<path d="M309.4 418.1h0M218.5 473.9h0M207.1 471.8h0M261.1 429.3h0M222.5 452.7h0M290.2 423.3h0M212.0 461.1h0M298.2 425.7h0M265.4 434.0h0M243.4 426.2h0M282.8 439.1h0M266.4 439.1h0M255.9 428.9h0M252.7 426.7h0M209.0 467.8h0M309.1 419.7h0M306.6 411.0h0M213.3 458.6h0M208.2 467.8h0M225.5 450.0h0M286.9 416.7h0M220.7 445.3h0M261.1 464.6h0M294.7 411.0h0M301.6 420.7h0M288.5 417.0h0M211.1 469.1h0M211.2 462.5h0M297.7 422.3h0M282.5 435.6h0M242.2 435.9h0M244.0 420.5h0M253.7 441.7h0M263.4 428.8h0M280.1 428.9h0M206.9 458.9h0M306.0 402.8h0M224.1 457.9h0M206.4 461.8h0M295.7 408.9h0M304.6 420.5h0M291.9 425.5h0M268.9 448.6h0M263.0 424.8h0M206.4 466.8h0M262.9 429.0h0M255.5 427.8h0M218.8 458.4h0M307.6 433.4h0M309.1 424.0h0M274.1 418.3h0M293.7 419.0h0M225.2 442.1h0M258.5 413.3h0M218.7 448.3h0M208.2 457.6h0M290.5 419.9h0M275.1 437.3h0M273.0 427.1h0M246.3 451.6h0M211.0 448.4h0M288.5 428.2h0M296.6 427.4h0M290.7 417.3h0M267.8 434.8h0M254.8 447.9h0M248.5 447.5h0M214.0 462.9h0M207.8 458.4h0M294.4 420.2h0M287.8 412.7h0M267.0 411.5h0M209.7 457.8h0" stroke="#7a7a7a" stroke-width="2.4" fill="none" stroke-linecap="round" stroke-opacity="0.32"/>
<path d="M308.4 415.0h0M291.1 429.9h0M304.0 401.6h0M309.2 423.0h0M301.9 422.9h0M248.7 437.8h0M260.1 429.0h0M272.3 427.6h0M207.2 449.3h0M303.2 419.7h0M248.2 432.8h0M290.9 410.1h0M206.7 470.1h0M221.1 463.9h0M305.7 406.3h0M295.4 420.7h0M278.7 419.9h0M254.3 448.6h0M208.1 466.8h0M271.0 424.2h0M212.6 451.6h0M206.4 465.9h0M295.0 402.2h0M259.9 429.3h0M268.8 430.3h0M269.0 441.0h0M295.3 403.3h0M309.9 411.0h0M216.7 460.8h0M251.9 438.0h0M295.0 429.1h0M206.4 470.5h0M268.7 422.6h0M289.7 433.9h0M275.3 427.5h0M240.9 442.4h0M308.8 420.3h0M243.4 448.2h0M276.1 403.6h0M207.5 458.5h0M216.0 451.4h0M277.7 425.5h0M260.0 447.0h0M293.1 418.6h0M218.7 459.0h0M289.6 402.4h0M306.8 420.8h0M276.6 413.9h0M240.2 440.8h0M267.1 439.8h0M266.3 423.5h0M270.8 423.3h0M259.9 428.0h0M211.3 467.6h0M291.9 412.5h0M206.4 416.6h0M209.9 450.9h0M220.5 466.1h0M279.0 427.3h0M277.7 421.2h0M238.3 459.2h0M207.0 473.9h0M305.9 424.8h0M273.3 422.1h0M250.2 445.8h0M280.7 422.5h0M215.5 468.7h0M266.2 429.2h0M210.6 456.1h0M259.8 449.5h0M292.9 428.7h0M213.0 467.5h0M241.6 447.1h0" stroke="#7a7a7a" stroke-width="2.4" fill="none" stroke-linecap="round" stroke-opacity="0.32"/>
<path d="M256.8 440.1h0M220.4 443.0h0M249.1 449.9h0M218.2 467.4h0M269.9 422.3h0M273.7 435.5h0M288.5 416.4h0M211.6 446.3h0M258.9 450.6h0M276.9 429.5h0M231.7 450.6h0M242.8 453.6h0M308.0 410.8h0M257.1 446.7h0M207.6 459.0h0M271.5 437.0h0M213.9 467.6h0M288.8 419.7h0M284.7 409.3h0M247.7 433.7h0M284.5 410.1h0M211.1 453.3h0M206.7 449.9h0M208.9 454.4h0M297.9 417.1h0M241.9 430.2h0M208.4 459.3h0M305.9 417.0h0M249.8 401.4h0M312.5 404.9h0M252.0 426.1h0M223.6 465.9h0M208.1 450.4h0M266.7 440.0h0M210.9 458.6h0M299.6 428.9h0M301.7 424.2h0M278.1 423.0h0M277.8 426.1h0M289.8 415.4h0M267.1 424.9h0M292.0 409.5h0M305.6 422.2h0M210.3 453.8h0M292.6 432.0h0M274.5 408.5h0M268.3 429.6h0M245.7 457.5h0M264.2 420.2h0M296.3 418.8h0M269.0 441.8h0M266.5 435.0h0M207.1 464.9h0M270.9 423.5h0M229.6 450.4h0M287.0 425.6h0M299.0 428.5h0M254.3 435.6h0M278.0 415.1h0M289.8 409.9h0M262.3 439.0h0M232.0 450.3h0M244.0 404.2h0M252.8 443.0h0M269.5 421.9h0M269.6 446.4h0M207.4 443.0h0M208.3 457.5h0M281.7 425.2h0M310.1 409.9h0M250.2 430.7h0M241.6 417.8h0M258.4 426.5h0" stroke="#7a7a7a" stroke-width="2.4" fill="none" stroke-linecap="round" stroke-opacity="0.32"/>
<path d="M209.6 464.9h0M222.5 461.1h0M273.5 418.6h0M241.9 434.5h0M251.6 435.3h0M267.6 434.9h0M282.2 423.3h0M293.7 413.4h0M207.2 468.4h0M296.2 429.3h0M221.7 452.6h0M285.7 421.3h0M233.0 438.9h0M294.0 406.3h0M221.7 438.1h0M208.7 469.7h0M299.9 424.8h0M306.7 401.2h0M289.7 432.4h0M270.3 426.0h0M227.6 454.5h0M243.5 443.0h0M312.0 405.1h0M270.1 430.0h0M301.5 405.2h0M294.4 415.7h0M296.4 430.1h0M270.2 415.5h0M272.7 404.2h0M313.1 402.3h0M223.6 453.7h0M208.4 462.4h0M208.3 435.2h0M273.5 437.6h0M260.8 459.1h0M212.3 450.5h0M274.5 418.5h0M216.9 451.9h0M209.9 467.6h0M222.7 451.1h0M275.5 434.8h0M237.7 443.2h0M244.7 432.8h0M273.9 435.4h0M207.0 464.1h0M235.4 457.8h0M281.6 417.6h0M253.3 439.5h0M296.9 415.1h0M280.9 416.6h0M313.8 405.8h0M241.0 463.1h0M209.0 443.1h0M247.0 450.7h0M302.7 410.8h0M232.8 431.0h0M272.6 427.3h0M259.8 456.3h0M206.4 473.9h0M263.6 438.5h0M251.1 446.5h0M275.6 425.5h0M268.0 431.4h0M266.7 427.2h0M266.5 420.9h0M275.1 420.4h0M290.2 418.7h0M272.0 431.3h0M312.1 417.2h0M267.6 423.3h0M209.2 472.7h0M210.2 473.9h0M233.6 447.8h0" stroke="#7a7a7a" stroke-width="2.4" fill="none" stroke-linecap="round" stroke-opacity="0.32"/>
<path d="M249.9 434.3h0M220.4 454.0h0M208.0 463.1h0M215.2 449.7h0M217.8 472.2h0M230.0 456.5h0M286.6 405.6h0M248.3 439.9h0M211.7 465.6h0M297.0 403.5h0M215.4 445.2h0M218.0 454.6h0M250.5 435.3h0M272.7 422.5h0M283.9 427.9h0M208.1 463.1h0M300.6 412.2h0M234.4 447.6h0M256.3 438.0h0M238.6 442.8h0M217.6 449.3h0M296.3 414.0h0M236.5 437.8h0M267.1 426.4h0M224.2 462.2h0M221.1 469.2h0M313.7 416.1h0M245.2 423.7h0M206.7 473.9h0M311.5 401.6h0M259.1 450.4h0M250.1 433.5h0M268.2 438.2h0M215.2 455.7h0M207.4 452.7h0M291.5 428.0h0M210.7 448.0h0M288.5 430.2h0M283.0 421.3h0M223.8 450.3h0M311.1 401.4h0M296.9 400.8h0M242.2 443.5h0M210.7 461.5h0M219.1 451.7h0M268.2 436.7h0M278.3 426.2h0M289.5 418.7h0M209.4 454.1h0M217.2 450.2h0M311.4 416.1h0M220.9 444.5h0M278.6 428.9h0M288.7 406.4h0M274.2 437.5h0M278.7 436.3h0M207.2 464.4h0M210.4 453.9h0M268.0 433.8h0M292.6 430.1h0M298.5 412.3h0M233.1 449.2h0M237.4 440.6h0M292.3 410.7h0M295.2 422.4h0M280.2 421.1h0M292.2 439.4h0M299.0 423.2h0M306.5 402.7h0M273.5 428.5h0M290.3 413.4h0M260.4 441.9h0M257.0 448.2h0" stroke="#7a7a7a" stroke-width="2.4" fill="none" stroke-linecap="round" stroke-opacity="0.32"/>
<path d="M288.2 426.2h0M212.1 463.9h0M229.4 460.8h0M230.9 440.4h0M261.4 451.4h0M292.7 423.7h0M303.9 412.8h0M261.7 453.6h0M211.6 456.2h0M222.6 457.4h0M253.2 449.7h0M274.7 434.9h0M277.7 418.5h0M270.4 411.9h0M253.6 435.1h0M207.4 455.2h0M208.2 473.9h0M249.7 429.8h0M296.4 405.7h0M279.5 419.4h0M236.2 465.9h0M216.7 470.0h0M242.9 458.8h0M275.3 418.9h0M248.6 430.1h0M290.6 407.9h0M267.1 421.1h0M252.6 433.1h0M207.2 464.9h0M280.9 425.6h0M272.6 428.2h0M253.1 435.0h0M262.0 427.8h0M228.5 458.7h0M309.3 409.9h0M236.9 463.7h0M265.7 448.4h0M238.4 437.0h0M273.4 448.8h0M232.4 433.1h0M265.5 425.3h0M214.4 444.1h0M209.7 456.1h0M223.9 445.5h0M286.6 423.2h0M240.2 433.8h0M303.5 418.8h0M288.4 409.0h0M246.1 468.1h0M274.9 433.6h0M273.7 428.8h0M311.0 422.3h0M206.4 453.5h0M224.8 445.2h0M252.9 427.8h0M263.6 451.3h0M206.6 449.5h0M207.1 458.7h0M267.7 434.1h0M249.3 416.8h0M232.4 442.4h0M218.6 455.2h0M233.5 464.0h0M208.9 455.3h0M209.9 468.2h0M291.7 427.0h0M226.7 435.0h0M232.9 439.4h0M223.8 439.6h0M206.9 464.8h0M208.2 469.2h0M273.6 418.6h0M266.9 425.3h0" stroke="#7a7a7a" stroke-width="2.4" fill="none" stroke-linecap="round" stroke-opacity="0.32"/>
<path d="M210.2 473.9h0M227.1 442.9h0M213.5 459.2h0M242.5 435.6h0M308.1 416.5h0M228.9 423.5h0M281.3 427.3h0M227.8 429.2h0M273.8 430.8h0M210.7 453.6h0M313.3 417.0h0M251.8 434.1h0M280.8 412.2h0M293.5 404.4h0M231.1 438.8h0M206.4 460.5h0M229.6 445.1h0M259.7 408.2h0M237.2 431.2h0M208.9 451.2h0M292.4 420.9h0M266.8 432.6h0M279.7 414.6h0M249.7 451.2h0M209.6 440.0h0M229.5 473.9h0M216.0 448.6h0M301.1 405.4h0M270.0 441.8h0M291.1 414.0h0M283.1 437.7h0M270.6 440.2h0M241.6 429.9h0M218.6 455.7h0M207.1 442.9h0M223.5 453.1h0M236.2 435.9h0M211.7 467.7h0M254.7 451.6h0M237.8 442.1h0M275.3 425.2h0M236.4 448.7h0M228.7 450.2h0M224.4 457.8h0M210.7 462.1h0M207.2 468.3h0M224.7 462.7h0M297.3 429.0h0M291.2 409.6h0M226.6 456.0h0M309.2 403.9h0M207.7 445.2h0M227.4 451.1h0M301.3 415.3h0M256.7 420.7h0M223.6 458.6h0M269.7 415.5h0M293.8 420.4h0M250.0 433.3h0M215.4 461.9h0M286.6 424.6h0M206.8 466.9h0M233.6 448.0h0M207.1 449.1h0M219.4 457.2h0M276.4 420.3h0M249.4 441.9h0M213.2 464.3h0M298.5 418.2h0M260.2 423.9h0M210.8 448.5h0M262.8 446.6h0M288.7 426.3h0" stroke="#7a7a7a" stroke-width="2.4" fill="none" stroke-linecap="round" stroke-opacity="0.32"/>
<path d="M215.6 449.9h0M245.1 443.1h0M219.0 449.3h0M304.0 432.8h0M208.5 460.8h0M211.7 464.4h0M289.5 420.0h0M297.3 411.6h0M261.2 432.7h0M275.2 424.0h0M268.2 427.5h0M237.4 459.1h0M206.4 466.8h0M256.7 416.7h0M206.7 453.3h0M271.9 421.4h0M292.0 419.3h0M233.2 458.2h0M208.0 469.5h0M308.6 427.5h0M275.2 411.8h0M269.3 425.5h0M206.4 463.1h0M226.4 445.5h0M283.6 426.6h0M295.0 424.5h0M230.1 446.0h0M220.7 437.5h0M283.9 415.1h0M225.3 442.6h0M272.0 424.2h0M209.7 454.8h0M262.1 437.7h0M210.0 461.0h0M230.5 457.8h0M208.2 462.9h0M254.8 445.8h0M208.4 473.9h0M245.2 448.5h0M287.4 425.4h0M229.9 449.3h0M214.4 458.7h0M240.3 441.5h0M300.2 426.1h0M242.3 433.8h0M206.6 455.5h0M310.8 414.3h0M209.6 466.7h0M286.6 424.8h0M212.9 450.8h0M208.1 468.0h0M230.4 429.9h0M308.9 421.6h0M212.8 452.7h0M231.5 437.3h0M280.9 410.1h0M259.3 433.5h0M261.3 455.8h0M270.0 428.6h0M276.5 451.6h0M254.2 435.1h0M208.6 454.7h0M267.9 435.3h0M294.8 422.6h0M215.8 446.4h0M249.2 428.2h0M301.2 418.8h0M302.5 405.1h0M250.7 442.5h0M206.8 451.0h0M262.2 442.1h0M297.8 428.3h0M289.5 431.6h0" stroke="#7a7a7a" stroke-width="2.4" fill="none" stroke-linecap="round" stroke-opacity="0.32"/>
<path d="M274.4 424.5h0M213.4 472.8h0M210.6 472.8h0M297.1 417.5h0M303.1 406.0h0M221.0 447.1h0M302.4 429.2h0M305.2 428.9h0M270.5 423.0h0M269.3 437.2h0M238.9 449.9h0M248.0 439.0h0M239.4 441.8h0M302.8 407.9h0M298.1 414.9h0M219.4 448.6h0M206.5 454.7h0M210.2 473.9h0M252.1 436.7h0M283.3 430.1h0M253.3 429.4h0M269.9 429.1h0M295.9 404.3h0M206.4 454.5h0M248.4 430.8h0M238.6 450.1h0M268.5 433.9h0M277.5 401.1h0M256.5 435.6h0M206.5 465.0h0M225.9 447.8h0M224.1 466.1h0M215.1 450.1h0M247.8 448.3h0M300.3 414.1h0M235.0 442.4h0M244.1 442.3h0M248.5 436.0h0M249.8 446.1h0M290.0 421.6h0M237.0 429.5h0M212.6 466.6h0M298.6 410.2h0M218.1 452.9h0M278.0 428.3h0M265.4 412.6h0M249.4 448.2h0M310.7 417.9h0M285.9 410.7h0M224.5 450.6h0M206.4 457.7h0M260.0 439.9h0M226.0 439.2h0M285.7 421.0h0M259.6 435.7h0M208.3 444.6h0M258.6 449.6h0M292.7 425.8h0M212.2 469.4h0M284.9 433.9h0M301.3 432.0h0M308.4 409.5h0M218.5 465.4h0M241.4 438.4h0M252.8 419.4h0M211.5 464.1h0M293.1 440.0h0M257.7 442.0h0M279.7 436.5h0M240.6 460.3h0M258.3 454.9h0M289.5 428.4h0" stroke="#7a7a7a" stroke-width="2.4" fill="none" stroke-linecap="round" stroke-opacity="0.32"/>
<path d="M222.3 459.8h0M211.7 471.7h0M254.1 445.4h0M245.0 441.7h0M209.4 473.9h0M251.5 438.7h0M242.0 438.4h0M207.7 465.1h0M235.8 463.6h0M240.5 419.8h0M275.0 436.1h0M299.7 412.0h0M206.8 472.2h0M276.2 411.2h0M311.2 422.5h0M222.6 424.9h0M212.5 458.8h0M278.8 421.4h0M304.5 420.4h0M245.4 439.4h0M211.9 457.7h0M314.2 411.9h0M271.2 440.4h0M219.9 445.5h0M258.2 435.4h0M254.3 436.2h0M236.5 448.6h0M268.7 428.9h0M281.0 424.0h0M207.8 460.4h0M288.3 422.7h0M248.2 436.0h0M210.0 473.9h0M271.2 425.5h0M216.2 449.8h0M240.7 431.7h0M300.2 405.4h0M296.3 417.2h0M250.5 444.6h0M263.0 421.3h0M276.7 422.2h0M227.3 450.6h0M238.4 444.7h0M208.2 471.8h0M297.7 440.2h0M258.9 434.3h0M306.9 426.3h0M283.0 416.6h0M302.9 429.3h0M221.5 457.5h0M290.4 401.3h0M267.5 441.1h0M288.0 412.7h0M242.6 447.3h0M309.5 409.5h0M308.5 440.1h0M250.1 448.3h0M308.9 401.7h0M229.1 442.1h0M291.2 407.5h0M314.2 423.2h0M284.8 411.8h0M280.9 417.4h0M211.5 461.9h0M312.3 410.5h0M300.0 419.7h0M206.9 452.6h0M252.1 433.3h0M247.3 430.3h0M288.4 419.7h0M259.9 433.6h0M207.5 465.5h0" stroke="#7a7a7a" stroke-width="2.4" fill="none" stroke-linecap="round" stroke-opacity="0.32"/>
<path d="M232.8 431.5h0M215.6 443.0h0M292.1 403.7h0M246.1 436.8h0M208.2 449.0h0M255.8 431.3h0M210.0 471.9h0M264.5 432.4h0M267.4 454.1h0M270.8 441.3h0M230.3 434.4h0M302.3 414.7h0M207.0 463.8h0M206.4 468.1h0M251.7 447.1h0M298.8 429.7h0M207.2 447.6h0M284.4 408.5h0M267.1 442.4h0M227.1 456.6h0M220.5 458.9h0M293.0 424.9h0M206.5 453.5h0M249.5 448.1h0M242.6 427.3h0M314.2 401.8h0M272.3 420.8h0M293.0 411.8h0M207.2 461.2h0M253.4 438.2h0M207.0 472.4h0M268.6 414.7h0M262.9 448.7h0M238.4 433.1h0M245.0 432.5h0M211.2 454.8h0M262.1 437.2h0M312.6 402.3h0M289.8 429.6h0M257.5 426.5h0M254.3 432.1h0M255.2 433.3h0M304.3 423.0h0M245.2 438.1h0M294.8 422.3h0M211.7 463.6h0M248.3 430.8h0M299.6 424.4h0M210.2 472.0h0M273.6 425.7h0M207.7 470.9h0M310.8 432.6h0M266.0 434.1h0M207.8 467.9h0M238.5 420.4h0M259.0 443.4h0M297.9 423.0h0M247.9 411.9h0M212.8 458.4h0M241.8 444.1h0M280.1 414.4h0M240.9 439.2h0M298.1 415.7h0M262.5 436.5h0M247.5 432.1h0M243.0 434.8h0M248.8 440.0h0M208.3 473.9h0M206.8 444.5h0M224.9 437.2h0M216.0 458.5h0M231.4 425.5h0" stroke="#7a7a7a" stroke-width="2.4" fill="none" stroke-linecap="round" stroke-opacity="0.32"/>
<path d="M243.9 440.6h0M241.9 430.4h0M300.2 418.3h0M245.5 425.3h0M216.7 473.9h0M247.1 441.0h0M261.3 434.9h0M226.8 457.6h0M244.7 444.2h0M307.7 410.8h0M288.8 416.0h0M300.7 410.7h0M261.4 425.7h0M209.0 446.5h0M247.4 436.6h0M268.5 432.5h0M298.7 430.1h0M209.3 455.3h0M264.1 430.2h0M224.0 445.5h0M264.4 431.8h0M246.8 436.7h0M293.5 423.7h0M236.8 473.9h0M312.9 403.2h0M226.4 473.9h0M206.5 466.4h0M292.6 423.4h0M283.4 420.0h0M244.9 421.0h0M246.9 437.3h0M275.8 473.8h0M281.7 427.4h0M275.6 437.0h0M297.6 413.4h0M251.1 428.8h0M229.9 452.4h0M305.8 432.6h0M209.1 444.3h0M230.3 473.9h0M206.5 451.2h0M274.0 428.1h0M263.2 429.3h0M246.8 444.7h0M226.7 448.1h0M207.4 455.4h0M240.6 454.7h0M312.2 411.1h0M311.2 428.4h0M265.3 432.6h0M249.7 456.8h0M240.6 429.5h0M251.9 427.8h0M261.3 420.6h0M272.0 438.5h0M293.5 420.0h0M274.6 413.5h0M236.3 445.4h0M207.0 464.1h0M235.0 436.5h0M229.5 473.9h0M286.1 416.8h0M206.4 454.4h0M279.1 418.0h0M224.1 462.0h0M206.6 460.0h0M261.7 425.6h0M278.5 408.8h0M306.4 412.0h0M213.7 461.4h0M268.9 427.4h0M206.6 473.9h0" stroke="#7a7a7a" stroke-width="2.4" fill="none" stroke-linecap="round" stroke-opacity="0.32"/>
<path d="M239.7 436.9h0M208.6 463.4h0M209.2 461.9h0M276.2 425.2h0M301.7 414.2h0M207.3 455.7h0M211.9 429.3h0M216.5 456.8h0M292.9 409.7h0M290.1 421.0h0M284.1 415.5h0M276.5 422.2h0M253.1 442.1h0M247.4 448.0h0M272.6 413.1h0M266.9 430.4h0M312.3 401.2h0M215.7 452.0h0M239.4 466.9h0M208.8 469.4h0M227.6 459.9h0M289.4 421.1h0M222.5 444.6h0M243.3 431.5h0M237.6 428.5h0M267.5 436.2h0M212.7 456.7h0M259.5 434.5h0M297.0 417.4h0M292.4 411.6h0M262.7 433.8h0M207.0 459.0h0M207.5 451.7h0M244.8 425.9h0M298.8 415.6h0M239.7 428.8h0M294.0 431.8h0M225.4 465.3h0M207.6 465.6h0M294.4 441.3h0M210.9 467.9h0M246.2 442.2h0M273.8 431.7h0M222.8 444.9h0M225.7 452.3h0M313.7 401.0h0M310.6 403.0h0M313.1 403.8h0M206.9 449.6h0M312.8 400.8h0M207.3 454.6h0M248.1 446.7h0M305.7 401.8h0M257.5 435.0h0M206.4 451.8h0M280.4 418.0h0M272.5 422.1h0M217.1 447.2h0M299.1 409.6h0M228.8 449.2h0M263.2 436.9h0M210.8 467.8h0M275.0 426.1h0M206.7 473.0h0M207.2 459.4h0M207.2 473.9h0M251.9 441.6h0M298.6 404.9h0M264.2 436.9h0M253.9 420.1h0M206.4 453.1h0M260.0 423.9h0" stroke="#7a7a7a" stroke-width="2.4" fill="none" stroke-linecap="round" stroke-opacity="0.32"/>
<path d="M206.2 461.2L211.9 460.8L217.2 455.9L221.7 453.3L228.7 448.9L235.7 444.9L242.8 441.0L249.4 436.6L253.3 435.2L260.3 433.5L264.8 430.8L271.9 427.3L280.7 422.9L286.9 419.8L292.3 416.9L298.4 417.6L303.6 418.5L308.9 415.8L314.4 410.1" stroke="#3a3a3a" stroke-width="0.6" fill="none" stroke-linejoin="round"/>
<text x="259.30" y="383.24" text-anchor="middle">UdgX–Anc689–UdgX–nCas9-NG–RBMX</text>
<text x="312.50" y="463.90" text-anchor="end"><tspan font-style="italic">R</tspan> = 0.77</text>
<text x="312.50" y="471.70" text-anchor="end"><tspan font-style="italic">n</tspan> = 1,017</text>
<text transform="translate(31.50,428.00) rotate(-90)" y="2.24" text-anchor="middle">Predicted frequency</text>
<text transform="translate(39.40,428.00) rotate(-90)" y="2.24" text-anchor="middle">of repair to wild-type genotype</text>
<text transform="translate(47.30,428.00) rotate(-90)" y="2.24" text-anchor="middle">among all edited products (%)</text>
<text x="125.00" y="495.34" text-anchor="middle">Observed frequency of repair to wild-type</text>
<text x="125.00" y="502.74" text-anchor="middle">genotype among all edited products (%)</text>
<text x="260.00" y="495.34" text-anchor="middle">Observed frequency of repair to wild-type</text>
<text x="260.00" y="502.74" text-anchor="middle">genotype among all edited products (%)</text>
<text x="184.00" y="522.14" text-anchor="middle">Frequency of corrected amino acid sequence</text>
<text x="184.50" y="530.14" text-anchor="middle">among edited amino acid sequences</text>
<line x1="70.60" y1="544.60" x2="70.60" y2="629.70" stroke="#ebebeb" stroke-width="0.5"/>
<line x1="92.06" y1="544.60" x2="92.06" y2="629.70" stroke="#ebebeb" stroke-width="0.5"/>
<line x1="113.52" y1="544.60" x2="113.52" y2="629.70" stroke="#ebebeb" stroke-width="0.5"/>
<line x1="134.98" y1="544.60" x2="134.98" y2="629.70" stroke="#ebebeb" stroke-width="0.5"/>
<line x1="156.44" y1="544.60" x2="156.44" y2="629.70" stroke="#ebebeb" stroke-width="0.5"/>
<line x1="177.90" y1="544.60" x2="177.90" y2="629.70" stroke="#ebebeb" stroke-width="0.5"/>
<line x1="70.60" y1="629.70" x2="177.90" y2="629.70" stroke="#ebebeb" stroke-width="0.5"/>
<line x1="70.60" y1="612.68" x2="177.90" y2="612.68" stroke="#ebebeb" stroke-width="0.5"/>
<line x1="70.60" y1="595.66" x2="177.90" y2="595.66" stroke="#ebebeb" stroke-width="0.5"/>
<line x1="70.60" y1="578.64" x2="177.90" y2="578.64" stroke="#ebebeb" stroke-width="0.5"/>
<line x1="70.60" y1="561.62" x2="177.90" y2="561.62" stroke="#ebebeb" stroke-width="0.5"/>
<line x1="70.60" y1="544.60" x2="177.90" y2="544.60" stroke="#ebebeb" stroke-width="0.5"/>
<line x1="70.60" y1="629.70" x2="177.90" y2="629.70" stroke="#4d4d4d" stroke-width="0.6"/>
<line x1="70.60" y1="544.60" x2="70.60" y2="629.70" stroke="#4d4d4d" stroke-width="0.6"/>
<line x1="70.60" y1="629.70" x2="70.60" y2="632.20" stroke="#4d4d4d" stroke-width="0.6"/>
<text x="70.60" y="640.54" text-anchor="middle">0</text>
<line x1="92.06" y1="629.70" x2="92.06" y2="632.20" stroke="#4d4d4d" stroke-width="0.6"/>
<text x="92.06" y="640.54" text-anchor="middle">20</text>
<line x1="113.52" y1="629.70" x2="113.52" y2="632.20" stroke="#4d4d4d" stroke-width="0.6"/>
<text x="113.52" y="640.54" text-anchor="middle">40</text>
<line x1="134.98" y1="629.70" x2="134.98" y2="632.20" stroke="#4d4d4d" stroke-width="0.6"/>
<text x="134.98" y="640.54" text-anchor="middle">60</text>
<line x1="156.44" y1="629.70" x2="156.44" y2="632.20" stroke="#4d4d4d" stroke-width="0.6"/>
<text x="156.44" y="640.54" text-anchor="middle">80</text>
<line x1="177.90" y1="629.70" x2="177.90" y2="632.20" stroke="#4d4d4d" stroke-width="0.6"/>
<text x="177.90" y="640.54" text-anchor="middle">100</text>
<line x1="68.10" y1="629.70" x2="70.60" y2="629.70" stroke="#4d4d4d" stroke-width="0.6"/>
<text x="66.10" y="631.94" text-anchor="end">0</text>
<line x1="68.10" y1="612.68" x2="70.60" y2="612.68" stroke="#4d4d4d" stroke-width="0.6"/>
<text x="66.10" y="614.92" text-anchor="end">20</text>
<line x1="68.10" y1="595.66" x2="70.60" y2="595.66" stroke="#4d4d4d" stroke-width="0.6"/>
<text x="66.10" y="597.90" text-anchor="end">40</text>
<line x1="68.10" y1="578.64" x2="70.60" y2="578.64" stroke="#4d4d4d" stroke-width="0.6"/>
<text x="66.10" y="580.88" text-anchor="end">60</text>
<line x1="68.10" y1="561.62" x2="70.60" y2="561.62" stroke="#4d4d4d" stroke-width="0.6"/>
<text x="66.10" y="563.86" text-anchor="end">80</text>
<line x1="68.10" y1="544.60" x2="70.60" y2="544.60" stroke="#4d4d4d" stroke-width="0.6"/>
<text x="66.10" y="546.84" text-anchor="end">100</text>
<path d="M70.6 611.4L72.0 610.6L73.3 609.7L74.7 608.9L76.0 607.7L77.4 606.4L78.7 605.1L80.1 603.7L81.5 602.6L82.8 602.2L84.2 601.7L85.5 601.2L86.9 600.8L88.3 600.3L89.6 599.9L91.0 599.5L92.3 599.2L93.7 598.8L95.0 598.2L96.4 597.6L97.8 597.0L99.1 596.3L100.5 595.7L101.8 594.9L103.2 594.0L104.6 593.0L105.9 592.0L107.3 591.1L108.6 590.1L110.0 589.2L111.3 588.3L112.7 587.4L114.1 586.5L115.4 585.7L116.8 584.6L118.1 583.5L119.5 582.4L120.9 581.4L122.2 580.3L123.6 579.9L124.9 579.7L126.3 579.6L127.6 579.5L129.0 579.4L130.4 578.7L131.7 577.7L133.1 576.7L134.4 575.7L135.8 574.7L137.2 573.6L138.5 572.6L139.9 571.6L141.2 570.6L142.6 569.6L143.9 568.5L145.3 567.5L146.7 566.5L148.0 565.4L149.4 564.2L150.7 563.1L152.1 562.0L153.5 560.9L154.8 559.7L156.2 558.6L157.5 557.3L158.9 555.9L160.2 554.5L161.6 553.2L163.0 551.8L164.3 550.4L165.7 548.9L167.0 547.4L168.4 546.1L169.8 544.9L171.1 544.6L172.5 544.6L173.8 544.6L175.2 544.6L176.5 544.6L177.9 544.6L177.9 564.2L176.5 565.1L175.2 566.0L173.8 567.2L172.5 568.9L171.1 570.7L169.8 572.6L168.4 574.4L167.0 576.3L165.7 577.9L164.3 579.4L163.0 580.7L161.6 582.1L160.2 583.5L158.9 584.8L157.5 586.2L156.2 587.5L154.8 588.7L153.5 589.8L152.1 590.9L150.7 592.0L149.4 593.2L148.0 594.3L146.7 595.4L145.3 596.4L143.9 597.5L142.6 598.5L141.2 599.5L139.9 600.5L138.5 601.6L137.2 602.6L135.8 603.6L134.4 604.6L133.1 605.6L131.7 606.6L130.4 607.6L129.0 608.3L127.6 608.4L126.3 608.5L124.9 608.6L123.6 608.7L122.2 608.9L120.9 609.8L119.5 610.6L118.1 611.5L116.8 612.3L115.4 613.2L114.1 613.9L112.7 614.5L111.3 615.2L110.0 615.9L108.6 616.6L107.3 617.3L105.9 618.1L104.6 618.8L103.2 619.6L101.8 620.4L100.5 621.0L99.1 621.6L97.8 622.1L96.4 622.6L95.0 623.2L93.7 623.6L92.3 623.9L91.0 624.1L89.6 624.4L88.3 624.7L86.9 625.0L85.5 625.4L84.2 625.7L82.8 626.1L81.5 626.5L80.1 627.2L78.7 628.1L77.4 629.0L76.0 629.7L74.7 629.7L73.3 629.7L72.0 629.7L70.6 629.7Z" stroke="none" stroke-width="0" fill="#d9d9d9"/>
<rect x="70.90" y="604.17" width="1.3" height="25.53" fill="#d6d6d6"/>
<path d="M102.9 627.4h0M104.0 612.7h0M138.6 582.3h0M139.2 553.1h0M137.2 629.5h0M118.0 595.3h0M167.8 547.5h0M70.8 618.7h0M97.9 602.3h0M139.9 584.4h0M81.4 619.7h0M177.3 567.0h0M116.9 623.2h0M145.6 584.4h0M132.9 579.9h0M168.2 546.6h0M128.4 582.8h0M140.4 585.1h0M84.3 614.2h0M70.8 627.9h0M100.9 607.9h0M98.9 604.9h0M117.4 607.8h0M125.9 596.8h0M133.2 589.6h0M158.3 569.1h0M139.0 614.9h0M173.3 547.1h0M175.6 545.1h0M96.1 621.9h0M83.2 619.7h0M174.9 544.9h0M146.4 614.1h0M169.5 551.8h0M174.6 545.4h0M72.3 614.6h0M91.8 611.5h0M167.2 566.6h0M107.8 615.3h0M72.1 607.2h0M71.4 590.1h0M142.0 581.1h0M130.1 580.1h0M143.2 578.2h0M95.9 593.8h0M135.4 589.5h0M99.0 629.5h0M122.8 588.7h0M82.8 602.3h0M113.7 613.2h0M130.9 586.4h0M86.6 613.8h0M176.8 545.4h0M71.1 613.0h0M161.5 565.0h0M72.2 629.5h0M133.2 599.7h0M109.1 597.6h0M105.4 595.9h0M93.1 624.6h0M139.4 595.8h0M171.8 547.2h0M71.0 629.5h0M75.4 617.0h0M126.3 588.0h0M111.5 593.7h0" stroke="#7a7a7a" stroke-width="2.4" fill="none" stroke-linecap="round" stroke-opacity="0.28"/>
<path d="M166.6 554.6h0M105.8 611.5h0M139.2 581.8h0M125.8 612.6h0M156.0 556.2h0M136.3 599.8h0M173.5 562.9h0M175.2 555.0h0M107.4 591.7h0M161.8 545.3h0M73.1 625.3h0M99.1 610.8h0M76.8 617.4h0M73.3 625.9h0M176.2 545.0h0M166.7 565.2h0M82.4 628.5h0M156.4 563.9h0M102.1 614.3h0M171.6 567.8h0M79.8 614.4h0M71.8 625.3h0M175.0 547.9h0M104.8 604.2h0M70.9 621.6h0M117.3 579.0h0M140.4 580.2h0M91.3 629.5h0M99.8 609.6h0M71.4 622.9h0M173.8 548.2h0M166.9 570.1h0M144.6 590.2h0M151.5 570.7h0M171.2 545.5h0M148.9 568.5h0M131.0 603.1h0M177.5 545.6h0M76.7 614.1h0M131.5 593.3h0M109.4 603.7h0M129.7 596.3h0M148.9 576.8h0M135.0 583.3h0M176.4 545.7h0M71.1 629.5h0M172.7 545.2h0M130.5 601.8h0M71.5 624.3h0M131.2 587.4h0M107.9 597.7h0M111.3 604.8h0M114.1 594.2h0M125.1 583.1h0M152.1 582.9h0M110.0 604.6h0M77.5 613.1h0M107.9 596.9h0M158.1 575.7h0M101.2 561.6h0M170.0 548.7h0M174.3 545.8h0M174.7 550.0h0M175.2 545.3h0M118.0 590.8h0M100.0 608.9h0" stroke="#7a7a7a" stroke-width="2.4" fill="none" stroke-linecap="round" stroke-opacity="0.28"/>
<path d="M126.1 582.7h0M71.4 607.7h0M171.1 567.7h0M136.9 604.2h0M174.2 554.2h0M146.6 583.6h0M145.8 593.1h0M145.0 567.8h0M177.7 551.0h0M115.6 601.6h0M71.2 626.9h0M103.5 604.9h0M127.5 602.7h0M118.5 600.7h0M131.7 588.6h0M176.9 547.7h0M157.0 585.6h0M98.2 609.6h0M105.5 610.2h0M75.9 625.6h0M70.9 623.9h0M71.7 614.8h0M165.5 558.4h0M72.1 629.5h0M76.9 614.1h0M74.3 608.5h0M79.4 618.0h0M165.3 563.3h0M105.0 602.0h0M85.8 629.5h0M75.5 628.1h0M102.9 602.0h0M85.9 613.1h0M133.4 584.0h0M172.8 549.9h0M127.7 597.7h0M87.7 606.0h0M114.7 589.2h0M164.0 562.3h0M140.6 545.6h0M111.1 604.2h0M164.1 579.2h0M157.7 564.7h0M124.0 595.7h0M70.8 629.4h0M99.6 608.4h0M176.7 564.2h0M76.9 629.5h0M146.9 576.2h0M154.9 572.5h0M161.1 569.9h0M148.4 586.4h0M132.5 577.9h0M88.9 603.7h0M83.9 590.6h0M141.9 605.2h0M146.2 584.9h0M73.1 615.8h0M81.8 616.1h0M173.6 559.0h0M117.7 611.8h0M80.0 625.2h0M92.3 610.7h0M112.9 605.9h0M105.8 611.3h0" stroke="#7a7a7a" stroke-width="2.4" fill="none" stroke-linecap="round" stroke-opacity="0.28"/>
<path d="M82.5 615.0h0M73.0 612.9h0M114.9 604.4h0M112.5 601.9h0M105.4 604.1h0M84.9 601.4h0M162.5 563.5h0M72.3 615.4h0M92.0 613.7h0M136.7 581.0h0M170.0 556.4h0M70.8 617.3h0M105.4 612.8h0M71.5 624.2h0M153.6 549.7h0M84.0 620.8h0M176.2 549.4h0M101.2 603.4h0M161.6 589.6h0M106.9 587.3h0M116.9 598.4h0M137.8 587.5h0M105.9 618.0h0M170.6 552.4h0M74.1 629.5h0M167.8 560.4h0M122.5 587.7h0M79.1 622.8h0M147.4 576.0h0M81.5 620.5h0M102.7 605.1h0M145.1 590.6h0M119.0 590.5h0M101.7 619.1h0M71.8 616.6h0M72.3 627.6h0M70.8 614.8h0M168.5 558.8h0M148.5 581.0h0M71.0 619.8h0M90.3 602.1h0M93.4 627.2h0M123.0 596.9h0M100.1 614.4h0M177.2 545.8h0M82.5 615.4h0M108.1 607.9h0M119.3 616.6h0M71.3 622.0h0M175.2 545.1h0M151.9 575.2h0M163.6 587.3h0M96.0 601.6h0M168.8 605.2h0M73.4 625.4h0M119.9 562.7h0M164.1 565.0h0M169.5 562.9h0M71.8 629.0h0M72.7 623.2h0M77.0 607.5h0M120.8 591.3h0M177.1 561.5h0M112.6 604.1h0M158.9 570.8h0" stroke="#7a7a7a" stroke-width="2.4" fill="none" stroke-linecap="round" stroke-opacity="0.28"/>
<path d="M86.0 607.7h0M114.0 598.0h0M71.2 603.8h0M175.8 544.8h0M70.9 623.9h0M71.8 624.1h0M111.8 619.5h0M128.5 584.8h0M121.8 604.8h0M173.0 562.7h0M164.8 548.3h0M138.5 577.9h0M84.5 608.6h0M127.4 604.7h0M123.7 589.4h0M146.9 586.5h0M129.8 591.0h0M71.9 572.4h0M155.5 565.1h0M73.7 623.0h0M111.6 610.2h0M115.8 588.3h0M71.0 623.8h0M160.3 551.6h0M72.0 621.4h0M92.8 608.8h0M83.7 589.9h0M164.7 555.0h0M168.7 556.7h0M126.4 597.9h0M80.7 594.9h0M77.1 615.2h0M78.7 618.4h0M113.2 601.9h0M95.3 605.9h0M123.7 606.0h0M72.3 618.1h0M171.5 544.9h0M107.4 602.9h0M117.6 609.7h0M168.1 557.9h0M72.4 622.8h0M149.2 577.4h0M103.0 610.4h0M123.9 576.3h0M175.1 548.3h0M120.4 610.0h0M127.7 595.1h0M84.0 611.3h0M121.2 592.2h0M118.9 596.3h0M102.1 606.5h0M121.7 586.6h0M169.7 548.7h0M109.1 604.8h0M175.5 549.6h0M169.1 576.1h0M139.3 585.6h0M110.0 609.9h0M144.0 563.8h0M70.8 629.5h0M146.4 582.9h0M177.7 545.7h0M72.6 606.5h0M72.6 622.8h0" stroke="#7a7a7a" stroke-width="2.4" fill="none" stroke-linecap="round" stroke-opacity="0.28"/>
<path d="M166.1 557.9h0M74.7 624.8h0M177.1 548.2h0M106.0 608.4h0M109.1 602.2h0M171.5 555.2h0M176.2 549.8h0M135.9 588.9h0M76.3 604.8h0M149.9 570.0h0M141.8 626.4h0M138.7 570.3h0M177.7 544.8h0M133.3 598.0h0M70.8 605.8h0M86.4 615.4h0M110.5 595.6h0M115.8 597.3h0M101.4 617.8h0M169.5 574.3h0M134.8 588.4h0M158.7 576.4h0M81.5 600.7h0M77.2 599.8h0M156.6 577.5h0M149.3 577.1h0M101.5 612.8h0M142.5 585.5h0M70.8 620.9h0M177.7 545.9h0M70.9 619.8h0M91.4 626.4h0M89.3 605.4h0M79.4 616.8h0M87.1 612.9h0M152.1 566.7h0M123.6 591.7h0M112.5 605.4h0M77.3 618.8h0M71.7 619.7h0M169.1 629.5h0M143.8 606.0h0M72.0 629.5h0M177.2 553.2h0M74.5 623.1h0M87.2 616.9h0M84.3 601.2h0M146.0 593.1h0M95.6 603.6h0M167.9 553.5h0M126.7 584.8h0M166.4 548.6h0M100.6 594.1h0M71.8 625.1h0M104.0 608.7h0M158.1 575.6h0M154.2 570.6h0M155.6 549.2h0M177.7 548.9h0M177.2 546.1h0M166.9 569.2h0M71.8 623.5h0M134.7 588.0h0M105.9 605.9h0M99.6 576.1h0" stroke="#7a7a7a" stroke-width="2.4" fill="none" stroke-linecap="round" stroke-opacity="0.28"/>
<path d="M130.8 553.7h0M144.9 579.2h0M98.6 600.5h0M167.5 560.5h0M75.3 618.3h0M85.6 603.3h0M129.4 595.2h0M177.7 547.0h0M109.5 599.8h0M97.6 619.1h0M93.2 616.7h0M78.8 612.8h0M135.2 581.6h0M71.0 628.4h0M115.7 585.5h0M151.9 584.5h0M176.3 547.4h0M146.3 581.0h0M71.8 601.6h0M82.9 617.2h0M78.6 620.1h0M161.9 569.5h0M161.0 569.5h0M117.7 597.8h0M77.7 613.1h0M162.0 560.7h0M171.9 550.7h0M145.7 583.9h0M85.4 607.5h0M115.2 609.0h0M126.2 587.5h0M73.9 629.5h0M70.8 578.6h0M176.5 546.4h0M129.5 591.9h0M152.9 567.9h0M167.7 558.9h0M171.4 546.4h0M169.5 557.4h0M103.2 603.2h0M159.0 569.1h0M103.0 604.4h0M122.0 574.5h0M74.1 625.0h0M167.0 562.0h0M76.9 620.7h0M119.4 605.5h0M71.4 622.4h0M76.1 600.7h0M131.6 594.4h0M175.8 558.1h0M121.8 554.7h0M92.6 601.2h0M72.7 625.4h0M72.6 605.4h0M135.1 574.4h0M136.7 586.6h0M71.4 612.8h0M80.6 629.5h0M177.1 575.8h0M145.2 583.6h0M72.7 626.4h0M97.2 615.1h0M126.9 588.0h0M157.2 576.2h0" stroke="#7a7a7a" stroke-width="2.4" fill="none" stroke-linecap="round" stroke-opacity="0.28"/>
<path d="M159.8 602.1h0M177.4 546.3h0M166.7 561.5h0M79.0 610.0h0M76.9 629.5h0M175.5 547.3h0M109.7 583.7h0M156.2 572.3h0M106.1 567.9h0M122.6 590.8h0M83.8 620.3h0M175.5 552.1h0M74.1 621.0h0M143.0 589.9h0M80.4 625.3h0M111.0 597.1h0M176.1 561.4h0M76.1 624.7h0M160.1 563.1h0M168.3 551.8h0M147.1 589.5h0M137.0 584.7h0M71.5 629.3h0M103.3 596.2h0M72.7 596.9h0M177.6 554.4h0M85.5 598.8h0M96.2 624.6h0M72.6 614.5h0M112.9 602.3h0M85.9 609.6h0M143.4 580.3h0M134.4 598.4h0M110.4 583.1h0M70.8 626.1h0M70.8 625.1h0M71.3 619.7h0M80.8 629.2h0M159.8 562.3h0M176.9 553.0h0M175.0 547.7h0M75.5 622.2h0M173.5 551.6h0M111.3 613.6h0M176.2 545.3h0M129.1 545.0h0M175.6 548.5h0M71.8 614.2h0M72.0 629.5h0M103.7 627.5h0M79.1 618.2h0M82.9 605.2h0M124.9 601.1h0M143.7 567.2h0M110.9 590.8h0M79.9 609.5h0M165.8 560.9h0M71.8 619.9h0M123.1 579.8h0M159.3 553.6h0M117.6 596.8h0M132.1 603.6h0M176.5 546.2h0M115.0 600.8h0M156.5 571.7h0" stroke="#7a7a7a" stroke-width="2.4" fill="none" stroke-linecap="round" stroke-opacity="0.28"/>
<path d="M170.4 558.1h0M176.5 553.5h0M118.0 601.0h0M84.1 610.3h0M176.0 548.4h0M140.2 576.6h0M73.4 615.0h0M120.5 596.8h0M171.2 551.3h0M133.4 599.9h0M99.8 623.7h0M90.4 617.1h0M167.9 558.1h0M160.1 565.9h0M175.1 552.8h0M151.4 549.9h0M125.4 614.6h0M73.0 608.4h0M117.0 598.9h0M176.3 544.8h0M92.8 610.8h0M158.8 570.9h0M72.8 629.5h0M134.5 583.6h0M156.8 575.8h0M128.0 583.5h0M72.8 627.2h0M124.4 601.8h0M139.7 581.5h0M144.6 549.7h0M146.8 587.2h0M163.9 561.8h0M88.5 605.2h0M155.9 585.8h0M131.4 588.2h0M151.2 571.0h0M97.4 617.9h0M120.9 594.9h0M138.7 585.9h0M73.2 622.1h0M105.6 602.5h0M94.6 625.6h0M171.7 557.7h0M150.2 572.5h0M72.6 612.2h0M75.4 617.9h0M70.8 620.6h0M177.5 546.4h0M108.6 629.5h0M117.8 605.2h0M79.4 608.5h0M129.8 594.7h0M151.7 583.7h0M123.9 596.8h0M147.5 595.8h0M83.1 591.1h0M98.0 614.0h0M96.3 621.0h0M121.9 586.4h0M168.1 545.7h0M152.4 599.7h0M115.6 591.9h0M177.5 550.1h0M73.3 629.5h0M127.7 598.4h0" stroke="#7a7a7a" stroke-width="2.4" fill="none" stroke-linecap="round" stroke-opacity="0.28"/>
<path d="M110.6 585.6h0M163.8 547.4h0M73.2 607.4h0M74.8 620.9h0M172.7 572.5h0M171.3 553.4h0M177.0 545.7h0M170.6 545.9h0M76.5 609.7h0M151.8 561.7h0M102.9 604.3h0M116.3 591.6h0M161.6 564.9h0M103.1 629.5h0M173.1 557.8h0M119.5 593.9h0M160.1 571.1h0M72.7 620.8h0M172.1 557.8h0M163.1 571.1h0M158.2 567.9h0M125.2 569.7h0M86.0 621.0h0M167.4 573.6h0M140.6 595.2h0M136.7 587.7h0M78.6 616.8h0M142.7 620.5h0M129.4 586.0h0M97.9 604.2h0M143.4 578.8h0M172.8 555.5h0M130.4 592.2h0M165.1 577.6h0M71.8 609.7h0M72.8 624.3h0M94.4 599.3h0M74.6 609.7h0M85.0 612.9h0M72.6 629.5h0M77.0 613.1h0M130.6 591.5h0M89.1 625.5h0M122.8 580.4h0M167.0 562.4h0M131.8 579.4h0M132.7 572.1h0M146.8 593.6h0M169.4 557.6h0M160.1 549.9h0M145.1 576.9h0M84.7 592.8h0M90.1 618.1h0M110.4 605.2h0M72.5 607.1h0M165.1 564.8h0M130.0 583.0h0M71.0 620.8h0M94.7 610.5h0M86.5 625.1h0M112.0 597.8h0M159.1 567.2h0M124.7 590.1h0M111.1 606.7h0M119.3 596.9h0" stroke="#7a7a7a" stroke-width="2.4" fill="none" stroke-linecap="round" stroke-opacity="0.28"/>
<path d="M170.7 548.9h0M140.5 625.9h0M74.7 623.2h0M143.4 591.9h0M128.7 593.3h0M74.8 619.7h0M166.8 554.1h0M95.2 610.8h0M177.0 569.0h0M142.8 589.0h0M108.3 610.5h0M172.5 553.2h0M71.5 617.9h0M109.1 586.4h0M73.3 629.5h0M74.1 616.9h0M70.8 617.3h0M125.4 593.0h0M128.6 585.1h0M141.9 571.3h0M104.4 610.8h0M85.1 613.1h0M75.7 617.9h0M177.5 551.6h0M174.4 550.1h0M173.5 545.1h0M104.4 629.5h0M95.3 610.2h0M100.6 601.2h0M170.6 547.6h0M75.3 629.5h0M132.3 568.4h0M172.5 545.4h0M170.9 549.7h0M72.1 628.3h0M108.3 603.4h0M176.6 555.9h0M120.6 604.6h0M95.5 602.8h0M122.0 579.5h0M70.9 627.3h0M72.4 610.4h0M151.8 564.5h0M108.7 600.9h0M108.2 622.9h0M117.1 596.8h0M75.6 624.4h0M143.1 562.6h0M161.3 573.5h0M172.6 545.9h0M153.6 591.1h0M132.4 598.7h0M167.9 557.9h0M174.1 555.8h0M123.6 590.3h0M112.3 594.6h0M70.8 623.5h0M162.2 563.4h0M167.3 548.7h0M114.0 601.6h0M79.9 610.6h0M75.4 629.5h0M168.6 545.0h0M161.1 581.1h0M143.4 582.1h0" stroke="#7a7a7a" stroke-width="2.4" fill="none" stroke-linecap="round" stroke-opacity="0.28"/>
<path d="M167.8 560.2h0M155.5 577.5h0M175.3 548.1h0M118.0 596.4h0M91.5 615.8h0M162.5 549.2h0M72.3 625.8h0M71.2 629.5h0M78.2 621.7h0M123.4 597.4h0M84.5 619.0h0M130.5 602.6h0M134.6 586.9h0M159.6 561.3h0M111.0 595.2h0M166.2 558.0h0M76.5 614.4h0M120.7 577.2h0M109.1 601.4h0M72.1 615.5h0M106.4 602.6h0M175.8 559.5h0M163.3 569.3h0M123.1 593.3h0M175.8 549.3h0M128.0 602.5h0M119.8 602.9h0M100.0 604.2h0M98.7 612.1h0M162.2 561.0h0M177.6 545.2h0M130.4 594.2h0M70.8 608.6h0M93.6 605.6h0M161.9 617.0h0M72.6 621.7h0M129.3 592.0h0M122.7 595.0h0M98.9 608.1h0M84.2 612.6h0M127.4 595.3h0M148.7 578.5h0M124.2 545.8h0M176.8 550.2h0M164.8 553.3h0M82.6 628.3h0M167.5 575.2h0M73.6 587.8h0M176.6 546.5h0M84.7 619.3h0M177.7 547.6h0M118.4 611.8h0M85.2 613.5h0M151.9 567.1h0M167.0 574.8h0M95.0 608.0h0M163.7 552.9h0M111.2 568.3h0M94.1 625.8h0M91.6 610.4h0M171.9 545.7h0M104.3 596.4h0M152.7 582.5h0M170.5 551.5h0M122.9 591.9h0" stroke="#7a7a7a" stroke-width="2.4" fill="none" stroke-linecap="round" stroke-opacity="0.28"/>
<path d="M117.1 612.6h0M120.7 589.5h0M103.0 605.0h0M159.1 566.2h0M168.2 551.8h0M152.1 583.2h0M151.3 572.9h0M131.0 596.3h0M125.5 609.8h0M86.7 616.6h0M104.1 600.2h0M117.4 612.8h0M154.8 568.0h0M115.9 598.9h0M159.0 581.0h0M111.3 613.7h0M71.5 611.0h0M145.4 596.8h0M167.3 557.7h0M71.2 624.1h0M160.3 560.2h0M162.3 563.5h0M75.8 612.6h0M176.8 568.9h0M161.9 559.6h0M119.3 593.9h0M133.3 603.9h0M73.8 625.2h0M149.4 584.0h0M81.3 600.8h0M70.9 617.9h0M112.3 610.0h0M174.3 546.9h0M72.3 612.4h0M165.2 573.4h0M176.0 545.8h0M88.3 612.4h0M79.2 620.6h0M74.8 629.5h0M94.4 611.2h0M152.6 584.7h0M149.1 588.7h0M71.0 629.5h0M74.2 629.1h0M158.9 562.2h0M126.4 595.5h0M131.1 595.2h0M156.0 569.1h0M85.6 605.4h0M157.6 570.8h0M75.3 617.7h0M71.1 614.7h0M113.9 592.9h0M170.6 548.4h0M102.7 594.9h0M71.3 629.5h0M116.2 595.6h0M157.9 584.3h0M70.9 614.2h0M164.5 568.7h0M152.4 575.6h0M169.8 568.6h0M118.9 595.0h0M72.0 614.5h0M78.7 629.5h0" stroke="#7a7a7a" stroke-width="2.4" fill="none" stroke-linecap="round" stroke-opacity="0.28"/>
<path d="M172.6 551.2h0M122.3 592.3h0M170.3 545.7h0M117.3 596.4h0M79.5 610.9h0M70.8 622.0h0M171.9 567.1h0M177.0 544.8h0M149.7 575.0h0M72.2 629.5h0M171.3 545.0h0M99.4 618.7h0M162.4 582.3h0M70.8 629.5h0M160.9 564.2h0M105.0 596.4h0M71.7 629.5h0M91.6 599.6h0M73.3 610.9h0M172.9 545.5h0M144.7 558.9h0M75.2 618.6h0M71.7 624.9h0M120.1 605.4h0M126.5 597.3h0M72.0 624.2h0M130.3 559.8h0M76.2 627.0h0M71.7 629.5h0M144.2 572.4h0M132.8 587.3h0M72.0 616.2h0M88.1 609.7h0M142.9 588.2h0M79.0 588.4h0M134.7 586.2h0M90.3 620.0h0M71.4 615.8h0M174.8 546.2h0M127.3 585.5h0M173.5 575.0h0M133.9 601.0h0M128.8 592.6h0M96.9 609.8h0M175.2 551.9h0M85.4 608.2h0M156.7 583.1h0M123.7 588.7h0M74.3 613.6h0M138.7 587.9h0M119.9 596.3h0M138.8 592.6h0M149.3 576.8h0M142.4 606.2h0M175.9 547.9h0M152.0 578.8h0M73.7 617.5h0M85.0 619.0h0M74.1 598.9h0M73.0 629.5h0M119.5 603.5h0M117.0 611.0h0M130.7 592.8h0M107.5 609.1h0M85.3 629.5h0" stroke="#7a7a7a" stroke-width="2.4" fill="none" stroke-linecap="round" stroke-opacity="0.28"/>
<path d="M70.6 621.6L75.1 619.6L81.1 614.6L88.2 612.5L94.2 611.1L101.3 608.0L108.4 603.5L115.5 599.4L122.5 594.4L129.5 593.8L135.9 589.0L146.6 581.0L156.2 573.0L164.7 564.5L171.1 557.1L174.3 553.9L177.9 552.3" stroke="#3a3a3a" stroke-width="0.6" fill="none" stroke-linejoin="round"/>
<text x="125.50" y="538.24" text-anchor="middle">UdgX–APOBEC1–UdgX–HF-nCas9-NG</text>
<text x="177.00" y="619.50" text-anchor="end"><tspan font-style="italic">R</tspan> = 0.90</text>
<text x="177.00" y="627.30" text-anchor="end"><tspan font-style="italic">n</tspan> = 912</text>
<line x1="206.50" y1="544.50" x2="206.50" y2="629.70" stroke="#ebebeb" stroke-width="0.5"/>
<line x1="227.94" y1="544.50" x2="227.94" y2="629.70" stroke="#ebebeb" stroke-width="0.5"/>
<line x1="249.38" y1="544.50" x2="249.38" y2="629.70" stroke="#ebebeb" stroke-width="0.5"/>
<line x1="270.82" y1="544.50" x2="270.82" y2="629.70" stroke="#ebebeb" stroke-width="0.5"/>
<line x1="292.26" y1="544.50" x2="292.26" y2="629.70" stroke="#ebebeb" stroke-width="0.5"/>
<line x1="313.70" y1="544.50" x2="313.70" y2="629.70" stroke="#ebebeb" stroke-width="0.5"/>
<line x1="206.50" y1="629.70" x2="313.70" y2="629.70" stroke="#ebebeb" stroke-width="0.5"/>
<line x1="206.50" y1="612.66" x2="313.70" y2="612.66" stroke="#ebebeb" stroke-width="0.5"/>
<line x1="206.50" y1="595.62" x2="313.70" y2="595.62" stroke="#ebebeb" stroke-width="0.5"/>
<line x1="206.50" y1="578.58" x2="313.70" y2="578.58" stroke="#ebebeb" stroke-width="0.5"/>
<line x1="206.50" y1="561.54" x2="313.70" y2="561.54" stroke="#ebebeb" stroke-width="0.5"/>
<line x1="206.50" y1="544.50" x2="313.70" y2="544.50" stroke="#ebebeb" stroke-width="0.5"/>
<line x1="206.50" y1="629.70" x2="313.70" y2="629.70" stroke="#4d4d4d" stroke-width="0.6"/>
<line x1="206.50" y1="544.50" x2="206.50" y2="629.70" stroke="#4d4d4d" stroke-width="0.6"/>
<line x1="206.50" y1="629.70" x2="206.50" y2="632.20" stroke="#4d4d4d" stroke-width="0.6"/>
<text x="206.50" y="640.54" text-anchor="middle">0</text>
<line x1="227.94" y1="629.70" x2="227.94" y2="632.20" stroke="#4d4d4d" stroke-width="0.6"/>
<text x="227.94" y="640.54" text-anchor="middle">20</text>
<line x1="249.38" y1="629.70" x2="249.38" y2="632.20" stroke="#4d4d4d" stroke-width="0.6"/>
<text x="249.38" y="640.54" text-anchor="middle">40</text>
<line x1="270.82" y1="629.70" x2="270.82" y2="632.20" stroke="#4d4d4d" stroke-width="0.6"/>
<text x="270.82" y="640.54" text-anchor="middle">60</text>
<line x1="292.26" y1="629.70" x2="292.26" y2="632.20" stroke="#4d4d4d" stroke-width="0.6"/>
<text x="292.26" y="640.54" text-anchor="middle">80</text>
<line x1="313.70" y1="629.70" x2="313.70" y2="632.20" stroke="#4d4d4d" stroke-width="0.6"/>
<text x="313.70" y="640.54" text-anchor="middle">100</text>
<line x1="204.00" y1="629.70" x2="206.50" y2="629.70" stroke="#4d4d4d" stroke-width="0.6"/>
<text x="202.00" y="631.94" text-anchor="end">0</text>
<line x1="204.00" y1="612.66" x2="206.50" y2="612.66" stroke="#4d4d4d" stroke-width="0.6"/>
<text x="202.00" y="614.90" text-anchor="end">20</text>
<line x1="204.00" y1="595.62" x2="206.50" y2="595.62" stroke="#4d4d4d" stroke-width="0.6"/>
<text x="202.00" y="597.86" text-anchor="end">40</text>
<line x1="204.00" y1="578.58" x2="206.50" y2="578.58" stroke="#4d4d4d" stroke-width="0.6"/>
<text x="202.00" y="580.82" text-anchor="end">60</text>
<line x1="204.00" y1="561.54" x2="206.50" y2="561.54" stroke="#4d4d4d" stroke-width="0.6"/>
<text x="202.00" y="563.78" text-anchor="end">80</text>
<line x1="204.00" y1="544.50" x2="206.50" y2="544.50" stroke="#4d4d4d" stroke-width="0.6"/>
<text x="202.00" y="546.74" text-anchor="end">100</text>
<path d="M206.5 609.0L207.9 608.2L209.2 607.4L210.6 606.5L211.9 605.7L213.3 604.9L214.6 604.2L216.0 603.6L217.4 603.1L218.7 602.6L220.1 602.1L221.4 601.6L222.8 601.1L224.1 600.5L225.5 599.9L226.9 599.3L228.2 598.8L229.6 598.2L230.9 597.5L232.3 596.8L233.6 596.0L235.0 595.4L236.4 594.8L237.7 594.1L239.1 593.5L240.4 592.9L241.8 592.3L243.1 591.6L244.5 591.0L245.9 590.4L247.2 589.9L248.6 589.5L249.9 589.1L251.3 588.7L252.6 588.3L254.0 587.9L255.4 587.3L256.7 586.5L258.1 585.8L259.4 585.0L260.8 584.1L262.1 582.9L263.5 581.7L264.8 580.5L266.2 579.3L267.6 578.1L268.9 576.9L270.3 575.8L271.6 575.6L273.0 575.4L274.3 575.2L275.7 575.0L277.1 574.7L278.4 573.6L279.8 572.5L281.1 571.4L282.5 570.3L283.8 569.2L285.2 568.1L286.6 566.9L287.9 565.8L289.3 564.7L290.6 563.6L292.0 562.5L293.3 561.4L294.7 560.4L296.1 559.3L297.4 558.2L298.8 557.1L300.1 555.6L301.5 553.1L302.8 550.7L304.2 548.6L305.6 546.6L306.9 544.6L308.3 544.5L309.6 544.5L311.0 544.5L312.3 544.5L313.7 544.5L313.7 562.9L312.3 563.7L311.0 564.5L309.6 565.3L308.3 566.5L306.9 569.4L305.6 572.2L304.2 575.1L302.8 577.9L301.5 580.3L300.1 582.7L298.8 584.0L297.4 585.0L296.1 586.0L294.7 587.0L293.3 587.9L292.0 588.9L290.6 589.9L289.3 590.9L287.9 591.9L286.6 592.9L285.2 593.9L283.8 594.9L282.5 595.9L281.1 596.9L279.8 597.9L278.4 598.9L277.1 599.9L275.7 600.1L274.3 600.2L273.0 600.3L271.6 600.4L270.3 600.5L268.9 601.5L267.6 602.6L266.2 603.7L264.8 604.8L263.5 605.9L262.1 607.0L260.8 608.0L259.4 608.9L258.1 609.8L256.7 610.6L255.4 611.4L254.0 612.1L252.6 612.6L251.3 613.1L249.9 613.6L248.6 614.1L247.2 614.6L245.9 615.2L244.5 615.9L243.1 616.6L241.8 617.3L240.4 618.0L239.1 618.7L237.7 619.4L236.4 620.1L235.0 620.9L233.6 621.6L232.3 622.2L230.9 622.8L229.6 623.3L228.2 623.8L226.9 624.2L225.5 624.6L224.1 625.1L222.8 625.5L221.4 625.9L220.1 626.3L218.7 626.6L217.4 627.0L216.0 627.3L214.6 627.6L213.3 628.1L211.9 628.7L210.6 629.3L209.2 629.7L207.9 629.7L206.5 629.7Z" stroke="none" stroke-width="0" fill="#d9d9d9"/>
<rect x="206.80" y="608.40" width="1.3" height="21.30" fill="#d6d6d6"/>
<path d="M260.7 592.6h0M260.6 606.3h0M283.4 559.4h0M229.3 606.0h0M206.8 622.9h0M307.3 553.3h0M239.8 588.0h0M208.8 622.1h0M239.0 608.8h0M207.4 617.2h0M209.9 618.9h0M210.4 620.5h0M229.5 602.3h0M210.5 621.9h0M253.9 597.9h0M214.3 615.5h0M309.0 557.5h0M304.7 565.0h0M292.6 582.1h0M207.4 612.9h0M215.2 608.5h0M246.2 596.0h0M251.4 604.1h0M294.2 579.4h0M294.0 596.5h0M208.5 627.6h0M292.4 580.7h0M210.7 629.5h0M217.9 611.5h0M294.9 579.0h0M206.7 622.3h0M210.2 628.3h0M230.5 606.6h0M210.6 607.8h0M211.8 624.7h0M280.7 586.3h0M296.6 573.5h0M313.4 544.8h0M223.2 575.2h0M289.0 577.7h0M227.6 624.6h0M313.5 544.7h0M234.3 614.1h0M223.9 621.6h0M221.6 622.9h0M241.6 627.3h0M313.5 552.8h0M227.0 626.6h0M208.5 605.8h0M288.5 578.7h0M259.1 587.7h0M218.3 629.1h0M247.1 588.0h0M273.2 583.6h0M206.7 623.7h0M217.9 629.5h0M297.7 562.2h0M211.5 629.5h0M272.1 595.0h0M310.5 546.8h0M207.2 626.6h0M313.5 551.6h0M302.0 546.9h0M245.7 629.0h0M210.0 611.0h0M212.5 609.9h0M250.3 604.6h0M295.7 578.2h0M256.9 602.2h0M209.4 623.8h0M207.6 629.5h0M206.7 617.5h0M274.8 595.9h0M263.8 587.6h0M289.9 574.1h0M208.2 624.3h0M271.2 593.8h0M244.7 614.9h0M279.5 580.7h0M238.6 606.4h0M207.9 624.6h0M229.4 604.6h0M299.1 567.3h0M280.1 584.8h0M256.3 592.4h0M244.0 590.5h0M286.5 581.6h0M296.2 587.7h0M251.6 608.2h0M309.7 562.8h0M221.7 608.0h0M208.8 617.7h0M248.7 605.4h0M206.7 629.5h0M305.2 544.7h0M237.0 605.5h0M296.2 576.4h0M312.8 544.7h0M214.7 622.8h0M312.9 553.1h0M206.8 617.1h0M265.9 594.7h0M286.1 576.2h0M288.9 567.7h0M265.3 615.1h0M311.3 558.3h0M253.8 601.4h0M296.6 561.5h0M312.3 555.5h0M207.7 610.3h0M284.7 580.1h0M226.4 611.0h0M210.2 615.7h0M290.2 578.3h0M260.5 598.7h0M261.1 577.5h0M305.5 563.1h0M304.4 565.8h0M243.0 584.4h0M306.0 552.5h0M265.9 586.6h0M253.5 591.5h0M250.8 606.5h0" stroke="#7a7a7a" stroke-width="2.4" fill="none" stroke-linecap="round" stroke-opacity="0.28"/>
<path d="M281.4 594.7h0M293.8 579.4h0M218.7 608.6h0M214.6 616.2h0M283.8 578.8h0M229.7 612.2h0M297.3 564.6h0M303.1 547.9h0M208.8 606.8h0M214.1 605.2h0M271.0 594.6h0M298.1 590.7h0M312.8 550.1h0M235.6 592.4h0M243.6 604.6h0M312.5 553.3h0M208.0 620.1h0M266.5 604.4h0M313.5 550.0h0M225.2 598.9h0M288.9 568.5h0M235.7 613.6h0M214.5 616.6h0M236.9 611.4h0M282.3 577.5h0M310.9 552.6h0M247.7 569.9h0M233.4 603.9h0M278.0 588.7h0M276.2 597.8h0M228.9 593.5h0M240.8 607.3h0M280.9 586.0h0M258.5 614.9h0M240.5 596.5h0M288.2 575.7h0M238.6 604.1h0M254.5 587.1h0M261.1 602.5h0M209.3 619.9h0M273.9 582.0h0M309.0 545.9h0M279.8 583.3h0M289.5 570.8h0M307.5 552.6h0M241.4 599.4h0M227.3 608.7h0M295.5 573.4h0M262.5 592.3h0M302.2 559.1h0M207.5 606.7h0M242.1 608.9h0M227.1 604.9h0M208.5 617.6h0M208.1 612.2h0M236.4 610.0h0M242.2 625.9h0M261.7 580.8h0M210.6 605.1h0M270.7 591.0h0M265.1 584.4h0M220.9 612.9h0M300.0 568.0h0M305.9 555.4h0M299.3 575.1h0M280.9 581.1h0M281.4 590.4h0M234.1 606.1h0M283.2 583.7h0M312.1 548.8h0M244.1 602.6h0M304.9 554.4h0M312.3 551.9h0M209.6 616.7h0M215.5 614.8h0M224.3 617.6h0M274.6 589.3h0M309.4 561.6h0M208.2 599.6h0M248.3 624.5h0M211.9 603.8h0M256.5 588.0h0M238.5 588.0h0M255.0 600.8h0M285.7 570.4h0M231.8 574.1h0M286.4 589.9h0M222.2 628.5h0M211.4 621.7h0M294.2 573.2h0M291.8 557.8h0M206.7 621.2h0M286.6 574.8h0M298.0 560.4h0M272.1 585.2h0M298.5 564.0h0M216.9 622.3h0M262.4 588.1h0M209.2 620.0h0M207.3 621.0h0M293.9 567.9h0M206.7 624.0h0M285.0 577.1h0M206.7 629.5h0M305.9 549.1h0M222.5 624.3h0M229.9 610.2h0M231.6 610.9h0M215.6 611.2h0M297.2 568.3h0M311.4 547.5h0M287.7 582.0h0M313.3 546.1h0M299.4 558.4h0M299.8 544.7h0M212.6 629.5h0M256.0 595.5h0M248.3 617.2h0M236.7 589.4h0M246.9 586.8h0M288.3 587.7h0M283.6 608.7h0M286.4 579.2h0" stroke="#7a7a7a" stroke-width="2.4" fill="none" stroke-linecap="round" stroke-opacity="0.28"/>
<path d="M301.3 553.5h0M254.3 604.1h0M216.9 615.1h0M207.8 629.5h0M282.2 588.3h0M312.3 544.9h0M259.5 609.9h0M295.5 579.1h0M229.7 612.9h0M209.8 612.6h0M270.3 585.7h0M266.4 601.0h0M230.4 611.3h0M305.0 549.1h0M294.5 568.4h0M209.2 580.4h0M213.8 615.7h0M262.8 590.0h0M293.9 571.7h0M248.2 589.3h0M207.9 624.7h0M207.2 625.6h0M310.8 546.5h0M207.6 617.0h0M287.0 580.3h0M273.3 587.4h0M209.8 627.8h0M307.8 552.4h0M210.2 610.0h0M305.1 557.3h0M208.3 614.8h0M216.2 613.1h0M306.9 553.2h0M291.7 576.5h0M206.8 610.5h0M207.0 616.8h0M252.3 603.0h0M213.8 629.5h0M226.8 606.0h0M287.0 576.1h0M210.1 612.8h0M310.7 558.6h0M214.1 627.0h0M290.2 571.8h0M210.5 609.9h0M258.0 595.3h0M209.3 628.6h0M292.2 559.0h0M305.2 564.9h0M285.5 581.8h0M313.4 560.0h0M283.0 581.7h0M289.1 564.7h0M225.9 610.6h0M288.3 576.8h0M206.8 629.5h0M282.7 546.1h0M239.1 610.9h0M216.8 621.9h0M241.2 600.5h0M272.6 589.1h0M269.1 580.3h0M254.9 596.9h0M227.7 615.2h0M206.9 617.7h0M221.0 612.8h0M233.2 603.0h0M288.2 580.4h0M208.9 599.9h0M307.6 556.1h0M224.3 615.0h0M275.1 594.7h0M292.9 573.2h0M245.9 594.4h0M272.5 579.6h0M254.1 608.6h0M307.8 553.2h0M212.9 593.3h0M219.4 621.4h0M207.3 624.9h0M210.4 614.4h0M217.9 603.1h0M277.8 598.9h0M268.7 587.9h0M269.3 581.1h0M207.3 626.9h0M312.7 552.4h0M312.4 555.5h0M250.2 596.1h0M252.3 612.7h0M207.1 599.7h0M265.6 596.9h0M279.6 593.0h0M256.4 604.7h0M206.9 625.1h0M206.7 606.3h0M308.8 568.6h0M297.4 582.3h0M312.0 545.5h0M279.7 584.5h0M282.6 580.4h0M282.8 576.5h0M249.0 601.8h0M208.5 623.3h0M207.1 622.8h0M264.6 597.8h0M208.6 615.7h0M275.2 601.6h0M311.8 546.3h0M307.6 545.5h0M245.5 616.0h0M207.3 625.6h0M207.0 622.8h0M206.7 626.9h0M311.8 546.1h0M210.0 617.3h0M284.2 589.0h0M250.1 597.7h0M295.2 591.8h0M210.9 617.5h0M209.1 621.5h0M257.7 611.0h0M302.7 559.6h0" stroke="#7a7a7a" stroke-width="2.4" fill="none" stroke-linecap="round" stroke-opacity="0.28"/>
<path d="M209.4 603.1h0M206.7 609.9h0M295.3 583.1h0M250.2 616.7h0M235.2 605.7h0M297.3 583.1h0M215.7 590.3h0M285.4 574.5h0M219.9 622.6h0M296.8 586.3h0M207.3 623.2h0M241.1 609.2h0M285.5 589.3h0M299.0 584.5h0M227.1 608.9h0M280.0 591.6h0M211.8 617.0h0M289.9 574.8h0M234.9 616.9h0M237.7 629.5h0M225.8 614.4h0M244.1 612.1h0M251.1 593.5h0M207.0 608.4h0M263.1 594.8h0M228.6 618.1h0M285.5 578.9h0M313.5 545.1h0M258.6 611.8h0M215.3 594.6h0M260.9 600.8h0M277.1 570.3h0M208.8 627.4h0M229.3 621.9h0M312.1 545.9h0M275.6 582.0h0M307.3 550.8h0M208.7 629.5h0M299.0 566.9h0M248.9 606.7h0M226.8 605.1h0M277.2 586.3h0M227.7 619.7h0M305.9 569.8h0M266.2 602.8h0M210.8 616.2h0M300.3 555.1h0M240.7 611.8h0M313.2 549.6h0M222.5 616.2h0M312.1 545.7h0M232.1 603.1h0M296.7 581.7h0M288.9 582.7h0M246.5 592.5h0M260.2 599.3h0M279.2 579.9h0M308.0 568.6h0M285.2 584.9h0M307.7 545.0h0M210.2 619.8h0M217.1 616.4h0M312.1 552.0h0M308.8 567.3h0M261.3 619.6h0M248.7 596.0h0M213.0 613.4h0M210.5 623.2h0M262.9 589.8h0M256.3 605.7h0M267.1 596.0h0M309.4 545.2h0M219.4 618.1h0M313.0 548.5h0M214.9 624.5h0M294.2 575.1h0M210.1 618.1h0M295.5 581.6h0M232.1 621.1h0M224.3 601.7h0M245.7 606.7h0M264.9 597.8h0M251.9 604.7h0M208.0 601.4h0M210.4 623.3h0M229.7 629.5h0M295.6 570.6h0M216.2 619.6h0M247.5 595.2h0M313.5 546.3h0M285.4 575.7h0M283.2 580.6h0M301.1 583.7h0M217.1 607.6h0M312.1 551.5h0M293.9 567.7h0M252.0 595.3h0M306.2 549.6h0M254.7 598.4h0M311.7 547.6h0M220.7 618.1h0M210.6 627.8h0M212.8 629.5h0M219.9 615.7h0M208.4 615.8h0M272.2 598.9h0M237.6 610.0h0M206.8 622.1h0M293.8 571.5h0M236.4 600.3h0M303.4 566.0h0M206.8 627.9h0M310.2 579.6h0M248.6 600.3h0M273.7 591.1h0M309.6 549.5h0M237.5 629.5h0M266.6 603.7h0M224.5 607.6h0M311.2 544.7h0M256.8 607.5h0M313.3 545.4h0M217.0 616.5h0" stroke="#7a7a7a" stroke-width="2.4" fill="none" stroke-linecap="round" stroke-opacity="0.28"/>
<path d="M279.8 586.7h0M299.4 566.9h0M282.5 590.0h0M297.4 558.2h0M252.9 608.3h0M206.9 624.6h0M288.7 568.0h0M206.7 629.5h0M285.5 589.8h0M206.7 625.8h0M253.1 609.6h0M311.9 550.6h0M274.3 590.4h0M264.1 593.7h0M255.3 597.7h0M297.8 582.9h0M211.1 608.5h0M307.8 575.7h0M273.4 588.2h0M249.9 618.0h0M296.1 576.5h0M279.0 579.9h0M223.2 613.4h0M289.3 617.9h0M284.1 585.9h0M310.5 546.5h0M311.8 546.1h0M222.2 617.4h0M225.8 617.2h0M245.8 598.6h0M251.7 604.5h0M227.5 609.5h0M277.4 577.9h0M225.1 578.8h0M253.1 592.2h0M243.9 610.3h0M254.0 617.7h0M239.2 612.9h0M215.2 615.9h0M287.1 573.6h0M220.3 609.6h0M206.9 621.8h0M283.4 578.7h0M313.1 558.0h0M252.5 605.3h0M267.8 592.4h0M217.2 619.0h0M254.1 629.5h0M278.0 580.6h0M256.3 601.5h0M261.1 604.4h0M207.7 629.5h0M248.1 598.5h0M308.9 546.7h0M295.6 591.4h0M267.1 577.3h0M305.4 558.2h0M303.1 558.5h0M308.9 550.0h0M228.1 593.5h0M243.1 596.1h0M276.0 581.0h0M236.7 611.6h0M301.2 608.7h0M293.1 587.0h0M310.7 550.1h0M253.1 601.7h0M207.7 626.6h0M288.7 574.1h0M238.6 595.3h0M302.5 567.0h0M214.9 616.3h0M268.5 607.4h0M309.4 544.8h0M239.2 597.4h0M236.3 610.6h0M309.0 560.8h0M294.6 581.6h0M219.5 627.0h0M281.6 589.1h0M265.5 603.1h0M207.3 618.8h0M283.1 585.9h0M270.2 590.9h0M231.6 610.6h0M206.9 621.7h0M212.3 620.2h0M294.9 562.1h0M302.3 546.3h0M257.3 589.1h0M207.2 614.9h0M271.4 589.4h0M256.9 593.8h0M252.4 590.1h0M207.2 629.5h0M210.9 629.5h0M219.3 614.1h0M287.3 570.1h0M311.6 546.9h0M240.0 603.0h0M246.0 599.8h0M238.6 607.3h0M208.5 616.8h0M208.0 622.7h0M270.8 586.3h0M311.2 545.9h0M262.4 597.3h0M272.5 592.4h0M273.8 569.3h0M213.9 620.9h0M309.4 544.7h0M223.8 624.6h0M308.8 548.2h0M227.1 617.7h0M274.8 610.2h0M207.1 620.9h0M220.8 601.8h0M262.4 592.7h0M260.7 593.1h0M223.6 613.7h0M267.5 589.1h0M298.4 566.2h0M248.8 581.7h0" stroke="#7a7a7a" stroke-width="2.4" fill="none" stroke-linecap="round" stroke-opacity="0.28"/>
<path d="M262.4 585.0h0M312.4 548.6h0M206.7 613.9h0M306.8 568.3h0M208.7 619.9h0M247.4 601.9h0M274.9 593.4h0M238.7 603.8h0M243.3 614.4h0M219.7 612.4h0M253.3 589.6h0M253.4 602.8h0M271.6 591.5h0M244.6 586.1h0M308.3 557.3h0M312.9 544.8h0M222.2 611.1h0M223.0 611.4h0M239.2 611.3h0M243.2 603.6h0M297.0 569.5h0M249.6 591.1h0M268.4 599.8h0M255.0 598.5h0M207.8 612.4h0M312.2 551.2h0M257.0 606.1h0M291.1 568.9h0M246.3 601.8h0M275.3 588.4h0M264.6 547.1h0M290.5 573.0h0M308.8 559.1h0M303.1 554.9h0M274.5 580.5h0M242.5 608.5h0M215.6 625.1h0M286.8 584.0h0M295.6 563.1h0M310.9 544.9h0M290.1 574.7h0M249.3 598.1h0M302.4 562.3h0M306.6 548.9h0M280.8 596.9h0M242.3 604.7h0M311.6 547.5h0M240.9 588.6h0M312.1 548.5h0M211.3 614.3h0M230.5 601.9h0M270.7 580.3h0M276.9 580.1h0M275.7 589.3h0M227.7 615.2h0M208.5 610.6h0M304.9 556.6h0M268.7 587.3h0M249.0 586.8h0M237.1 606.7h0M309.2 544.8h0M226.8 608.9h0M238.8 626.5h0M313.3 566.7h0M302.6 569.0h0M288.1 559.9h0M213.6 621.4h0M290.3 563.5h0M207.6 617.4h0M283.9 597.4h0M313.5 545.3h0M259.1 597.8h0M209.7 621.1h0M264.8 584.1h0M310.1 546.7h0M224.4 612.3h0M300.4 568.7h0M236.9 613.1h0M275.5 589.4h0M232.9 613.4h0M249.0 600.1h0M238.2 597.9h0M219.5 618.7h0M239.9 599.0h0M208.4 617.1h0M250.3 600.9h0M275.8 607.4h0M210.3 608.6h0M208.4 629.5h0M270.1 576.1h0M257.5 596.7h0M264.9 597.4h0M310.4 562.3h0M253.3 629.5h0M263.1 584.8h0M280.0 573.5h0M305.6 565.9h0M294.8 569.0h0M221.0 615.9h0M284.0 569.2h0M211.0 614.8h0M209.6 619.3h0M289.0 585.2h0M209.5 618.9h0M219.1 611.8h0M289.2 586.4h0M308.7 544.7h0M244.5 610.7h0M281.8 580.0h0M257.4 586.0h0M208.8 621.3h0M228.6 598.8h0M212.4 609.3h0M312.6 552.9h0M297.3 563.8h0M296.0 579.9h0M258.3 596.3h0M283.9 590.8h0M271.2 602.1h0M262.0 593.4h0M271.1 595.2h0M271.5 577.7h0M237.2 601.6h0" stroke="#7a7a7a" stroke-width="2.4" fill="none" stroke-linecap="round" stroke-opacity="0.28"/>
<path d="M298.8 582.2h0M207.7 598.6h0M305.1 558.1h0M306.1 549.1h0M241.7 594.9h0M231.5 608.7h0M263.6 593.1h0M295.1 570.7h0M276.9 607.9h0M228.3 599.9h0M228.5 613.2h0M229.3 605.9h0M272.5 586.0h0M246.0 599.2h0M224.0 615.1h0M287.8 609.9h0M247.0 601.3h0M241.6 611.0h0M239.4 610.6h0M298.2 558.3h0M233.6 613.9h0M244.0 604.2h0M241.2 605.4h0M305.1 561.1h0M273.0 580.0h0M238.2 590.9h0M270.2 582.1h0M210.0 622.5h0M225.1 604.5h0M219.1 629.5h0M208.6 613.6h0M277.7 577.7h0M313.3 548.2h0M307.3 554.2h0M247.1 606.2h0M263.9 593.6h0M280.7 595.5h0M238.8 629.5h0M269.7 583.1h0M241.4 617.0h0M213.3 597.2h0M260.8 595.2h0M284.5 574.6h0M209.5 606.6h0M243.4 613.1h0M207.2 588.7h0M286.9 589.1h0M274.3 587.2h0M211.7 621.7h0M206.9 602.4h0M247.2 602.7h0M220.7 614.1h0M207.7 613.8h0M283.1 584.5h0M217.1 616.4h0M271.1 578.4h0M274.0 590.6h0M294.1 571.7h0M291.8 582.4h0M276.2 560.6h0M207.4 617.4h0M206.7 629.5h0M243.6 598.7h0M310.3 548.9h0M209.8 613.0h0M219.8 612.7h0M216.2 599.4h0M302.4 569.4h0M286.2 554.9h0M245.7 617.4h0M213.5 610.4h0M215.9 617.7h0M300.5 578.1h0M207.6 616.7h0M312.0 554.9h0M268.5 592.5h0M207.5 624.9h0M283.0 571.7h0M271.1 617.0h0M223.5 599.5h0M236.3 607.8h0M280.0 603.4h0M211.8 621.3h0M297.0 594.8h0M264.1 591.0h0M223.2 612.2h0M310.5 556.1h0M301.4 561.9h0M272.0 581.4h0M306.9 556.0h0M240.9 595.4h0M207.6 601.0h0M236.4 609.5h0M234.6 607.1h0M256.8 601.5h0M263.8 590.5h0M261.9 597.5h0M229.6 617.4h0M302.8 550.7h0M210.6 620.7h0M294.0 575.9h0M224.0 609.0h0M234.5 602.0h0M258.3 614.2h0M241.8 616.2h0M207.3 616.6h0M313.5 549.9h0M301.3 560.4h0M244.0 603.9h0M208.0 616.0h0M209.0 617.2h0M230.8 604.5h0M313.0 549.2h0M313.1 545.1h0M270.4 593.7h0M305.6 553.1h0M207.1 619.2h0M268.2 579.6h0M284.2 584.7h0M208.5 621.7h0M256.6 613.7h0M265.9 591.6h0M301.2 558.6h0" stroke="#7a7a7a" stroke-width="2.4" fill="none" stroke-linecap="round" stroke-opacity="0.28"/>
<path d="M286.3 577.1h0M302.0 574.7h0M217.4 620.3h0M293.5 562.1h0M297.9 565.6h0M271.7 597.5h0M207.6 614.0h0M214.1 620.6h0M222.2 606.9h0M270.4 593.5h0M223.4 609.0h0M293.9 569.6h0M206.7 611.7h0M263.1 589.9h0M312.4 547.3h0M228.4 600.7h0M257.8 596.7h0M300.6 569.3h0M311.4 545.8h0M208.8 621.5h0M267.7 580.1h0M214.6 606.3h0M251.9 590.6h0M259.0 629.5h0M259.8 595.9h0M243.6 603.1h0M296.8 569.5h0M307.0 561.7h0M309.8 548.3h0M288.3 585.8h0M258.7 583.5h0M298.2 563.6h0M206.7 629.5h0M291.5 581.8h0M218.3 605.0h0M216.3 629.5h0M261.0 597.8h0M232.3 580.9h0M221.1 619.5h0M313.3 546.8h0M244.0 602.3h0M313.5 563.2h0M262.3 581.3h0M278.4 600.6h0M289.3 601.0h0M222.1 622.6h0M287.1 584.3h0M265.4 598.0h0M296.4 553.6h0M284.9 583.7h0M289.9 582.1h0M285.8 574.0h0M210.0 615.5h0M261.6 598.6h0M206.8 615.9h0M304.3 546.7h0M207.3 612.1h0M207.2 607.1h0M306.8 554.8h0M210.0 626.1h0M261.2 585.0h0M250.1 595.4h0M309.6 564.4h0M241.2 598.1h0M282.6 576.2h0M297.8 590.0h0M294.6 589.7h0M247.5 590.3h0M236.6 613.8h0M258.0 604.6h0M249.3 603.4h0M208.4 621.6h0M262.2 571.0h0M207.4 620.5h0M249.9 604.5h0M209.9 600.8h0M284.7 580.4h0M209.4 603.5h0M249.4 621.9h0M313.0 554.5h0M241.4 605.3h0M291.2 577.7h0M206.7 620.5h0M212.3 629.5h0M210.9 629.5h0M295.5 583.9h0M280.8 589.7h0M267.6 593.5h0M312.0 553.6h0M257.8 581.6h0M261.6 629.5h0M285.0 592.3h0M214.0 614.5h0M207.2 621.1h0M215.5 629.5h0M294.4 575.5h0M300.4 553.8h0M242.8 586.9h0M211.7 629.5h0M281.5 570.9h0M206.9 614.4h0M299.3 571.9h0M312.1 545.8h0M295.0 575.6h0M247.0 613.5h0M261.3 617.5h0M251.1 588.3h0M210.1 613.5h0M210.1 619.1h0M278.0 583.0h0M272.1 619.5h0M213.9 607.4h0M286.7 586.7h0M311.4 551.7h0M220.6 618.0h0M207.2 629.5h0M292.4 575.7h0M207.5 623.2h0M286.3 566.7h0M224.3 621.7h0M298.2 568.8h0M306.5 562.9h0M211.1 610.6h0" stroke="#7a7a7a" stroke-width="2.4" fill="none" stroke-linecap="round" stroke-opacity="0.28"/>
<path d="M284.4 588.0h0M293.8 584.5h0M275.7 605.8h0M313.5 564.6h0M279.0 596.5h0M241.1 590.9h0M218.2 622.3h0M207.3 624.1h0M233.5 602.4h0M282.6 591.1h0M248.2 608.2h0M303.2 567.1h0M311.1 544.9h0M258.6 619.4h0M311.3 545.3h0M268.7 592.2h0M208.5 618.1h0M266.6 586.9h0M243.3 589.7h0M260.0 607.6h0M271.3 574.0h0M239.2 615.7h0M278.3 571.8h0M260.1 553.9h0M302.6 555.4h0M255.4 603.6h0M312.2 548.2h0M261.3 600.4h0M207.1 618.1h0M211.5 609.5h0M209.3 623.9h0M290.7 585.7h0M277.1 584.1h0M222.6 604.4h0M214.0 620.3h0M311.2 546.8h0M261.8 592.7h0M285.3 574.0h0M277.4 588.4h0M224.4 598.8h0M226.2 612.4h0M313.1 554.2h0M235.6 613.5h0M286.7 588.1h0M249.3 589.0h0M213.9 625.8h0M235.0 620.9h0M243.7 608.2h0M207.3 623.2h0M259.3 571.2h0M236.7 603.5h0M208.4 609.3h0M209.3 629.5h0M219.4 591.4h0M214.0 622.3h0M310.4 545.7h0M268.8 580.2h0M292.6 581.0h0M262.0 561.7h0M294.1 578.2h0M235.7 614.9h0M207.0 618.7h0M209.5 612.6h0M275.0 590.1h0M207.5 607.9h0M277.9 584.2h0M277.0 596.6h0M219.7 616.4h0M276.1 580.7h0M251.2 613.9h0M251.4 596.4h0M305.6 562.0h0M296.5 577.8h0M206.7 627.5h0M305.4 548.3h0M241.7 594.9h0M214.0 621.4h0M290.4 563.1h0M215.6 613.0h0M212.2 613.7h0M308.7 567.7h0M206.7 609.8h0M267.8 590.0h0M293.4 575.9h0M236.9 608.8h0M267.0 595.3h0M275.2 605.5h0M253.4 592.2h0M207.8 614.7h0M244.6 592.6h0M256.4 602.7h0M284.8 578.8h0M292.3 555.8h0M305.0 564.1h0M262.4 576.9h0M206.8 616.1h0M271.6 554.3h0M271.4 598.8h0M215.0 629.5h0M310.4 545.9h0M292.1 566.3h0M287.6 571.4h0M244.5 585.4h0M206.8 629.0h0M291.3 588.1h0M209.2 629.5h0M302.4 563.0h0M259.0 604.6h0M216.8 610.2h0M206.9 611.8h0M266.6 578.8h0M208.9 620.5h0M206.9 618.3h0M306.3 547.6h0M210.7 614.6h0M256.9 598.5h0M279.8 576.7h0M309.8 546.8h0M211.7 617.4h0M209.0 623.6h0M287.5 583.3h0M275.0 579.0h0" stroke="#7a7a7a" stroke-width="2.4" fill="none" stroke-linecap="round" stroke-opacity="0.28"/>
<path d="M312.4 544.7h0M293.5 549.5h0M278.9 578.8h0M250.1 573.8h0M215.5 610.3h0M210.0 614.2h0M208.3 629.5h0M297.5 590.8h0M210.8 615.7h0M216.8 615.8h0M207.9 615.5h0M303.7 558.4h0M251.9 606.0h0M243.5 601.3h0M301.3 566.1h0M232.2 620.9h0M239.1 601.1h0M285.0 591.2h0M240.2 582.6h0M310.2 547.0h0M209.9 628.4h0M240.3 605.9h0M294.1 567.6h0M211.8 616.7h0M286.6 583.2h0M291.6 583.3h0M286.2 575.2h0M244.8 603.4h0M265.9 594.5h0M239.4 609.2h0M280.4 579.6h0M281.7 581.6h0M208.3 606.5h0M312.4 546.2h0M206.9 622.7h0M290.6 583.5h0M210.9 618.4h0M292.5 579.5h0M273.2 582.6h0M252.2 547.6h0M242.5 604.7h0M211.0 619.0h0M215.4 617.3h0M212.5 591.9h0M223.8 612.0h0M216.5 624.8h0M311.1 551.5h0M310.1 549.3h0M254.4 605.3h0M313.0 544.7h0M207.6 629.3h0M254.3 591.0h0M220.7 616.1h0M251.2 597.1h0M235.1 622.3h0M231.6 606.7h0M267.9 591.4h0M308.0 545.9h0M273.6 594.2h0M302.8 557.8h0M244.5 595.0h0M207.2 627.0h0M289.4 578.5h0M246.0 595.5h0M241.3 610.5h0M274.1 576.3h0M295.0 575.7h0M290.6 569.4h0M252.6 601.4h0M230.1 606.1h0M207.0 613.6h0M207.6 620.7h0M208.7 617.3h0M288.8 586.6h0M282.6 570.9h0M207.5 627.0h0M259.4 589.7h0M217.5 600.8h0M253.2 595.7h0M251.8 613.8h0M222.2 610.5h0M250.3 596.6h0M215.8 604.2h0M212.1 614.1h0M266.8 600.6h0M208.2 629.5h0M235.7 601.7h0M310.5 560.4h0M243.2 612.8h0M211.4 607.6h0M305.3 555.4h0M239.5 585.8h0M270.5 579.9h0M208.9 626.7h0M206.8 629.5h0M212.7 622.8h0M208.2 618.2h0M237.3 618.7h0M260.6 603.1h0M206.7 617.5h0M207.8 627.0h0M206.8 627.6h0M230.8 604.2h0M218.0 616.4h0M264.6 588.2h0M212.1 629.5h0M263.9 593.9h0M208.7 629.5h0M216.9 604.1h0M256.2 591.2h0M211.7 612.4h0M209.1 617.3h0M312.9 545.0h0M239.2 602.7h0M231.8 595.4h0M229.7 616.7h0M238.8 618.8h0M257.3 556.1h0M222.7 608.4h0M244.8 587.0h0M226.9 612.4h0M278.9 565.2h0" stroke="#7a7a7a" stroke-width="2.4" fill="none" stroke-linecap="round" stroke-opacity="0.28"/>
<path d="M210.8 622.0h0M254.1 597.1h0M290.6 570.2h0M298.4 563.0h0M228.9 615.1h0M272.6 586.7h0M292.9 579.2h0M272.1 548.5h0M206.7 617.4h0M221.7 613.7h0M303.0 577.1h0M235.3 609.4h0M264.8 591.0h0M207.4 623.3h0M207.4 607.4h0M214.9 608.8h0M231.0 608.1h0M272.5 592.7h0M281.8 591.8h0M230.5 607.8h0M292.5 567.5h0M313.5 545.8h0M241.0 609.1h0M304.0 562.4h0M245.5 606.1h0M249.7 593.5h0M211.1 628.7h0M207.2 619.2h0M209.4 629.5h0M209.1 618.9h0M275.3 579.2h0M226.0 601.2h0M209.5 622.6h0M243.8 597.5h0M206.7 616.1h0M208.9 620.8h0M223.2 616.4h0M225.0 625.1h0M279.9 583.6h0M250.9 600.2h0M269.1 586.0h0M207.7 606.7h0M311.7 544.9h0M264.4 590.4h0M247.6 597.1h0M218.6 611.0h0M269.2 601.4h0M212.2 610.3h0M251.0 613.6h0M234.6 629.5h0M223.9 594.3h0M310.9 545.6h0M278.8 597.3h0M212.9 612.2h0M253.4 610.8h0M227.6 615.1h0M304.7 577.0h0M297.8 557.5h0M207.9 610.8h0M257.4 605.8h0M226.8 622.5h0M313.5 556.4h0M220.5 623.8h0M288.9 580.8h0M309.2 544.7h0M289.2 583.3h0M226.2 610.6h0M208.4 629.5h0M214.6 608.6h0M210.2 610.1h0M210.4 628.1h0M304.0 554.1h0M208.4 627.1h0M297.0 577.8h0M264.7 589.2h0M273.3 567.8h0M304.8 560.4h0M276.2 595.3h0M311.2 548.9h0M313.5 546.2h0M292.1 568.4h0M304.2 560.2h0M254.9 605.0h0M300.9 584.3h0M261.8 600.9h0M285.4 579.0h0M274.0 589.4h0M215.5 609.6h0M227.1 599.7h0M254.0 610.0h0M261.4 564.3h0M306.0 556.0h0M208.6 626.4h0M311.8 547.5h0M266.3 598.2h0M240.7 601.4h0M224.1 601.4h0M246.8 597.2h0M284.2 586.9h0M264.0 591.6h0M217.6 606.1h0M252.2 596.1h0M279.3 590.4h0M207.3 613.7h0M252.0 602.5h0M273.4 593.3h0M295.3 567.9h0M208.7 619.2h0M281.6 581.7h0M300.1 561.2h0M245.4 604.5h0M207.6 606.8h0M301.2 564.6h0M215.1 629.5h0M228.4 614.2h0M312.1 584.0h0M211.2 606.1h0M224.1 618.0h0M312.0 558.5h0M207.1 614.0h0M232.8 547.2h0M252.9 589.2h0" stroke="#7a7a7a" stroke-width="2.4" fill="none" stroke-linecap="round" stroke-opacity="0.28"/>
<path d="M208.0 622.6h0M280.2 585.6h0M296.0 565.0h0M212.2 611.2h0M208.1 618.8h0M295.1 554.1h0M210.9 607.9h0M257.2 565.3h0M215.8 615.5h0M286.4 575.2h0M234.2 602.6h0M292.1 573.5h0M211.3 626.5h0M299.6 580.7h0M262.3 605.6h0M265.8 589.4h0M221.7 629.4h0M237.1 605.8h0M235.2 608.3h0M307.2 572.5h0M312.7 546.9h0M295.0 588.5h0M266.2 595.2h0M246.9 606.1h0M310.5 545.5h0M207.4 569.0h0M281.2 582.2h0M275.9 582.8h0M289.8 567.5h0M208.0 623.5h0M206.8 613.8h0M299.7 588.6h0M269.8 591.9h0M227.8 612.8h0M256.4 603.7h0M309.7 544.8h0M207.8 621.0h0M312.9 546.2h0M222.0 610.3h0M206.8 617.5h0M256.4 604.0h0M249.1 605.1h0M246.2 592.8h0M259.8 625.6h0M291.1 581.0h0M311.0 554.6h0M243.7 597.7h0M274.4 595.4h0M210.8 599.4h0M306.8 548.0h0M291.0 580.2h0M208.3 629.5h0M209.5 629.5h0M274.0 593.4h0M223.1 624.6h0M207.5 607.4h0M281.4 576.7h0M215.3 610.7h0M207.1 613.5h0M210.1 619.5h0M263.5 585.1h0M212.9 620.8h0M268.0 583.7h0M219.4 625.2h0M286.9 575.4h0M283.9 573.9h0M208.5 611.5h0M313.2 546.1h0M244.4 594.2h0M280.8 587.2h0M239.0 594.9h0M304.7 554.6h0M207.2 621.4h0M209.6 620.6h0M312.1 554.7h0M223.7 616.7h0M218.5 608.6h0M303.6 547.9h0M232.4 613.8h0M221.5 581.9h0M207.6 627.5h0M250.8 604.8h0M300.3 572.3h0M312.3 562.8h0M289.8 587.4h0M206.7 609.6h0M300.5 560.0h0M213.8 621.3h0M313.5 547.7h0M295.1 578.7h0M310.5 557.3h0M276.6 605.5h0M268.9 591.9h0M307.4 557.4h0M257.4 598.0h0M294.1 580.1h0M290.3 545.1h0M219.0 624.4h0M206.7 615.7h0M217.7 626.2h0M206.7 629.5h0M249.0 601.0h0M299.8 571.5h0M253.0 597.1h0M262.3 589.6h0M295.4 576.7h0M208.6 629.5h0M284.6 562.5h0M244.0 593.4h0M263.7 593.1h0M240.8 622.6h0M207.1 629.5h0M210.3 621.0h0M210.5 620.2h0M255.5 600.8h0M206.7 606.6h0M217.1 623.9h0M271.6 582.3h0M259.9 598.4h0M207.7 612.0h0M252.1 625.7h0M211.3 619.9h0" stroke="#7a7a7a" stroke-width="2.4" fill="none" stroke-linecap="round" stroke-opacity="0.28"/>
<path d="M256.3 624.0h0M218.5 622.1h0M208.0 614.1h0M213.1 627.4h0M285.2 583.5h0M233.5 600.5h0M227.5 597.2h0M234.5 608.3h0M213.1 606.7h0M256.8 586.7h0M266.6 587.7h0M231.7 628.0h0M311.0 544.7h0M272.3 587.7h0M236.2 585.7h0M209.3 614.8h0M231.9 606.3h0M304.0 549.8h0M207.4 589.9h0M244.4 598.1h0M311.0 553.0h0M212.2 610.7h0M207.3 627.5h0M236.4 613.6h0M313.3 546.9h0M290.8 574.7h0M244.9 627.3h0M236.7 618.1h0M275.0 576.9h0M311.3 551.9h0M292.9 565.6h0M309.4 552.3h0M251.7 612.5h0M206.9 625.7h0M233.9 609.8h0M287.5 581.0h0M270.3 582.7h0M301.7 566.2h0M224.0 612.2h0M310.9 557.2h0M267.8 584.4h0M206.9 621.2h0M299.4 564.0h0M218.9 621.8h0M219.9 610.8h0M208.1 611.2h0M260.5 603.4h0M208.3 622.3h0M273.2 587.1h0M284.4 592.5h0M220.1 629.5h0M215.7 599.5h0M221.7 626.4h0M249.8 590.7h0M276.6 597.6h0M237.2 598.7h0M208.1 629.5h0M269.4 593.4h0M308.7 546.3h0M303.2 557.7h0M235.5 610.6h0M220.4 604.7h0M214.0 614.5h0M250.3 603.1h0M239.2 605.6h0M312.7 546.9h0M294.9 574.8h0M218.9 600.1h0M290.3 558.5h0M289.7 581.0h0M312.8 547.0h0M216.5 619.9h0M288.1 563.5h0M307.4 558.4h0M237.3 619.8h0M242.6 595.2h0M313.3 546.4h0M235.1 593.2h0M265.8 599.0h0M208.0 610.7h0M222.0 607.2h0M272.6 582.8h0M219.3 615.6h0M238.4 615.7h0M304.7 570.6h0M206.7 620.9h0M250.9 595.4h0M269.7 596.2h0M302.4 547.0h0M281.7 590.8h0M288.7 575.9h0M209.4 624.8h0M216.3 629.5h0M288.3 545.5h0M258.1 599.6h0M307.1 556.4h0M253.5 589.3h0M206.7 629.5h0M313.5 555.1h0M268.9 588.6h0M276.1 584.8h0M263.7 592.1h0M312.8 544.8h0M247.5 612.1h0M292.3 579.5h0M294.6 568.8h0M291.1 575.6h0M264.7 589.8h0M219.3 606.8h0M281.1 574.6h0M220.2 608.3h0M294.8 570.2h0M210.4 613.8h0M254.3 602.7h0M311.1 544.8h0M277.5 591.2h0M289.5 583.9h0M308.9 567.1h0M258.7 576.1h0M206.7 622.9h0M311.6 548.3h0M208.6 629.5h0" stroke="#7a7a7a" stroke-width="2.4" fill="none" stroke-linecap="round" stroke-opacity="0.28"/>
<path d="M251.6 595.1h0M269.7 594.3h0M215.0 624.1h0M271.8 603.3h0M239.1 609.2h0M211.2 615.2h0M209.3 620.9h0M219.1 607.1h0M237.7 601.4h0M250.2 598.1h0M275.4 590.3h0M282.1 596.9h0M220.1 612.6h0M287.4 581.7h0M266.4 598.4h0M267.4 588.5h0M223.9 607.7h0M221.3 614.6h0M286.3 612.2h0M293.9 582.1h0M267.1 617.5h0M208.5 596.9h0M231.2 603.1h0M305.1 554.9h0M300.2 568.7h0M207.4 624.0h0M214.8 612.7h0M233.1 602.9h0M261.1 595.6h0M259.2 594.2h0M306.2 563.7h0M287.1 565.4h0M274.7 582.8h0M207.9 629.5h0M233.7 608.4h0M291.3 558.7h0M267.7 589.1h0M272.2 594.8h0M269.1 579.4h0M241.5 604.3h0M206.7 629.5h0M286.2 578.4h0M234.9 601.0h0M282.2 584.6h0M250.6 603.1h0M217.1 605.2h0M221.6 587.4h0M292.3 600.0h0M248.7 545.3h0M312.1 555.1h0M211.2 610.7h0M304.1 546.3h0M208.3 622.0h0M247.7 602.6h0M256.2 588.7h0M231.3 613.8h0M300.2 546.2h0M207.1 603.0h0M308.4 547.4h0M291.0 560.4h0M313.0 546.5h0M273.6 582.6h0M226.1 615.6h0M310.5 546.2h0M266.9 596.9h0M276.5 547.9h0M308.3 553.2h0M291.8 587.1h0M312.4 546.2h0M207.5 614.5h0M223.0 606.0h0M310.3 549.2h0M284.8 593.0h0M306.2 554.4h0M297.5 563.3h0M218.1 583.8h0M250.5 594.0h0M258.2 588.9h0M234.4 564.8h0M279.0 582.1h0M206.7 621.9h0M312.5 544.7h0M206.7 608.4h0M249.8 613.2h0M291.4 585.4h0M312.8 553.6h0M226.2 623.5h0M248.3 589.8h0M268.4 588.7h0M260.7 590.5h0M300.7 567.9h0M281.5 578.0h0M303.8 563.6h0M209.5 616.7h0M242.3 579.1h0M231.0 592.1h0M243.5 594.0h0M207.8 625.6h0M226.2 611.6h0M288.2 583.6h0M248.5 608.1h0M225.8 610.7h0M307.5 551.0h0M284.9 596.6h0M239.5 593.6h0M272.9 581.0h0M239.4 615.4h0M296.3 568.2h0M270.8 583.4h0M235.8 605.2h0M206.7 617.3h0M235.6 605.8h0M207.8 619.4h0M252.2 600.6h0M217.4 596.7h0M227.1 623.0h0M313.5 549.4h0M255.6 587.7h0M210.8 613.2h0M263.9 598.7h0M292.4 570.1h0M270.3 583.5h0" stroke="#7a7a7a" stroke-width="2.4" fill="none" stroke-linecap="round" stroke-opacity="0.28"/>
<path d="M206.5 620.1L214.1 616.1L222.2 613.5L230.2 610.5L238.2 606.5L246.4 602.5L254.4 599.9L260.4 596.4L264.0 593.4L270.1 588.2L277.0 587.4L289.4 577.7L299.8 569.8L308.6 554.0L313.7 552.7" stroke="#3a3a3a" stroke-width="0.6" fill="none" stroke-linejoin="round"/>
<text x="259.80" y="538.24" text-anchor="middle">UdgX–APOBEC1–UdgX–nCas9-NG</text>
<text x="312.50" y="619.50" text-anchor="end"><tspan font-style="italic">R</tspan> = 0.87</text>
<text x="312.50" y="627.30" text-anchor="end"><tspan font-style="italic">n</tspan> = 1,716</text>
<text transform="translate(30.20,586.70) rotate(-90)" y="2.24" text-anchor="middle">Predicted frequency of repair to wild-type</text>
<text transform="translate(38.50,586.70) rotate(-90)" y="2.24" text-anchor="middle">amino acid sequence among all products</text>
<text transform="translate(46.80,586.70) rotate(-90)" y="2.24" text-anchor="middle">with edited amino acid sequences (%)</text>
<text x="125.00" y="649.84" text-anchor="middle">Observed frequency of repair to wild-type</text>
<text x="125.00" y="658.24" text-anchor="middle">amino acid sequence among all products</text>
<text x="125.00" y="666.54" text-anchor="middle">with edited amino acid sequences (%)</text>
<text x="260.00" y="649.84" text-anchor="middle">Observed frequency of repair to wild-type</text>
<text x="260.00" y="658.24" text-anchor="middle">amino acid sequence among all products</text>
<text x="260.00" y="666.54" text-anchor="middle">with edited amino acid sequences (%)</text>
<text x="195.00" y="676.84" text-anchor="middle">≥2 substrate nucleotides in editing window</text>
<circle cx="136.80" cy="683.40" r="1.5" fill="#c4c4c4"/>
<text x="141.00" y="685.64">No</text>
<path d="M190.5 681.8v3.2M189.1 682.6l2.8 1.6M189.1 684.2l2.8 -1.6" stroke="#555" stroke-width="0.6"/>
<text x="195.80" y="685.64">Yes</text>
<text x="349.3" y="371.2" font-family="&quot;Liberation Serif&quot;, serif" font-weight="bold" font-size="12.5">e</text>
<line x1="398.30" y1="371.00" x2="398.30" y2="495.80" stroke="#ececec" stroke-width="0.5"/>
<line x1="422.35" y1="371.00" x2="422.35" y2="495.80" stroke="#ececec" stroke-width="0.5"/>
<line x1="446.40" y1="371.00" x2="446.40" y2="495.80" stroke="#ececec" stroke-width="0.5"/>
<line x1="470.45" y1="371.00" x2="470.45" y2="495.80" stroke="#ececec" stroke-width="0.5"/>
<line x1="494.50" y1="371.00" x2="494.50" y2="495.80" stroke="#ececec" stroke-width="0.5"/>
<line x1="518.55" y1="371.00" x2="518.55" y2="495.80" stroke="#ececec" stroke-width="0.5"/>
<line x1="391.70" y1="489.70" x2="520.00" y2="489.70" stroke="#ececec" stroke-width="0.5"/>
<line x1="391.70" y1="472.60" x2="520.00" y2="472.60" stroke="#ececec" stroke-width="0.5"/>
<line x1="391.70" y1="455.50" x2="520.00" y2="455.50" stroke="#ececec" stroke-width="0.5"/>
<line x1="391.70" y1="438.40" x2="520.00" y2="438.40" stroke="#ececec" stroke-width="0.5"/>
<line x1="391.70" y1="421.30" x2="520.00" y2="421.30" stroke="#ececec" stroke-width="0.5"/>
<line x1="391.70" y1="404.20" x2="520.00" y2="404.20" stroke="#ececec" stroke-width="0.5"/>
<line x1="391.70" y1="387.10" x2="520.00" y2="387.10" stroke="#ececec" stroke-width="0.5"/>
<line x1="391.70" y1="495.80" x2="520.00" y2="495.80" stroke="#555" stroke-width="0.7"/>
<line x1="391.70" y1="371.00" x2="391.70" y2="495.80" stroke="#555" stroke-width="0.7"/>
<line x1="398.30" y1="495.80" x2="398.30" y2="498.30" stroke="#666" stroke-width="0.6"/>
<text x="398.30" y="506.44" text-anchor="middle">50</text>
<line x1="422.35" y1="495.80" x2="422.35" y2="498.30" stroke="#666" stroke-width="0.6"/>
<text x="422.35" y="506.44" text-anchor="middle">60</text>
<line x1="446.40" y1="495.80" x2="446.40" y2="498.30" stroke="#666" stroke-width="0.6"/>
<text x="446.40" y="506.44" text-anchor="middle">70</text>
<line x1="470.45" y1="495.80" x2="470.45" y2="498.30" stroke="#666" stroke-width="0.6"/>
<text x="470.45" y="506.44" text-anchor="middle">80</text>
<line x1="494.50" y1="495.80" x2="494.50" y2="498.30" stroke="#666" stroke-width="0.6"/>
<text x="494.50" y="506.44" text-anchor="middle">90</text>
<line x1="518.55" y1="495.80" x2="518.55" y2="498.30" stroke="#666" stroke-width="0.6"/>
<text x="518.55" y="506.44" text-anchor="middle">100</text>
<line x1="388.70" y1="489.70" x2="391.70" y2="489.70" stroke="#666" stroke-width="0.6"/>
<text x="386.50" y="491.94" text-anchor="end">0</text>
<line x1="388.70" y1="472.60" x2="391.70" y2="472.60" stroke="#666" stroke-width="0.6"/>
<text x="386.50" y="474.84" text-anchor="end">200</text>
<line x1="388.70" y1="455.50" x2="391.70" y2="455.50" stroke="#666" stroke-width="0.6"/>
<text x="386.50" y="457.74" text-anchor="end">400</text>
<line x1="388.70" y1="438.40" x2="391.70" y2="438.40" stroke="#666" stroke-width="0.6"/>
<text x="386.50" y="440.64" text-anchor="end">600</text>
<line x1="388.70" y1="421.30" x2="391.70" y2="421.30" stroke="#666" stroke-width="0.6"/>
<text x="386.50" y="423.54" text-anchor="end">800</text>
<line x1="388.70" y1="404.20" x2="391.70" y2="404.20" stroke="#666" stroke-width="0.6"/>
<text x="386.50" y="406.44" text-anchor="end">1,000</text>
<line x1="388.70" y1="387.10" x2="391.70" y2="387.10" stroke="#666" stroke-width="0.6"/>
<text x="386.50" y="389.34" text-anchor="end">1,200</text>
<path d="M398.3 435.1h0M400.7 436.7h0M403.1 438.4h0M405.5 440.0h0M407.9 441.7h0M410.3 443.4h0M412.7 444.9h0M415.1 446.4h0M417.5 448.0h0M419.9 449.5h0M422.4 451.1h0M424.8 452.6h0M427.2 454.1h0M429.6 455.7h0M432.0 457.2h0M434.4 458.7h0M436.8 460.2h0M439.2 461.6h0M441.6 463.0h0M444.0 464.4h0M446.4 465.8h0M448.8 466.9h0M451.2 468.1h0M453.6 469.2h0M456.0 470.3h0M458.4 471.5h0M460.8 472.5h0M463.2 473.6h0M465.6 474.7h0M468.0 475.7h0M470.4 476.8h0M472.9 477.8h0M475.3 478.9h0M477.7 479.9h0M480.1 481.0h0M482.5 482.0h0M484.9 483.0h0M487.3 484.0h0M489.7 485.0h0M492.1 485.9h0M494.5 486.8h0M496.9 487.4h0M499.3 488.1h0M501.7 488.4h0M504.1 488.8h0M506.5 488.9h0M508.9 489.1h0M511.3 489.2h0M513.7 489.4h0" stroke="#979797" stroke-width="2.5" fill="none" stroke-linecap="round"/>
<path d="M398.3 397.2h0M400.7 399.8h0M403.1 402.3h0M405.5 404.9h0M407.9 407.4h0M410.3 410.0h0M412.7 412.6h0M415.1 415.1h0M417.5 417.7h0M419.9 420.3h0M422.4 422.8h0M424.8 425.4h0M427.2 427.7h0M429.6 430.0h0M432.0 432.3h0M434.4 434.6h0M436.8 436.9h0M439.2 439.3h0M441.6 441.4h0M444.0 442.7h0M446.4 444.5h0M448.8 446.5h0M451.2 449.2h0M453.6 451.8h0M456.0 454.4h0M458.4 457.0h0M460.8 459.7h0M463.2 462.3h0M465.6 464.9h0M468.0 467.7h0M470.4 470.5h0M472.9 472.5h0M475.3 474.5h0M477.7 476.0h0M480.1 477.5h0M482.5 479.0h0M484.9 480.3h0M487.3 481.6h0M489.7 482.9h0M492.1 484.1h0M494.5 484.9h0M496.9 485.7h0M499.3 486.5h0M501.7 486.9h0M504.1 487.4h0M506.5 487.8h0M508.9 488.2h0M511.3 488.5h0M513.7 488.8h0" stroke="#e8403a" stroke-width="2.3" fill="none" stroke-linecap="round"/>
<path d="M398.3 385.8h0M400.7 388.1h0M403.1 390.3h0M405.5 392.6h0M407.9 394.9h0M410.3 397.1h0M412.7 399.4h0M415.1 401.7h0M417.5 403.9h0M419.9 406.2h0M422.4 408.5h0M424.8 411.2h0M427.2 413.9h0M429.6 416.6h0M432.0 419.2h0M434.4 421.9h0M436.8 424.6h0M439.2 427.3h0M441.6 430.0h0M444.0 432.7h0M446.4 435.4h0M448.8 438.2h0M451.2 441.1h0M453.6 443.9h0M456.0 446.7h0M458.4 449.5h0M460.8 452.3h0M463.2 455.2h0M465.6 458.0h0M468.0 460.3h0M470.4 462.6h0M472.9 464.9h0M475.3 467.2h0M477.7 469.1h0M480.1 471.0h0M482.5 472.9h0M484.9 474.9h0M487.3 476.8h0M489.7 478.8h0M492.1 480.7h0M494.5 482.1h0M496.9 483.4h0M499.3 484.7h0M501.7 485.5h0M504.1 486.3h0M506.5 487.1h0M508.9 487.6h0M511.3 488.2h0M513.7 488.6h0" stroke="#f2b01e" stroke-width="2.3" fill="none" stroke-linecap="round"/>
<path d="M398.3 381.5h0M400.7 383.9h0M403.1 386.2h0M405.5 388.6h0M407.9 390.9h0M410.3 393.3h0M412.7 395.6h0M415.1 398.0h0M417.5 400.4h0M419.9 402.7h0M422.4 405.1h0M424.8 407.6h0M427.2 410.2h0M429.6 412.8h0M432.0 415.3h0M434.4 417.9h0M436.8 420.4h0M439.2 423.0h0M441.6 425.6h0M444.0 428.1h0M446.4 430.7h0M448.8 433.2h0M451.2 435.8h0M453.6 438.3h0M456.0 440.9h0M458.4 443.4h0M460.8 446.0h0M463.2 448.5h0M465.6 451.1h0M468.0 453.7h0M470.4 456.3h0M472.9 458.9h0M475.3 461.5h0M477.7 463.6h0M480.1 465.8h0M482.5 467.9h0M484.9 470.4h0M487.3 472.8h0M489.7 475.3h0M492.1 477.7h0M494.5 479.6h0M496.9 481.4h0M499.3 483.3h0M501.7 484.3h0M504.1 485.3h0M506.5 486.3h0M508.9 487.0h0M511.3 487.8h0M513.7 488.3h0" stroke="#6cb33e" stroke-width="2.3" fill="none" stroke-linecap="round"/>
<path d="M398.3 377.0h0M400.7 379.3h0M403.1 381.6h0M405.5 383.9h0M407.9 386.2h0M410.3 388.5h0M412.7 390.8h0M415.1 393.1h0M417.5 395.3h0M419.9 397.6h0M422.4 399.9h0M424.8 402.7h0M427.2 405.4h0M429.6 408.1h0M432.0 410.9h0M434.4 413.6h0M436.8 416.3h0M439.2 419.1h0M441.6 421.8h0M444.0 424.5h0M446.4 427.3h0M448.8 429.8h0M451.2 432.4h0M453.6 434.9h0M456.0 437.4h0M458.4 439.9h0M460.8 442.5h0M463.2 445.0h0M465.6 447.5h0M468.0 450.2h0M470.4 452.8h0M472.9 455.3h0M475.3 457.8h0M477.7 460.3h0M480.1 462.8h0M482.5 465.3h0M484.9 467.9h0M487.3 470.5h0M489.7 473.0h0M492.1 475.6h0M494.5 478.2h0M496.9 479.7h0M499.3 481.3h0M501.7 482.9h0M504.1 484.3h0M506.5 485.7h0M508.9 486.6h0M511.3 487.6h0M513.7 488.2h0" stroke="#231f20" stroke-width="2.3" fill="none" stroke-linecap="round"/>
<circle cx="462.30" cy="380.30" r="2.2" fill="#e8403a"/>
<text x="467.40" y="382.54">BE-Hive top 1</text>
<circle cx="462.30" cy="389.30" r="2.2" fill="#f2b01e"/>
<text x="467.40" y="391.54">BE-Hive top 2</text>
<circle cx="462.30" cy="398.30" r="2.2" fill="#6cb33e"/>
<text x="467.40" y="400.54">BE-Hive top 3</text>
<circle cx="462.30" cy="407.30" r="2.2" fill="#231f20"/>
<text x="467.40" y="409.54">Best in hindsight</text>
<text x="396.00" y="474.94">Any single CGBE,</text>
<text x="396.00" y="482.74">in expectation</text>
<text transform="translate(353.40,434.00) rotate(-90)" y="2.24" text-anchor="middle">Number of</text>
<text transform="translate(361.60,434.00) rotate(-90)" y="2.24" text-anchor="middle">disease-related sgRNA–target pairs</text>
<text x="456.00" y="517.44" text-anchor="middle">Observed frequency of repair to the wild-type</text>
<text x="456.00" y="525.24" text-anchor="middle">genotype sequence among all edited reads (%)</text>
<line x1="399.10" y1="537.00" x2="399.10" y2="620.40" stroke="#ececec" stroke-width="0.5"/>
<line x1="423.20" y1="537.00" x2="423.20" y2="620.40" stroke="#ececec" stroke-width="0.5"/>
<line x1="447.30" y1="537.00" x2="447.30" y2="620.40" stroke="#ececec" stroke-width="0.5"/>
<line x1="471.40" y1="537.00" x2="471.40" y2="620.40" stroke="#ececec" stroke-width="0.5"/>
<line x1="495.50" y1="537.00" x2="495.50" y2="620.40" stroke="#ececec" stroke-width="0.5"/>
<line x1="519.60" y1="537.00" x2="519.60" y2="620.40" stroke="#ececec" stroke-width="0.5"/>
<line x1="392.30" y1="620.20" x2="520.00" y2="620.20" stroke="#ececec" stroke-width="0.5"/>
<line x1="392.30" y1="604.38" x2="520.00" y2="604.38" stroke="#ececec" stroke-width="0.5"/>
<line x1="392.30" y1="588.56" x2="520.00" y2="588.56" stroke="#ececec" stroke-width="0.5"/>
<line x1="392.30" y1="572.74" x2="520.00" y2="572.74" stroke="#ececec" stroke-width="0.5"/>
<line x1="392.30" y1="556.92" x2="520.00" y2="556.92" stroke="#ececec" stroke-width="0.5"/>
<line x1="392.30" y1="541.10" x2="520.00" y2="541.10" stroke="#ececec" stroke-width="0.5"/>
<line x1="392.30" y1="620.40" x2="520.00" y2="620.40" stroke="#555" stroke-width="0.7"/>
<line x1="392.30" y1="537.00" x2="392.30" y2="620.40" stroke="#555" stroke-width="0.7"/>
<line x1="399.10" y1="620.40" x2="399.10" y2="622.90" stroke="#666" stroke-width="0.6"/>
<text x="399.10" y="631.04" text-anchor="middle">50</text>
<line x1="423.20" y1="620.40" x2="423.20" y2="622.90" stroke="#666" stroke-width="0.6"/>
<text x="423.20" y="631.04" text-anchor="middle">60</text>
<line x1="447.30" y1="620.40" x2="447.30" y2="622.90" stroke="#666" stroke-width="0.6"/>
<text x="447.30" y="631.04" text-anchor="middle">70</text>
<line x1="471.40" y1="620.40" x2="471.40" y2="622.90" stroke="#666" stroke-width="0.6"/>
<text x="471.40" y="631.04" text-anchor="middle">80</text>
<line x1="495.50" y1="620.40" x2="495.50" y2="622.90" stroke="#666" stroke-width="0.6"/>
<text x="495.50" y="631.04" text-anchor="middle">90</text>
<line x1="519.60" y1="620.40" x2="519.60" y2="622.90" stroke="#666" stroke-width="0.6"/>
<text x="519.60" y="631.04" text-anchor="middle">100</text>
<line x1="389.30" y1="620.20" x2="392.30" y2="620.20" stroke="#666" stroke-width="0.6"/>
<text x="387.10" y="622.44" text-anchor="end">1</text>
<line x1="389.30" y1="604.38" x2="392.30" y2="604.38" stroke="#666" stroke-width="0.6"/>
<text x="387.10" y="606.62" text-anchor="end">2</text>
<line x1="389.30" y1="588.56" x2="392.30" y2="588.56" stroke="#666" stroke-width="0.6"/>
<text x="387.10" y="590.80" text-anchor="end">3</text>
<line x1="389.30" y1="572.74" x2="392.30" y2="572.74" stroke="#666" stroke-width="0.6"/>
<text x="387.10" y="574.98" text-anchor="end">4</text>
<line x1="389.30" y1="556.92" x2="392.30" y2="556.92" stroke="#666" stroke-width="0.6"/>
<text x="387.10" y="559.16" text-anchor="end">5</text>
<line x1="389.30" y1="541.10" x2="392.30" y2="541.10" stroke="#666" stroke-width="0.6"/>
<text x="387.10" y="543.34" text-anchor="end">6</text>
<path d="M399.1 609.8h0M401.5 609.7h0M403.9 609.6h0M406.3 609.6h0M408.7 609.5h0M411.2 609.4h0M413.6 609.4h0M416.0 609.3h0M418.4 609.3h0M420.8 609.2h0M423.2 609.1h0M425.6 609.0h0M428.0 608.9h0M430.4 608.8h0M432.8 608.7h0M435.2 608.7h0M437.7 608.6h0M440.1 608.5h0M442.5 608.4h0M444.9 608.3h0M447.3 608.2h0M449.7 608.1h0M452.1 608.0h0M454.5 607.9h0M456.9 607.8h0M459.4 607.7h0M461.8 607.6h0M464.2 607.5h0M466.6 607.8h0M469.0 608.0h0M471.4 608.2h0M473.8 608.7h0M476.2 609.1h0M478.6 609.8h0M481.0 608.8h0M483.5 607.9h0M485.9 606.9h0M488.3 608.2h0M490.7 608.5h0M493.1 608.8h0M495.5 608.2h0M497.9 607.2h0M500.3 606.8h0M502.7 606.3h0M505.1 605.8h0M507.6 605.3h0M510.0 606.9h0M512.4 606.3h0M514.8 611.0h0" stroke="#e8403a" stroke-width="2.3" fill="none" stroke-linecap="round"/>
<path d="M399.1 606.9h0M401.5 606.7h0M403.9 606.4h0M406.3 606.2h0M408.7 605.9h0M411.2 605.6h0M413.6 605.4h0M416.0 605.1h0M418.4 604.9h0M420.8 604.6h0M423.2 604.4h0M425.6 604.1h0M428.0 603.8h0M430.4 603.5h0M432.8 603.2h0M435.2 603.0h0M437.7 602.7h0M440.1 602.4h0M442.5 602.1h0M444.9 601.8h0M447.3 601.5h0M449.7 601.2h0M452.1 600.8h0M454.5 600.4h0M456.9 600.1h0M459.4 599.7h0M461.8 599.3h0M464.2 598.9h0M466.6 598.4h0M469.0 597.6h0M471.4 596.8h0M473.8 596.2h0M476.2 595.5h0M478.6 594.9h0M481.0 593.7h0M483.5 592.5h0M485.9 591.8h0M488.3 592.0h0M490.7 589.2h0M493.1 586.7h0M495.5 586.7h0M497.9 586.7h0M500.3 581.6h0M502.7 578.8h0M505.1 578.3h0M507.6 579.1h0M510.0 574.0h0M512.4 571.2h0M514.8 579.1h0" stroke="#f2b01e" stroke-width="2.3" fill="none" stroke-linecap="round"/>
<path d="M399.1 605.3h0M401.5 604.9h0M403.9 604.4h0M406.3 603.9h0M408.7 603.4h0M411.2 603.0h0M413.6 602.5h0M416.0 602.0h0M418.4 601.5h0M420.8 601.1h0M423.2 600.6h0M425.6 600.1h0M428.0 599.6h0M430.4 599.2h0M432.8 598.7h0M435.2 598.2h0M437.7 597.7h0M440.1 597.3h0M442.5 596.8h0M444.9 596.3h0M447.3 595.8h0M449.7 595.1h0M452.1 594.4h0M454.5 593.6h0M456.9 592.9h0M459.4 592.1h0M461.8 591.4h0M464.2 590.7h0M466.6 589.7h0M469.0 588.3h0M471.4 586.8h0M473.8 585.4h0M476.2 584.0h0M478.6 582.5h0M481.0 580.5h0M483.5 578.4h0M485.9 576.4h0M488.3 575.2h0M490.7 574.0h0M493.1 570.2h0M495.5 569.6h0M497.9 569.3h0M500.3 562.9h0M502.7 559.3h0M505.1 558.8h0M507.6 560.7h0M510.0 562.0h0M512.4 562.9h0M514.8 573.1h0" stroke="#6cb33e" stroke-width="2.3" fill="none" stroke-linecap="round"/>
<path d="M399.1 603.7h0M401.5 603.2h0M403.9 602.6h0M406.3 602.1h0M408.7 601.5h0M411.2 601.1h0M413.6 600.6h0M416.0 600.1h0M418.4 599.6h0M420.8 599.2h0M423.2 598.7h0M425.6 598.2h0M428.0 597.6h0M430.4 597.1h0M432.8 596.6h0M435.2 596.0h0M437.7 595.5h0M440.1 594.9h0M442.5 594.3h0M444.9 593.6h0M447.3 593.0h0M449.7 592.3h0M452.1 591.6h0M454.5 590.9h0M456.9 590.1h0M459.4 589.1h0M461.8 588.0h0M464.2 586.9h0M466.6 585.9h0M469.0 584.2h0M471.4 582.5h0M473.8 580.5h0M476.2 578.4h0M478.6 576.4h0M481.0 574.7h0M483.5 573.1h0M485.9 571.3h0M488.3 569.3h0M490.7 564.5h0M493.1 560.7h0M495.5 558.8h0M497.9 556.9h0M500.3 550.3h0M502.7 548.7h0M505.1 546.0h0M507.6 547.9h0M510.0 547.4h0M512.4 545.5h0M514.8 541.1h0" stroke="#231f20" stroke-width="2.3" fill="none" stroke-linecap="round"/>
<text transform="translate(367.40,578.00) rotate(-90)" y="2.24" text-anchor="middle">Ratio between using BE-Hive versus</text>
<text transform="translate(375.80,578.00) rotate(-90)" y="2.24" text-anchor="middle">any single CGBE in expectation</text>
<text x="457.00" y="642.04" text-anchor="middle">Observed frequency of repair to the wild-type</text>
<text x="457.00" y="650.44" text-anchor="middle">genotype sequence among all edited reads (%)</text>
<line x1="557.30" y1="368.00" x2="557.30" y2="495.90" stroke="#ececec" stroke-width="0.5"/>
<line x1="576.63" y1="368.00" x2="576.63" y2="495.90" stroke="#ececec" stroke-width="0.5"/>
<line x1="595.96" y1="368.00" x2="595.96" y2="495.90" stroke="#ececec" stroke-width="0.5"/>
<line x1="615.29" y1="368.00" x2="615.29" y2="495.90" stroke="#ececec" stroke-width="0.5"/>
<line x1="634.62" y1="368.00" x2="634.62" y2="495.90" stroke="#ececec" stroke-width="0.5"/>
<line x1="653.95" y1="368.00" x2="653.95" y2="495.90" stroke="#ececec" stroke-width="0.5"/>
<line x1="673.28" y1="368.00" x2="673.28" y2="495.90" stroke="#ececec" stroke-width="0.5"/>
<line x1="550.40" y1="490.20" x2="680.00" y2="490.20" stroke="#ececec" stroke-width="0.5"/>
<line x1="550.40" y1="469.50" x2="680.00" y2="469.50" stroke="#ececec" stroke-width="0.5"/>
<line x1="550.40" y1="448.80" x2="680.00" y2="448.80" stroke="#ececec" stroke-width="0.5"/>
<line x1="550.40" y1="428.10" x2="680.00" y2="428.10" stroke="#ececec" stroke-width="0.5"/>
<line x1="550.40" y1="407.40" x2="680.00" y2="407.40" stroke="#ececec" stroke-width="0.5"/>
<line x1="550.40" y1="386.70" x2="680.00" y2="386.70" stroke="#ececec" stroke-width="0.5"/>
<line x1="550.40" y1="495.90" x2="680.00" y2="495.90" stroke="#555" stroke-width="0.7"/>
<line x1="550.40" y1="368.00" x2="550.40" y2="495.90" stroke="#555" stroke-width="0.7"/>
<line x1="557.30" y1="495.90" x2="557.30" y2="498.40" stroke="#666" stroke-width="0.6"/>
<text x="557.30" y="506.54" text-anchor="middle">20</text>
<line x1="576.63" y1="495.90" x2="576.63" y2="498.40" stroke="#666" stroke-width="0.6"/>
<text x="576.63" y="506.54" text-anchor="middle">25</text>
<line x1="595.96" y1="495.90" x2="595.96" y2="498.40" stroke="#666" stroke-width="0.6"/>
<text x="595.96" y="506.54" text-anchor="middle">30</text>
<line x1="615.29" y1="495.90" x2="615.29" y2="498.40" stroke="#666" stroke-width="0.6"/>
<text x="615.29" y="506.54" text-anchor="middle">35</text>
<line x1="634.62" y1="495.90" x2="634.62" y2="498.40" stroke="#666" stroke-width="0.6"/>
<text x="634.62" y="506.54" text-anchor="middle">40</text>
<line x1="653.95" y1="495.90" x2="653.95" y2="498.40" stroke="#666" stroke-width="0.6"/>
<text x="653.95" y="506.54" text-anchor="middle">45</text>
<line x1="673.28" y1="495.90" x2="673.28" y2="498.40" stroke="#666" stroke-width="0.6"/>
<text x="673.28" y="506.54" text-anchor="middle">50</text>
<line x1="547.40" y1="490.20" x2="550.40" y2="490.20" stroke="#666" stroke-width="0.6"/>
<text x="545.20" y="492.44" text-anchor="end">0</text>
<line x1="547.40" y1="469.50" x2="550.40" y2="469.50" stroke="#666" stroke-width="0.6"/>
<text x="545.20" y="471.74" text-anchor="end">100</text>
<line x1="547.40" y1="448.80" x2="550.40" y2="448.80" stroke="#666" stroke-width="0.6"/>
<text x="545.20" y="451.04" text-anchor="end">200</text>
<line x1="547.40" y1="428.10" x2="550.40" y2="428.10" stroke="#666" stroke-width="0.6"/>
<text x="545.20" y="430.34" text-anchor="end">300</text>
<line x1="547.40" y1="407.40" x2="550.40" y2="407.40" stroke="#666" stroke-width="0.6"/>
<text x="545.20" y="409.64" text-anchor="end">400</text>
<line x1="547.40" y1="386.70" x2="550.40" y2="386.70" stroke="#666" stroke-width="0.6"/>
<text x="545.20" y="388.94" text-anchor="end">500</text>
<path d="M557.3 450.7h0M561.2 454.2h0M565.0 457.9h0M568.9 461.4h0M572.8 464.3h0M576.6 467.0h0M580.5 469.1h0M584.4 471.6h0M588.2 473.6h0M592.1 475.3h0M596.0 477.2h0M599.8 478.6h0M603.7 479.8h0M607.6 480.9h0M611.4 482.1h0M615.3 483.2h0M619.2 484.2h0M623.0 485.0h0M626.9 485.6h0M630.8 486.1h0M634.6 486.5h0M638.5 487.1h0M642.4 487.7h0M646.2 488.1h0M650.1 488.5h0M653.9 488.8h0M657.8 489.0h0M661.7 489.2h0M665.5 489.4h0M669.4 489.6h0M673.3 489.6h0" stroke="#979797" stroke-width="2.5" fill="none" stroke-linecap="round"/>
<path d="M557.3 386.7h0M561.2 394.4h0M565.0 403.1h0M568.9 408.4h0M572.8 415.5h0M576.6 421.9h0M580.5 428.9h0M584.4 433.9h0M588.2 439.5h0M592.1 444.2h0M596.0 448.6h0M599.8 452.3h0M603.7 456.3h0M607.6 459.6h0M611.4 462.7h0M615.3 467.0h0M619.2 470.3h0M623.0 472.8h0M626.9 476.7h0M630.8 478.6h0M634.6 481.1h0M638.5 482.5h0M642.4 484.0h0M646.2 485.2h0M650.1 485.9h0M653.9 486.5h0M657.8 487.3h0M661.7 487.9h0M665.5 488.3h0M669.4 488.5h0M673.3 488.5h0" stroke="#e8403a" stroke-width="2.3" fill="none" stroke-linecap="round"/>
<path d="M557.3 375.7h0M561.2 383.4h0M565.0 392.9h0M568.9 399.3h0M572.8 406.8h0M576.6 415.1h0M580.5 422.9h0M584.4 428.5h0M588.2 434.5h0M592.1 439.3h0M596.0 444.7h0M599.8 448.2h0M603.7 452.3h0M607.6 457.3h0M611.4 460.6h0M615.3 464.5h0M619.2 468.1h0M623.0 471.2h0M626.9 474.5h0M630.8 477.6h0M634.6 480.5h0M638.5 482.1h0M642.4 483.6h0M646.2 484.8h0M650.1 485.4h0M653.9 486.5h0M657.8 487.1h0M661.7 487.7h0M665.5 487.9h0M669.4 488.1h0M673.3 488.1h0" stroke="#6cb33e" stroke-width="2.3" fill="none" stroke-linecap="round"/>
<path d="M557.3 376.4h0M561.2 384.0h0M565.0 393.5h0M568.9 399.9h0M572.8 407.4h0M576.6 415.7h0M580.5 423.5h0M584.4 429.1h0M588.2 435.1h0M592.1 439.9h0M596.0 445.3h0M599.8 448.8h0M603.7 452.9h0M607.6 457.9h0M611.4 461.2h0M615.3 465.2h0M619.2 468.7h0M623.0 471.8h0M626.9 475.1h0M630.8 478.2h0M634.6 481.1h0M638.5 482.7h0M642.4 484.2h0M646.2 485.4h0M650.1 486.1h0M653.9 487.1h0M657.8 487.7h0M661.7 488.3h0M665.5 488.5h0M669.4 488.8h0M673.3 488.8h0" stroke="#f2b01e" stroke-width="2.3" fill="none" stroke-linecap="round"/>
<path d="M557.3 375.3h0M561.2 383.0h0M565.0 392.5h0M568.9 398.9h0M572.8 406.4h0M576.6 414.6h0M580.5 422.5h0M584.4 428.1h0M588.2 434.1h0M592.1 438.9h0M596.0 444.2h0M599.8 447.8h0M603.7 451.9h0M607.6 456.9h0M611.4 460.2h0M615.3 464.1h0M619.2 467.6h0M623.0 470.7h0M626.9 474.1h0M630.8 477.2h0M634.6 480.1h0M638.5 481.7h0M642.4 483.2h0M646.2 484.4h0M650.1 485.0h0M653.9 486.1h0M657.8 486.7h0M661.7 487.3h0M665.5 487.5h0M669.4 487.7h0M673.3 487.7h0" stroke="#231f20" stroke-width="2.3" fill="none" stroke-linecap="round"/>
<text x="614.80" y="517.54" text-anchor="middle">Observed frequency of repair to the wild-type</text>
<text x="614.80" y="525.44" text-anchor="middle">genotype sequence among all reads (%)</text>
<line x1="556.40" y1="542.50" x2="556.40" y2="620.40" stroke="#ececec" stroke-width="0.5"/>
<line x1="591.80" y1="542.50" x2="591.80" y2="620.40" stroke="#ececec" stroke-width="0.5"/>
<line x1="627.20" y1="542.50" x2="627.20" y2="620.40" stroke="#ececec" stroke-width="0.5"/>
<line x1="662.60" y1="542.50" x2="662.60" y2="620.40" stroke="#ececec" stroke-width="0.5"/>
<line x1="550.40" y1="620.20" x2="668.40" y2="620.20" stroke="#ececec" stroke-width="0.5"/>
<line x1="550.40" y1="605.25" x2="668.40" y2="605.25" stroke="#ececec" stroke-width="0.5"/>
<line x1="550.40" y1="590.30" x2="668.40" y2="590.30" stroke="#ececec" stroke-width="0.5"/>
<line x1="550.40" y1="575.35" x2="668.40" y2="575.35" stroke="#ececec" stroke-width="0.5"/>
<line x1="550.40" y1="560.40" x2="668.40" y2="560.40" stroke="#ececec" stroke-width="0.5"/>
<line x1="550.40" y1="545.45" x2="668.40" y2="545.45" stroke="#ececec" stroke-width="0.5"/>
<line x1="550.40" y1="620.40" x2="668.40" y2="620.40" stroke="#555" stroke-width="0.7"/>
<line x1="550.40" y1="542.50" x2="550.40" y2="620.40" stroke="#555" stroke-width="0.7"/>
<line x1="556.40" y1="620.40" x2="556.40" y2="622.90" stroke="#666" stroke-width="0.6"/>
<text x="556.40" y="631.04" text-anchor="middle">20</text>
<line x1="591.80" y1="620.40" x2="591.80" y2="622.90" stroke="#666" stroke-width="0.6"/>
<text x="591.80" y="631.04" text-anchor="middle">30</text>
<line x1="627.20" y1="620.40" x2="627.20" y2="622.90" stroke="#666" stroke-width="0.6"/>
<text x="627.20" y="631.04" text-anchor="middle">40</text>
<line x1="662.60" y1="620.40" x2="662.60" y2="622.90" stroke="#666" stroke-width="0.6"/>
<text x="662.60" y="631.04" text-anchor="middle">50</text>
<line x1="547.40" y1="620.20" x2="550.40" y2="620.20" stroke="#666" stroke-width="0.6"/>
<text x="545.20" y="622.44" text-anchor="end">1</text>
<line x1="547.40" y1="605.25" x2="550.40" y2="605.25" stroke="#666" stroke-width="0.6"/>
<text x="545.20" y="607.49" text-anchor="end">2</text>
<line x1="547.40" y1="590.30" x2="550.40" y2="590.30" stroke="#666" stroke-width="0.6"/>
<text x="545.20" y="592.54" text-anchor="end">3</text>
<line x1="547.40" y1="575.35" x2="550.40" y2="575.35" stroke="#666" stroke-width="0.6"/>
<text x="545.20" y="577.59" text-anchor="end">4</text>
<line x1="547.40" y1="560.40" x2="550.40" y2="560.40" stroke="#666" stroke-width="0.6"/>
<text x="545.20" y="562.64" text-anchor="end">5</text>
<line x1="547.40" y1="545.45" x2="550.40" y2="545.45" stroke="#666" stroke-width="0.6"/>
<text x="545.20" y="547.69" text-anchor="end">6</text>
<path d="M556.4 596.0h0M559.9 595.7h0M563.5 594.2h0M567.0 593.0h0M570.6 591.9h0M574.1 590.7h0M577.6 589.3h0M581.2 588.1h0M584.7 586.9h0M588.3 584.6h0M591.8 582.2h0M595.3 580.1h0M598.9 578.9h0M602.4 576.4h0M606.0 575.8h0M609.5 574.5h0M613.0 574.0h0M616.6 570.9h0M620.1 572.7h0M623.7 572.4h0M627.2 573.1h0M630.7 570.1h0M634.3 575.5h0M637.8 575.5h0M641.4 571.5h0M644.9 562.6h0M648.4 560.0h0" stroke="#e8403a" stroke-width="2.3" fill="none" stroke-linecap="round"/>
<path d="M556.4 592.7h0M559.9 591.8h0M563.5 590.4h0M567.0 589.6h0M570.6 588.2h0M574.1 587.3h0M577.6 585.7h0M581.2 584.9h0M584.7 583.1h0M588.3 580.0h0M591.8 577.9h0M595.3 574.6h0M598.9 573.0h0M602.4 571.6h0M606.0 570.9h0M609.5 569.1h0M613.0 567.3h0M616.6 565.9h0M620.1 561.7h0M623.7 560.5h0M627.2 561.4h0M630.7 559.7h0M634.3 560.4h0M637.8 559.2h0M641.4 560.0h0M644.9 555.9h0M648.4 552.9h0M652.0 553.7h0M655.5 553.7h0M659.1 554.4h0M662.6 555.2h0" stroke="#f2b01e" stroke-width="2.3" fill="none" stroke-linecap="round"/>
<path d="M556.4 591.9h0M559.9 591.0h0M563.5 589.7h0M567.0 588.8h0M570.6 587.5h0M574.1 586.6h0M577.6 584.9h0M581.2 584.2h0M584.7 582.4h0M588.3 579.2h0M591.8 577.1h0M595.3 573.9h0M598.9 572.2h0M602.4 570.9h0M606.0 570.1h0M609.5 568.3h0M613.0 566.5h0M616.6 565.2h0M620.1 560.7h0M623.7 560.3h0M627.2 560.7h0M630.7 558.6h0M634.3 559.1h0M637.8 556.5h0M641.4 554.3h0M644.9 558.3h0M648.4 555.2h0M652.0 552.9h0M655.5 552.9h0M659.1 553.8h0M662.6 554.7h0" stroke="#6cb33e" stroke-width="2.3" fill="none" stroke-linecap="round"/>
<path d="M556.4 591.2h0M559.9 590.3h0M563.5 589.0h0M567.0 588.1h0M570.6 586.7h0M574.1 585.8h0M577.6 584.2h0M581.2 583.4h0M584.7 581.6h0M588.3 578.5h0M591.8 576.4h0M595.3 573.1h0M598.9 571.5h0M602.4 570.1h0M606.0 569.4h0M609.5 567.6h0M613.0 565.8h0M616.6 564.4h0M620.1 560.0h0M623.7 559.5h0M627.2 560.0h0M630.7 557.9h0M634.3 558.3h0M637.8 553.8h0M641.4 551.3h0M644.9 554.3h0M648.4 550.4h0M652.0 545.5h0M655.5 545.5h0M659.1 545.5h0M662.6 545.5h0" stroke="#231f20" stroke-width="2.3" fill="none" stroke-linecap="round"/>
<text x="609.60" y="641.84" text-anchor="middle">Observed frequency of repair to the wild-type</text>
<text x="609.60" y="649.24" text-anchor="middle">genotype sequence among all reads (%)</text>
<text x="3.20" y="704.50" font-weight="bold" font-size="10">f</text>
<line x1="53.55" y1="811.60" x2="53.55" y2="708.66" stroke="#d0d0d0" stroke-width="1.2"/>
<line x1="50.90" y1="811.60" x2="157.15" y2="811.60" stroke="#555" stroke-width="0.6"/>
<line x1="52.40" y1="707.36" x2="52.40" y2="811.60" stroke="#555" stroke-width="0.6"/>
<line x1="52.40" y1="811.60" x2="52.40" y2="813.60" stroke="#555" stroke-width="0.6"/>
<text x="52.40" y="822.14" text-anchor="middle">0</text>
<line x1="73.35" y1="811.60" x2="73.35" y2="813.60" stroke="#555" stroke-width="0.6"/>
<text x="73.35" y="822.14" text-anchor="middle">10</text>
<line x1="94.30" y1="811.60" x2="94.30" y2="813.60" stroke="#555" stroke-width="0.6"/>
<text x="94.30" y="822.14" text-anchor="middle">20</text>
<line x1="115.25" y1="811.60" x2="115.25" y2="813.60" stroke="#555" stroke-width="0.6"/>
<text x="115.25" y="822.14" text-anchor="middle">30</text>
<line x1="136.20" y1="811.60" x2="136.20" y2="813.60" stroke="#555" stroke-width="0.6"/>
<text x="136.20" y="822.14" text-anchor="middle">40</text>
<line x1="157.15" y1="811.60" x2="157.15" y2="813.60" stroke="#555" stroke-width="0.6"/>
<text x="157.15" y="822.14" text-anchor="middle">50</text>
<line x1="50.40" y1="811.60" x2="52.40" y2="811.60" stroke="#555" stroke-width="0.6"/>
<text x="48.60" y="813.84" text-anchor="end">0</text>
<line x1="50.40" y1="798.57" x2="52.40" y2="798.57" stroke="#555" stroke-width="0.6"/>
<text x="48.60" y="800.81" text-anchor="end">10</text>
<line x1="50.40" y1="785.54" x2="52.40" y2="785.54" stroke="#555" stroke-width="0.6"/>
<text x="48.60" y="787.78" text-anchor="end">20</text>
<line x1="50.40" y1="772.51" x2="52.40" y2="772.51" stroke="#555" stroke-width="0.6"/>
<text x="48.60" y="774.75" text-anchor="end">30</text>
<line x1="50.40" y1="759.48" x2="52.40" y2="759.48" stroke="#555" stroke-width="0.6"/>
<text x="48.60" y="761.72" text-anchor="end">40</text>
<line x1="50.40" y1="746.45" x2="52.40" y2="746.45" stroke="#555" stroke-width="0.6"/>
<text x="48.60" y="748.69" text-anchor="end">50</text>
<line x1="50.40" y1="733.42" x2="52.40" y2="733.42" stroke="#555" stroke-width="0.6"/>
<text x="48.60" y="735.66" text-anchor="end">60</text>
<line x1="50.40" y1="720.39" x2="52.40" y2="720.39" stroke="#555" stroke-width="0.6"/>
<text x="48.60" y="722.63" text-anchor="end">70</text>
<line x1="50.40" y1="707.36" x2="52.40" y2="707.36" stroke="#555" stroke-width="0.6"/>
<text x="48.60" y="709.60" text-anchor="end">80</text>
<line x1="53.45" y1="766.00" x2="53.45" y2="708.66" stroke="#8c8c8c" stroke-width="0.45"/>
<line x1="52.45" y1="766.00" x2="54.45" y2="766.00" stroke="#8c8c8c" stroke-width="0.45"/>
<line x1="52.45" y1="708.66" x2="54.45" y2="708.66" stroke="#8c8c8c" stroke-width="0.45"/>
<line x1="52.57" y1="726.90" x2="52.57" y2="708.66" stroke="#8c8c8c" stroke-width="0.45"/>
<line x1="51.57" y1="726.90" x2="53.57" y2="726.90" stroke="#8c8c8c" stroke-width="0.45"/>
<line x1="51.57" y1="708.66" x2="53.57" y2="708.66" stroke="#8c8c8c" stroke-width="0.45"/>
<line x1="59.94" y1="734.98" x2="59.94" y2="718.44" stroke="#8c8c8c" stroke-width="0.45"/>
<line x1="58.94" y1="734.98" x2="60.94" y2="734.98" stroke="#8c8c8c" stroke-width="0.45"/>
<line x1="58.94" y1="718.44" x2="60.94" y2="718.44" stroke="#8c8c8c" stroke-width="0.45"/>
<line x1="64.76" y1="726.38" x2="64.76" y2="713.74" stroke="#8c8c8c" stroke-width="0.45"/>
<line x1="63.76" y1="726.38" x2="65.76" y2="726.38" stroke="#8c8c8c" stroke-width="0.45"/>
<line x1="63.76" y1="713.74" x2="65.76" y2="713.74" stroke="#8c8c8c" stroke-width="0.45"/>
<line x1="63.29" y1="718.96" x2="66.23" y2="718.96" stroke="#8c8c8c" stroke-width="0.45"/>
<line x1="63.29" y1="717.96" x2="63.29" y2="719.96" stroke="#8c8c8c" stroke-width="0.45"/>
<line x1="66.23" y1="717.96" x2="66.23" y2="719.96" stroke="#8c8c8c" stroke-width="0.45"/>
<line x1="77.12" y1="720.65" x2="77.12" y2="712.57" stroke="#8c8c8c" stroke-width="0.45"/>
<line x1="76.12" y1="720.65" x2="78.12" y2="720.65" stroke="#8c8c8c" stroke-width="0.45"/>
<line x1="76.12" y1="712.57" x2="78.12" y2="712.57" stroke="#8c8c8c" stroke-width="0.45"/>
<line x1="73.98" y1="716.61" x2="80.05" y2="716.61" stroke="#8c8c8c" stroke-width="0.45"/>
<line x1="73.98" y1="715.61" x2="73.98" y2="717.61" stroke="#8c8c8c" stroke-width="0.45"/>
<line x1="80.05" y1="715.61" x2="80.05" y2="717.61" stroke="#8c8c8c" stroke-width="0.45"/>
<line x1="82.36" y1="723.65" x2="82.36" y2="711.40" stroke="#8c8c8c" stroke-width="0.45"/>
<line x1="81.36" y1="723.65" x2="83.36" y2="723.65" stroke="#8c8c8c" stroke-width="0.45"/>
<line x1="81.36" y1="711.40" x2="83.36" y2="711.40" stroke="#8c8c8c" stroke-width="0.45"/>
<line x1="81.31" y1="717.00" x2="88.02" y2="717.00" stroke="#8c8c8c" stroke-width="0.45"/>
<line x1="81.31" y1="716.00" x2="81.31" y2="718.00" stroke="#8c8c8c" stroke-width="0.45"/>
<line x1="88.02" y1="716.00" x2="88.02" y2="718.00" stroke="#8c8c8c" stroke-width="0.45"/>
<line x1="95.35" y1="726.38" x2="95.35" y2="713.61" stroke="#8c8c8c" stroke-width="0.45"/>
<line x1="94.35" y1="726.38" x2="96.35" y2="726.38" stroke="#8c8c8c" stroke-width="0.45"/>
<line x1="94.35" y1="713.61" x2="96.35" y2="713.61" stroke="#8c8c8c" stroke-width="0.45"/>
<line x1="88.85" y1="719.74" x2="101.84" y2="719.74" stroke="#8c8c8c" stroke-width="0.45"/>
<line x1="88.85" y1="718.74" x2="88.85" y2="720.74" stroke="#8c8c8c" stroke-width="0.45"/>
<line x1="101.84" y1="718.74" x2="101.84" y2="720.74" stroke="#8c8c8c" stroke-width="0.45"/>
<line x1="97.65" y1="715.83" x2="106.45" y2="715.83" stroke="#8c8c8c" stroke-width="0.45"/>
<line x1="97.65" y1="714.83" x2="97.65" y2="716.83" stroke="#8c8c8c" stroke-width="0.45"/>
<line x1="106.45" y1="714.83" x2="106.45" y2="716.83" stroke="#8c8c8c" stroke-width="0.45"/>
<line x1="102.89" y1="725.08" x2="125.52" y2="725.08" stroke="#8c8c8c" stroke-width="0.45"/>
<line x1="102.89" y1="724.08" x2="102.89" y2="726.08" stroke="#8c8c8c" stroke-width="0.45"/>
<line x1="125.52" y1="724.08" x2="125.52" y2="726.08" stroke="#8c8c8c" stroke-width="0.45"/>
<line x1="125.31" y1="727.56" x2="125.31" y2="721.69" stroke="#8c8c8c" stroke-width="0.45"/>
<line x1="124.31" y1="727.56" x2="126.31" y2="727.56" stroke="#8c8c8c" stroke-width="0.45"/>
<line x1="124.31" y1="721.69" x2="126.31" y2="721.69" stroke="#8c8c8c" stroke-width="0.45"/>
<line x1="122.58" y1="724.43" x2="127.82" y2="724.43" stroke="#8c8c8c" stroke-width="0.45"/>
<line x1="122.58" y1="723.43" x2="122.58" y2="725.43" stroke="#8c8c8c" stroke-width="0.45"/>
<line x1="127.82" y1="723.43" x2="127.82" y2="725.43" stroke="#8c8c8c" stroke-width="0.45"/>
<line x1="116.30" y1="718.83" x2="132.85" y2="718.83" stroke="#8c8c8c" stroke-width="0.45"/>
<line x1="116.30" y1="717.83" x2="116.30" y2="719.83" stroke="#8c8c8c" stroke-width="0.45"/>
<line x1="132.85" y1="717.83" x2="132.85" y2="719.83" stroke="#8c8c8c" stroke-width="0.45"/>
<line x1="129.50" y1="721.04" x2="129.50" y2="714.53" stroke="#8c8c8c" stroke-width="0.45"/>
<line x1="128.50" y1="721.04" x2="130.50" y2="721.04" stroke="#8c8c8c" stroke-width="0.45"/>
<line x1="128.50" y1="714.53" x2="130.50" y2="714.53" stroke="#8c8c8c" stroke-width="0.45"/>
<line x1="138.71" y1="721.04" x2="138.71" y2="714.53" stroke="#8c8c8c" stroke-width="0.45"/>
<line x1="137.71" y1="721.04" x2="139.71" y2="721.04" stroke="#8c8c8c" stroke-width="0.45"/>
<line x1="137.71" y1="714.53" x2="139.71" y2="714.53" stroke="#8c8c8c" stroke-width="0.45"/>
<circle cx="53.45" cy="747.36" r="1.40" fill="#6c78c8"/>
<circle cx="52.57" cy="718.04" r="1.40" fill="#13a05c"/>
<circle cx="59.94" cy="727.17" r="1.40" fill="#8e2a8e"/>
<circle cx="64.76" cy="718.96" r="1.40" fill="#7fcbe0" stroke="#333" stroke-width="0.5"/>
<circle cx="77.12" cy="716.61" r="1.40" fill="#f7941d"/>
<circle cx="82.36" cy="717.13" r="1.40" fill="#111111"/>
<circle cx="84.45" cy="717.00" r="1.40" fill="#d35ec6"/>
<path d="M95.35 718.14L96.96 720.80L93.73 720.80Z" fill="#8b4a1c"/>
<path d="M100.59 714.23L102.20 716.89L98.97 716.89Z" fill="#f2d43a" stroke="#222" stroke-width="0.45"/>
<path d="M113.36 723.48L114.98 726.14L111.75 726.14Z" fill="#111111"/>
<path d="M125.31 722.83L126.92 725.49L123.69 725.49Z" fill="#9a9a9a"/>
<path d="M125.31 717.13L126.61 718.83L125.31 720.53L124.01 718.83Z" fill="#fff" stroke="#555" stroke-width="0.45"/>
<path d="M129.50 716.45L131.11 719.11L127.88 719.11Z" fill="#ffffff" stroke="#555" stroke-width="0.45"/>
<circle cx="138.71" cy="718.04" r="1.40" fill="#ffffff" stroke="#333" stroke-width="0.5"/>
<text transform="translate(30.10,759.40) rotate(-90)" y="2.24" text-anchor="middle">C•G-to-G•C editing purity (%)</text>
<text x="104.80" y="832.04" text-anchor="middle">C•G-to-G•C editing yield (%)</text>
<text x="111" y="704.6" text-anchor="middle"><tspan font-style="italic">KCNQ2</tspan> R541T</text>
<line x1="198.80" y1="811.40" x2="304.18" y2="811.40" stroke="#555" stroke-width="0.6"/>
<line x1="200.30" y1="707.40" x2="200.30" y2="811.40" stroke="#555" stroke-width="0.6"/>
<line x1="200.30" y1="811.40" x2="200.30" y2="813.40" stroke="#555" stroke-width="0.6"/>
<text x="200.30" y="821.94" text-anchor="middle">0</text>
<line x1="215.14" y1="811.40" x2="215.14" y2="813.40" stroke="#555" stroke-width="0.6"/>
<text x="215.14" y="821.94" text-anchor="middle">10</text>
<line x1="229.98" y1="811.40" x2="229.98" y2="813.40" stroke="#555" stroke-width="0.6"/>
<text x="229.98" y="821.94" text-anchor="middle">20</text>
<line x1="244.82" y1="811.40" x2="244.82" y2="813.40" stroke="#555" stroke-width="0.6"/>
<text x="244.82" y="821.94" text-anchor="middle">30</text>
<line x1="259.66" y1="811.40" x2="259.66" y2="813.40" stroke="#555" stroke-width="0.6"/>
<text x="259.66" y="821.94" text-anchor="middle">40</text>
<line x1="274.50" y1="811.40" x2="274.50" y2="813.40" stroke="#555" stroke-width="0.6"/>
<text x="274.50" y="821.94" text-anchor="middle">50</text>
<line x1="289.34" y1="811.40" x2="289.34" y2="813.40" stroke="#555" stroke-width="0.6"/>
<text x="289.34" y="821.94" text-anchor="middle">60</text>
<line x1="304.18" y1="811.40" x2="304.18" y2="813.40" stroke="#555" stroke-width="0.6"/>
<text x="304.18" y="821.94" text-anchor="middle">70</text>
<line x1="198.30" y1="811.40" x2="200.30" y2="811.40" stroke="#555" stroke-width="0.6"/>
<text x="196.50" y="813.64" text-anchor="end">0</text>
<line x1="198.30" y1="798.40" x2="200.30" y2="798.40" stroke="#555" stroke-width="0.6"/>
<text x="196.50" y="800.64" text-anchor="end">10</text>
<line x1="198.30" y1="785.40" x2="200.30" y2="785.40" stroke="#555" stroke-width="0.6"/>
<text x="196.50" y="787.64" text-anchor="end">20</text>
<line x1="198.30" y1="772.40" x2="200.30" y2="772.40" stroke="#555" stroke-width="0.6"/>
<text x="196.50" y="774.64" text-anchor="end">30</text>
<line x1="198.30" y1="759.40" x2="200.30" y2="759.40" stroke="#555" stroke-width="0.6"/>
<text x="196.50" y="761.64" text-anchor="end">40</text>
<line x1="198.30" y1="746.40" x2="200.30" y2="746.40" stroke="#555" stroke-width="0.6"/>
<text x="196.50" y="748.64" text-anchor="end">50</text>
<line x1="198.30" y1="733.40" x2="200.30" y2="733.40" stroke="#555" stroke-width="0.6"/>
<text x="196.50" y="735.64" text-anchor="end">60</text>
<line x1="198.30" y1="720.40" x2="200.30" y2="720.40" stroke="#555" stroke-width="0.6"/>
<text x="196.50" y="722.64" text-anchor="end">70</text>
<line x1="198.30" y1="707.40" x2="200.30" y2="707.40" stroke="#555" stroke-width="0.6"/>
<text x="196.50" y="709.64" text-anchor="end">80</text>
<line x1="206.38" y1="757.45" x2="206.38" y2="748.35" stroke="#8c8c8c" stroke-width="0.45"/>
<line x1="205.38" y1="757.45" x2="207.38" y2="757.45" stroke="#8c8c8c" stroke-width="0.45"/>
<line x1="205.38" y1="748.35" x2="207.38" y2="748.35" stroke="#8c8c8c" stroke-width="0.45"/>
<line x1="209.65" y1="744.45" x2="209.65" y2="740.16" stroke="#8c8c8c" stroke-width="0.45"/>
<line x1="208.65" y1="744.45" x2="210.65" y2="744.45" stroke="#8c8c8c" stroke-width="0.45"/>
<line x1="208.65" y1="740.16" x2="210.65" y2="740.16" stroke="#8c8c8c" stroke-width="0.45"/>
<line x1="206.53" y1="786.05" x2="206.53" y2="779.55" stroke="#8c8c8c" stroke-width="0.45"/>
<line x1="205.53" y1="786.05" x2="207.53" y2="786.05" stroke="#8c8c8c" stroke-width="0.45"/>
<line x1="205.53" y1="779.55" x2="207.53" y2="779.55" stroke="#8c8c8c" stroke-width="0.45"/>
<line x1="221.97" y1="760.05" x2="221.97" y2="754.20" stroke="#8c8c8c" stroke-width="0.45"/>
<line x1="220.97" y1="760.05" x2="222.97" y2="760.05" stroke="#8c8c8c" stroke-width="0.45"/>
<line x1="220.97" y1="754.20" x2="222.97" y2="754.20" stroke="#8c8c8c" stroke-width="0.45"/>
<line x1="255.95" y1="721.18" x2="261.14" y2="721.18" stroke="#8c8c8c" stroke-width="0.45"/>
<line x1="255.95" y1="720.18" x2="255.95" y2="722.18" stroke="#8c8c8c" stroke-width="0.45"/>
<line x1="261.14" y1="720.18" x2="261.14" y2="722.18" stroke="#8c8c8c" stroke-width="0.45"/>
<line x1="265.60" y1="717.54" x2="273.02" y2="717.54" stroke="#8c8c8c" stroke-width="0.45"/>
<line x1="265.60" y1="716.54" x2="265.60" y2="718.54" stroke="#8c8c8c" stroke-width="0.45"/>
<line x1="273.02" y1="716.54" x2="273.02" y2="718.54" stroke="#8c8c8c" stroke-width="0.45"/>
<line x1="275.39" y1="726.25" x2="275.39" y2="721.05" stroke="#8c8c8c" stroke-width="0.45"/>
<line x1="274.39" y1="726.25" x2="276.39" y2="726.25" stroke="#8c8c8c" stroke-width="0.45"/>
<line x1="274.39" y1="721.05" x2="276.39" y2="721.05" stroke="#8c8c8c" stroke-width="0.45"/>
<circle cx="202.82" cy="736.65" r="1.40" fill="#13a05c"/>
<circle cx="206.38" cy="752.64" r="1.40" fill="#8e2a8e"/>
<circle cx="209.65" cy="742.37" r="1.40" fill="#7fcbe0" stroke="#333" stroke-width="0.5"/>
<path d="M206.53 780.94L208.15 783.60L204.92 783.60Z" fill="#111111"/>
<path d="M206.53 781.72L208.15 784.38L204.92 784.38Z" fill="#8b4a1c"/>
<circle cx="221.97" cy="757.06" r="1.40" fill="#ffffff" stroke="#333" stroke-width="0.5"/>
<path d="M227.01 719.58L228.63 722.24L225.40 722.24Z" fill="#f2d43a" stroke="#222" stroke-width="0.45"/>
<circle cx="233.24" cy="719.88" r="1.40" fill="#6c78c8"/>
<circle cx="258.32" cy="721.18" r="1.40" fill="#f7941d"/>
<circle cx="269.16" cy="717.54" r="1.40" fill="#111111"/>
<path d="M275.39 722.05L277.01 724.71L273.77 724.71Z" fill="#111111"/>
<path d="M275.39 723.22L277.01 725.88L273.77 725.88Z" fill="#9a9a9a"/>
<circle cx="283.85" cy="714.94" r="1.40" fill="#d35ec6"/>
<path d="M286.97 714.54L288.27 716.24L286.97 717.94L285.67 716.24Z" fill="#fff" stroke="#555" stroke-width="0.45"/>
<path d="M285.63 717.24L287.25 719.90L284.01 719.90Z" fill="#ffffff" stroke="#555" stroke-width="0.45"/>
<circle cx="295.87" cy="713.77" r="1.40" fill="#9a9a9a"/>
<text transform="translate(179.00,759.40) rotate(-90)" y="2.24" text-anchor="middle">C•G-to-G•C editing purity (%)</text>
<text x="251.90" y="832.04" text-anchor="middle">C•G-to-G•C editing yield (%)</text>
<text x="251.9" y="705.1" text-anchor="middle"><tspan font-style="italic">CTNNB1</tspan> c.2138 -1 G&gt;C</text>
<line x1="340.00" y1="811.40" x2="445.70" y2="811.40" stroke="#555" stroke-width="0.6"/>
<line x1="341.50" y1="707.40" x2="341.50" y2="811.40" stroke="#555" stroke-width="0.6"/>
<line x1="341.50" y1="811.40" x2="341.50" y2="813.40" stroke="#555" stroke-width="0.6"/>
<text x="341.50" y="821.94" text-anchor="middle">0</text>
<line x1="367.55" y1="811.40" x2="367.55" y2="813.40" stroke="#555" stroke-width="0.6"/>
<text x="367.55" y="821.94" text-anchor="middle">10</text>
<line x1="393.60" y1="811.40" x2="393.60" y2="813.40" stroke="#555" stroke-width="0.6"/>
<text x="393.60" y="821.94" text-anchor="middle">20</text>
<line x1="419.65" y1="811.40" x2="419.65" y2="813.40" stroke="#555" stroke-width="0.6"/>
<text x="419.65" y="821.94" text-anchor="middle">30</text>
<line x1="445.70" y1="811.40" x2="445.70" y2="813.40" stroke="#555" stroke-width="0.6"/>
<text x="445.70" y="821.94" text-anchor="middle">40</text>
<line x1="339.50" y1="811.40" x2="341.50" y2="811.40" stroke="#555" stroke-width="0.6"/>
<text x="337.70" y="813.64" text-anchor="end">0</text>
<line x1="339.50" y1="790.60" x2="341.50" y2="790.60" stroke="#555" stroke-width="0.6"/>
<text x="337.70" y="792.84" text-anchor="end">10</text>
<line x1="339.50" y1="769.80" x2="341.50" y2="769.80" stroke="#555" stroke-width="0.6"/>
<text x="337.70" y="772.04" text-anchor="end">20</text>
<line x1="339.50" y1="749.00" x2="341.50" y2="749.00" stroke="#555" stroke-width="0.6"/>
<text x="337.70" y="751.24" text-anchor="end">30</text>
<line x1="339.50" y1="728.20" x2="341.50" y2="728.20" stroke="#555" stroke-width="0.6"/>
<text x="337.70" y="730.44" text-anchor="end">40</text>
<line x1="339.50" y1="707.40" x2="341.50" y2="707.40" stroke="#555" stroke-width="0.6"/>
<text x="337.70" y="709.64" text-anchor="end">50</text>
<line x1="363.12" y1="730.90" x2="363.12" y2="714.26" stroke="#8c8c8c" stroke-width="0.45"/>
<line x1="362.12" y1="730.90" x2="364.12" y2="730.90" stroke="#8c8c8c" stroke-width="0.45"/>
<line x1="362.12" y1="714.26" x2="364.12" y2="714.26" stroke="#8c8c8c" stroke-width="0.45"/>
<line x1="382.40" y1="770.84" x2="382.40" y2="763.56" stroke="#8c8c8c" stroke-width="0.45"/>
<line x1="381.40" y1="770.84" x2="383.40" y2="770.84" stroke="#8c8c8c" stroke-width="0.45"/>
<line x1="381.40" y1="763.56" x2="383.40" y2="763.56" stroke="#8c8c8c" stroke-width="0.45"/>
<line x1="380.57" y1="767.10" x2="384.48" y2="767.10" stroke="#8c8c8c" stroke-width="0.45"/>
<line x1="380.57" y1="766.10" x2="380.57" y2="768.10" stroke="#8c8c8c" stroke-width="0.45"/>
<line x1="384.48" y1="766.10" x2="384.48" y2="768.10" stroke="#8c8c8c" stroke-width="0.45"/>
<line x1="393.60" y1="727.37" x2="400.63" y2="727.37" stroke="#8c8c8c" stroke-width="0.45"/>
<line x1="393.60" y1="726.37" x2="393.60" y2="728.37" stroke="#8c8c8c" stroke-width="0.45"/>
<line x1="400.63" y1="726.37" x2="400.63" y2="728.37" stroke="#8c8c8c" stroke-width="0.45"/>
<line x1="404.54" y1="742.76" x2="404.54" y2="735.06" stroke="#8c8c8c" stroke-width="0.45"/>
<line x1="403.54" y1="742.76" x2="405.54" y2="742.76" stroke="#8c8c8c" stroke-width="0.45"/>
<line x1="403.54" y1="735.06" x2="405.54" y2="735.06" stroke="#8c8c8c" stroke-width="0.45"/>
<line x1="400.11" y1="739.22" x2="409.23" y2="739.22" stroke="#8c8c8c" stroke-width="0.45"/>
<line x1="400.11" y1="738.22" x2="400.11" y2="740.22" stroke="#8c8c8c" stroke-width="0.45"/>
<line x1="409.23" y1="738.22" x2="409.23" y2="740.22" stroke="#8c8c8c" stroke-width="0.45"/>
<line x1="413.92" y1="721.96" x2="413.92" y2="715.72" stroke="#8c8c8c" stroke-width="0.45"/>
<line x1="412.92" y1="721.96" x2="414.92" y2="721.96" stroke="#8c8c8c" stroke-width="0.45"/>
<line x1="412.92" y1="715.72" x2="414.92" y2="715.72" stroke="#8c8c8c" stroke-width="0.45"/>
<line x1="412.36" y1="728.20" x2="412.36" y2="718.84" stroke="#8c8c8c" stroke-width="0.45"/>
<line x1="411.36" y1="728.20" x2="413.36" y2="728.20" stroke="#8c8c8c" stroke-width="0.45"/>
<line x1="411.36" y1="718.84" x2="413.36" y2="718.84" stroke="#8c8c8c" stroke-width="0.45"/>
<line x1="418.35" y1="715.51" x2="433.98" y2="715.51" stroke="#8c8c8c" stroke-width="0.45"/>
<line x1="418.35" y1="714.51" x2="418.35" y2="716.51" stroke="#8c8c8c" stroke-width="0.45"/>
<line x1="433.98" y1="714.51" x2="433.98" y2="716.51" stroke="#8c8c8c" stroke-width="0.45"/>
<line x1="427.73" y1="723.00" x2="427.73" y2="717.38" stroke="#8c8c8c" stroke-width="0.45"/>
<line x1="426.73" y1="723.00" x2="428.73" y2="723.00" stroke="#8c8c8c" stroke-width="0.45"/>
<line x1="426.73" y1="717.38" x2="428.73" y2="717.38" stroke="#8c8c8c" stroke-width="0.45"/>
<line x1="423.56" y1="720.09" x2="432.68" y2="720.09" stroke="#8c8c8c" stroke-width="0.45"/>
<line x1="423.56" y1="719.09" x2="423.56" y2="721.09" stroke="#8c8c8c" stroke-width="0.45"/>
<line x1="432.68" y1="719.09" x2="432.68" y2="721.09" stroke="#8c8c8c" stroke-width="0.45"/>
<line x1="414.44" y1="726.33" x2="424.86" y2="726.33" stroke="#8c8c8c" stroke-width="0.45"/>
<line x1="414.44" y1="725.33" x2="414.44" y2="727.33" stroke="#8c8c8c" stroke-width="0.45"/>
<line x1="424.86" y1="725.33" x2="424.86" y2="727.33" stroke="#8c8c8c" stroke-width="0.45"/>
<circle cx="363.12" cy="722.58" r="1.40" fill="#13a05c"/>
<path d="M376.41 770.70L378.02 773.36L374.79 773.36Z" fill="#111111"/>
<path d="M382.40 765.50L384.02 768.16L380.78 768.16Z" fill="#ffffff" stroke="#555" stroke-width="0.45"/>
<circle cx="394.38" cy="716.76" r="1.40" fill="#7fcbe0" stroke="#333" stroke-width="0.5"/>
<circle cx="396.99" cy="727.37" r="1.40" fill="#6c78c8"/>
<circle cx="404.54" cy="739.22" r="1.40" fill="#ffffff" stroke="#333" stroke-width="0.5"/>
<path d="M404.80 727.23L406.42 729.89L403.18 729.89Z" fill="#f2d43a" stroke="#222" stroke-width="0.45"/>
<circle cx="413.92" cy="718.84" r="1.40" fill="#f7941d"/>
<circle cx="412.36" cy="723.21" r="1.40" fill="#8e2a8e"/>
<path d="M416.52 723.69L418.14 726.35L414.91 726.35Z" fill="#8b4a1c"/>
<circle cx="418.35" cy="722.38" r="1.40" fill="#d35ec6"/>
<circle cx="425.90" cy="715.51" r="1.40" fill="#111111"/>
<circle cx="427.73" cy="720.09" r="1.40" fill="#ffffff" stroke="#333" stroke-width="0.5"/>
<path d="M420.69 724.63L421.99 726.33L420.69 728.03L419.39 726.33Z" fill="#fff" stroke="#555" stroke-width="0.45"/>
<text transform="translate(320.90,759.40) rotate(-90)" y="2.24" text-anchor="middle">C•G-to-G•C editing purity (%)</text>
<text x="393.90" y="832.04" text-anchor="middle">C•G-to-G•C editing yield (%)</text>
<text x="393.9" y="705.1" text-anchor="middle"><tspan font-style="italic">DIS3L2</tspan> c.2011 -1 G&gt;C</text>
<line x1="479.60" y1="811.40" x2="585.80" y2="811.40" stroke="#555" stroke-width="0.6"/>
<line x1="481.10" y1="707.36" x2="481.10" y2="811.40" stroke="#555" stroke-width="0.6"/>
<line x1="481.10" y1="811.40" x2="481.10" y2="813.40" stroke="#555" stroke-width="0.6"/>
<text x="481.10" y="821.94" text-anchor="middle">0</text>
<line x1="502.04" y1="811.40" x2="502.04" y2="813.40" stroke="#555" stroke-width="0.6"/>
<text x="502.04" y="821.94" text-anchor="middle">10</text>
<line x1="522.98" y1="811.40" x2="522.98" y2="813.40" stroke="#555" stroke-width="0.6"/>
<text x="522.98" y="821.94" text-anchor="middle">20</text>
<line x1="543.92" y1="811.40" x2="543.92" y2="813.40" stroke="#555" stroke-width="0.6"/>
<text x="543.92" y="821.94" text-anchor="middle">30</text>
<line x1="564.86" y1="811.40" x2="564.86" y2="813.40" stroke="#555" stroke-width="0.6"/>
<text x="564.86" y="821.94" text-anchor="middle">40</text>
<line x1="585.80" y1="811.40" x2="585.80" y2="813.40" stroke="#555" stroke-width="0.6"/>
<text x="585.80" y="821.94" text-anchor="middle">50</text>
<line x1="479.10" y1="811.40" x2="481.10" y2="811.40" stroke="#555" stroke-width="0.6"/>
<text x="477.30" y="813.64" text-anchor="end">0</text>
<line x1="479.10" y1="799.84" x2="481.10" y2="799.84" stroke="#555" stroke-width="0.6"/>
<text x="477.30" y="802.08" text-anchor="end">10</text>
<line x1="479.10" y1="788.28" x2="481.10" y2="788.28" stroke="#555" stroke-width="0.6"/>
<text x="477.30" y="790.52" text-anchor="end">20</text>
<line x1="479.10" y1="776.72" x2="481.10" y2="776.72" stroke="#555" stroke-width="0.6"/>
<text x="477.30" y="778.96" text-anchor="end">30</text>
<line x1="479.10" y1="765.16" x2="481.10" y2="765.16" stroke="#555" stroke-width="0.6"/>
<text x="477.30" y="767.40" text-anchor="end">40</text>
<line x1="479.10" y1="753.60" x2="481.10" y2="753.60" stroke="#555" stroke-width="0.6"/>
<text x="477.30" y="755.84" text-anchor="end">50</text>
<line x1="479.10" y1="742.04" x2="481.10" y2="742.04" stroke="#555" stroke-width="0.6"/>
<text x="477.30" y="744.28" text-anchor="end">60</text>
<line x1="479.10" y1="730.48" x2="481.10" y2="730.48" stroke="#555" stroke-width="0.6"/>
<text x="477.30" y="732.72" text-anchor="end">70</text>
<line x1="479.10" y1="718.92" x2="481.10" y2="718.92" stroke="#555" stroke-width="0.6"/>
<text x="477.30" y="721.16" text-anchor="end">80</text>
<line x1="479.10" y1="707.36" x2="481.10" y2="707.36" stroke="#555" stroke-width="0.6"/>
<text x="477.30" y="709.60" text-anchor="end">90</text>
<line x1="491.57" y1="745.51" x2="497.43" y2="745.51" stroke="#8c8c8c" stroke-width="0.45"/>
<line x1="491.57" y1="744.51" x2="491.57" y2="746.51" stroke="#8c8c8c" stroke-width="0.45"/>
<line x1="497.43" y1="744.51" x2="497.43" y2="746.51" stroke="#8c8c8c" stroke-width="0.45"/>
<line x1="483.19" y1="761.35" x2="535.54" y2="761.35" stroke="#8c8c8c" stroke-width="0.45"/>
<line x1="483.19" y1="760.35" x2="483.19" y2="762.35" stroke="#8c8c8c" stroke-width="0.45"/>
<line x1="535.54" y1="760.35" x2="535.54" y2="762.35" stroke="#8c8c8c" stroke-width="0.45"/>
<line x1="509.37" y1="786.55" x2="509.37" y2="739.03" stroke="#8c8c8c" stroke-width="0.45"/>
<line x1="508.37" y1="786.55" x2="510.37" y2="786.55" stroke="#8c8c8c" stroke-width="0.45"/>
<line x1="508.37" y1="739.03" x2="510.37" y2="739.03" stroke="#8c8c8c" stroke-width="0.45"/>
<line x1="524.03" y1="762.27" x2="524.03" y2="755.91" stroke="#8c8c8c" stroke-width="0.45"/>
<line x1="523.03" y1="762.27" x2="525.03" y2="762.27" stroke="#8c8c8c" stroke-width="0.45"/>
<line x1="523.03" y1="755.91" x2="525.03" y2="755.91" stroke="#8c8c8c" stroke-width="0.45"/>
<line x1="520.05" y1="759.26" x2="528.42" y2="759.26" stroke="#8c8c8c" stroke-width="0.45"/>
<line x1="520.05" y1="758.26" x2="520.05" y2="760.26" stroke="#8c8c8c" stroke-width="0.45"/>
<line x1="528.42" y1="758.26" x2="528.42" y2="760.26" stroke="#8c8c8c" stroke-width="0.45"/>
<line x1="519.84" y1="767.24" x2="528.22" y2="767.24" stroke="#8c8c8c" stroke-width="0.45"/>
<line x1="519.84" y1="766.24" x2="519.84" y2="768.24" stroke="#8c8c8c" stroke-width="0.45"/>
<line x1="528.22" y1="766.24" x2="528.22" y2="768.24" stroke="#8c8c8c" stroke-width="0.45"/>
<line x1="523.61" y1="775.56" x2="523.61" y2="766.32" stroke="#8c8c8c" stroke-width="0.45"/>
<line x1="522.61" y1="775.56" x2="524.61" y2="775.56" stroke="#8c8c8c" stroke-width="0.45"/>
<line x1="522.61" y1="766.32" x2="524.61" y2="766.32" stroke="#8c8c8c" stroke-width="0.45"/>
<line x1="506.02" y1="796.37" x2="506.02" y2="764.00" stroke="#8c8c8c" stroke-width="0.45"/>
<line x1="505.02" y1="796.37" x2="507.02" y2="796.37" stroke="#8c8c8c" stroke-width="0.45"/>
<line x1="505.02" y1="764.00" x2="507.02" y2="764.00" stroke="#8c8c8c" stroke-width="0.45"/>
<line x1="493.25" y1="779.96" x2="519.21" y2="779.96" stroke="#8c8c8c" stroke-width="0.45"/>
<line x1="493.25" y1="778.96" x2="493.25" y2="780.96" stroke="#8c8c8c" stroke-width="0.45"/>
<line x1="519.21" y1="778.96" x2="519.21" y2="780.96" stroke="#8c8c8c" stroke-width="0.45"/>
<line x1="497.22" y1="794.64" x2="497.22" y2="785.97" stroke="#8c8c8c" stroke-width="0.45"/>
<line x1="496.22" y1="794.64" x2="498.22" y2="794.64" stroke="#8c8c8c" stroke-width="0.45"/>
<line x1="496.22" y1="785.97" x2="498.22" y2="785.97" stroke="#8c8c8c" stroke-width="0.45"/>
<line x1="550.62" y1="719.38" x2="561.72" y2="719.38" stroke="#8c8c8c" stroke-width="0.45"/>
<line x1="550.62" y1="718.38" x2="550.62" y2="720.38" stroke="#8c8c8c" stroke-width="0.45"/>
<line x1="561.72" y1="718.38" x2="561.72" y2="720.38" stroke="#8c8c8c" stroke-width="0.45"/>
<line x1="554.39" y1="719.38" x2="565.91" y2="719.38" stroke="#8c8c8c" stroke-width="0.45"/>
<line x1="554.39" y1="718.38" x2="554.39" y2="720.38" stroke="#8c8c8c" stroke-width="0.45"/>
<line x1="565.91" y1="718.38" x2="565.91" y2="720.38" stroke="#8c8c8c" stroke-width="0.45"/>
<line x1="548.11" y1="724.93" x2="555.44" y2="724.93" stroke="#8c8c8c" stroke-width="0.45"/>
<line x1="548.11" y1="723.93" x2="548.11" y2="725.93" stroke="#8c8c8c" stroke-width="0.45"/>
<line x1="555.44" y1="723.93" x2="555.44" y2="725.93" stroke="#8c8c8c" stroke-width="0.45"/>
<line x1="555.02" y1="726.32" x2="564.86" y2="726.32" stroke="#8c8c8c" stroke-width="0.45"/>
<line x1="555.02" y1="725.32" x2="555.02" y2="727.32" stroke="#8c8c8c" stroke-width="0.45"/>
<line x1="564.86" y1="725.32" x2="564.86" y2="727.32" stroke="#8c8c8c" stroke-width="0.45"/>
<circle cx="494.50" cy="745.51" r="1.40" fill="#13a05c"/>
<circle cx="500.99" cy="761.35" r="1.40" fill="#7fcbe0" stroke="#333" stroke-width="0.5"/>
<path d="M509.37 761.95L510.99 764.61L507.75 764.61Z" fill="#f2d43a" stroke="#222" stroke-width="0.45"/>
<circle cx="524.03" cy="759.26" r="1.40" fill="#f7941d"/>
<circle cx="524.03" cy="767.24" r="1.40" fill="#d35ec6"/>
<circle cx="523.61" cy="769.67" r="1.40" fill="#ffffff" stroke="#333" stroke-width="0.5"/>
<path d="M506.02 778.36L507.64 781.02L504.40 781.02Z" fill="#9a9a9a"/>
<path d="M508.74 777.55L510.36 780.21L507.12 780.21Z" fill="#ffffff" stroke="#555" stroke-width="0.45"/>
<path d="M497.22 788.53L498.84 791.19L495.61 791.19Z" fill="#111111"/>
<circle cx="544.34" cy="745.62" r="1.40" fill="#111111"/>
<path d="M549.57 741.38L550.87 743.08L549.57 744.78L548.27 743.08Z" fill="#fff" stroke="#555" stroke-width="0.45"/>
<circle cx="553.34" cy="719.38" r="1.40" fill="#6c78c8"/>
<circle cx="559.21" cy="719.38" r="1.40" fill="#8e2a8e"/>
<path d="M549.99 723.34L551.61 726.00L548.38 726.00Z" fill="#8b4a1c"/>
<path d="M558.58 724.72L560.19 727.38L556.96 727.38Z" fill="#ffffff" stroke="#555" stroke-width="0.45"/>
<text transform="translate(460.60,759.40) rotate(-90)" y="2.24" text-anchor="middle">C•G-to-G•C editing purity (%)</text>
<text x="533.00" y="832.04" text-anchor="middle">C•G-to-G•C editing yield (%)</text>
<text x="535.5" y="705.1" text-anchor="middle"><tspan font-style="italic">KCNQ2</tspan> c.1764 -1 G&gt;C</text>
<text x="535.50" y="712.64" text-anchor="middle">with CGBE-NGs</text>
<circle cx="55.60" cy="841.30" r="1.25" fill="#111111"/>
<text x="59.90" y="843.54">UdgX–Anc689–UdgX–nCas9–RBMX</text>
<circle cx="55.60" cy="849.90" r="1.25" fill="#13a05c"/>
<text x="59.90" y="852.14">UdgX–EE–UdgX–nCas9–UdgX</text>
<circle cx="55.60" cy="858.50" r="1.25" fill="#7fcbe0" stroke="#333" stroke-width="0.5"/>
<text x="59.90" y="860.74">UdgX–EE–UdgX–nCas9</text>
<circle cx="208.70" cy="841.30" r="1.25" fill="#f7941d"/>
<text x="212.90" y="843.54">POLD2–AXC–UdgX</text>
<circle cx="208.70" cy="849.90" r="1.25" fill="#d35ec6"/>
<text x="212.90" y="852.14">UdgX–AXC–RBMX</text>
<circle cx="208.70" cy="858.50" r="1.25" fill="#ffffff" stroke="#333" stroke-width="0.5"/>
<text x="212.90" y="860.74">UdgX–AXC</text>
<circle cx="289.80" cy="841.30" r="1.25" fill="#9a9a9a"/>
<text x="294.30" y="843.54">UdgX–APOBEC1–UdgX–HF-nCas9</text>
<circle cx="289.80" cy="849.90" r="1.25" fill="#8e2a8e"/>
<text x="294.30" y="852.14">RBMX–eA3A–UdgX–nCas9</text>
<circle cx="289.80" cy="858.50" r="1.25" fill="#6c78c8"/>
<text x="294.30" y="860.74">RBMX–eA3A–UdgX–HF-nCas9</text>
<path d="M414.10 839.60L415.40 841.30L414.10 843.00L412.80 841.30Z" fill="#fff" stroke="#555" stroke-width="0.45"/>
<text x="419.00" y="843.54">AXC</text>
<path d="M414.10 848.65L415.37 850.74L412.83 850.74Z" fill="#111111"/>
<text x="419.00" y="852.14">APOBEC1–nCas9 (BE4B)</text>
<path d="M414.10 857.25L415.37 859.34L412.83 859.34Z" fill="#f2d43a" stroke="#222" stroke-width="0.45"/>
<text x="419.00" y="860.74">EE–nCas9</text>
<path d="M518.70 840.05L519.97 842.14L517.43 842.14Z" fill="#9a9a9a"/>
<text x="523.70" y="843.54">Anc689–nCas9</text>
<path d="M518.70 848.65L519.97 850.74L517.43 850.74Z" fill="#ffffff" stroke="#555" stroke-width="0.45"/>
<text x="523.70" y="852.14">eA3A–nCas9</text>
<path d="M518.70 857.25L519.97 859.34L517.43 859.34Z" fill="#8b4a1c"/>
<text x="523.70" y="860.74">eA3A T31A–nCas9</text>
</g>
</svg></body></html>
